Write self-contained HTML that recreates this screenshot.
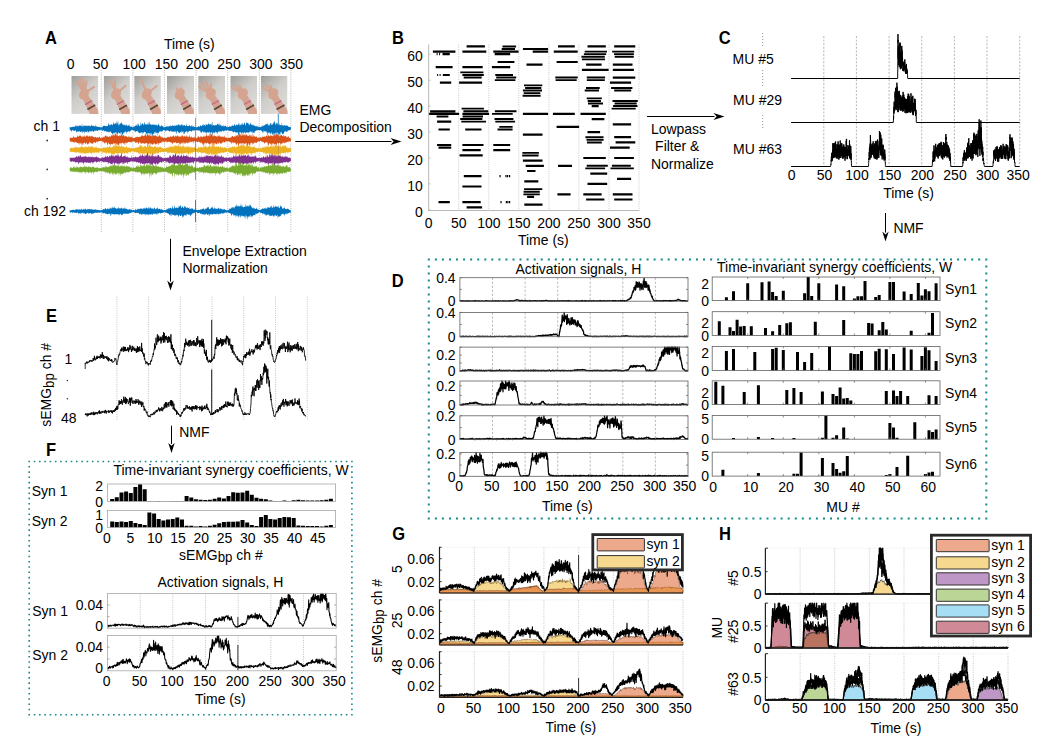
<!DOCTYPE html>
<html><head><meta charset="utf-8"><style>
html,body{margin:0;padding:0;background:#fff;overflow:hidden}
svg{display:block;font-family:"Liberation Sans", sans-serif}
</style></head><body>
<svg width="1050" height="747" viewBox="0 0 1050 747" font-family="Liberation Sans, sans-serif">
<rect width="1050" height="747" fill="#fff"/>
<text transform="translate(45 43.6) scale(0.9174 1)" font-size="17.99" font-weight="bold">A</text>
<text transform="translate(164 48.5) scale(0.9495 1)" font-size="14.72">Time (s)</text>
<text transform="translate(70.6 68.5) scale(0.9495 1)" font-size="14.72" text-anchor="middle">0</text>
<text transform="translate(100.4 68.5) scale(0.9495 1)" font-size="14.72" text-anchor="middle">50</text>
<text transform="translate(134.2 68.5) scale(0.9495 1)" font-size="14.72" text-anchor="middle">100</text>
<text transform="translate(166.3 68.5) scale(0.9495 1)" font-size="14.72" text-anchor="middle">150</text>
<text transform="translate(197.3 68.5) scale(0.9495 1)" font-size="14.72" text-anchor="middle">200</text>
<text transform="translate(229 68.5) scale(0.9495 1)" font-size="14.72" text-anchor="middle">250</text>
<text transform="translate(260.8 68.5) scale(0.9495 1)" font-size="14.72" text-anchor="middle">300</text>
<text transform="translate(291.4 68.5) scale(0.9495 1)" font-size="14.72" text-anchor="middle">350</text>
<defs><linearGradient id="pg" x1="0" y1="0" x2="0.7" y2="1"><stop offset="0" stop-color="#9f9d9a"/><stop offset="0.5" stop-color="#cfcdca"/><stop offset="1" stop-color="#dedcd9"/></linearGradient></defs>
<clipPath id="pc0"><rect x="71.3" y="76" width="27" height="37.9"/></clipPath><g clip-path="url(#pc0)">
<rect x="71.3" y="76" width="27" height="37.9" fill="url(#pg)"/>
<path d="M82.6 98.4l9.2 20 8.7-5-12.4-18.1z" fill="#d4a491"/>
<ellipse cx="84" cy="93.8" rx="6" ry="4.6" fill="#d4a491" transform="rotate(-55 84 93.8)"/>
<path d="M82.6 91.2L77.3 81.2M83.2 90.9L80 78.9M83.9 90.8L83.5 79.5M84.6 90.9L86.6 81.4M86.4 92.1L94 86.8" stroke="#d4a491" stroke-width="2.1" stroke-linecap="round" fill="none"/>
<line x1="85.1" y1="104.6" x2="92.1" y2="100.6" stroke="#c5688c" stroke-width="1.3"/>
<line x1="87.4" y1="109.5" x2="95.2" y2="105.1" stroke="#5a463e" stroke-width="1.7"/>
</g>
<clipPath id="pc1"><rect x="103.7" y="76" width="26.2" height="37.9"/></clipPath><g clip-path="url(#pc1)">
<rect x="103.7" y="76" width="26.2" height="37.9" fill="url(#pg)"/>
<path d="M114.5 98.4l8.9 19.9 8.8-4.8-12.1-18.2z" fill="#d4a491"/>
<ellipse cx="116" cy="93.8" rx="6" ry="4.6" fill="#d4a491" transform="rotate(-55 116 93.8)"/>
<path d="M114.9 91L110.8 80.8M115.7 90.8L114.5 79.4M118.3 91.9L125.5 85.8" stroke="#d4a491" stroke-width="2.1" stroke-linecap="round" fill="none"/>
<line x1="116.9" y1="104.5" x2="124" y2="100.6" stroke="#c5688c" stroke-width="1.3"/>
<line x1="119.2" y1="109.5" x2="127" y2="105.2" stroke="#5a463e" stroke-width="1.7"/>
</g>
<clipPath id="pc2"><rect x="134.2" y="76" width="26.7" height="37.9"/></clipPath><g clip-path="url(#pc2)">
<rect x="134.2" y="76" width="26.7" height="37.9" fill="url(#pg)"/>
<path d="M145.3 98.4l9.1 19.9 8.7-4.8-12.2-18.2z" fill="#d4a491"/>
<ellipse cx="146.7" cy="93.8" rx="6" ry="4.6" fill="#d4a491" transform="rotate(-55 146.7 93.8)"/>
<path d="M145.7 91L141.5 79.5M149.1 92L156.7 86" stroke="#d4a491" stroke-width="2.1" stroke-linecap="round" fill="none"/>
<line x1="147.8" y1="104.5" x2="154.8" y2="100.6" stroke="#c5688c" stroke-width="1.3"/>
<line x1="150" y1="109.5" x2="157.9" y2="105.1" stroke="#5a463e" stroke-width="1.7"/>
</g>
<clipPath id="pc3"><rect x="167" y="76" width="27" height="37.9"/></clipPath><g clip-path="url(#pc3)">
<rect x="167" y="76" width="27" height="37.9" fill="url(#pg)"/>
<path d="M178.3 98.4l9.2 20 8.7-5-12.4-18.1z" fill="#d4a491"/>
<ellipse cx="179.7" cy="93.8" rx="6" ry="4.6" fill="#d4a491" transform="rotate(-55 179.7 93.8)"/>
<path d="M178.2 91.2L176.6 88.4M180.2 90.9L180.7 88.2" stroke="#d4a491" stroke-width="2.1" stroke-linecap="round" fill="none"/>
<line x1="180.8" y1="104.6" x2="187.8" y2="100.6" stroke="#c5688c" stroke-width="1.3"/>
<line x1="183.1" y1="109.5" x2="190.9" y2="105.1" stroke="#5a463e" stroke-width="1.7"/>
</g>
<clipPath id="pc4"><rect x="198.2" y="76" width="26.8" height="37.9"/></clipPath><g clip-path="url(#pc4)">
<rect x="198.2" y="76" width="26.8" height="37.9" fill="url(#pg)"/>
<path d="M209.3 98.4l9.2 20 8.7-5-12.3-18.1z" fill="#d4a491"/>
<ellipse cx="210.8" cy="93.8" rx="6" ry="4.6" fill="#d4a491" transform="rotate(-55 210.8 93.8)"/>
<path d="M208.2 92.3L198.4 86.7M208.8 91.6L200.9 82.8M209.7 91L206.1 82.1M210.8 90.8L210.8 84.1" stroke="#d4a491" stroke-width="2.1" stroke-linecap="round" fill="none"/>
<line x1="211.8" y1="104.5" x2="218.9" y2="100.6" stroke="#c5688c" stroke-width="1.3"/>
<line x1="214.1" y1="109.5" x2="221.9" y2="105.1" stroke="#5a463e" stroke-width="1.7"/>
</g>
<clipPath id="pc5"><rect x="230.3" y="76" width="26.7" height="37.9"/></clipPath><g clip-path="url(#pc5)">
<rect x="230.3" y="76" width="26.7" height="37.9" fill="url(#pg)"/>
<path d="M241.4 98.4l9.1 19.9 8.7-4.8-12.2-18.2z" fill="#d4a491"/>
<ellipse cx="242.8" cy="93.8" rx="6" ry="4.6" fill="#d4a491" transform="rotate(-55 242.8 93.8)"/>
<path d="M240.3 92.3L231.9 87.5M240.9 91.5L235.4 85M241.8 91L239.8 85.5" stroke="#d4a491" stroke-width="2.1" stroke-linecap="round" fill="none"/>
<line x1="243.9" y1="104.5" x2="250.9" y2="100.6" stroke="#c5688c" stroke-width="1.3"/>
<line x1="246.1" y1="109.5" x2="254" y2="105.1" stroke="#5a463e" stroke-width="1.7"/>
</g>
<clipPath id="pc6"><rect x="260.8" y="76" width="26.7" height="37.9"/></clipPath><g clip-path="url(#pc6)">
<rect x="260.8" y="76" width="26.7" height="37.9" fill="url(#pg)"/>
<path d="M271.9 98.4l9.1 19.9 8.7-4.8-12.2-18.2z" fill="#d4a491"/>
<ellipse cx="273.3" cy="93.8" rx="6" ry="4.6" fill="#d4a491" transform="rotate(-55 273.3 93.8)"/>
<path d="M270.8 92.3L262.9 87.8M271.5 91.4L266.6 85.1M272.4 91L270.8 85.9" stroke="#d4a491" stroke-width="2.1" stroke-linecap="round" fill="none"/>
<line x1="274.4" y1="104.5" x2="281.4" y2="100.6" stroke="#c5688c" stroke-width="1.3"/>
<line x1="276.6" y1="109.5" x2="284.5" y2="105.1" stroke="#5a463e" stroke-width="1.7"/>
</g>
<line x1="101.3" y1="70" x2="101.3" y2="232" stroke="#9a9a9a" stroke-width="0.7" stroke-dasharray="1,1.3"/>
<line x1="132.9" y1="70" x2="132.9" y2="232" stroke="#9a9a9a" stroke-width="0.7" stroke-dasharray="1,1.3"/>
<line x1="164.5" y1="70" x2="164.5" y2="232" stroke="#9a9a9a" stroke-width="0.7" stroke-dasharray="1,1.3"/>
<line x1="196.1" y1="70" x2="196.1" y2="232" stroke="#9a9a9a" stroke-width="0.7" stroke-dasharray="1,1.3"/>
<line x1="227.7" y1="70" x2="227.7" y2="232" stroke="#9a9a9a" stroke-width="0.7" stroke-dasharray="1,1.3"/>
<line x1="259.3" y1="70" x2="259.3" y2="232" stroke="#9a9a9a" stroke-width="0.7" stroke-dasharray="1,1.3"/>
<line x1="290.9" y1="70" x2="290.9" y2="232" stroke="#9a9a9a" stroke-width="0.7" stroke-dasharray="1,1.3"/>
<path d="M69.7 127.1l.4.1.4-.1.4.2.8 0 .4-.6.4 0 .4.2.4 0 .4-.3.4-.2.3.4.4.2.4-.9.4-1.1.4 1.7.4-1.6.4 1.6.4-.3.4-.6.4-.2.4.4.4 0 .4.6.4-2 .4 1.6.4-.7.4 0 .4.4.4.4.4-3.4.4 3.5.4 0 .4.1.3-1.8.4 1.6.4-.1.4-1.4.4 1.4.4-.5.4-.1.4 0 .4.3.4.1.4-.8.4 1.2.4-1.4.4.9.4.5.4-1.4.4 1 .4.3.4-.1.4-.2.4-1.8.4 1.1.4 1 .4-.5.3.3.4-.3.4 0 .4 1 .4-.5.4-.7.4-.6.4 1.8.4-.1.4-.4.4.3.4-.1.4.3.4.2.4-.1.4.2.4-.7.4 1 .4-.5.4.5.4-.1.4.3.4-.4.3.1.4-.5.4-.4.4-.8.4.4.4-.5.4.3.4.3.4-.1.4.6.4-1.1.4.8.4-.1.4-.5.4.4.4-.5.4-2 .4-.6.4 2.7.4-1.2.4 1.2.4-2.3.4 2.2.3-1.5.4.6.4-.6.4 1 .4.5.4-2.1.4-1.7.4 1.6.4.3.4 1 .4-1.9.4.4.4.9.4-3.9.4 4.9.4-2.7.4 1.7.4-4.2.4 4.3.4 1.2.4.1.4-1.9.4.3.4-.7.3.3.4-.9.4-.2.4 1 .4.6.4 1 .4-1.2.4 1.8.4-.9.4-.2.4.9.4-.8.4 1.2.4-.2.4-.4.4-1.1.4 1.9.4.3.4-1.4.4 1 .4-1 .4-1 .4 2.4.3-.1.4.2.4 0 .4.6.4-.9.4 1 .4-.3.4.6.4.2.4-1.8.4 1.5.4-.3.4-1 .4.3.4-.3.4-1.1.4.6.4.2.4-2.2.4.8.4 2.1.4-2 .4-1.7.3 2.8.4.5.4 0 .4-.2.4-1.1.4-3 .4 2.9.4.8.4-2.2.4 1 .4-1.6.4 3 .4-1.2.4-1.1.4-1.9.4 3.4.4-.5.4-.1.4.6.4-.4.4-.4.4.7.4-1.8.3 1.7.4.7.4-3.3.4-.4.4 1.9.4 1.5.4-.6.4-.9.4 1.5.4-.6.4.5.4-.3.4 0 .4-.7.4 1.1.4.2.4-.2.4-1 .4 1.6.4-.9.4-.1.4.9.4-1 .4.4.3.5.4.3.4-1.6.4-.7.4 2.7.4.2.4-1.8.4 1.9.4-.1.4.2.4-1.9.4 1.2.4.7.4-.4.4 0 .4 1.1.4.2.4-.8.4.8.4-.3.4.1.4-1 .4.4.3.1.4-.8.4 1.2.4-1 .4.9.4-.5.4-.9.4.1.4.7.4-1.7.4 1.8.4-.2.4-.2.4-.2.4.2.4-1.5.4 1.7.4-.3.4-.5.4.8.4-1 .4.1.4.3.3-.2.4.5.4-1.1.4-.1.4 0 .4 1.4.4-1.7.4-.4.4 1.2.4-1.3.4 2.1.4-1.1.4.3.4.4.4-1.6.4 1.2.4-2 .4 2.3.4.5.4-1.3.4 1.3.4-1.1.4.2.4-.2.3 1 .4.1.4-.1.4-2.8.4 2.4.4.3.4.4.4-.5.4.4.4-.1.4-.4.4-1.1.4 1.2.4.6.4.1.4-1.5.4.8.4 1.1.4.1.4-2.1.4 1.3.4.4.4-.4.3.7.4.1.4 0 .4.5.4-1 .4.9.4-.3.4.3.4-.7.4.2.4-.4.4-.5.4.2.4.5.4.1.4-1.4.4-.1.4.6.4.4.4-.5.4-.2.4-1 .4.2.3 1.1.4-2.4.4 1.8.4-.6.4 1.2.4.1.4-2 .4.3.4.8.4-1.7.4 1.8.4-.1.4-.7.4-1.8.4 1.5.4.4.4.1.4-.7.4.1.4 1.6.4-.3.4-2.4.4-1.5.4 4 .3.2.4-.4.4-.5.4.7.4.2.4.1.4-.7.4-.1.4.4.4 0 .4-.5.4-1.1.4.4.4-.8.4 2.2.4-1.2.4 1.8.4-2.5.4.5.4 1.6.4-1.3.4 1 .4 1 .3-.5.4-.2.4.4.4.6.4-2.5.4 2.5.4-1.2.4 1 .4-.4.4-.7.4.5.4 1.4.4-.5.4-.9.4 1.7.4-.6.8 0 .4-.5.4-.8.4 1.3.4-.1.4-.9.3.6.4 0 .4-1.7.4 1.3.4-1.7.4 1.8.4-.6.4-.2.4-1.7.4.8.4 1 .4.5.4-1.8.4 1 .4-.6.4-.5.4 1.4.4-.8.4-.1.4-1.4.4-.6.4 2.8.4-.2.3-1.5.4 1.8.4-.6.4.2.4-2.1.4-.7.4 2.8.4-1.6.4 1.1.4.4.4-3 .4 1.5.4-.7.4 2.7.4-.4.4-2.5.4-.8.4 1.7.4-.5.4-.3.4.6.4 1.5.4-2.7.4 3.2.3-.3.4-.5.4-1.8.4.7.4.9.4.9.4-1.6.4 2.1.4-.7.4.6.4-1.4.4 1.9.4-.6.4-.4.4 1 .4.2.4-1 .4.6.4.9.4-.3.4.2.4-1.3.4 1.8.3-.3.4.5.4-1.1.4.8.4.1.4-.8.4.6.4-1.1.4.8.4 0 .4-2 .4 1.5.4-1.2.4 1.2.4-1.3.4-.1.4.3.4-1.2.4-.1.4.9.4-1.3.4.7.4-.9.3 1.2.4.3.4.9.4-.2.4.1.4-1.7.4-.9.4.9.4-1.1.4 2.3.4.1.4-1 .4.2.4-.7.4-1.1.4.2.4-1.4.4-1 .4 4.4.4.3.4-3 .4 1.1.4-.1.4 2.3.3-2.4.4-.1.4 2.6.4-1.2.4 1 .4-2.4.4 2.6.4-.6.4 0 .4.5.4.2.4-3.2.4 2.4.4.9.4-.2.4.2.4-.4.4-.2.4.3.4.2.4.4.4-.7.4-.1.3.4.4.2.4-.1.4.1.4.3.4.8.4-.2.4.4.4.2.4-.7.4.6.4.1 0 2.3-.4.2-.4 0-.4.3-.4.3-.4-.1-.4.5-.4-.5-.4.5-.4 1.1-.4-.3-.4.1-.3.4-.4-.9-.4-.4-.4 2-.4-1.2-.4-.3-.4 3.4-.4-1.8-.4 1.2-.4-.4-.4 1-.4-2.2-.4-.1-.4-.8-.4.9-.4 2.4-.4-.7-.4-1-.4 5.6-.4-4.1-.4-1.2-.4-1.5-.4.7-.3 3.9-.4-.3-.4-4.4-.4.9-.4 0-.4 3-.4-1.4-.4-1.4-.4 1.3-.4-2-.4 2.8-.4-1.8-.4 2.2-.4-1.6-.4-1.9-.4 1-.4 1.9-.4-1.3-.4-1.6-.4 2-.4-2.3-.4 1.7-.4-1.6-.4 4-.3-1.4-.4-2.4-.4 1-.4-1.7-.4-.1-.4.6-.4-.9-.4-.1-.4 1.2-.4-1-.4-.4-.4 2.9-.4-1.7-.4 1.1-.4-2.3-.4.7-.4-.9-.4-.3-.4.6-.4-.9-.4.9-.4-.7-.4.2-.3-.3-.4 0-.4.4-.4.2-.4-.1-.4.2-.4-.3-.4 1-.4-.5-.4 1-.4 1.9-.4-2.4-.4 1.1-.4 1-.4-.7-.4-1.6-.4 3.2-.4-2.4-.4-.3-.4.7-.4-1-.4 0-.4 1.1-.3-.8-.4 1.4-.4-1.3-.4 2-.4-1.7-.4.6-.4.1-.4-.1-.4-.3-.4 1-.4.2-.4-1.7-.4.2-.4 1-.4.1-.4-.6-.4 3.8-.4-4.6-.4.6-.4 1.8-.4-.7-.4-1.5-.4 1-.4-1.1-.3.4-.4-.2-.4 3.8-.4-1.3-.4.4-.4-2.7-.4.3-.4-.5-.4.6-.4 0-.4.4-.4-.6-.4-.8-.4-.1-.4.6-.4-.1-.4.4-.4-.4-.4-.4-.4-.3-.4.3-.4-1-.4.3-.3-.2-.4.6-.4-.9-.4.7-.4.1-.4-.6-.4.2-.4-.8-.4-.2-.4.5-.4.7-.4-.4-.4 0-.4-.1-.4-.2-.4.3-.4.8-.4-1-.4 1.8-.4-1.4-.4-.3-.4.4-.4.1-.3.1-.4.8-.4.8-.4-1.6-.4.1-.4 1.4-.4-1.6-.4.2-.4.7-.4-.3-.4 2.9-.4-1.9-.4-.4-.4-.5-.4 1.9-.4-2.3-.4.6-.4.9-.4-.6-.4 1.9-.4-1.3-.4-.4-.4-.7-.3 4.2-.4-2.8-.4.1-.4-1.6-.4 1.2-.4-.9-.4 4.1-.4-3.9-.4-.1-.4.8-.4-.4-.4.1-.4-.6-.4.7-.4 0-.4-.1-.4 1.5-.4-2.6-.4 2-.4-2.1-.4 1-.4.4-.4-1.3-.4 1.7-.3-1.4-.4-.6-.4.3-.4.7-.4.4-.4.7-.4-.7-.4-1.7-.4.2-.4-.4-.4-.1-.4.5-.4-.9-.4 0-.4.7-.4-.6-.4-.2-.4.1-.4.3-.4-.1-.4.1-.4.2-.4-.3-.3.8-.4-.9-.4.3-.4 0-.4-.1-.4.4-.4.6-.4.5-.4-.8-.4-.4-.4.4-.4-.1-.4-.1-.4 1.4-.4-1-.4 1-.4-1.4-.4 3.1-.4-2.7-.4-.1-.4.3-.4.2-.4.5-.3-.2-.4 2-.4-.2-.4.2-.4-2.4-.4-.4-.4 1.4-.4-1.3-.4-.3-.4 2-.4-1.3-.4.2-.4.8-.4.8-.4-1.1-.4-.7-.4 1.6-.4-1.1-.4-1.1-.4.1-.4-.1-.4 2.6-.4-.2-.4-2.1-.3.1-.4-.4-.4.3-.4.7-.4-.2-.4-1-.4 1.4-.4-1.4-.4 1.3-.4-1.3-.4.7-.4-.1-.4-.6-.4-.3-.4 1.6-.4-1.2-.4.4-.4-.9-.4.2-.4-.2-.4-.5-.4 1.2-.4-1-.3.3-.4-.1-.4 1.6-.4-1.4-.4-.1-.4-.7-.4.5-.4-.3-.4 0-.4 2.2-.4-2-.4 1.4-.4.3-.4-1.2-.4 0-.4 1.4-.4-.7-.4.4-.4-.4-.4 1.5-.4-.1-.4 2.1-.4-2.6-.3.4-.4-.2-.4.8-.4.2-.4-.7-.4-1.2-.4.7-.4-.4-.4 3.2-.4-1.7-.4.4-.4.1-.4 2.8-.4-.5-.4-2.4-.4-.9-.4-.5-.4 2.7-.4-.2-.4-1.8-.4.1-.4.5-.4-.5-.4-.1-.3-.1-.4.4-.4.8-.4-1.1-.4 2-.4-3.2-.4.2-.4-.1-.4-.2-.4.2-.4.6-.4.6-.4-1.5-.4 3.3-.4-3.1-.4.1-.4.8-.4 1.2-.4-1.9-.4.5-.4.6-.4-.1-.4-.2-.3-.4-.4-.8-.4.1-.4-1.1-.4.4-.4-.1-.4.6-.4 1-.4-1.5-.4 1.1-.4-1.3-.4-.9-.4.9-.4-.7-.4 0-.4-.6-.4.7-.4-.3-.4 0-.4.7-.4.1-.4.2-.4 2-.3-1.2-.4-1-.4.2-.4.5-.4.9-.4-.6-.4-.2-.4 2.9-.4-2.8-.4-.3-.4.2-.4.4-.4 1.6-.4-2.3-.4.9-.4 2.1-.4-1.9-.4 3.5-.4-1.4-.4-.8-.4-1.2-.4.1-.4-.9-.3 3-.4-1.5-.4.2-.4-.2-.4-1.4-.4 1.5-.4-.5-.4 1.5-.4 1.1-.4-3.3-.4.4-.4 2.8-.4-3.3-.4.1-.4 1.6-.4-.6-.4-.9-.4 1.4-.4-.5-.4.9-.4.3-.4-.8-.4-.6-.4-.4-.3-.5-.4-.4-.4-.3-.4.6-.4.3-.4.5-.4-1.4-.4.9-.4-.2-.4-.6-.4 0-.4.7-.4-.6-.4-.4-.4.2-.4-.7-.4 1-.4-.4-.4-.6-.4-.5-.4.6-.4.3-.4-.4-.3-.9-.4-.1-.4.8-.4-.6-.4 0-.4.5-.4-.1-.4.1-.4-.2-.4.4-.4.4-.4.2-.4-.6-.4.2-.4-.1-.4-.1-.4.3-.4.7-.4-1.1-.4.1-.4 1.7-.4-.8-.4.1-.3-.9-.4.7-.4-.5-.4 1.4-.4-1.6-.4 1-.4-.1-.4 0-.4-.8-.4 1-.4.2-.4 1.1-.4-2.2-.4.1-.4 1.8-.4-1-.4.6-.4-.8-.4.5-.4-.6-.4-.1-.4 2.5-.4-2-.4.4-.3-1.2-.4 2.8-.4-2.6-.4.6-.4-.8-.4 1.3-.4-.5-.4.3-.4-.6-.4-.6-.4.8-.4-.5-.4.8-.4-.8-.4.7-.4-.8-.4.6-.4 1.2-.4-2-.4-.6-.4 0-.4.7-.4-.4-.3.2-.4-.1-.4 0-.4-.5-.4-.3-.4.4-.4 1.9-.4-1.7-.4-.1-.4-.2-.4-.5-.4.2z" fill="#0072bd"/>
<path d="M69.7 138.6l.4-1 .4 0 .4.4.4.1.4-.3.4-.1.4.4.4-.7.4-1.1.4.1.4 1.4.3-.6.4.5.4-.3.4-.2.4-.4.4.6.4 0 .4-.6.4-1.4.4.2.4 1.4.4-.4.4-1.7.4 1.4.4-.5.4-.1.4-.4.4 2 .4-1.2.4.9.4-.8.4.5.4-.5.3.6.4-.4.4-2 .4 2.5.4-.9.4.7.4.2.4-1.3.4-.2.4.9.4-.3.4-1.2.4 2.3.4-.6.4-.2.4-.9.4.8.4.3.4.3.4-.7.4-.4.4.9.4.1.4-1.4.3 1.8.4.2.4-.6.4.4.4.5.4-.3.4-.5.4.3.4.6.4-.3.4 0 .4-.5.4.6.4.4.4-.3.4-.5.4-.3.4.3.4.6.4.4.4.3.4-.5.4-.3.3-.2.4.4.4-.8.4-.4.4 1.1.4-1.1.4 1 .4-1.5.4-.7.4.1.4 1.3.4-.2.4-1.3.4 1.5.4-.5.4.5.4.4.4-.4.4-.8.4.4.4.1.4.3.4-.3.3-1.7.4 1.2.4-1.2.4 1.6.4-2.1.4.1.4 1.4.4-2.9.4 2.6.4.3.4-1.8.4.2.4-2.3.4 3.2.4.3.4.1.4-.4.4 1 .4-.1.4.3.4-1.6.4 1.9.4-1.6.4.9.3.2.4-3.1.4 1.3.4 1.1.4.4.4.1.4-1.2.4.1.4.9.4-.3.4 1.5.4-.8.4 0 .4.4.4-.8.4.9.4.7.4-.2.4 0 .4-1.9.4 2.4.4-.1.4-.9.3-.2.4.9.4 0 .4-1 .4 1.3.4-.8.4 0 .4 1.1.4.4.4-.2.4-.2.4-.1.4.2.4-.1.4-1.4.4 1.2.4-.7.4.6.4-1.3.4.6.4-.4.4.6.4-.1.3.2.4-.5.4.3.4-.5.4 0 .4.6.4-1 .4-1.2.4.6.4.2.4-.1.4.9.4-.7.4.5.4-.6.4-.9.4.4.4-2.7.4 4.1.4-2.1.4 2.1.4-2.8.4-.4.3.4.4 1.9.4-.1.4-1.6.4 2 .4-1.2.4 1 .4.3.4-1.2.4 1.5.4-.3.4.4.4-.9.4-.5.4.3.4.6.4-1 .4 1.3.4-2.1.4 1.2.4.8.4-.2.4.4.4.6.3.1.4-3.1.4 3.1.4-1.1.4.6.4-2.3.4 1.5.4.8.4.2.4-.8.4 1.8.4-.9.4.9.4-1.4.4 1.7.4-.2.4.2.4.2.4-.6.4.2.4-.6.4.9.4-.1.3-.2.4-.6.4-.8.4 1.1.4-.3.4-.3.4.1.4-.4.4.7.4-.5.4-1.5.4 1.3.4.2.4-.1.4-.8.4 1 .4-1.3.4-.3.4.4.4.9.4.6.4-1.6.4-.1.3 1.2.4-1.2.4.8.4.2.4-2.1.4 1.7.4-.4.4.4.4.7.4.2.4-.6.4.3.4-1.4.4 1.5.4-.2.4-1.5.4.4.4.5.4-1.1.4 1.7.4.1.4-1 .4-.3.4 1.4.3-.5.4.5.4-1.7.4.4.4 1.1.4-1.3.4 1.8.4-.2.4.3.4-1.1.4.9.4-2.5.4 1.6.4 1.2.4 0 .4.2.4-1.6.4.8.4.7.4.5.4-1.4.4.9.4.6.3-1.9.4 1.5.4 0 .4.7.4.1.4-.5.4.3.4-.6.4.4.4-2.2.4 1 .4-1.4.4 2.3.4-.8.4.1.4.4.4-2.1.4 1.1.4 0 .4-.1.4 1 .4-.5.4-1.3.3.9.4.2.4-1.4.4 1.6.4.1.4-1.1.4.3.4-.2.4-3.2.4 2.5.4.7.4.5.4-1.4.4 1 .4.1.4-3.6.4 3.8.4-.5.4-1.9.4-.4.4.7.4.5.4-1.8.4 2.8.3.9.4-1.6.4 1.5.4-.2.4-2.1.4 1.8.4 0 .4.2.4-.2.4.6.4-.3.4.5.4-1.1.4-.7.4 1.1.4 0 .4-1.6.4 2.5.4-1.3.4 1 .4-.2.4-.2.4.9.3-.1.4-.4.4-.7.4.9.4.6.4-1.5.4-.6.4 2 .4 0 .4.2.4-.6.4.9.4-.8.4 1 .4.1.4-.1.4-.4.4 0 .4.2.4-.7.4.7.4-.3.4-.7.3.7.4-.6.4-1.3.4.5.4-.5.4.8.4.6.4-.5.4.1.4-1.1.4 1.2.4-2.2.4 2.2.4-2.3.4 2 .4-1.8.4-.2.4 1.9.4.1.4-2.9.4 1.6.4-2.6.4 1.2.3-.7.4 2.1.4.3.4.6.4-2.4.4.2.4 1.5.4-.4.4.8.4-2.3.4 2.2.4-1.1.4-1.4.4 2.4.4-.6.4-.5.4-.5.4 1.6.4-.4.4.5.4.2.4.1.4-1.2.4-1 .3 1.3.4 1.3.4-.5.4-2.1.4 3.1.4-1.6.4-1.9.4 2.6.4.9.4 0 .4-3 .4 2.5.4-1.1.4 1.3.4.1.4.1.4-.8.4.8.4-.3.4 1.2.4.3.4-.5.4-.5.3 1.3.4-.5.4-.3.4 0 .4.3.4-1.5.4 1.6.4-1 .4.6.4-1 .4 0 .4.2.4.3.4-.3.4.2.4-1.2.4 1.2.4-.3.4-1.3.4 0 .4.5.4.6.4.1.3-2.9.4 1.5.4.2.4.8.4 0 .4-.8.4 0 .4-.2.4 1.1.4-1.6.4 1.3.4.3.4-.7.4.8.4-1.4.4-.9.4-.3.4 1.2.4 1.2.4-2.3.4 1.4.4-1.2.4.4.4.4.3-1.3.4 1.5.4.6.4-.8.4-.3.4 1.7.4.3.4-.8.4-.7.4.1.4.1.4-.5.4 1.5.4-.3.4-.7.4-.3.4 1.3.4.7.4-1.7.4 1.3.4-.6.4 0 .4.1.3 1.4.4-.1.4-.9.4.9.4-.6.4-1.2.4 2.1.4-.1.4.6.4-.3.4.2.4.4 0 3-.4.2-.4-.7-.4.6-.4-.1-.4-.2-.4.5-.4.5-.4-.9-.4.9-.4-.5-.4 1.3-.3-1.2-.4.7-.4-.2-.4.9-.4-.9-.4 1-.4-1-.4.3-.4-.1-.4.1-.4 1.3-.4-.7-.4.7-.4-.4-.4 1.8-.4-2.1-.4-.4-.4 0-.4-.3-.4 2.5-.4-2.1-.4.1-.4.2-.3-.2-.4 1.5-.4 1.8-.4-2.6-.4.3-.8 0-.4 1.4-.4-2.2-.4.4-.4-.3-.4-.3-.4 1.4-.4 2.9-.4-4.2-.4 1.7-.4-1-.4-.4-.4-.3-.4.4-.4-.6-.4 2-.4.4-.4-.2-.3-2.3-.4-.7-.4.3-.4-.3-.4.1-.4 1-.4-1-.4.2-.4 2-.4-1.9-.4-.5-.4.3-.4-.7-.4-.2-.4.4-.4-.5-.4-.2-.4-.1-.4-.1-.4 0-.4.7-.4-.3-.4-.2-.3-.1-.4.8-.4.2-.4-.5-.4 1.2-.4.2-.4-.1-.4-.1-.4-.6-.4.7-.4-1.1-.4 1.9-.4-.6-.4.7-.4-.4-.4 2.1-.4-3.2-.4 1-.4-.9-.4 1.2-.4-.8-.4 3.8-.4-1.9-.3-.1-.4.9-.4-2.9-.4 1.4-.4 2.7-.4.6-.4-1.3-.4-3.2-.4.6-.4-.4-.4.8-.4-.1-.4-.3-.4 1.2-.4-1.6-.4.2-.4 3.8-.4-4.1-.4 0-.4.1-.4 1.3-.4.6-.4-1.9-.4.3-.3.4-.4-.5-.4.5-.4 3.4-.4-1.1-.4-2.8-.4 0-.4.4-.4.4-.4 1.3-.4-.9-.4-1.9-.4.4-.4-.2-.4-.4-.4 1.6-.4-1.3-.4-.6-.4 1.2-.4-1.2-.4-.2-.4 2.2-.4-.4-.3-1.2-.4-.2-.4-1-.4 1.3-.4-.9-.4-.5-.4.7-.4-.6-.4-.2-.4.7-.4-.7-.4.4-.4.4-.4-.5-.4.7-.4.5-.4.3-.4-1-.4-.3-.4.9-.4.4-.4-.7-.4 1.2-.3-.6-.4.7-.4.8-.4-1.2-.4 1-.4-1.3-.4-.5-.4 1.2-.4.9-.4-1.9-.4-.1-.4 1.4-.4 1.1-.4-.9-.4-.2-.4-.1-.4-.2-.4-.7-.4 1.1-.4 2.2-.4-1.1-.4-1.4-.4-.9-.3 1.7-.4 1.9-.4-2.7-.4-1-.4 1.3-.4-.7-.4 2-.4-1.2-.4.2-.4.5-.4-.5-.4-1.1-.4-.1-.4-.4-.4.5-.4 1.4-.4-2-.4.5-.4-.6-.4 3.4-.4-3.1-.4.6-.4 1-.4 3.2-.3-3.7-.4 1-.4-1.3-.4-1.4-.4.2-.4 1.9-.4-1.5-.4.5-.4-1.4-.4.2-.4.8-.4-1.5-.4.8-.4.1-.4-.4-.4.9-.4-1.8-.4.9-.4.2-.4-.4-.4-.3-.4.2-.4-.2-.3 0-.4.4-.4 2.7-.4-2.9-.4.1-.4-.1-.4.5-.4.2-.4.6-.4-1.2-.4.1-.4.2-.4.9-.4.7-.4-1-.4-.4-.4 1.6-.4-.4-.4-.2-.4-1.1-.4 1.3-.4 1-.4-2.1-.3 2.2-.4-2-.4 1.3-.4.1-.4-1.6-.4.4-.4 0-.4 2-.4-.9-.4-1.2-.4.6-.4 1.9-.4-1.3-.4-1.2-.4 3.4-.4-3-.4 0-.4.2-.4.4-.4-1.2-.4 1.4-.4-.7-.4.3-.4-1.2-.3.6-.4-.1-.4 0-.4.5-.4-.9-.4.3-.4 2.1-.4-2.2-.4 2.6-.4-2.2-.4.3-.4-1.3-.4.6-.4.2-.4-.8-.4.4-.4-.2-.4-.3-.4.3-.4.5-.4-.1-.4-1-.4 1.5-.3-1.3-.4-.5-.4.5-.4.5-.4.9-.4-1.3-.4-.5-.4.9-.4 0-.4-.9-.4 1.6-.4-1.1-.4.9-.4 0-.4.6-.4-.2-.4.1-.4.2-.4.2-.4-.5-.4 2.4-.4-.6-.4-1.8-.3-.4-.4 1.7-.4-.4-.4.3-.4 1.1-.4-1.3-.4-.4-.4 0-.4-1.1-.4 2.2-.4-.9-.4.7-.4.5-.4-.8-.4.6-.4-1.8-.4 2.5-.4-1.8-.4-.9-.4.3-.4 2-.4-1.3-.4.3-.4 1.5-.3 2.7-.4-5.2-.4.1-.4.1-.4-.2-.4-.2-.4 1.4-.4-.9-.4.8-.4-.5-.4-.5-.4.5-.4-.1-.4-.2-.4-.4-.4.8-.4-.2-.4.8-.4-1.5-.4-.5-.4-.1-.4-.2-.4 2.3-.3-1.2-.4 1-.4-2-.4.2-.4-.6-.4 1.3-.4-.5-.4.2-.4.7-.4-2.2-.4.7-.4-.4-.4-.3-.4.6-.4-1-.4.8-.4.3-.4-.5-.4 1.3-.4-.4-.4-.4-.4.5-.4-.4-.3 0-.4.3-.4-.6-.4.3-.4.3-.4.6-.4-.2-.4.7-.4-1.5-.4 3-.4-2.6-.4.4-.4 3.1-.4-3.4-.4.4-.4.9-.4 0-.4-1.2-.4.5-.4-.3-.4.4-.4 2.1-.4-2.1-.3.6-.4-1.1-.4 1.6-.4-1.3-.4 2.7-.4-.5-.4-.4-.4-1.5-.4 2.5-.4-.8-.4-1.1-.4-.5-.4-.2-.4 2.9-.4-3-.4 1.2-.4-.9-.4-.6-.4 1.2-.4.6-.4-.6-.4.4-.4-.5-.4.4-.3-.7-.4 2.8-.4-2.3-.4.5-.4-.7-.4.2-.4-1.7-.4 1.1-.4 1.7-.4.1-.4-3.1-.4 1.2-.4-1.2-.4 2.4-.4-2.9-.4 1.2-.4.4-.4.2-.4-.8-.4-1.2-.4.1-.4 1.3-.4-1.7-.3-.3-.4.3-.4-.3-.4.3-.8 0-.4.2-.4.1-.4.1-.4-.2-.4-.1-.4 1.4-.4-.1-.4-1-.4 0-.4 1-.4.8-.4-.4-.4-1.2-.4 1.1-.4-1-.4 1-.4 1.5-.3-.6-.4-.2-.4-.6-.4.6-.4.3-.4-1.5-.4.8-.4.8-.4-1.8-.4-.1-.4 2.4-.4-1.1-.4 1.4-.4-.4-.4-.3-.4-1.5-.4.3-.4 1-.4.6-.4-1.5-.4.6-.4-1.4-.4 1.1-.4-.4-.3 2.4-.4-2.7-.4 3.1-.4-1.2-.4-1.8-.4 3.2-.4-3.6-.4 2.1-.4-1.2-.4-.3-.4 2.5-.4-2.6-.4 1.6-.4-1.9-.4.9-.4-.3-.4-.5-.4.2-.4-.9-.4.9-.4-1-.4 1-.4-1.2-.3 1.5-.4-1.5-.4 1.5-.4-1.7-.4.6-.4.1-.4.1-.4-.5-.4-.6-.4.4-.4.4-.4-.8z" fill="#d95319"/>
<path d="M69.7 149l.4-.8.4.1.4 0 .4-.8.4.2.4.4.4-.6.4.9.4-.8.4.8.4-.5.3-1.4.4 1.7.4-1.8.4 0 .4.9.4-.2.4 1 .4-.7.4-.1.4.4.4-.3.4.5.4-.7.4 0 .4.4.4-.6.4-.1.4-1.1.4 1 .4.2.4.1.4-1.1.4 1.6.3-.1.4 0 .4-.4.4.6.4-2.3.4 1.8.4-.2.4-.5.4 1.1.4-.6.4 0 .4.3.4-2 .4 2.1.4-1.3.4 1.3.4-1 .4.3.4.5.4-.8.4-.4.4.7.4-.1.4.1.3-1.3.4 2.5.4.2.4-.6.4-.3.4-.6.4.7.4.6.4 0 .4-1 .4-.3.4.9.4.8.4.2.4-.5.4-.4.4.9.4-.2.4-.3.4 0 .4.8.4-.3.4-.1.3 0 .4-.3.4-.1.4-.9.4.7.4.2.4-.2.4-1 .4.2.4.7.4.2.4-.1.4-.6.4-.9.4.4.4 1.1.4-.9.4.6.4-2.6.4 2 .4.6.4-.8.4.5.3.2.4.1.4-1.5.4 1.5.4-.4.4-.4.4-2.4.4 2.6.4-.3.4-3.4.4 2.1.4 1.1.4-1.1.4 1 .4-2.1.4 1.8.4.2.4-.2.4-.9.4 1.6.4.4.4-3.7.4 3.1.4.1.3.7.4-2.3.4 1.2.4-1.1.4 2.3.4-.7.4-.9.4 1 .4 0 .4.6.4-.2.4.2.4-.1.4-.3.4.2.4-1.8.4 1.1.4 1.2.4.3.4-1.1.4 1 .4-.7.4.7.3.3.4-.5.4.5.4-.6.4.9.4-.7.4.2.4.9.4-.2.4-.5.4-.9.4 1.3.4-.3.4 0 .4-1.2.4 1 .4-.1.4-.7.4.2.4-.3.4-.4.4.3.4-.1.3.9.4-.9.4-2.3.4.8.4-.6.4 1.2.4-1.6.4 2.3.4-1.4.4 2.1.4-.6.4.2.4.2.4-1.8.4.6.4 1.1.4-1.3.4-.3.4 1.4.4-.1.4 0 .4-.7.4-2.4.3 3.2.4-.8.4-1.7.4.7.4-.4.4.6.4 1.2.4.1.4-.2.4-.1.4-.3.4.8.4.3.4 0 .4.2.4-.4.4-.5.4-.9.4 1.2.4-.3.4.6.4.5.4-.5.4-1.8.3 2.2.4.3.4-1 .4.8.4-.3.4-1.1.4 1.6.4-.2.4-1.4.4.8.4.5.4 0 .4.5.4.4.4.2.4-.1.4-.2.4-.9.4 1.2.4.1.4-.4.4-1 .4 1.1.3-.5.4-.1.4-.7.4 1.2.4-2 .4 1.7.4-.8.4.2.4-1.3.4 1.6.4-2.2.4.6.4.9.4-.3.4.8.4-1.5.4.2.4 1.2.4-1.8.4 1.4.4-2 .4 1.4.4-.4.3-1.2.4 1.5.4 0 .4-.2.4-.1.4-.5.4.4.4-2.6.4 3.3.4-.6.4.9.4.3.4-2 .4.5.4.3.4 1.2.4-.2.4-.4.4-1.3.4-1.2.4 2.8.4-1.1.4 1.4.4.3.3 0 .4-1.8.4 1.9.4-.6.4-.6.4.5.4-.7.4.1.4 1.4.4-2.3.4 1.9.4-1.4.4 1.8.4-.7.4.9.4-.4.4-1.6.4 1.9.4-1.1.4 1.1.4.4.4-1.7.4 1.9.3-1.9.4.5.4.8.4.5.4.2.4.3.4 0 .4-.4.4.1.4-.5.4-.2.4-1.5.4 1.2.4.3.4-.5.4-.4.4.4.4-.1.4-.1.4.2.4.1.4.4.4-2.7.3 2.2.4.2.4-.3.4-1.6.4 1.6.4-1.7.4.2.4 1.7.4-1 .4 1.1.4 0 .4-1 .4.5.4-.5.4-.5.4-2.4.4 2.3.4 1.3.4-1.6.4 1.8.4-.7.4-1.9.4-1.5.4 1.6.3 2.2.4-2.6.4-3.5.4 5.9.4-1.1.4.1.4 1.2.4.2.4-1.3.4 1.2.4-.8.4 0 .4.7.4-.6.4.1.4-.8.4 1.6.4.2.4-.3.4-1.5.4 1.4.4.3.4.3.3-1.6.4 1.2.4.3.4-.1.4.3.4-.2.4-1.2.4 1.6.4-.5.4 0 .4.1.4.8.4-1.1.4 1.4.4-.1.4.1.4-.7.4-.1.4-1.3.4 1.4.4 0 .4-1.8.4 1.6.3-.4.4.3.4-1.2.4 0 .4.1.4.9.4-1.3.4 1.1.4-1.8.4 1 .4.6.4.3.4-.3.4-.3.4-.4.4.7.4-.7.4-.4.4-.7.4.4.4.3.4.1.4.1.3-.7.4-.1.4.2.4-.9.4-.1.4 1.2.4-.3.4-.1.4-2.3.4 3.3.4-1.5.4.8.4 1.1.4.2.4-1.6.4-2 .4 2.5.4-.5.4-.9.4.9.4.3.4.3.4.2.4.3.3 0 .4-1 .4 1.5.4-.2.4-.7.4 1.4.4-.1.4-.1.4-.8.4.2.4.3.4-1.9.4 2 .4 0 .4.7.4-.1.4-.6.4 1 .4 0 .4-.2.4.2.4.4.4-1.3.3 1.2.4.3.4-.3.4.3.4-.5.4-1.1.4.8.4.2.4-.4.4-.6.4.8.4-1.3.4.4.4.9.4-.2.4-2.1.4 1.2.4.7.4-1.7.4.7.4.4.4.3.4-1.8.3 0 .4 1.5.4-.2.4 0 .4.1.4-.4.4.5.4-2.6.4 2.7.4-.6.4.1.4.1.4.1.4-1.9.4 2 .4-1.5.4 1.4.4-.1.4-2.7.4 1.6.4-2.1.4 3.4.4-2.3.4 1 .3.6.4-.4.4.1.4 1 .4-1.8.4 1.8.4-1.3.4-.7.4.9.4 1.5.4-.2.4-.6.4-.1.4-1.1.4-.5.4 1.7.4.1.4-2 .4 2.1.4-.6.4 0 .4-1.3.4 1.4.3 1.3.4.5.4-1.4.4 1.6.4-.1.4-.4.4.6.4-1.4.4 1.8.4-.3.4-1.1.4.8 0 3.7-.4-.1-.4.4-.4.2-.4 0-.4.1-.4.3-.4-.8-.4 2.1-.4-1.8-.4-.3-.4.3-.3.2-.4 0-.4 1.4-.4.7-.4-2.2-.4.2-.4 1.1-.4-.9-.4.7-.4-.6-.4.3-.4-.3-.4.2-.4.1-.4 3.6-.4-3.2-.4 0-.4 1.1-.4-1.7-.4 3.2-.4-.5-.4-2.2-.4 1.8-.3-.3-.4.9-.4-1.5-.4-1.4-.4 4.6-.4-2.2-.4 3.3-.4-4.8-.4 2.5-.4-3.2-.4 1.4-.4-1.2-.4 3-.4-1.5-.4-1.4-.4.4-.4-1-.4 1.4-.4-1.3-.4.8-.4.4-.4-1.1-.4.8-.4-.9-.3.3-.4.6-.4 4.3-.4-5.1-.4-.3-.4 1.4-.4.3-.4-.4-.4-1.7-.4-.1-.4.8-.4 1-.4-1.8-.4-.1-.4-.2-.4.6-.4-.4-.4.3-.4-.8-.4.4-.4 0-.4-.3-.4-.4-.3.2-.4.4-.4.3-.4.5-.4-.4-.4-.6-.4.6-.4 0-.4 1.4-.4.6-.4-2.2-.4 1.1-.4-.1-.4-.3-.4.5-.4.4-.4-.7-.4.2-.4 2.9-.4-.7-.4-2.9-.4 1.8-.4-1.5-.3.4-.4-.5-.4.2-.4 1.7-.4-.4-.4-.6-.4.6-.4.2-.4-.2-.4-1.4-.4.8-.4-.3-.4.3-.4 1.7-.4-2.3-.4 1.4-.4 1.3-.4-2.3-.4.5-.4 3.3-.4-3.1-.4 0-.4 1.6-.4-2.9-.3.2-.4 2.4-.4-1.8-.4 2.1-.4-2.7-.8 0-.4 1.5-.4 1.1-.4-1.3-.4.3-.4-.3-.4-1.5-.4.3-.4-.8-.4 3.6-.4-2.8-.4 0-.4-.9-.4 2.1-.4-.8-.4-1-.4 1.1-.3-.5-.4-.1-.4-.7-.4.1-.4.5-.4-.9-.4 0-.4-.7-.4-.2-.4.1-.4.8-.4-.2-.4.2-.4.5-.4-.7-.4 1.1-.4-.9-.4.5-.4.3-.4.3-.4-.7-.4.5-.4-.4-.3.2-.4-.5-.4 1.3-.4-1.3-.4 1.2-.4-.4-.4.9-.4-.4-.4-.8-.4 1.3-.4-1.5-.4 2.3-.4.5-.4-.2-.4-1.5-.4.9-.4-1.7-.4 3.1-.4-2.5-.4 1.1-.4 0-.4.3-.4-.2-.3-1.3-.4 1.1-.4 1.5-.4-2.5-.4 2-.4-2.7-.4.3-.4 1.8-.4-.4-.4-.3-.4 2.6-.4-4.1-.4 2.4-.4-1.5-.4.9-.4-1-.4 0-.4-.8-.4 1.7-.4-1.2-.4-.5-.4 0-.4.8-.4-1.1-.3 1.5-.4.1-.4-1.7-.4.3-.4 1.1-.4-.4-.4-1.1-.4.4-.4-.2-.4-.4-.4 0-.4.6-.4 1.1-.4-1.7-.4.9-.4-1.3-.4.7-.4-.9-.4.1-.4.3-.4-.4-.4.1-.4.9-.3-.3-.4.3-.4-.3-.4.1-.4 2-.4-.7-.4-1.3-.4.6-.4-.2-.4 2.5-.4-2.5-.4 1.2-.4-1.5-.4 2.2-.4.1-.4.7-.4-2.7-.4-.1-.4 2.2-.4-2.1-.4-.1-.4.6-.4.1-.3.9-.4-1-.4-.2-.4.7-.4 0-.4-.2-.4.1-.4.5-.4-1-.4 5.5-.4-5.3-.4.5-.4-.8-.4.6-.4 2.2-.4-1.9-.4-.1-.4.2-.4.3-.4-1.5-.4 2.3-.4-1.8-.4 1.1-.4-1.3-.3 2.6-.4-2.9-.4 1.2-.4-.8-.4 0-.4-.6-.4.7-.4-.2-.4 0-.4.5-.4-.6-.4 0-.4-.5-.4.1-.4-.4-.4 2.1-.4-1.8-.4.5-.4.6-.4-.9-.4 1-.4-1-.4-1-.3.1-.4.4-.4-.1-.4-.1-.4-.4-.4.3-.4.1-.4.2-.4-.1-.4.2-.4-.1-.4.3-.4-.5-.4-.1-.4.8-.8 0-.4-.4-.4.1-.4 1.8-.4-1-.4.2-.4 1.1-.3-2.1-.4.2-.4.8-.4.4-.4.7-.4-.7-.4.2-.4-.9-.4 2-.4-1.6-.4 2.2-.4-1.6-.4.6-.4-.5-.4-.2-.4-.9-.4 4.2-.4-2.5-.4-1.6-.4-.1-.4 2.4-.4-2.5-.4 2.2-.4.4-.3-1.5-.4.7-.4-1-.4-.9-.4 3.8-.4-3.7-.4.4-.4.2-.4.2-.4 1.5-.4-1.2-.4-.4-.4-.7-.4 2-.4-1.2-.4.1-.4-.8-.4 2.2-.4-2.7-.4 1.1-.4.8-.4-1.4-.4 2.3-.3-2.9-.4.9-.4-.9-.4.3-.4-.1-.4-.4-.4.3-.4-.8-.4.3-.4-.2-.4.5-.4.9-.4-1.8-.4 0-.4.3-.4-.5-.4.5-.4-.3-.4 0-.4 2.1-.4-.8-.4-.6-.4.5-.3-.5-.4 0-.4.1-.4.5-.4 1.6-.4-1-.4.1-.4-.7-.4 1.2-.4-1.3-.4.4-.4 1.1-.4.4-.4-1.4-.4-.5-.4.3-.4 1.3-.4-.8-.4-.4-.4 1.4-.4 0-.4.5-.4-2-.3-.1-.4.9-.4-.8-.4.8-.4-.5-.4.6-.4-.7-.4.5-.4 2.2-.4-2.3-.4-.2-.4-.2-.4-.2-.4.7-.4 1.6-.4-2-.4 2.2-.4-1.2-.4 0-.4.4-.4.3-.4-1.5-.4.4-.4.8-.3-.2-.4-1.2-.4-.7-.4 0-.4 1-.4-.2-.4.2-.4-.1-.4-.5-.4-.6-.4.6-.4 1-.4.3-.4-2-.4 1-.4-.2-.4-.2-.4-.9-.4.5-.4.6-.4-1.3-.4 1.7-.4.7-.3-2.2-.4-.3-.4-.4-.4.1-.4.3-.4.1-.4.1-.4 2.2-.4-2.2-.4 2-.4-1.1-.4-.6-.4 0-.4.5-.4.9-.4-1.3-.4 0-.4 1.8-.4-1.3-.4.3-.4.5-.4-1.2-.4.1-.3-.2-.4 1-.4-.2-.4 1-.4.7-.4-2-.4.7-.4-.7-.4-.1-.4.9-.4-1.1-.4 1.7-.4-1.2-.4.6-.4-.1-.4-.6-.4.5-.4.6-.4-1-.4 1.6-.4-.9-.4-.6-.4 1.3-.4-1.3-.3-.4-.4 1.6-.4-1.3-.4-.4-.4.4-.4.8-.4.6-.4-1.9-.4.5-.4.8-.4-1.4-.4-.1-.4 1.1-.4-1-.8 0-.4-.3-.4 1.3-.4-.9-.4 1-.4-1-.4-.6-.4 1.1-.3-.9-.4.4-.4-.3-.4-.5-.4.7-.4-.3-.4-.1-.4.4-.4-.4-.4-.4-.4.7-.4-.8z" fill="#edb120"/>
<path d="M69.7 157.6l.4-.7.4 1 .4.5.4-1 .4.7.4-1.2.4 1.4.4-.5.4-.1.4.1.4 0 .3.1.4-.6.4 0 .4.2.4.1.4-1.6.4.1.4 1.5.4-1.3.4 1 .4-1.8.4.4.4 1.4.4-1.4.4-.5.4-.5.4.9.4 1.4.4-.9.4 1 .4-.2.4-.6.4.6.3-.9.4.2.4.8.4-1.3.4.8.4-1.1.4 1.2.4-.2.4 0 .4.6.4-.2.4.2.4-.5.4.2.4-1.1.4 1.8.4-.8.4.7.4-1.1.4.5.4-.2.4.6.4-1.5.4 1.6.3 0 .4-.2 1.6 0 .4-.4.4.6.4-1.9.4 1.7.4-.1.4 0 .4.8.4-1.2.4 1.4.4-.3.4.1.4.5.4 0 .4-.3.4.5.4-.2.4-1.2.3.1.4.2.4.1.4.2.4-.6.4.7.4-1.1.4.8.4-2.7.4 2.1.4-.5.4 1 .4-1.1.4-.5.4 0 .4 1.2.4.2.4-.2.4-1.9.4 1.2.4-1.2.4 1.7.4-1 .3-.1.4-1.7.4 1.4.4 1.3.4-2.1.4 1 .4-.3.4 1.4.4.1.4-1.7.4.3.4.3.4-.7.4-.3.4 1.7.4-1.2.4 1 .4-3.4.4 3.9.4-2.6.4 2 .4.8.4-1.1.4-.5.3 1.1.4-2.9.4-.5.4 2.6.4 1.3.4-.1.4-.9.4-.1.4 1.1.4-1.4.4-.2.4 1.5.4-2.1.4 2.3.4-.6.4 1.1.4-1.3.4.1.4 1.3.4-.5.4.4.4.3.4-.5.3.2.4.1.4-.3.4.8.4-3.2.4 2.8.4.6.4-1.5.4 1.4.4-1.5.4.2.4.1.4 1 .4-.8.4-1.2.4.9.4-.3.4.9.4-.3.4-.9.4 1.3.4-.2.4-1.3.3 1 .4-1 .4 0 .4-2.4.4 2 .4.5.4-1.5.4 2.1.4-1.7.4-1.5.4 1.4.4 1.1.4-.5.4.8.4-.1.4-2.5.4 2.5.4-1.3.4 1.1.4-1.6.4.4.4-2.5.4.4.3 1.7.4.9.4 1.2.4-1.1.4-.9.4 2 .4-.1.4-.7.4.6.4-.9.4-1.7.4-.8.4 3.7.4-1.4.4.5.4.8.4-.2.4-.2.4.6.4-1.2.4-.5.4.7.4 1.1.4-.1.3-1.6.4-.6.4.3.4-.3.4 1.8.4.1.4-.1.4 1.1.4-1.5.4 1 .4 0 .4.6.4-.1.4.6.4.1.4 0 .4-.9.4 1.1.4-.5.4.2.4-.1.4-1.2.4.8.3.2.4.2.4-.8.4.4.4-.1.4.2.4-.1.4-1.3.4-1.7.4 1.6.4-1.4.4 1.9.4.3.4.3.4-1.4.4.9.4-3.5.4 2.1.4-.6.4-.1.4 2.2.4-2.5.4-.9.3-.1.4 2 .4 1.3.4-.2.4-1.8.4 1.3.4-.9.4.7.4-1.5.4 2.3.4.1.4-.3.4-1.1.4.7.4-.7.4-.7.4 1.9.4.1.4.1.4-2.9.4 1.6.4.8.4-.7.4 1 .3-.7.4.1.4-.3.4-1.2.4 2 .4-.2.4.3.4-2.2.4 2.9.4-.6.4.7.4-.5.4.6.4-1.8.4 1.5.4-.5.4 1 .4-.2.4-1.6.4 1.3.4-.4.4 1.1.4-.4.3-.5.4.9.4-.2.4-.4.4 1 .4-.9.4.3.4-.1.4.3.4.3.4-2.2.4 1.4.4.4.4-1.1.4-1.2.4 2.1.4-.1.4-2.6.4 2.1.4.6.4-.9.4.7.4-1.4.3 1 .4.4.4-.8.4-.6.4 1.2.4-.1.4-2.4.4 1.9.4-1.7.4.8.4-.2.4.3.4 0 .4.9.4-.9.4.1.4 0 .4.7.4-1.1.4.3.4.5.4 0 .4.6.4-2.6.3 2.5.4.1.4-.3.4-1.3.4.5.4.3.4-.8.4-2.1.4 3.6.4-.7.4-1 .4-.4.4 2.4.4-2.2.4 1.1.4 1.1.4-1 .4.7.4-.2.4.5.4-1.1.4-1.3.4 1.1.3 1.6.4-.1.4-.8.4.9.4-1.1.4.7.4 1.1.4-.4.4-.5.4.9.4-.7.4-.7.4 1.5.4-.3.4.4.4-.9.4.2.4.3.4-.7.4.1.4.3.4.3.4-.5.3-1.3.4 1.7.4-.1.4-.4.4.2.4-1.4.4-1.3.4 2.1.4-.8.4.5.4.5.4-.8.4-2.5.4 2.7.4-.2.4.6.4-1.3.4.3.4.1.4.9.4-2.9.4.7.4.8.3 1.4.4-1.6.4.9.4-.2.4-2.4.4 2.4.4.2.4-1.4.4 1.2.4-1.6.4 1.8.4-1.5.4 1.2.4-1.3.4.7.4 1.4.4-.2.4-1.1.4.4.4-1.2.4 2.4.4-3 .4.5.4 1.6.3.6.4 0 .4-.5.4.7.4 0 .4-1 .4.7.4.2.4-.5.4-.3.4 1.5.4-1 .4.3.4-1.4.4-.4.4 1.6.4 0 .4.7.4.6.4.2.4-.1.8 0 .3-.5.4-.5.4 1.2.4-.2.4.1.4-.4.4-.7.4 1 .4-1.6.4 1.6.4-.3.4-.9.4-1.1.4 1.6.4.4.4-.4.4-1.3.4.8.4.6.4.1.4-1.1.4-1.3.4.2.3 1.6.4.2.4-.2.4-2.2.4-1.4.4 3.8.4-.6.4-2.2.4-1.3.4 2.3.4.3.4.6.4-3.1.4 2.5.4-1.3.4 2.4.4-.4.4-1.2.4-.9.4 2 .4.3.4-1.7.4 1.9.4-1 .3 1.3.4-2.3.4.6.4.4.4.5.4-.3.4-1.3.4 1.8.4-1.3.4 1.6.4.5.4-1 .4-.7.4 1.4.4-.8.4 1.1.4.1.4-.6.4-.2.4.3.4.4.4-2.1.4 2.2.3-2.1.4 2.5.4-.5.4-1 .4 1.3.4.2.4.2.4-.7.4.3.4.4.4.4.4.3 0 2.2-.4.2-.4.7-.4.3-.4-.6-.4.7-.4 1.1-.4-1.7-.4 1.7-.4-1.3-.4-.2-.4.1-.3.1-.4 1.1-.4-.9-.4-.3-.4.1-.4 1.2-.4-.6-.4-.4-.4.2-.4 1.8-.4-1.7-.4.7-.4-.8-.4.9-.4-.1-.4-.1-.4.3-.4.1-.4-.5-.4 1-.4-.9-.4 1.1-.4-.9-.3-.6-.4 1-.4-.3-.4.6-.4-.8-.4.7-.4 2-.4-.1-.4-.8-.4-1.7-.4-.6-.4.1-.4 2-.4-1.8-.4.4-.4.3-.4-.2-.4-.2-.4-.5-.4.9-.4-.4-.4 1.6-.4-.1-.4-1.9-.3-.6-.4 2.4-.4-1.5-.4 0-.4.3-.4-1-.4 1.5-.4-.7-.4-1.3-.4.4-.4-.3-.4.3-.4.6-.4-1.5-.4.8-.4-.8-.4 1-.4.5-.4-1-.4-.5-.4-.2-.4.2-.4-.4-.3 0-.4.9-.4-.1-.4-.5-.4.3-.4 0-.4 1-.4-.6-.4 2-.4-2.1-.4-.2-.4.6-.4.4-.4 1.5-.4-1.3-.4-.9-.4.4-.4.9-.4.5-.4-1.3-.4 1.5-.4-1.4-.4.9-.3-.7-.4-.5-.4 2.2-.4-1.7-.4.4-.4 1.3-.4-.5-.4.8-.4-1.4-.4-.9-.4 1.2-.4.4-.4-.4-.4-1-.4 1.4-.4.5-.4-.5-.4-.1-.4-1.2-.4 1.5-.4-1.6-.4.9-.4 1.6-.4-1.1-.3.4-.4-1.3-.4.5-.4-.7-.4 1.1-.4-1.7-.4.4-.4-.2-.4 1.2-.4-1.4-.4 1.7-.4-.5-.4-1.5-.4.4-.4-.2-.4.5-.4.1-.4-1.1-.4.9-.4.5-.4-.9-.4 1.1-.4-1.5-.3 1.2-.4.3-.4-1.9-.4.4-.4.4-.4-1-.4-.1-.4-.3-.4.4-.4-.4-.4.5-.4.9-.4-.9-.4-.1-.4 0-.4 1.5-.4-1.5-.4.3-.4.7-.4.8-.4 1.2-.4-1.4-.4.9-.3.3-.4-2-.4 1.1-.4.3-.4-.3-.4-.4-.4 0-.4 2.1-.4-1.4-.4 2.3-.4-2.1-.4-.3-.4 1.1-.4-1.4-.4 1.1-.4 1.4-.4-2.4-.4 2.3-.4-1.7-.4 0-.4.2-.4 0-.4-.7-.3-.8-.4.2-.4 1.6-.4-1.1-.4-.7-.4 0-.4.2-.4 1.5-.4-.3-.4-1.1-.4.2-.4-.6-.4.1-.4 1.3-.4-1.2-.4-.3-.4.6-.4-.5-.4.1-.4-.4-.4.5-.4-.3-.4.4-.4.5-.3.1-.4-1.3-.4 1.5-.4-1.4-.4.8-.4-.4-.4.9-.4-1.8-.4 1.8-.4-2-.4 1.9-.4-1.6-.4-.3-.4-.2-.4 1-.4-1.1-.4.7-.4.7-.4-1.7-.4.2-.4.7-.4-.4-.4.2-.3.3-.4 1.9-.4-.3-.4-.7-.4-1-.4.2-.4.5-.4 0-.4-.2-.4 1.4-.4-1.7-.4 1-.4.5-.4-.3-.4-.5-.4-.1-.4.7-.4.1-.4-.2-.4-.7-.4.4-.4.9-.4.2-.3 0-.4-.6-.4-.5-.4 1.6-.4-1.4-.4-.3-.4 1.8-.4-1.1-.4-.1-.4-.7-.4.9-.4 1.1-.4 1.9-.4-3.8-.4.5-.4 1.1-.4-1.3-.4 2.2-.4-1.8-.4.8-.4-1.4-.4.9-.4-.4-.4.1-.3.2-.4-.3-.4 2.5-.4-1.8-.4.8-.4-1.6-.4-.9-.4.6-.4.4-.4-.1-.4-1-.4 1.4-.4-.8-.4-.8-.4 2.6-.4-1.5-.4-.2-.4-.6-.4.6-.4-.2-.4-1.1-.4-.3-.4.4-.3.7-.4 1.2-.4-2.6-.4 0-.4-.2-.4.5-.4-.1-.4 1.1-.4-.8-.4-.3-.4.6-.4 1.5-.4-1.5-.4 1.2-.4-1.5-.4 1-.4-.8-.4 1.4-.4-.6-.4.4-.4 1.1-.4-.2-.4.6-.3.4-.4-2.2-.4.5-.4 2.3-.4-1.6-.4.3-.4-.1-.4-.8-.4.4-.4-1-.4.7-.4 1.4-.4 1.6-.4-3.1-.4 2.3-.4-1.1-.4-.7-.4 2-.4-3.1-.4 1.8-.4-1.5-.4.4-.4-.3-.4.5-.3-.6-.4 1.4-.4-1-.4-.2-.4.8-.4-.4-.4.1-.4.9-.4 1.5-.4-3.6-.4 2.1-.4-1-.4.4-.4.1-.4-.2-.4-.4-.4-.9-.4 1.9-.4-.6-.4-.8-.4-.3-.4-.7-.4 1.5-.3-.7-.4-.4-.4-.3-.4-.3-.4 1.5-.4-1.5-.4.8-.4-.6-.4-.7-.4.4-.4.1-.4-.3-.4.8-.4-1-.4-.4-.4.8-.4-.2-.4-.3-.4 0-.4.4-.4-.4-.4.5-.4.2-.3.7-.4-.7-.4.2-.4-.3-.4 2.5-.4-.8-.4-1.5-.4.4-.4-.5-.4 1.7-.4-.8-.4-.6-.4.3-.4 1.3-.4-1.6-.4 2.2-.4-.4-.4.3-.4-2-.4 0-.4.2-.4.9-.4-.5-.3 0-.4.6-.4 1.7-.4-2.7-.4 2.3-.4-1.4-.4-.5-.4.9-.4 1-.4-1.6-.4.4-.4-1.1-.4 1.3-.4-1.3-.4 2.1-.4 1.3-.4-3.3-.4-.2-.4.7-.4 2.4-.4-3-.4 2-.4-.6-.4-.2-.3.9-.4-1.5-.4.6-.4-.9-.4.2-.4-1-.4 1.3-.4 1.1-.4-2.1-.4 0-.4-.5-.4.4-.4.1-.4-.7-.4.3-.4.7-.4-.5-.4-.7-.4.9-.4.1-.4-1.3-.4.8-.4-.2-.3-.7-.4.9-.4-1-.4.3-.4-.1-.4.3-.4 1.1-.4-.9-.4.1-.4-.5-.4.9-.4-.5-.4.6-.4.7-.4-.8-.4-.6-.4-.1-.4.3-.4-.1-.4.5-.4.1-.4.4-.4.6-.3.9-.4-2.2-.4.3-.4 0-.4-.4-.4 2.3-.4-2.2-.4 1.3-.4-.6-.4.4-.4.1-.4-.7-.4-.2-.4.5-.4-.4-.4.5-.4.1-.4-.7-.4-.3-.4.9-.4-.8-.4.6-.4.7-.4-.3-.3 2.2-.4-2.8-.4.1-.4-.5-.4.8-.4-.5-.4-.5-.4 1.5-.4-1.3-.4.6-.4.5-.4.7-.4.2-.4-2.1-.4.6-.4-.7-.4.4-.4-.5-.4 1-.4-.8-.4 1.2-.4-1.3-.4-.3-.3.1-.4.4-.4-.6-.4-.1-.4-.1-.4.2-.4.1-.4.6-.4-.8-.4 0-.4.4-.4-1z" fill="#7e2f8e"/>
<path d="M69.7 168.2l.4-.2.4-.5.4-.7.4 1.4.4-1.4.4 1.5.4-.4.4-.4.4.1.4-1.5.4 1.4.3.3.4-1.9.4 2.1.4-.6.4.2.4.1.4-1.7.4 1.3.4-1 .4 1.4.4 0 .4-.2.4-.1.4-.4.4.2.4-1.2.4 1.2.4-.1.4-.2.4.2.4-.4.4 1 .4-1.1.3 0 .4 1.1.4-.9.4-1.4.4.5.4 1.5.4-1.2.4.6.4-.3.4.9.4-.3.4.2.4-1.1.4.8.4-.4.4-.1.4 1.1.4-.2.4-.7.4.5.4.1.4.1.4-1.1.4.6.3.6.4-.7.4 0 .4.3.4.7.4 0 .4.2.4-.2.4-.8.4.8.4.1.4-1.6.4 1.6.4.4.4-.1.4-.7.4.7.4-.3.4 0 .4.1.4.2.4-.3.4-.2.3.4.4-1.3.4 1.2.4-1 .4-.1.4.9.4-1.2.4 1.2.4-.2.4-2 .4 1.4.4-1.1.4 1 .4-.1.4.6.4 0 .4-.3.4-1.2.4.6.4.2.4-.7.4.3.4-1.3.3 1.8.4-2.1.4 1.3.4.5.4-2 .4 1 .4-.4.4 0 .4.3.4-.8.4.9.4-.4.4 1.3.4-1.2.4.9.4-.6.4-.6.4 1.7.4-2.9.4 2.4.4.3.4.3.4-1.6.4 1.3.3-.3.4.4.4-1.6.4 1.4.4-1.4.4 1.9.4-.7.4.1.4-.2.4-1.6.4 2.8.4-1 .4.2.4.5.4-1.7.4 1 .4.5.4-1.1.4 1.3.4-.5.4.4.4-1 .4 1.5.3-.5.4-.3.4 1.4.4.2.4-.9.4.1.4.9.4.3.4-1 .4.2.4-.6.4.7.4.1.4 0 .4-.1.4-.5.4-1.2.4.4.4-.3.4 1 .4-2.5.4.8.4 1.8.3-1.6.4 1.5.4-.5.4-.8.4-.8.4-.5.4 2.1.4-1.6.4.1.4 1.7.4-1.5.4.9.4-1.9.4-.2.4.8.4 1.3.4-.1.4 0 .4-1.8.4-.2.4 1.1.4.7.4-2 .3.3.4.1.4 1.7.4-3.5.4 4 .4-2.1.4-1.4.4 3.3.4-.3.4-.4.4.4.4-1.4.4 2 .4-1.3.4-1.3.4 2 .4-.1.4.3.4-.2.4-2.4.4 2.7.4-1.6.4 1.9.4.1.3-1.1.4.9.4.4.4-1.1.4.6.4.2.4.9.4-.5.4-.7.4.9.4.6.4-1.3.4 1 .4-.3.4.3.4.6.4.2.4.2.4-1.3.4.9.4-.6.4.3.4-.8.3-1.6.4 1.2.4.3.4-.3.4-.8.4.3.4 1.1.4-1.3.4-.6.4 1 .4-1.3.4.8.4-2.5.4 2.1.4-.5.4-1.7.4 1.9.4-1.1.4.4.4.2.4-.1.4-.6.4 2.1.3-.3.4-.8.4.5.4 0 .4-.5.4.7.4-.5.4-2.3.4 1.4.4.5.4-2.7.4 1 .4 2.4.4-2.1.4 1.5.4-.4.4.1.4-2.4.4 3.2.4-.3.4.5.4-.2.4-.6.4-.3.3-2.6.4 2.9.4-1.8.4 1.8.4-1.5.4 1 .4-1.1.4 1.1.4 1.6.4.3.4-2.5.4 2.4.4.3.4-.6.4.8.4-.2.4-2.4.4 1.9.4.6.4-1.4.4 2.3.4.2.4.2.3-.3.4-1 .4 1.5.4-.5.4 1 .4-1 .4.9.4-.7.4-.1.4.2.4.2.4.1.4-1.4.4 1 .4-.7.4.3.4.4.4-.2.4-.5.4.3.4-.3.4.1.4.3.3-.1.4-2.5.4.9.4-1.1.4.8.4 1.7.4-1.2.4-.3.4.1.4.9.4-1.6.4.2.4 1.5.4-1.7.4-.4.4 2.1.4-.2.4-1.4.4-1.4.4 1.9.4.6.4.5.4-.2.7 0 .4.5.4-2.4.4 2.4.4-1.2.8 0 .4.7.4.3.4-2.6.4 2.7.4 0 .4-1.5.4 1.7.4-1.6.4 1.1.4.2.4.4.4-.3.4-.7.4.4.4.3.4.3.3-.8.4.2.4-1.3.4 1.9.4.6.4-1.3.4.5.4.8.4.1.4.2.4-.5.4.7.4-1.7.4 1.1.4.6.4.1.4 0 .4-.3.4-.7.4.2.4 0 .4.1.4-1.2.3-.1.4.1.4-.3.4-.7.4-.2.4.9.4-.9.4 1.1.4 0 .4-.2.4-3.8.4 1.7.4 2.1.4-1.9.4-2 .4 3.9.4-.6.4.4.4-1.1.4-3.7.4.9.4 3.9.4-2.4.3 1.4.4-3.6.4 2.1.4 1.8.4-.6.4-2.5.4 1.7.4.6.4-.2.4 1.6.4-.2.4-.8.4.2.4.4.4-.2.4-3.6.4 4.2.4-3.6.4 3.2.4.7.4-2.3.4 1.4.4-2 .4 3 .3-3.5.4 1.1.4 1.1.4.9.4.8.4-3.1.4.7.4.5.4 1.7.4 0 .4.2.4-.3.4.6.4-1.5.4 1.5.4-1 .4-.5.4.7.4.4.4.7.4.7.4-1 .4 0 .3.5.4 1.1.4-.2.4-.1.4-1.4.4.5.4.6.4-1.1.4-.3.4 1.2.4-1.3.4.7.4.3.4-1.9.4 1.4.4-1.2.4 1 .4 0 .4-.4.4-.5.4.1.4.3.4-.9.3 1.3.4-3.3.4 2 .4.1.4.4.4-.6.4-.6.4 1.1.4.1.4-.1.4-3.5.4 2.9.4-3.5.4 4.5.4-1.7.4-3.7.4 5.6.4-1.1.4-.3.4.7.4-1.2.4.3.4 1.5.4-1 .3-1.9.4 2.1.4-1.8.4 2.8.4-.1.4-1.8.4 1.6.4-1.2.4 1.3.4.3.4-.4.4.5.4-.2.4.1.4-.9.4-.4.4 1.5.4.4.4-.7.4.5.4.1.4-1.6.4.1.3-.2.4-.6.4.8.4 2.1.4-.9.4.7.4 0 .4-.6.4.2.4.9.4.4.4 0 0 2.9-.4-.3-.4.4-.4.2-.4.4-.4.3-.4-.9-.4.6-.4-.4-.4.3-.4-.1-.4.7-.3 1.1-.4-1.3-.4.8-.4.4-.4-1-.4 1.6-.4-2-.4.7-.4 1-.4.4-.4-1.4-.4.9-.4-.5-.4-.2-.4 1.1-.4-1.3-.4.6-.4.8-.4-.4-.4-.8-.4 1.3-.4-.9-.4-.1-.3 2.1-.4-.5-.4-1.6-.4-.5-.4.2-.4-.2-.4 1.6-.4-1.7-.4 1.1-.4-.3-.4 3-.4-3.1-.4-.3-.4-.1-.4 1.1-.4-1-.4 1.2-.4-1.1-.4-.1-.4 2.3-.4-.7-.4-2.2-.4.3-.4-.3-.3 1.2-.4 0-.4-1.3-.4.4-.4.4-.4 0-.4-.4-.4-.5-.4 0-.4-.2-.4-.5-.4 2-.4-1.6-.4-.2-.4-.1-.4 1-.4-1.4-.4-.3-.4.7-.4-.8-.4 1-.4-1.1-.4.2-.3.4-.4.9-.4-1.1-.4.5-.4-.1-.4 0-.4.5-.4 1.1-.4-.3-.4 1-.4-1.1-.4 1-.4-.6-.4-.2-.4 1.8-.4 1.2-.4-3.1-.4-.3-.4.7-.4.2-.4.6-.4-.4-.4-.3-.3 2.3-.4-1.1-.4 2.1-.4-3.1-.4 1.4-.4 1.1-.4-.7-.4-.5-.4-1.5-.4 1-.4 1.8-.4-.3-.4-1.2-.4 2.2-.4-1.2-.4.1-.4-1.6-.4 2.4-.4-.1-.4-3-.4-.1-.4-.1-.4 0-.4 2.4-.3-.9-.4-.6-.4-.9-.4.2-.4 1.3-.4.5-.4-1.4-.4 2.1-.4-3-.4-.3-.4.1-.4 1.8-.4.3-.4-1.3-.4-.6-.4-.4-.4.7-.4-.3-.4-.7-.4-.4-.4.6-.4-.6-.4.3-.3.8-.4-1.2-.4.6-.4-.6-.4.4-.4-.6-.4-.3-.4-.6-.4 0-.4 1.6-.4-.9-.4.1-.4.3-.4-.2-.4.5-.4-.4-.4-.4-.4 2.1-.4-1.7-.4 1.1-.4-.6-.4-.7-.4.9-.3 1.2-.4-1.1-.4 1.4-.4.2-.4-2.3-.4 2.6-.4.7-.4-1.7-.4-.7-.4 1.5-.4-.9-.4-1.2-.4 1-.4.5-.4-.2-.4-.8-.4 4.4-.4-4.7-.4 1.9-.4-1.7-.4 1.5-.4-1.5-.4.4-.3-.1-.4 1.3-.4-.8-.4.2-.4-.8-.4 2.1-.4-2.6-.4 2-.4-1.5-.4.2-.4 0-.4.1-.4.1-.4-.6-.4.6-.4-.7-.4-.2-.4 1.4-.4-1.5-.4.3-.4.5-.4-.5-.4-.6-.4 3.3-.3-2.6-.4-.4-.4-.1-.4 1-.4-.6-.4-.3-.4.2-.4-.8-.4 2.7-.4-2.6-.4-.2-.4.5-.4 0-.4-.7-.4-.1-.4.1-.4.1-.4.1-.4-.1-.4.1-.4-.2-.4 1.3-.4.7-.3-.5-.4-1-.4.3-.4.7-.4-.9-.4 1.6-.4-1.2-.4 1-.4.6-.4-.9-.4.6-.4 0-.4-.7-.4 3.4-.4-1.8-.4.2-.4.2-.4-.6-.4 1.9-.4-.1-.4-2.8-.4-.1-.4 2.8-.3-.1-.4-2-.4.7-.4.7-.4 4-.4-5.8-.4.4-.4 2.3-.4-.1-.4-1.7-.4-.4-.4 1.2-.4-.2-.4-.8-.4-.1-.4.5-.4 1.6-.4-.7-.4-1-.4 0-.4-.5-.4 2.3-.4-3-.4 1.1-.3 0-.4-.8-.4 5.2-.4-5.2-.4-.5-.4 0-.4-.3-.4 4.4-.4-1-.4-1.9-.4-.8-.4-.1-.4.5-.4.7-.4-1.3-.4-.7-.4 1.7-.4-.8-.4-1.1-.4 1.1-.4-1.4-.4-.1-.4.3-.3-.4-.4-.6-.4.7-.4.8-.4-2-.4 1.2-.4-.2-.4 0-.4.7-.4-1.1-.4 1.2-.4-.8-.4-.2-.4 1.3-.4.1-.4-1.3-.4 0-.4.8-.4.1-.4-.2-.4.2-.4-.1-.4.5-.3-.5-.4.8-.4 1.4-.4.2-.4-.5-.4-1.3-.4 0-.4-.2-.4-.1-.4 1.8-.4-1.8-.4 1.7-.4 1-.4-1.8-.4-1-.4 4.4-.4-1.8-.4-1.6-.4-.2-.4 5.6-.4-6-.4-.4-.4 1.2-.4-1.2-.3 1.5-.4.2-.4-.8-.4.7-.4-1.4-.4 1.7-.4-1.7-.4 2.9-.4-1.7-.4-1.3-.4 2.7-.4-2.9-.4 2.1-.4-.7-.4-1.3-.4 3.1-.4-1.5-.4-1.8-.4 1.3-.4-1.4-.4-.2-.4.4-.4-.4-.3-.1-.4.2-.4.5-.4 0-.4-1.2-.4.2-.4.7-.4-.4-.4.2-.4-.1-.4-.9-.4.2-.4.5-.4-.9-.4.5-.4-.7-.4.8-.4 0-.4-.6-.4.1-.4.3-.4 0-.4 1.1-.3-1.1-.4 0-.4 1.3-.4-.5-.4.6-.4-.6-.4-.5-.4.1-.4.6-.4-.4-.4 2-.4-1.3-.4.3-.4-.7-.4.2-.4 1.6-.4-1.4-.4 1.4-.4.2-.4-.1-.4 0-.4-.7-.4 0-.3 2.5-.4-1-.4-1.5-.4-.9-.4 3.5-.4-3.1-.4-.2-.4 1.3-.4-1.6-.4 1.1-.4 1.1-.4-.6-.4-.6-.4 1.7-.4-1.5-.4-.2-.4-1-.4.2-.4 3.9-.4-3.8-.4 1.7-.4.5-.4-2.3-.4-.5-.3.4-.4 1.6-.4-1.2-.4.1-.4 2-.4-2.7-.4-.4-.4 2.3-.4-1.3-.4-.4-.4-.7-.4.7-.4.2-.4 1-.4-2.3-.4.5-.4-.7-.4.9-.4-.6-.4-.4-.4.3-.4-.3-.4-.3-.3.9-.4-.9-.4.1-.4-.3-.4.5-.4-.2-.4.8-.4-.8-.4.3-.4-.2-.4 1.3-.4-1.1-.4 1-.4-.7-.4.9-.4-1.2-.4.7-.4.2-.4.2-.4-.5-.4.5-.4 2.9-.4-4-.3.7-.4 0-.4 1.2-.4.6-.4-1.5-.4-.2-.4.6-.4-.2-.4-.4-.4.2-.4 1.1-.4-.3-.4-.7-.4.1-.4-1-.4.2-.4.7-.4-.6-.4 2.6-.4-2.2-.4-.2-.4.8-.4-1.2-.4.9-.3-.9-.4.5-.4-.6-.4 3-.4-2.6-.4.6-.4.1-.4-.4-.4.2-.4-.6-.4 1-.4.5-.4-1.8-.4.3-.4.5-.4-.9-.4.9-.4-.7-.4 0-.4.1-.4.6-.4-.8-.4.1-.3 1.4-.4-2-.4.6-.4.2-.4-.2-.4.2-.4-.3-.4-.6-.4 1.4-.4-1-.4-.4-.4-.3z" fill="#77ac30"/>
<path d="M69.7 210.1l.4.1.4.2.4-.1.4-.1.4-.1.4-.4.4.2.4.1.4-.8.4.7.4.1.3.2.4-.1.4-.1.4-.7.4.5.4-.8.4.2.4.8.4-1 .4 0 .4.9.4-.4.4-.5.4.6.4.4.4-.6.4.3.4-1.5.4 1.2.4 0 .4.5.4-.3.4.1.3-.8.4-.2.4.6.4.2.4-.1.4-.8.4 0 .4 1.2.4 0 .4-.4.4-.9.4 1.2.4-.6.4.1.4-.1.4-.6.4 1.1.4-.6.4.5.4-.3.4.1.4 0 .4-.3.4.9.3-.2.4-.1.4.5.4-.7.4.3.4-.1.4 0 .4-.4.4.9.4-.7.4.5.4.3.4-.8.4.9.4-.6.4.3.4.1.4.4.4-.6.4.5.4-.1.4 0 .4-.3.3.1.4-.5.4.2.4-.7.4 0 .4.4.4-1.1.4 1.3.4-1.6.4-.1.4 1.5.4-.1.4-.9.4.1.4.4.4-.7.4 1 .4-.3.4.3.4-1 .4-1.2.4 2 .4-1.1.3-.6.4 1.3.4-.3.4-2.3.4 2.5.4-.9.4.8.4-2.2.4.7.4.9.4.3.4-.3.4.9.4-.5.4.7.4-.4.4-.1.4-.5.4-1.3.4 1.9.4.3.4-.8.4 0 .4.7.3-.4.4-.8.4 0 .4.8.4.5.4-.5.4-.5.4 0 .4 1.4.4-.5.4-1.5.4.5.4.9.4.4.4-.2.4-.3.4 1 .4-.4.4.1.4.2.4.2.4-.7.4.5.3-.6.4.7.4.3.4-.5.4 0 .4.3.4.4.4.4.4-.6.4 0 .4.1.4.3.4-.1.4.1.4-.9.4-.9.4 1.2.4.2.4-.2.4-.3.4-1.1.4 1.2.4-.8.3.1.4.1.4 0 .4-.3.4 0 .4-.1.4-.2.4.8.4-.6.4.5.4.4.4-1.8.4 1.2.4-.2.4-1.4.4 2.1.4-.8.4-.1.4-1.5.4 1.1.4.1.4-.4.4 1.1.3-.1.4-2.1.4 2.5.4-.2.4-1.9.4 1.6.4-2 .4 1.7.4-.1.4.7.4-1 .4.3.4.7.4.4.4-.2.4-1.7.4.2.4.5.4 1.1.4.2.4-1.7.4 1.5.4-.8.4-1.4.3 1.3.4.2.4.3.4.4.4-.1.4-.6.4.5.4.9.4-.9.4-.5.4 1.3.4-.5.4.7.4-.6.4.4.4.6.4-.3.4 0 .4.1.8 0 .4-.4.4-.4.3-.1.4.2.4-.3.4-.7.4.1.4.2.4-1.1.4.9.4-.2.4-.3.4 0 .4-1 .4 1.9.4-.6.4-.6.4-2.8.4 3.8.4-.4.4-.2.4-.6.4-2.5.4 3 .4.4.3-.8.4-1 .4 1.4.4-.3.4.5.4-.4.4-2.9.4 2.7.4.3.4-2.5.4 1.6.4-1.4.4-1 .4 2.4.4 1 .4-.2.4-2.5.4 1.9.4-.7.4 1.7.4-.6.4 0 .4-2 .4.4.3 1.5.4-1 .4.2.4 1.6.4-.6.4.3.4-1 .4.7.4.8.4-.9.4-.4.4 1.7.4-.1.4-.1.4-.1.4 0 .4-.3.4-.3.4 1.2.4-1.6.4 1.7.4.3.4.1.3-.3.4-.3.4.3.4.3.4.5.4-.3.4-.4.4.6.4.1.4-.6.4.4.4-.3.4.2.4 0 .4-.2.4 0 .4-.6.4.3.4-.4.4.3.4-.3.4-.2.4-1.2.3.2.4 1.4.4.1.8 0 .4-1.3.4 1.2.4-.2.4-.8.4-.5.4-.8.4.8.4-.9.4 0 .4 2 .4.2.4.1.4-.4.4 0 .4-1.1.4-.7.4 1.2.4-2.3.4 1.9.3.4.4.8.4-.3.4-1.6.4 2.1.4-1.9.4 1.9.4-1.2.4.9.4-.6.4.9.4-.7.4.6.4-.5.4-1.3.4 1.3.4-.3.4 1.1.4-.4.4-.6.4-.2.4.8.4.6.3-1.4.4 1.2.4 0 .4.5.4-1.3.4 1.3.4-1.1.4.5.4.5.4 0 .4.4.4.2.4-.3.4.2.4-.1.4-.8.4.9.4-.4.4-1.3.4 1.1.4-2.1.4 1.5.4-.2.3-.8.4-1 .4 1.7.4-1 .4-1 .4.5.4-.1.4 1.3.4-.1.4-1.6.4-.3.4-1.2.4 1.6.4-.3.4-3.2.4 3.7.4-2.5.4 2.7.4-1.4.4-.2.4.1.4.6.4.3.3-.2.4-.8.4-2.8.4 2.9.4.9.4-2.1.4 2.8.4-.7.4.5.4.1.4-.2.4-.5.4.1.4.3.4-3.7.4 3.5.4-1.2.4 1.7.4-1.6.4-.4.4 1.6.4-1.7.4 1.5.4-.7.3-1.6.4-.1.4 1.5.4-.4.4 1.2.4.9.4.1.4.5.4.4.4-1.4.4 1.7.4-.4.4-1 .4 1.7.4-.2.4.1.4 0 .4-1.7.4 1.3.4 1.1.4-.6.4-.3.4 1.1.3.2.4.2.4 0 .4-.8.4.4.4-.4.4-.5.4.8.4-.9.4-.2.4-.6.4.6.4.6.4-1.8.4 1.6.4-1.2.4-.5.4 1.3.4 0 .4-.4.4.2.4 0 .4-1.4.3-.3.4 1.3.4-1.2.4.9.4-.5.4.9.4-2.7.4 2.5.4-2 .4-.5.4 2.7.4-1.1.4.8.4-.4.4-3 .4 2.9.4-.4.4.4.4-2 .4.5.4 1.4.4-.7.4-.1.4 0 .3 1.3.4-1.3.4-1 .4 1.3.4 1.4.4-.8.4 1.1.4-3.4.4 1 .4.9.4-1.2.4 1.4.4 1.3.4.4.4-.9.4 0 .4 1 .4-1.2.4-.9.4 1.8.4.1.4.2.4.3.3-.3.4 0 .4-.9.4 1.2.4-.3.4-.2.4.9.4.1.4.1.4.4.4.2.4 0 0 1.8-.4 0-.4 1-.4-.8-.4 0-.4.5-.4.1-.4.3-.4-.4-.4.9-.4 1.2-.4-1.3-.3-.5-.4.4-.4.1-.4.5-.4 2.4-.4-3-.4 1.4-.4-1.4-.4.1-.4.3-.4 0-.4.1-.4 0-.4 2.5-.4-1.2-.4.2-.4 1.6-.4-1.3-.4.6-.4.5-.4-1.7-.4 3.3-.4-3.7-.3.1-.4.8-.4.4-.4-1.1-.4-.7-.4 1.7-.4-1.4-.4 1.8-.4.7-.4-1.6-.4.5-.4-1.1-.4.5-.4-.1-.4.2-.4.2-.4-.4-.4.4-.4.5-.4-1.9-.4 2-.4-1.5-.4-.9-.4.8-.3 0-.4-.6-.4.9-.4.8-.4-2.1-.4 2-.4-1.7-.4.6-.4-.9-.4-.4-.4.5-.4-.9-.4 1.9-.4-1.8-.4-.4-.4.2-.4 0-.4.5-.4-.9-.4 0-.4-.5-.4 0-.4.3-.3.6-.4 0-.4.9-.4-1-.4 1-.4 0-.4-.6-.4 0-.4 2.2-.4-.5-.4.2-.4-.2-.4.1-.4.3-.4.2-.4 1.3-.4-1.2-.4 2-.4-1.8-.4-.7-.4-.2-.4 2.2-.4-.2-.3-1.5-.4 1.1-.4-.3-.4.6-.4 3.3-.4-4.2-.4 1.8-.4-2.2-.4.6-.4 3.2-.4-4-.4-.2-.4 3.6-.4-3.3-.4 1.1-.4-.3-.4-.1-.4.3-.4-1-.4 0-.4.1-.4 1.3-.4.8-.4-2.4-.3 1.6-.4-1.4-.4-.5-.4 1.2-.4 1.9-.4-2.5-.4 1.3-.4-2.3-.4 1.2-.4-.4-.4 2.1-.4-1.4-.4-1.5-.4.4-.4 1-.4-1.7-.4 1.8-.4-1.4-.4-.7-.4-.4-.4 2-.4.1-.4-1.4-.3-.5-.4-.8-.4.5-.4-.5-.4.1-.4-.4-.4.3-.4-.7-.4-.1-.4 0-.4.5-.4.4-.4-.5-.4-.1-.4.2-.4-.1-.4.7-.4-.2-.4-.2-.4 1-.4-.5-.4 0-.4.1-.3-.5-.4.2-.4.4-.4.1-.4.6-.4-.9-.4.4-.4 1.2-.4-1.6-.4 1-.4-1.2-.4 1.3-.4-1.2-.4.9-.4.4-.4-.5-.4.1-.4-.3-.4.7-.4-1.1-.4-.1-.4 1-.4.2-.3.5-.4-1.4-.4.9-.4-.6-.4.6-.4-.3-.4.2-.4-.9-.4 2.7-.4-.5-.4-1.4-.4-.8-.4 1.4-.4-.4-.4.4-.4-1.4-.4.1-.4.3-.4.3-.4.9-.4-.1-.4-1.6-.4.8-.4.6-.3-1.2-.4.5-.4.2-.4.1-.4-1.2-.4.1-.4.2-.4.6-.4-1.4-.4-.1-.4.4-.4-.4-.4.8-.4-.6-.4.7-.4-1.3-.4-.2-.4-.1-.4.4-.4 0-.4.2-.4 0-.4.4-.3.4-.4-.3-.4 0-.4.4-.4-.5-.4 2.2-.4-.4-.4-.7-.4 2.7-.4-.7-.4-2.2-.4 1.8-.4-1.6-.4 1.1-.4-.8-.4.1-.4-.4-.4.1-.4 2-.4-2.2-.4.6-.4.8-.4.3-.3-.7-.4-.3-.4 1.4-.4 1.4-.4-2-.4 1.1-.4 1.7-.4-3.5-.4-.2-.4 1.3-.4.1-.4.1-.4-.1-.4-1.5-.4.5-.4 1.7-.4 0-.4-1-.4-1.3-.4 1.2-.4-1.1-.4 1.2-.4-.9-.4 1.8-.3-1.4-.4-.6-.4 1.5-.4-.9-.4-.7-.4 1.1-.4-1-.4.1-.4.1-.4 1.8-.4-2.6-.4-.5-.4.7-.4 2.2-.4-1.4-.4-.1-.4-.9-.4-.2-.4-.4-.4-.3-.4.4-.4-.4-.4-.4-.3.3-.4-.4-.4-.1-.4-.1-.4-.3-.4 0-.4.7-.4-.4-.4-.1-.4.2-.4 1-.4-.8-.4.4-.4-.2-.4.5-.4.1-.4-.6-.4.2-.4-.3-.4 1.4-.4-1.2-.4.2-.4 1.6-.3-1.8-.4.5-.4 1.3-.4-.4-.4-.8-.4-.2-.4 1.2-.4-1.1-.4-.1-.4-.1-.4.9-.4-.5-.4 1.5-.4-.6-.4-.3-.4-.2-.4.1-.4.3-.4.2-.4-.1-.4-.8-.4 1.9-.4-1.6-.4.8-.3-.5-.4-.4-.4 1-.4-.6-.4-.8-.4.3-.4 1.5-.4-.4-.4-1.2-.4.1-.4-.3-.4.8-.4.1-.4-.3-.4-.8-.4 1.8-.4-1-.4.6-.4-1.2-.4-.1-.4.4-.4.8-.4-1.8-.3-.1-.4.1-.4.6-.4-.8-.4.1-.4.3-.4-.5-.4.9-.4-.4-.4-.2-.4-.6-.4.3-.4-.3-.4-.1-.4-.1-.4 0-.4.3-.4-.1-.4.1-.4.7-.4.2-.4-.6-.4.2-.3 1.2-.4-1.2-.4.8-.4 0-.4.2-.4-.1-.4-.4-.4.7-.4-.4-.4-.5-.4.6-.4.2-.4 0-.4-.7-.4.3-.4.2-.4.2-.4 1.6-.4-1.7-.4 1.4-.4-.2-.4-.3-.4-1.1-.3.6-.4-.7-.4 2.2-.4-1.8-.4-.2-.4 1.8-.4-1.3-.4.2-.4-.8-.4.9-.4-.6-.4.5-.4-.2-.4-.4-.4.5-.4.1-.4-.2-.4-.3-.4.2-.4-.2-.4.4-.4-.9-.4-.1-.4 1.7-.3 1.4-.4-.9-.4-2.2-.4.2-.4.5-.4-.3-.4.2-.4-.3-.4 1-.4-.8-.4-.2-.4.2-.4-.3-.4.3-.4-.3-.4-.9-.4.4-.4.5-.4-.3-.4.2-.4-.7-.4.7-.4-1.1-.3-.2-.4.2-.4-.4-.4.8-.4-.4-.4-.2-.4.8-.4 0-.4-.8-.4.6-.4.1-.4-.2-.4-.1-.4-.1-.4.6-.4-.6-.4.3-.4 0-.4.1-.4-.1-.4.1-.4.5-.4.4-.3-.4-.4 0-.4.4-.4.2-.4-.5-.4-.8-.4.6-.4-.2-.4.5-.4-.2-.4-.2-.4.6-.4-1.1-.4 0-.4.3-.4.9-.4-.9-.4 1-.4.2-.4-.6-.4-.2-.4-.1-.4.2-.4-.3-.3-.5-.4-.1-.4.2-.4-.1-.4.3-.4.5-.4.5-.4-.7-.4-.7-.4 1.4-.4-1.3-.4 1.1-.4 0-.4-1.2-.4 0-.4-.1-.4.3-.4.7-.4-.8-.4 0-.4.4-.4-.7-.4.4-.3-.3-.4-.2-.4.3-.4 0-.4.1-.4.4-.4-.8-.4-.2-.4.2-.4.2-.4.4-.4-.4z" fill="#0072bd"/>
<line x1="195.5" y1="118" x2="195.5" y2="180" stroke="#5a6f8a" stroke-width="0.8" opacity="0.8"/>
<line x1="195.5" y1="200" x2="195.5" y2="222" stroke="#1f5f9a" stroke-width="0.8"/>
<line x1="278.3" y1="114" x2="278.3" y2="128" stroke="#0072bd" stroke-width="0.8"/>
<line x1="278.3" y1="138" x2="278.3" y2="168" stroke="#8a6a5a" stroke-width="0.6" opacity="0.6"/>
<text transform="translate(33.5 131) scale(0.9495 1)" font-size="14.72">ch 1</text>
<text transform="translate(66 216.3) scale(0.9495 1)" font-size="14.72" text-anchor="end">ch 192</text>
<circle cx="47.2" cy="140.5" r="0.9" fill="#333"/>
<circle cx="47.2" cy="169.4" r="0.9" fill="#333"/>
<circle cx="47.2" cy="198.7" r="0.9" fill="#333"/>
<text transform="translate(299.5 114.7) scale(0.9495 1)" font-size="14.72">EMG</text>
<text transform="translate(299.5 131.9) scale(0.9495 1)" font-size="14.72">Decomposition</text>
<line x1="295.3" y1="141.5" x2="391.5" y2="141.5" stroke="#000" stroke-width="1"/>
<path d="M401.5 141.5l-11 3.6 3.1-3.6-3.1-3.6z" fill="#000"/>
<text transform="translate(392 43.6) scale(0.9174 1)" font-size="17.99" font-weight="bold">B</text>
<line x1="458.7" y1="44.5" x2="458.7" y2="210" stroke="#b0b0b0" stroke-width="0.7" stroke-dasharray="1,1.3"/>
<line x1="488.8" y1="44.5" x2="488.8" y2="210" stroke="#b0b0b0" stroke-width="0.7" stroke-dasharray="1,1.3"/>
<line x1="518.8" y1="44.5" x2="518.8" y2="210" stroke="#b0b0b0" stroke-width="0.7" stroke-dasharray="1,1.3"/>
<line x1="548.9" y1="44.5" x2="548.9" y2="210" stroke="#b0b0b0" stroke-width="0.7" stroke-dasharray="1,1.3"/>
<line x1="578.9" y1="44.5" x2="578.9" y2="210" stroke="#b0b0b0" stroke-width="0.7" stroke-dasharray="1,1.3"/>
<line x1="609" y1="44.5" x2="609" y2="210" stroke="#b0b0b0" stroke-width="0.7" stroke-dasharray="1,1.3"/>
<line x1="639" y1="44.5" x2="639" y2="210" stroke="#b0b0b0" stroke-width="0.7" stroke-dasharray="1,1.3"/>
<path d="M432.9 50.5H455.4v2.2H432.9zM436.6 53.1h1v2.2h-1zM439.1 53.1h1v2.2h-1zM442.5 53.1H449.8v2.2H442.5zM435.7 66.1H452.6v2.2H435.7zM437.1 73.9h1v2.2h-1zM439.6 73.9h1v2.2h-1zM442.8 73.9H449.8v2.2H442.8zM439.9 81.6H451.2v2.2H439.9zM430.1 110.2H455.4v2.2H430.1zM428.7 112.8H459.1v2.2H428.7zM436.6 115.4H448.4v2.2H436.6zM437.1 120.6H451.2v2.2H437.1zM438.5 128.4H449.8v2.2H438.5zM437.1 143.9H451.2v2.2H437.1zM438.5 146.5H451.2v2.2H438.5zM438.5 201H449.8v2.2H438.5zM466.6 45.3H484.9v2.2H466.6zM462.4 50.5H486.3v2.2H462.4zM462.4 66.1H482.7v2.2H462.4zM463.7 76.6H481.7v1.9H463.7zM462.4 74H483.8v1.9H462.4zM460.3 71.4H483.4v1.9H460.3zM459.1 81.6H482.1v2.2H459.1zM463.4 110.3H488.3v1.9H463.4zM461.6 107.7H483.9v1.9H461.6zM462.4 112.8H489.1v2.2H462.4zM461.3 120.7H486v1.9H461.3zM460.2 118.1H482.4v1.9H460.2zM462.6 115.5H483v1.9H462.6zM465.2 128.4H481.5v2.2H465.2zM462.4 143.9H483.5v2.2H462.4zM462.4 149.1H480.7v2.2H462.4zM459.6 154.3H482.7v2.2H459.6zM463.8 175.1H481.5v2.2H463.8zM462.4 185.4H481.5v2.2H462.4zM462.4 201H480.7v2.2H462.4zM466.6 206.2H482.1v2.2H466.6zM501.7 48.1H515v1.9H501.7zM502.5 45.5H516.1v1.9H502.5zM493.3 50.5H518.6v2.2H493.3zM494.7 53.1H510.2v2.2H494.7zM497.6 60.9H514.4v2.2H497.6zM491.9 66.1H510.2v2.2H491.9zM494.8 79.2H515.4v1.9H494.8zM496.2 76.6H516.2v1.9H496.2zM495.3 74H513v1.9H495.3zM492 112.9H512.7v1.9H492zM494.9 110.3H516.5v1.9H494.9zM495.3 120.7H515.1v1.9H495.3zM494.5 118.1H513.4v1.9H494.5zM497.5 128.5H512.6v1.9H497.5zM499.3 125.9H512.6v1.9H499.3zM493.3 143.9H510.2v2.2H493.3zM493.3 149.1H510.2v2.2H493.3zM499.5 175.1h1.2v2.2h-1.2zM505.4 175.1h1.2v2.2h-1.2zM507 175.1h1.2v2.2h-1.2zM509 175.1h1.2v2.2h-1.2zM500.4 201h1.2v2.2h-1.2zM505.8 201h1.2v2.2h-1.2zM507.3 201h1.2v2.2h-1.2zM509 201h1.2v2.2h-1.2zM522.9 47.9H548.1v2.2H522.9zM532.7 50.5H548.1v2.2H532.7zM526.5 63.5H542.5v2.2H526.5zM522.6 94.8H540.6v1.9H522.6zM523.7 92.2H540.3v1.9H523.7zM522.9 89.6H542v1.9H522.9zM525.1 87H541.3v1.9H525.1zM524 84.4H542.3v1.9H524zM522.9 112.8H548.1v2.2H522.9zM522.9 133.5H542.5v2.2H522.9zM522.2 154.5H538.6v1.9H522.2zM522.4 151.9H538.9v1.9H522.4zM522.9 159.5H542.5v2.2H522.9zM525.7 164.7H543.9v2.2H525.7zM527.1 169.9H535.5v2.2H527.1zM524.3 180.3H538.3v2.2H524.3zM523.4 193.4H539.8v1.9H523.4zM523.6 190.8H539.8v1.9H523.6zM524.1 188.2H542.3v1.9H524.1zM527.1 195.8H534.1v2.2H527.1zM524.3 203.6H542.5v2.2H524.3zM558 45.3H574.8v2.2H558zM553.8 50.5H577.7v2.2H553.8zM556.6 60.9H577.7v2.2H556.6zM555.6 79.2H576.7v1.9H555.6zM555.3 76.6H577.7v1.9H555.3zM552.9 112.8H574.8v2.2H552.9zM556.6 125.8H579.1v2.2H556.6zM558 164.7H572v2.2H558zM557.4 193.2H570.6v2.2H557.4zM587.5 45.3H605.8v2.2H587.5zM581.9 58.4H605v1.9H581.9zM581.4 55.8H604.8v1.9H581.4zM583.9 53.2H606.2v1.9H583.9zM584.7 50.7H607v1.9H584.7zM586.1 63.5H601.6v2.2H586.1zM581.9 68.7H608.6v2.2H581.9zM586.8 79.2H604.8v1.9H586.8zM586.8 76.6H605.1v1.9H586.8zM584.7 89.6H599v1.9H584.7zM586 87H599.7v1.9H586zM588 102.6H603v1.9H588zM587.7 100H600.9v1.9H587.7zM586.7 97.4H601.8v1.9H586.7zM591.7 105H598.7v2.2H591.7zM580.5 112.8H605.8v2.2H580.5zM591.7 118H604.4v2.2H591.7zM587.5 131H600.1v2.2H587.5zM587 141.5H601.8v1.9H587zM586.5 138.9H603.6v1.9H586.5zM585.4 136.3H603.5v1.9H585.4zM583.3 156.9H605.8v2.2H583.3zM585.3 167.4H605.1v1.9H585.3zM586.7 164.8H607.8v1.9H586.7zM590.3 172.5H607.2v2.2H590.3zM587.5 182.8H607.2v2.2H587.5zM583.3 193.2H601.6v2.2H583.3zM586.1 198.4H604.4v2.2H586.1zM614.2 45.3H635.3v2.2H614.2zM614.7 55.8H633.8v1.9H614.7zM614 53.2H633.9v1.9H614zM612.2 50.7H634.2v1.9H612.2zM612.8 63.5H632.5v2.2H612.8zM612.8 68.7H633.9v2.2H612.8zM612.8 76.5H635.3v2.2H612.8zM610 81.6H631.1v2.2H610zM614.2 89.6H631.2v1.9H614.2zM611.1 87H632.4v1.9H611.1zM611.6 107.7H635.7v1.9H611.6zM613.1 105.1H637.5v1.9H613.1zM614.6 102.6H636.7v1.9H614.6zM612.5 100H637.8v1.9H612.5zM612.8 123.2H631.1v2.2H612.8zM614.2 136.1H631.1v2.2H614.2zM615.6 141.3H635.3v2.2H615.6zM610 146.5H629.7v2.2H610zM614.2 156.9H633.9v2.2H614.2zM610.5 167.4H633.8v1.9H610.5zM611.9 164.8H630.8v1.9H611.9zM617 177.7H631.1v2.2H617zM612.8 193.2H632.5v2.2H612.8zM614.2 198.4H632.5v2.2H614.2z" fill="#000"/>
<line x1="428.7" y1="44.5" x2="428.7" y2="210.5" stroke="#b8b8b8" stroke-width="1"/>
<line x1="428.2" y1="210.5" x2="639.5" y2="210.5" stroke="#b8b8b8" stroke-width="1"/>
<line x1="428.7" y1="209.9" x2="430.7" y2="209.9" stroke="#b8b8b8" stroke-width="0.8"/>
<text transform="translate(422.8 216.6) scale(0.9495 1)" font-size="14.72" text-anchor="end">0</text>
<line x1="428.7" y1="183.9" x2="430.7" y2="183.9" stroke="#b8b8b8" stroke-width="0.8"/>
<text transform="translate(422.8 190.6) scale(0.9495 1)" font-size="14.72" text-anchor="end">10</text>
<line x1="428.7" y1="158" x2="430.7" y2="158" stroke="#b8b8b8" stroke-width="0.8"/>
<text transform="translate(422.8 164.7) scale(0.9495 1)" font-size="14.72" text-anchor="end">20</text>
<line x1="428.7" y1="132.1" x2="430.7" y2="132.1" stroke="#b8b8b8" stroke-width="0.8"/>
<text transform="translate(422.8 138.8) scale(0.9495 1)" font-size="14.72" text-anchor="end">30</text>
<line x1="428.7" y1="106.1" x2="430.7" y2="106.1" stroke="#b8b8b8" stroke-width="0.8"/>
<text transform="translate(422.8 112.8) scale(0.9495 1)" font-size="14.72" text-anchor="end">40</text>
<line x1="428.7" y1="80.2" x2="430.7" y2="80.2" stroke="#b8b8b8" stroke-width="0.8"/>
<text transform="translate(422.8 86.9) scale(0.9495 1)" font-size="14.72" text-anchor="end">50</text>
<line x1="428.7" y1="54.2" x2="430.7" y2="54.2" stroke="#b8b8b8" stroke-width="0.8"/>
<text transform="translate(422.8 60.9) scale(0.9495 1)" font-size="14.72" text-anchor="end">60</text>
<text transform="translate(428.7 228) scale(0.9495 1)" font-size="14.72" text-anchor="middle">0</text>
<text transform="translate(458.7 228) scale(0.9495 1)" font-size="14.72" text-anchor="middle">50</text>
<text transform="translate(488.8 228) scale(0.9495 1)" font-size="14.72" text-anchor="middle">100</text>
<text transform="translate(518.8 228) scale(0.9495 1)" font-size="14.72" text-anchor="middle">150</text>
<text transform="translate(548.9 228) scale(0.9495 1)" font-size="14.72" text-anchor="middle">200</text>
<text transform="translate(578.9 228) scale(0.9495 1)" font-size="14.72" text-anchor="middle">250</text>
<text transform="translate(609 228) scale(0.9495 1)" font-size="14.72" text-anchor="middle">300</text>
<text transform="translate(639 228) scale(0.9495 1)" font-size="14.72" text-anchor="middle">350</text>
<text transform="translate(518 244.7) scale(0.9495 1)" font-size="14.72">Time (s)</text>
<line x1="647" y1="116.5" x2="714.5" y2="116.5" stroke="#000" stroke-width="1"/>
<path d="M724.5 116.5l-11 3.6 3.1-3.6-3.1-3.6z" fill="#000"/>
<text transform="translate(650.9 133.7) scale(0.9495 1)" font-size="14.72">Lowpass</text>
<text transform="translate(655.1 151.2) scale(0.9495 1)" font-size="14.72">Filter &amp;</text>
<text transform="translate(650.9 168.5) scale(0.9495 1)" font-size="14.72">Normalize</text>
<text transform="translate(718.8 43.6) scale(0.9174 1)" font-size="17.99" font-weight="bold">C</text>
<line x1="823.8" y1="36" x2="823.8" y2="166" stroke="#a3a3a3" stroke-width="0.8" stroke-dasharray="2,1.6"/>
<line x1="856.4" y1="36" x2="856.4" y2="166" stroke="#a3a3a3" stroke-width="0.8" stroke-dasharray="2,1.6"/>
<line x1="889.1" y1="36" x2="889.1" y2="166" stroke="#a3a3a3" stroke-width="0.8" stroke-dasharray="2,1.6"/>
<line x1="921.7" y1="36" x2="921.7" y2="166" stroke="#a3a3a3" stroke-width="0.8" stroke-dasharray="2,1.6"/>
<line x1="954.4" y1="36" x2="954.4" y2="166" stroke="#a3a3a3" stroke-width="0.8" stroke-dasharray="2,1.6"/>
<line x1="987" y1="36" x2="987" y2="166" stroke="#a3a3a3" stroke-width="0.8" stroke-dasharray="2,1.6"/>
<line x1="1019.7" y1="36" x2="1019.7" y2="166" stroke="#a3a3a3" stroke-width="0.8" stroke-dasharray="2,1.6"/>
<line x1="762.7" y1="33" x2="762.7" y2="47" stroke="#888" stroke-width="0.9" stroke-dasharray="1,2"/>
<line x1="762.7" y1="70" x2="762.7" y2="86" stroke="#888" stroke-width="0.9" stroke-dasharray="1,2"/>
<line x1="762.7" y1="115" x2="762.7" y2="129" stroke="#888" stroke-width="0.9" stroke-dasharray="1,2"/>
<text transform="translate(732.6 64) scale(0.9495 1)" font-size="14.72">MU #5</text>
<text transform="translate(733.1 104.6) scale(0.9495 1)" font-size="14.72">MU #29</text>
<text transform="translate(733.1 153.8) scale(0.9495 1)" font-size="14.72">MU #63</text>
<path d="M791.1 78.5l106.6 0 0-5.6.1-3.7 0-8.3.1-23.4.1-3.4 0 .3.1 8 .1-2.4 0 18.7.1-10.4.1 10 0-12.4.1 19.2.1-14.1 0 .7.1 4 .1 5.4 0 1.4.1-3.2.1 2.9 0-7.6.1-7.1.1 5.4 0-1.8.1-.7 0 16.8.1-7.6.1-.9 0-6.1.1.8.1-2.4 0-6.5.1 9 .1-7.2 0-3.8.1 4.4.1.7 0-4.3.1 3.2.1 12 0 10.5.1.2.1-4.2 0-9.4.1 9.4.1-8.7 0 1.2.1-5.3.1 7.7 0 6.7.1-10.4 0 .4.1 11.1.1-4.4 0 5.3.1-2.2.1-12.1 0 3 .1-9 .1 18 0-17.2.1 6.1.1-9.3 0 5.7.1 6.5.1.1 0 7.3.1-14.1.1-.8 0 1.5.1 8.6.1 2.5 0-1.6.1-5.1.1 3.1 0 .5.1 5.2 0-2.5.1 5.4.1 0 0 2.8.1-2.8.1 2.1 0-2.3.1-6.2.1 2.3.1 1.1.1 1 0 3.2.1-.3.1-5.6 0-.4.1.4.1 4.5 0-.6.1 4 .1-2.9 0-5.6.1 4.2 0 .8.1-5.4.1-1.3 0 3.1.1-1.9.1.2 0-.3.1 3 .1 3.2 0-9.1.1 5.1.1 2.7 0-2.3.1 5.3.1-1.1 0-2.6.1 2.8.1-4.2 0 7.4.1-1.8.1-4.1 0 3 .1.1.1.7 0 2.9.1-.8 0 .8.1.7.1-4 0-.1.1-4.1.1 4.9 0 .7.1-7.5.1 7 0-6 .1 5.5.1 3.6 0-3.2.1-.4.1-1.7 0 3.4.1.8.1-.2 0-.6.1-1.8.1 1 0-.1.1 2.3.1 0 0 1.3.1.9 0 1.3.1.8.1.7 111.9 0" fill="none" stroke="#000" stroke-width="1.0" stroke-linejoin="round"/>
<path d="M791.1 122.5l102.2 0 0-.5.1-1.2.1-1.9 0-2.6.1 2.3.1-4.1 0-3.5.1-.8.1-1.5 0-1.8.1 6.6.1-3 0-8 .1-.9.1 1.9 0 2 .1 5.2 0-7.5.1 7 .1-5.9 0 6.9.1-4.2.1-5 0 2.6.1-.1.1 1.4 0 .2.1-14.3.1 5.9 0-3.7.1 15.3.1-18.3 0 2.7.1-4 .1 1.2 0-3.1.1 2.9.1-1 0 4.4.1 13.5.1-7.7 0-6.2.1-4.5 0 14 .1 6.9.1-18.4 0 10.4.1 5.5.1-16.8 0 7.9.1-9.7.1 11 0-.4.1 2.1.1-.7 0-18.3.1 21.7.1-11.5 0 13.3.1-19.1.1 11.6 0-5.6.1 12.1.1-18.4 0 10.3.1-1 .1-4.6 0 17.8.1-10.4 0-.5.1 3.4.1 10.4 0-6.7.1 6.4.1-7 0-7.9.1-4.5.1 1.7 0 15.4.1-16.7.1 0 0-1.8.1 19.5.1-9.2 0-7 .1 15.6.1-.7 0-10.9.1-4 .1-3.6 0 11.3.1-9.4 0 10.7.1-2.4.1-.6 0 1.7.1-8.1.1 11.2 0-7.2.1.7.1 4.7 0-3.4.1 8.6.1-9 0-4.6.1 6.1.1 1.7 0-2.2.1 4 .1 4 0 2 .1-8.6.1 1.1 0-4.3.1.1.1-1.4 0-1.9.1 3.5 0 3.9.1-3.5.1-.2 0 10.5.1-8.7.1 6 0-10.1.1 8.6.1-5.8 0 9.9.1-3.5.1 2.3 0-8.3.1 2.5.1-3.1 0 11.4.1.1.1-9.1 0-2.1.1-2.5.1 9.6 0-.5.1-1.5.1 1.5 0-2.1.1 4.2 0-5.9.1 6.9.1 2.1 0-16.3.1 13.4.1-16.9 0 10.6.1 3.8.1 4.6 0-7.4.1-3.1.1 1 0-3.9.1 9.5.1-8.6 0-2.4.1-1.5.1.4 0 9.2.1 3.6.1-10.5 0 10.7.1-10.3 0 4 .1-.3.1 3.5 0 1.5.1-3.2.1.2 0 2.6.1 3.3.1-1.8 0 .8.1-1.4.1 6 0-7 .1 3.7.1-4.9 0-.9.1 5.6.1-.9 0-4 .1 4 .1-7.9 0-1.9.1 12.7.1-8.4 0 1 .1-.4 0 4.9.1-2.7.1 7.6 0-6.4.1-.1.1-5.2 0-1.3.1 6.6.1 3.3 0-11 .1 2.6.1-.5 0 10.9.1.2.1-10.2 0 1.4.1-2.3.1 2.4 0 1.2.1 1.6.1 6.2 0-6.4.1-7.1.1 9.1 0-7.1.1-1.5 0 13.1.1-6.3.1-4.4 0-6 .1 15.9.1-11.4 0 2 .1-.8.1 8.7 0-16.9.1 6.6.1.3 0-5.2.1-.6.1 4.1 0 12.5.1-17.2.1.9 0 6.7.1-1 .1 11.9 0-.4.1-5 0-.9.1 5.3.1-2.2 0-3.8.1-9.4.1 10.6 0 1.2.1-3.3.1 1.7 0-5.8.1 11.3.1-5 0 .2.1-2 .1 3.7 0-.1.1 1.2.1-5.2 0-.5.1-2.9.1 6.3 0 .8.1.6.1-2.8 0 6.7.1-3.2 0-4 .1-.4.1-.5 0-11.5.1 16.1.1-7.8 0-3.5.1-.7.1 7.6 0 .7.1 0 .1-.3 0 1.3.1 1.3.1 3.6 0-4.7.1 2.5.1.3 0-4.8.1.5.1-.4 0-1.3.1 3 .1-2 0 5.9.1-11 0-2.3.1-.5.1 6.2 0-3.5.1-3.7.1 8.2 0 9.8.1-9.7.1 11.1 0-6.5.1 5.8.1-6.1 0 4.8.1-7.4.1 8.5 0-10.8.1 1.6.1 7.5 0-9.7.1 3.7.1-1.2 0 1.9.1-1.2 0-2.8.1-.1.1 6 0-.4.1 2 .1-6.2 0-5.9.1.2.1 1.8 0 3.9.1-3.4.1 8.6 0-6.1.1 7.5.1-.7 0-9.5.1-1.7.1.3 0-.4.1 9 .1-1.1 0-4 .1 1.6.1 7 0 4.3.1-.8 0-4.8.1 3.3.1-3.9 0 .4.1 1.2.1 2.1 0-.5.1 2.9.1 3.9 0 2 .1.7 103.3 0" fill="none" stroke="#000" stroke-width="1.0" stroke-linejoin="round"/>
<path d="M791.1 166.5l39.5 0 0-.1.1-.5.1-.6 0-.8.1.4.1-1.7 0 .1.1-.6 0-2.9.1.2.1.7 0-3.1.1-1.2.1 2.9 0-2 .1 4.2.1-4.4 0 2 .1-6.2.1 1 0 6.1.1-3.3.1.9 0 3.5.1-8.4.1 6 0-3.5.1 2.2.1-4.7 0 .7.1-2.6 0-1.5.1 8.6.1-5.3 0 .6.1.1.1-9.9 0 5 .1-5.3.1 8.7 0-1.3.1 1.5.1 3.6 0-3.7.1 6.2.1-3 0-3.1.1 2.6.1-4.8 0 .4.1-.5.1-1 0 8.8.1-2.4.1-8.4 0 1.6.1 9.2 0-13 .1 7.8.1-7.9 0 9.4.1 1.8.1-8.9 0-3.9.1 3.2.1 10.8 0-7.4.1 6 .1-1 0-5.7.1-1.2.1-2.1 0-.1.1 3.4.1-.7 0-.7.1-5.8.1 9.4 0-6.7.1.3.1 12.4 0-6.6.1-.5 0 .1.1 3.1.1 5 0 .3.1-3.8.1-.5 0-3.6.1 6.9.1-8.1 0 8 .1-1.3.1-3.9 0-.3.1-7 .1 2.7 0 9.9.1-1.5.1 2.9 0-.7.1-8.9.1-5.1 0 9 .1 4.1 0-5 .1-6 .1 9.5 0-.5.1-3.8.1 5.4 0-8.9.1 1.7.1-4.6 0-3.6.1 12.7.1-3.3 0 6 .1-7.7.1 1.9 0-5.7.1 5.6.1 3.8 0-3.4.1 8.5.1-10 0 7.2.1-9.6.1 9.6 0-10.3.1 6.4 0-6.4.1 9.4.1-3.2 0-1.4.1 5.6.1 1.3 0-6.1.1-1.4.1-3.4 0-3 .1 6.1.1 1.8 0-2.4.1.4.1-6.9 0-2.9.1.7.1 5 0 9.2.1-8.1.1 10.6 0-3.5.1-4 0-.9.1 1.2.1 7.1 0-6.9.1-2.6.1 2.9 0 2.1.1-4.9.1 7.5 0-8.3.1-.4.1 7.3 0-5.1.1-6 .1 4.5 0 3.2.1-5.3.1-2.3 0 2.3.1 7.4.1-6.4 0 5.8.1 1.1.1-6.2 0 4.3.1-1.2 0 1.6.1-4.3.1.8 0 1.5.1 7.1.1-7.9 0 9.1.1-6.1.1 6.2 0-8 .1-1.7.1-1.8 0-.6.1-.2.1 10.9 0-.2.1-2.9.1-5.6 0-1.8.1 5.8.1 2.5 0-10.6.1 3.1.1 3.1 0 .5.1.1 0-4.6.1 9.9.1-4.7 0 1.5.1-5.7.1 5.9 0-.7.1 3.4.1-3 0-2.5.1 2.7.1 3.4 0 1.4.1 2.5.1-10 0 5.1.1-1.2.1-5.8 0 1.3.1-2.8.1 11 0-8.3.1 1 0-2.2.1 1.8.1 1 0 3.2.1-2.7.1 3.8 0-5.6.1-.5.1-5.8 0-3.1.1 10.9.1-11.2 0-1.5.1 3.2.1-3.4 0 16.7.1-10.6.1 10.2 0-4.2.1 1.4.1 1.2 0-3.8.1 9.4.1-7.9 0-.6.1 4.9 0 1.1.1 2 .1-5.3 0-2.1.1-.5.1-1.4 0 3.5.1.2.1 2.4 0-9.3.1-1.1.1 4.2 0 1.7.1.7.1 1.2 0-.4.1-2.5.1 0 0-.2.1 2.5.1-5.9 0 .5.1 9.2.1-5.3 0 1.5.1-1.3 0-1.1.1-.5.1 5.8 0-2.7.1-1.3.1-2.3 0-8 .1-.6.1 16.5 0-2.5.1-7.9.1 10 0-11.9.1 1.4.1 12.3 0-10.3.1 10.8.1-12.5 0 4.5.1-1.7.1 2.4 0 5.8.1-6.3 0-2.5.1 6.2.1-.4 0 .2.1-8.3.1 4.5 0 5.1.1 4.1.1-.7 0-5.8.1 6.1.1-.1 0 1.1.1 2.9.1 2.5 0 .7 16.9 0 .1-.2.1-1.5 0-1.2.1-1 .1-2 0-1.3.1-1.4.1 2.1 0-.4.1-2.7.1-1.4 0-3.4.1 4.8.1-7.6 0 .7.1-3.2.1 8 0 2 .1-3.2.1 4.5 0-7.6.1-3.1.1 12.1 0-4.5.1-8.2 0-3.3.1 4.8.1 3.8 0-5.6.1-11.4.1 7.1 0 3.5.1-5.7.1 12.6 0 2.8.1-7.7.1 6.9 0 .1.1.4.1-4.4 0 .4.1 6.3.1.3 0-11.8.1 8.6.1-7.2 0 6.1.1-3.9.1-5 0 7.6.1-1.6 0-1.3.1 4.9.1-3.9 0-2.7.1-.1.1-4 0 6.3.1-4.5.1 5.2 0 1 .1-1.9.1-2.3 0 4.3.1-2.7.1.3 0 5.8.1-4.8.1.4 0 .4.1-4.6.1-5 0 1 .1 4.6 0 7.1.1-6.6.1-.8 0 3.9.1-2.2.1 4.8 0-7.2.1 10.3.1-8.8 0 6.4.1-1 .1.6 0 .4.1 4.6.1-6.7 0-3.9.1 9 .1-12.6 0 10.9.1-11.6.1 3.3 0 8.9.1 1.5.1-6.5 0-1.7.1 3.8 0-3.8.1 3.6.1-4.9 0 .6.1 10.8.1-4 0-13.9.1.7.1 13.9 0-8.4.1 10.7.1-2.9 0-.5.1-6.4.1 7.9 0-7.6.1-4.1.1 9.1 0-12.8.1 6.2.1 1.2 0 4.5.1-6.2 0 11.3.1-14.9.1 15.5 0-2.9.1 3.7.1.5 0-.3.1-3.4.1 1.3 0-.5.1-5.5.1-6 0-.7.1 13.8.1-15.2 0-3.5.1-.2.1 16.4 0-11.1.1 3.8.1-1.2 0 5.3.1 4.8.1-6.5 0-.2.1 6.5 0-11.1.1 4.9.1-1.9 0 7.6.1-10 .1 5.9 0 3.2.1-6.8.1-.1 0 8.8.1-5.3.1-4.5 0 2.3.1-6.8.1-2.7 0 6.2.1-4.9.1-1.3 0-9.7.1.4.1 18.5 0-11.2.1 3 .1 1 0-.9.1-5.5 0 2 .1-1.4.1 11.7 0-5.5.1-10.8.1 20.9 0-14.2.1-4.2.1 2.9 0 6.7.1-2.4.1-3.4 0 16.5.1-20.5.1 4.1 0 2.3.1 13.3.1-8.9 0 9.8.1-14.8.1 10.4 0-9.1.1 2.4 0-3.3.1 12.1.1-13.8 0 6.9.1-7.7.1 6.1.1 11.3.1.1 0-5.9.1 8.2.1 1 0 .3.1-7.7.1 4.7 0-10.9.1 1 .1-1.8 0 .2.1 2 .1-.7 0 .9.1 6.2.1-2 0-5.5.1 2.4 0-3.6.1 5.3.1 3.5 0-.8.1-.6.1 6.1 0-2.8.1 2.8.1-.1 0 .6.1-3.6.1-1.6 0 2.2.1.5.1-1.6 0 5.9.1-6.3.1.3 0-1.2.1.2.1 2.4 0-6.1.1 3.3.1 1 0-4.5.1 1.6 0 8.9.1-5.6.1-.3 0 4.2.1-1.4.1 3.2 0 1.4.1.3.1 2.7 0 .8.1 1.1 46.6 0 .1-.5.1-.6 0-.5.1-1.8.1-1.8 0 .4.1-.9.1-.6 0 .3.1-.3.1 1.4 0-2.7.1-.1.1-6.7 0-.6.1 4 .1 1.5 0-1.1.1 6 .1-9.8 0 7.3.1-3.5 0-3.5.1 6 .1-3.7 0-1.6.1-3.2.1-4.5 0 2 .1 9.7.1-5.7 0 .4.1-1.6.1 9.4 0-2.2.1.8.1.9 0 1.9.1.3.1-6.9 0-3 .1 1.6.1 2.3 0-2.1.1 5.2 0-4.1.1-5.6.1-2 .1 4.5.1-.4 0 1.1.1 1 .1-9.1 0 7.2.1-1.2.1-3.1 0 3 .1.2.1 3.9 0-5.8.1 2.3.1 4.8 0-4.1.1.7.1-2.4 0 4.8.1.1.1-4.1 0 3.2.1 3.3 0-8.4.1 3.6.1-.4 0 .5.1-2.5.1 2.7 0-5.2.1 2.2.1-1 0 .6.1-3.7.1.4 0 11.8.1-7.8.1-2.5 0 5 .1 1.3.1 2.2 0-9.1.1-.9.1-1 0 14.1.1-13.6.1 9.1 0-3.6.1.3 0 .8.1-3.2.1-1.9 0 8.9.1-4.2.1-1 0-.6.1 5.5.1-3.9 0-7.7.1 2.8.1.4 0 3.8.1-1.6.1 6.8 0-1.3.1 1.8.1-4.7 0-4.8.1-2 .1 4.6 0-6 .1 10.4 0-5.9.1 3.1.1-1.4 0 2.4.1 1.7.1-6.9 0-3.6.1 4 .1-3.6 0-.7.1 0 .1 9.7 0-9.3.1 6.8.1 2.4 0 3.2.1-13.7.1 2.2.1 13.4.1-7.1 0 2.4.1-6.9.1 12 0-1.6.1-3.9 0-6.6.1.4.1 2.1 0 6.4.1-3.7.1 3.1 0-.6.1-4.9.1 2.8 0 7.4.1-13.4.1 4.6 0 3.4.1 2.8.1 1.4 0-.4.1 2.4.1-6.9 0-4.6.1 5.4.1 2.6 0-10.6.1 4.8.1-4.2 0 3.7.1-7.5 0 10.3.1-10.2.1 3 0 11.1.1-11.1.1-1.2 0 2.8.1-3.2.1 1.9 0 6 .1-2.6.1 8.3 0-4.5.1-9.2.1 5 0-4.5.1 13.3.1-8.7 0-3.5.1 10.5.1.6 0-4.4.1-1.8 0-3.2.1 8.3.1-11.4 0-.1.1-1 .1 9.5 0 3.9.1-9 .1 6.4 0 1.8.1-2.4.1-9.8 0-5.2.1.3.1 1.8 0-6 .1 5.8.1-2.7 0 14.5.1-.1.1 2.9 0-1.5.1-1.4.1.6 0 1.7.1-8 0 10.1.1-5.8.1-4.3 0-4 .1 5.1.1 1.3 0 9.4.1-9.7.1 5.2 0-3.6.1 3.8.1-8.7 0 5.6.1 6.1.1-2.5 0-3.7.1 1.2.1-1.6 0 3.1.1-.3.1 3.4 0-6.8.1-3.4.1 6.4 0-.5.1-2.8 0-.1.1.3.1 8 0-11.3.1 2.2.1 7.4 0-.4.1-3.3.1 2 0-3 .1-3 .1 11.1 0-.4.1-3.7.1-2.6 0 .7.1-.2.1 2.1 0-2.8.1-2.3.1 2.9 0 2.1.1-1.7 0 5.2.1.3.1-4.7 0 7.1.1-3.9.1 3.9 0-3.3.1.1.1 1.8 0-1.1.1 2.4.1.4 0 2.1.1 1.5.1 1.5 0 .4 11.7 0 .1-.5.1-.5 0 .2.1-1.4 0-.1.1-1.6.1-.5 0 1.1.1-3.8.1-1.7 0 3.4.1-4.3.1.7 0 1.6.1-2.2.1.5 0-1 .1 2.1.1.6 0-4 .1-1.9.1 1.2 0 2.2.1-3.9.1.7 0 1.7.1 3.3.1-8.2 0 1.3.1 4.7 0-2.4.1-2.4.1 9.3 0-4.3.1 3.4.1-7.1 0 1.6.1 3.8.1.1 0 .7.1-1.7.1-.6 0 2.5.1-.7.1-5.1 0 5.1.1.2.1-5.5 0 3.8.1-4.4.1 2.6 0 2.6.1-1.2.1.4 0-1.5.1.4 0 5.2.1-6.6.1 5 0-4.1.1-1.4.1-3.6 0 6.1.1-7.8.1 3.2 0-4.3.1 2.6.1 5.2 0-4.7.1 2 .1 3.9 0 1.8.1-7.1.1 2.4 0-6.4.1 3.9.1-3.1 0-3.4.1 11.2 0-12.5.1 15 .1-8.9 0 3.7.1-.4.1.7 0 4.7.1-9.8.1-6.1 0 10.6.1-2 .1.1 0-.2.1-.1.1 2.4 0-7.8.1-7 .1 18.2 0-9.3.1 1.8.1.5 0-.4.1 6.1.1 1.3 0-3.5.1-2.1 0 5.8.1-10.7.1-.9 0 11.9.1-10.5.1 7.3 0-4.6.1 1.6.1 4 0-2.3.1-5.6.1-.8 0 7.8.1.8.1-6.7 0 .8.1 4.8.1-3.1 0 8.3.1-.4.1.2 0-7.9.1.8 0-7.4.1-.8.1.3 0 1.8.1-1.9.1 7.3 0 2.4.1-9.5.1 1.7 0 7.8.1 4.4.1-3.9 0-2.5.1 6.7.1-10.3 0 1.8.1 8.6.1 2.7 0-8.4.1-1.3.1-4.3 0 7.4.1 2.2.1-3.5 0-12 .1 9.3 0-9.4.1 3.1.1 6.5 0-2.7.1-5.3.1 14.4 0-.3.1 2.3.1-3.7 0-6.8.1-1.6.1 5.2 0-7.5.1 7.6.1-.8 0 3.2.1-16.7.1-3 0 13.6.1 3.2.1-10.4 0-8.2.1 7.1.1 4.5 0-.4.1-9 0 2.4.1 16.5.1-14.5 0 6.7.1-3.6.1-8.6 0 10.8.1-7.2.1 10.2 0 2.3.1 2.3.1-8.3 0 5.7.1-3.7.1 1.1 0 6.4.1.4.1-10.6 0 1.9.1-9.5.1 3.2 0-.6.1-1 0 5.5.1 12.5.1-16.2 0 8 .1-4.1.1-6.6 0 3.9.1.4.1 8 0-5.8.1 2.8.1 8.7 0-12.9.1 1.3.1-8.8 0 13.2.1-7 .1-4.2 0 10.3.1 4.3.1-7 0 .1.1-.7.1.3 0 2.3.1-2.2 0 3.7.1-1 .1-4.4 0-1.3.1 16.6.1-15 0 4.7.1 1.7.1-4.3 0 3.6.1-14.9.1-2.4 0 11.2.1-10 .1 11.5 0-7.1.1-2.7.1.9 0 10.7.1-3.6.1-9.8 0 9.1.1-10.9.1 19.7 0-1.7.1-28.3 0 18.6.1-15.4.1 4.3 0 16.4.1-16 .1 10.4 0-.4.1-2.2.1 2.4 0 3.5.1 14.9.1-7.6 0-1.7.1-19 .1 10.6 0-7.3.1 4 .1 14.2 0-20.6.1 4.8.1-3.6 0 2 .1 2.3 0-.9.1-6 .1 7.2 0-13.7.1 13.9.1-.4 0 3.7.1-9.9.1 24.3 0-10.8.1 4.7.1-8.8 0 9.4.1-7.7.1 11.2 0-7 .1-2.1.1 12.9 0-7.8.1-2.3.1 1 0 1.7.1 4.5.1 4.3 0-2.3.1 2 0-4.1.1 3.5.1 2.7 0-6.5.1-3.8.1.3 0 4.9.1 3.4.1-1.7 0-2 .1 9.4.1-2.2 0 1.4.1-2.3.1.9 0 2 .1-2.8.1 1.7 0 1.4.1.2.1 2.2 0 .3.1 0 .1-.9 0 .8.1.5 0 .6.1.1.1.8 0 .4.1.2.1.1 8.4 0 .1-.8 0-1.1.1-1 .1-.3 0-.3.1-1.3.1-.3 0 1.9.1-3.2.1 2.3 0-1.5.1-2.1 0-4.9.1.9.1-3.9 0 5.1.1-4.7.1 3.3 0-4.3.1-.3.1 4.7 0-4 .1 2.3.1 6.2 0-1.8.1.7.1-5.9 0-.6.1 5.7.1-1.3 0-2.1.1 2.5.1-4.9 0-2.7.1 1.3.1 2.6 0 2.3.1 2.8 0-3.9.1 2.9.1 4.1 0-5 .1 1.8.1 1.1 0-4.2.1 4.1.1-3.4 0-1.7.1-6.7.1 4.9 0 5.6.1-9.2.1.2 0 9.4.1-1.8.1-8.2 0-.9.1 4.6.1 1.1 0-1.8.1 1.4.1 3.1 0-.8.1-6.4 0-1.8.1-.1.1 2.4 0 5.5.1-6.5.1 11.4 0 1.4.1-8.5.1.4 0 4 .1 5.5.1-5.8 0-3.5.1 2.4.1-3.4 0 6.1.1-6 .1-2.6 0 8.4.1-4.1.1 3.9 0-2.6.1 3.6 0-2.6.1 6 .1-9.6 0 3.2.1-2.3.1-2.6 0 7.6.1-7.9.1 3.6 0 1.4.1 3.3.1-1.7 0-8.8.1.2.1-.8 0 2.8.1 6.9.1-3.5 0-1.2.1-4.6.1 7.6 0-1.9.1-2.1.1 3.4 0 2.1.1-1.5 0-8.4.1 8.4.1 1.3 0-1.6.1-6.2.1 5.4 0-4.1.1-1.3.1.8 0-4.4.1 5.3.1-4 0 12.3.1-7.8.1 4.1 0-6.1.1 1.5.1 6.5 0-9.4.1 11.3.1-9.1 0-3.6.1 2.7.1 9.5 0-3.2.1-2.7 0-1.3.1-2 .1 4.1 0 5.5.1-2 .1-5.1 0 1.8.1 3.3.1-5.4 0-.5.1 4.1.1 3.7 0-3.2.1-1.9.1-2.1 0-4.3.1-3.3.1 1.5 0 3.5.1-.8.1 1.3 0 1 .1.6 0 2.3.1 1.8.1-2.4 0 1.8.1-7.1.1 1.5 0-.8.1 5.1.1-2.3 0-5 .1 7.2.1-.2 0-3.7.1 7.8.1-6.8 0 3.6.1.6.1-3.2 0-.3.1 7.9.1-8.9 0-1.5.1 1.1.1.4 0-2.7.1 3.2 0-3.1.1 3.8.1.3 0 2.6.1 3 .1-2.8 0 3.9.1 1.2.1-2.1 0 1.8.1-4.2.1-7.4 0-.7.1 7.6.1-4.1 0-5.9.1 9.5.1-4.4 0-2.7.1-.4.1-.5 0 5.8.1-6.8 0 5.6.1-1.2.1 1.8 0 .6.1.2.1 1.2 0 3.5.1-3.9.1 2.1 0-3.4.1.6.1-.9 0-2.1.1 5.1.1-1.4 0-7.3.1 5.8.1 4.5 0-8.6.1 7.4.1 5.1 0-5.2.1 1.8.1-.7 0 5.4.1-9.1 0 5.8.1-3.8.1 3.3 0-1.5.1 1 .1 1.7 0-5 .1 4.7.1-1 0 1.7.1.1.1-3 0 1 .1-3.5.1 2.1 0-6.7.1 7 .1-2.8 0 4.8.1-12 .1-5.8 0-2.5.1 1.9.1-1 0-3.8.1 5.3 0 4 .1 2.6.1-5 0 2.7.1 1 .1.8 0-.4.1 2.7.1-.9 0-8.4.1.4.1 12 0-5.8.1 1.2.1-.6 0 5.6.1 6.7.1-3.5 0-6 .1-3.2.1 1.5 0 7.6.1-13.7 0 9.4.1 5.8.1-7.4 0-10.9.1 8.8.1 1.1 0 4.9.1-15.1.1 2.5 0 9.6.1 1.1.1-3.5 0-5.4.1 13.1.1-6.1 0-7.5.1 8.9.1 5.3 0-.8.1-13.3.1 6 0-.7.1-2.9.1 8.1 0-3.5.1 2.9 0 3.4.1 2.3.1-5 0-8 .1 1.8.1 6.5 0 1.5.1.4.1-.3 0-2.3.1 8.2.1-8.7 0 .1.1-2.4.1 9.4 0-1.8.1 2.9.1-7.1 0 5.3.1 5 .1-.2 0 .6.1.2.1-.6 0 .1.1 1.2 0 .7.1 2 4.6 0" fill="none" stroke="#000" stroke-width="1.0" stroke-linejoin="round"/>
<text transform="translate(791.7 180.2) scale(0.9495 1)" font-size="14.72" text-anchor="middle">0</text>
<text transform="translate(824.4 180.2) scale(0.9495 1)" font-size="14.72" text-anchor="middle">50</text>
<text transform="translate(857 180.2) scale(0.9495 1)" font-size="14.72" text-anchor="middle">100</text>
<text transform="translate(889.7 180.2) scale(0.9495 1)" font-size="14.72" text-anchor="middle">150</text>
<text transform="translate(922.3 180.2) scale(0.9495 1)" font-size="14.72" text-anchor="middle">200</text>
<text transform="translate(955 180.2) scale(0.9495 1)" font-size="14.72" text-anchor="middle">250</text>
<text transform="translate(987.6 180.2) scale(0.9495 1)" font-size="14.72" text-anchor="middle">300</text>
<text transform="translate(1018.2 180.2) scale(0.9495 1)" font-size="14.72" text-anchor="middle">350</text>
<text transform="translate(883.2 197.5) scale(0.9495 1)" font-size="14.72">Time (s)</text>
<line x1="885.5" y1="213" x2="885.5" y2="232.6" stroke="#000" stroke-width="1"/>
<path d="M885.5 241.6l-3.2-10 3.2 2.8 3.2-2.8z" fill="#000"/>
<text transform="translate(893.4 232.5) scale(0.9495 1)" font-size="14.72">NMF</text>
<text transform="translate(391.7 287) scale(0.9174 1)" font-size="17.99" font-weight="bold">D</text>
<path d="M427.8 258.6h2v2h-2zM427.8 517.6h2v2h-2zM434.9 258.6h2v2h-2zM434.9 517.6h2v2h-2zM441.9 258.6h2v2h-2zM441.9 517.6h2v2h-2zM449 258.6h2v2h-2zM449 517.6h2v2h-2zM456 258.6h2v2h-2zM456 517.6h2v2h-2zM463.1 258.6h2v2h-2zM463.1 517.6h2v2h-2zM470.1 258.6h2v2h-2zM470.1 517.6h2v2h-2zM477.2 258.6h2v2h-2zM477.2 517.6h2v2h-2zM484.3 258.6h2v2h-2zM484.3 517.6h2v2h-2zM491.3 258.6h2v2h-2zM491.3 517.6h2v2h-2zM498.4 258.6h2v2h-2zM498.4 517.6h2v2h-2zM505.4 258.6h2v2h-2zM505.4 517.6h2v2h-2zM512.5 258.6h2v2h-2zM512.5 517.6h2v2h-2zM519.5 258.6h2v2h-2zM519.5 517.6h2v2h-2zM526.6 258.6h2v2h-2zM526.6 517.6h2v2h-2zM533.7 258.6h2v2h-2zM533.7 517.6h2v2h-2zM540.7 258.6h2v2h-2zM540.7 517.6h2v2h-2zM547.8 258.6h2v2h-2zM547.8 517.6h2v2h-2zM554.8 258.6h2v2h-2zM554.8 517.6h2v2h-2zM561.9 258.6h2v2h-2zM561.9 517.6h2v2h-2zM568.9 258.6h2v2h-2zM568.9 517.6h2v2h-2zM576 258.6h2v2h-2zM576 517.6h2v2h-2zM583.1 258.6h2v2h-2zM583.1 517.6h2v2h-2zM590.1 258.6h2v2h-2zM590.1 517.6h2v2h-2zM597.2 258.6h2v2h-2zM597.2 517.6h2v2h-2zM604.2 258.6h2v2h-2zM604.2 517.6h2v2h-2zM611.3 258.6h2v2h-2zM611.3 517.6h2v2h-2zM618.3 258.6h2v2h-2zM618.3 517.6h2v2h-2zM625.4 258.6h2v2h-2zM625.4 517.6h2v2h-2zM632.5 258.6h2v2h-2zM632.5 517.6h2v2h-2zM639.5 258.6h2v2h-2zM639.5 517.6h2v2h-2zM646.6 258.6h2v2h-2zM646.6 517.6h2v2h-2zM653.6 258.6h2v2h-2zM653.6 517.6h2v2h-2zM660.7 258.6h2v2h-2zM660.7 517.6h2v2h-2zM667.7 258.6h2v2h-2zM667.7 517.6h2v2h-2zM674.8 258.6h2v2h-2zM674.8 517.6h2v2h-2zM681.9 258.6h2v2h-2zM681.9 517.6h2v2h-2zM688.9 258.6h2v2h-2zM688.9 517.6h2v2h-2zM696 258.6h2v2h-2zM696 517.6h2v2h-2zM703 258.6h2v2h-2zM703 517.6h2v2h-2zM710.1 258.6h2v2h-2zM710.1 517.6h2v2h-2zM717.1 258.6h2v2h-2zM717.1 517.6h2v2h-2zM724.2 258.6h2v2h-2zM724.2 517.6h2v2h-2zM731.2 258.6h2v2h-2zM731.2 517.6h2v2h-2zM738.3 258.6h2v2h-2zM738.3 517.6h2v2h-2zM745.4 258.6h2v2h-2zM745.4 517.6h2v2h-2zM752.4 258.6h2v2h-2zM752.4 517.6h2v2h-2zM759.5 258.6h2v2h-2zM759.5 517.6h2v2h-2zM766.5 258.6h2v2h-2zM766.5 517.6h2v2h-2zM773.6 258.6h2v2h-2zM773.6 517.6h2v2h-2zM780.6 258.6h2v2h-2zM780.6 517.6h2v2h-2zM787.7 258.6h2v2h-2zM787.7 517.6h2v2h-2zM794.8 258.6h2v2h-2zM794.8 517.6h2v2h-2zM801.8 258.6h2v2h-2zM801.8 517.6h2v2h-2zM808.9 258.6h2v2h-2zM808.9 517.6h2v2h-2zM815.9 258.6h2v2h-2zM815.9 517.6h2v2h-2zM823 258.6h2v2h-2zM823 517.6h2v2h-2zM830 258.6h2v2h-2zM830 517.6h2v2h-2zM837.1 258.6h2v2h-2zM837.1 517.6h2v2h-2zM844.2 258.6h2v2h-2zM844.2 517.6h2v2h-2zM851.2 258.6h2v2h-2zM851.2 517.6h2v2h-2zM858.3 258.6h2v2h-2zM858.3 517.6h2v2h-2zM865.3 258.6h2v2h-2zM865.3 517.6h2v2h-2zM872.4 258.6h2v2h-2zM872.4 517.6h2v2h-2zM879.4 258.6h2v2h-2zM879.4 517.6h2v2h-2zM886.5 258.6h2v2h-2zM886.5 517.6h2v2h-2zM893.6 258.6h2v2h-2zM893.6 517.6h2v2h-2zM900.6 258.6h2v2h-2zM900.6 517.6h2v2h-2zM907.7 258.6h2v2h-2zM907.7 517.6h2v2h-2zM914.7 258.6h2v2h-2zM914.7 517.6h2v2h-2zM921.8 258.6h2v2h-2zM921.8 517.6h2v2h-2zM928.8 258.6h2v2h-2zM928.8 517.6h2v2h-2zM935.9 258.6h2v2h-2zM935.9 517.6h2v2h-2zM943 258.6h2v2h-2zM943 517.6h2v2h-2zM950 258.6h2v2h-2zM950 517.6h2v2h-2zM957.1 258.6h2v2h-2zM957.1 517.6h2v2h-2zM964.1 258.6h2v2h-2zM964.1 517.6h2v2h-2zM971.2 258.6h2v2h-2zM971.2 517.6h2v2h-2zM978.2 258.6h2v2h-2zM978.2 517.6h2v2h-2zM985.3 258.6h2v2h-2zM985.3 517.6h2v2h-2zM427.8 265.6h2v2h-2zM985.3 265.6h2v2h-2zM427.8 272.6h2v2h-2zM985.3 272.6h2v2h-2zM427.8 279.6h2v2h-2zM985.3 279.6h2v2h-2zM427.8 286.6h2v2h-2zM985.3 286.6h2v2h-2zM427.8 293.6h2v2h-2zM985.3 293.6h2v2h-2zM427.8 300.6h2v2h-2zM985.3 300.6h2v2h-2zM427.8 307.6h2v2h-2zM985.3 307.6h2v2h-2zM427.8 314.6h2v2h-2zM985.3 314.6h2v2h-2zM427.8 321.6h2v2h-2zM985.3 321.6h2v2h-2zM427.8 328.6h2v2h-2zM985.3 328.6h2v2h-2zM427.8 335.6h2v2h-2zM985.3 335.6h2v2h-2zM427.8 342.6h2v2h-2zM985.3 342.6h2v2h-2zM427.8 349.6h2v2h-2zM985.3 349.6h2v2h-2zM427.8 356.6h2v2h-2zM985.3 356.6h2v2h-2zM427.8 363.6h2v2h-2zM985.3 363.6h2v2h-2zM427.8 370.6h2v2h-2zM985.3 370.6h2v2h-2zM427.8 377.6h2v2h-2zM985.3 377.6h2v2h-2zM427.8 384.6h2v2h-2zM985.3 384.6h2v2h-2zM427.8 391.6h2v2h-2zM985.3 391.6h2v2h-2zM427.8 398.6h2v2h-2zM985.3 398.6h2v2h-2zM427.8 405.6h2v2h-2zM985.3 405.6h2v2h-2zM427.8 412.6h2v2h-2zM985.3 412.6h2v2h-2zM427.8 419.6h2v2h-2zM985.3 419.6h2v2h-2zM427.8 426.6h2v2h-2zM985.3 426.6h2v2h-2zM427.8 433.6h2v2h-2zM985.3 433.6h2v2h-2zM427.8 440.6h2v2h-2zM985.3 440.6h2v2h-2zM427.8 447.6h2v2h-2zM985.3 447.6h2v2h-2zM427.8 454.6h2v2h-2zM985.3 454.6h2v2h-2zM427.8 461.6h2v2h-2zM985.3 461.6h2v2h-2zM427.8 468.6h2v2h-2zM985.3 468.6h2v2h-2zM427.8 475.6h2v2h-2zM985.3 475.6h2v2h-2zM427.8 482.6h2v2h-2zM985.3 482.6h2v2h-2zM427.8 489.6h2v2h-2zM985.3 489.6h2v2h-2zM427.8 496.6h2v2h-2zM985.3 496.6h2v2h-2zM427.8 503.6h2v2h-2zM985.3 503.6h2v2h-2zM427.8 510.6h2v2h-2zM985.3 510.6h2v2h-2z" fill="#148a8a"/>
<text transform="translate(515.5 273.7) scale(0.9495 1)" font-size="14.72">Activation signals, H</text>
<line x1="492.5" y1="277.7" x2="492.5" y2="301.2" stroke="#8a8a8a" stroke-width="0.6" stroke-dasharray="2.2,1.8"/>
<line x1="525.1" y1="277.7" x2="525.1" y2="301.2" stroke="#8a8a8a" stroke-width="0.6" stroke-dasharray="2.2,1.8"/>
<line x1="557.7" y1="277.7" x2="557.7" y2="301.2" stroke="#8a8a8a" stroke-width="0.6" stroke-dasharray="2.2,1.8"/>
<line x1="590.2" y1="277.7" x2="590.2" y2="301.2" stroke="#8a8a8a" stroke-width="0.6" stroke-dasharray="2.2,1.8"/>
<line x1="622.8" y1="277.7" x2="622.8" y2="301.2" stroke="#8a8a8a" stroke-width="0.6" stroke-dasharray="2.2,1.8"/>
<line x1="655.4" y1="277.7" x2="655.4" y2="301.2" stroke="#8a8a8a" stroke-width="0.6" stroke-dasharray="2.2,1.8"/>
<path d="M459.9 300.8l.3-.2.2.1.3.3.2-.1.3.1.2-.1.3-.2.2.5.3-.4.2.2.3-.3.2.2.3.2.3-.2.2-.1.3.2.2-.1.3.2.2.1.3-.3.2 0 .3.1.2-.1.3-.1.2.2.3.2.3-.2.2-.2.3.4.2-.4.3.3.2.1.3-.4.2.1.3.3.2-.2.3-.2.2 0 .3.2.2-.1.3 0 .3.2.2-.2.3 0 .2.2.3-.1 1 0 .2-.2.3.1.2-.1.3 0 .3.1.2-.3.3.5.2-.3.3.2.2-.3.3 0 .2.5.3-.1.2-.2.3 0 .2-.1.3.1.5 0 .3.1.2-.1.3.3.2-.3.3.2.2-.3.3.2.2.1.3-.2.2.1.3.1.3.1.2-.2.3-.1.2-.1.3.2.2-.2.3.2.2-.1.3 0 .2-.1.3.2.8 0 .2.1.3-.2.2.1.3 0 .2.2.3-.3.2 0 .3.1.2-.4.3.3.2-.2.3.1.2.2.3 0 .3-.1.5 0 .2.1.3.2.2-.2.3.2.2-.3.3.2.2-.1.3 0 .2-.1.3.3.8 0 .2-.1.3-.3.2.3.3-.2.2.2.3-.2.2.1.3 0 .2-.1.3-.2.3.2.2 0 .3.2.2-.2.3.1.2-.2.3.2.2-.3.3.5.2-.2.3-.1.2.1.3.1.3-.1.2.2.3-.2.2-.4.3.2.2.3.3 0 .2-.1.3-.1.2.2.3-.1.2-.1.3 0 .2.1.3.1.3.1.2-.1.3.1.2-.3.3.1.2-.1.3-.2.2.1.3.3.2-.2.3-.1.2.3.3 0 .3-.2.2.3.3-.5.2.5.3-.1.2-.1.5 0 .3-.1.2.1.3-.2.2.4.3-.2.3.1.2-.1.3-.1.2.2.3 0 .2-.3.3.1.2.1.3-.4.2 0 .3.5.2-.1.3-.4.3.2.2.1.3 0 .2.1.5 0 .3-.3.2.2.3-.1.5 0 .2.1.3-.4.3-.2.2.1.3-.1.2.1.3 0 .2-.2.3 0 .2-.1.3-.3.2-.3.3 0 .2.3.3 0 .2.2.8 0 .3.3.2.3.3-.3.2.7.3-.4.5 0 .2.4.3-.1.2-.5.3.3.3 0 .2-.1.3-.3.2.3.3.3.2-.2.3.1.2.2.3-.1.2-.2.3.2.2-.1.3 0 .3-.5.2.6.3-.1.2 0 .3-.1.2-.1.3.2.2.1.3.2.2-.2.3-.2.2 0 .3.3.3-.2.7 0 .3-.1.2.4.3-.2.2-.4.3.7.2-.4.5 0 .3.2.3-.2.2 0 .3-.1.2.3.3-.2.2 0 .3.1.2-.1.3 0 .2-.2.3.2.2-.2.8 0 .3.2.2 0 .3-.1.2.2.3-.2.2.2.3 0 .2.2.3-.2.2-.1.3-.1.2 0 .3.2.5 0 .3-.1.2.1.3-.2.2-.1.3.3.2.2.3-.1.5 0 .2-.4.3.1.3.4.2-.3.3-.2.2.3.3.1.2-.1.3-.2.2.1.3-.1.7 0 .3.1.3.1.2-.1.3-.3.2 0 .3-.1.2.1.3 0 .2-.1.3.2.2.2.3-.2.2 0 .3.2.3.4.2-.1.3-.1.2.1.3-.2.2-.1.3.2.2.1.3-.4.2.3.3.1.2-.2.3-.1.2.2.3-.2.3.3.2 0 .3-.1.2-.1.3.1.2-.1.3.1.2-.4.3.5.2-.3.3.1.2 0 .3-.1.5 0 .3.1.2.1.3.1.2-.2.3 0 .2-.2.3.2.2-.1.3-.1.2.2.3.3.3-.1.2.1.3-.4.2.3.3-.4.2.2.3-.2.2.1.3.2.2 0 .3-.1.2 0 .3.1.3-.1.2-.2.3.5.2-.3.3.1.2-.1.5 0 .3-.1.2.3.3-.3.2.2.3-.1.3-.1.2.4.3-.2.2-.1.3-.2.2.3.3-.1.2.2.3-.3.2-.2.3.3.2.1.3.2.2-.4.3-.3.3.3.2 0 .3.1.2.2.3-.3.2.3.3-.2.2 0 .3-.1.2.1.3 0 .2.1.3.1.3-.2.2.2.5 0 .3-.1.2.2.3-.1.2 0 .3-.2.2 0 .3-.3.2.5.3-.1.3-.2.2.2.3 0 .2-.4.3.4.2.2.3-.1.2-.3.3.1.2.3.3-.1.2-.2.3-.1.3.2.2-.1.3-.1.2.4.3-.3.2 0 .3.1.2.2.3-.3.2-.1.3-.1.2.5.3-.7.2.6.3-.4.3.1.2 0 .3.1.2.2.3-.3.2.2.3.2.2-.6.3.2.2-.2.3.6.2-.5.3 0 .3-.1.2.4.3.1.2-.1.3.2.2-.1.3-.2.2.2.3-.1.2 0 .3-.4.2.1.3.2.3-.2.2.4.3-.1.2-.2.3.2.2-.1.3.2.2-.2.3-.2.2.3.3-.1.2.1.3.1.3 0 .2-.4.3-.2.2.3.3.2.2-.2.3.2.2-.2.3 0 .2.1.3 0 .2.1.3 0 .3.2.2-.2.3.2.2-.3.3.1.2-.1.3-.1.2.3.3 0 .2-.1.3-.2.2-.2.3.2.2.1.3-.2.3.4.2-.4.3.3.2.2.3-.7.2.1.3.4.2-.2.3.1.2 0 .3.2.2-.1.3-.2.3.1.2-.2.3.1.2-.3.3.5.2-.1.3.2.2 0 .3-.3.2.2.3-.1.2 0 .3.2.3-.2.2.1.3-.1.2-.2.3 0 .2.3.3 0 .2-.1.3 0 .2-.2.3-.2.2.2.3.1.3.1.2.1.5 0 .3-.1.2 0 .3-.1.2.1.3 0 .2.2.3-.5.2.2.3-.2.3.2.2-.1.3.2.2-.1.3-.2.2.5.3-.5.2 0 .3.2.2 0 .3-.2.2.5.3-.3.2.2.3-.1.3 0 .2-.1.5 0 .3.2.2-.4.3.1.2 0 .3.1.2.1.3-.1.2 0 .3.2.3-.3.2-.4.3.9.2-.5.3.1.2 0 .3-.2.2.5.3-.2.2-.3.3.3.2.1.3-.2.3.1.2-.3.3.4.2-.3.3.4.2-.4.3.2.2.3.3-.4.2.2.3-.1.2-.4.3.4.3-.2.2-.5.3 0 .2-.2.3.1.2-.2.3-.5.2-.2.3.3.2 0 .3-.5.2 0 .3.1.3-1.2.2-.3.3.5.2 0 .3-.6.2-1.9.3.4.2-1.1.3-1.3.2-1 .3.3.2-2.1.3 1.4.2-1.4.3.5.3-3.9.2 1.5.3.5.2-.9.3-.5.2-2.4.3 4.5.2-1 .3-1.5.2-5.9.3 3.4.2 1.8.3-1.8.3-2.8.2 4.8.3 0 .2-3.4.3 1.4.2-.2.3 2.1.2-5 .3.2.2 2.2.3-.1.2 5.8.3-6.2.3 2 .2-1.5.3-.7.2 2 .3 3.5.2-5 .3 2.5.2-1 .3.4.2-.8.3 4.3.2-8.5.3 1.9.3-2.4.2-2.3.3 4.6.2 4.2.3-2.3.2.8.3-2.2.2-1.7.3 5.8.2-5.8.3 5.4.2-4.2.3 1.3.3 1.1.2-.2.3 1.7.2.8.3 2.7.2-3 .3-2.3.2.6.3 2 .2 1.7.3 2.6.2-2.2.3 2.4.2.9.3.7.3.4.2 1.1.3.6.2 1.1.3.1.2-.8.3 2.2.2.2.3.4.2.4.3.7.2.2.3.1.3.5.2 0 .3-.3.2.2.8 0 .2.1.3-.3.2.3.3-.4.2.1.3.1.3 0 .2.2.3.1.2 0 .3-.2.2 0 .3.1.2-.2.3.4.2-.4.3.2.2-.1.3-.1.3.2.2.1.3-.1.2-.1.3-.1.2-.1.3.3.2.1.3-.2.2-.1.3.3.2-.5.3.3.2 0 .3-.2.3 0 .2.1.3-.2.2.3.3-.2.2 0 .3.1.2-.1.3 0 .2.1.3.2.2 0 .3-.3.3.3.2-.2.5 0 .3.3.2-.2.3-.2.2.2.3-.3.2.6.3-.4.2.2.3-.3.3.5.2-.4.3.1.2-.1.3.2.2 0 .3-.4.2.4.3 0 .2-.1.3.1.2-.2.3-.2.3.3.2.1.3-.4.2 0 .3-.1.2 0 .3.3.2-.3.3-.2.2.1.3-.5.2.4.3-.8.3.5.2 0 .3-.7.2.2.3.5.2.3.3-.2.2-.2.3.6.2.2.3-.3.2.2.3.2.2-.1.3.2.3-.2.2.2.3-.3.2 0 .3.5.2-.3.3 0 .2-.1.3.1.2.2.3 0 .2-.2.3.3.3.2.2-.5.3.3.2-.1.3.2.2 0 .3-.1.2 0 .3-.1.2.3.3-.3.2.2.3.1" fill="none" stroke="#000" stroke-width="1.25" stroke-linejoin="round"/>
<rect x="459.9" y="277.7" width="228.1" height="23.5" fill="none" stroke="#606060" stroke-width="0.8"/>
<line x1="459.9" y1="301.2" x2="461.9" y2="301.2" stroke="#606060" stroke-width="0.7"/>
<line x1="686" y1="301.2" x2="688" y2="301.2" stroke="#606060" stroke-width="0.7"/>
<line x1="459.9" y1="289.4" x2="461.9" y2="289.4" stroke="#606060" stroke-width="0.7"/>
<line x1="686" y1="289.4" x2="688" y2="289.4" stroke="#606060" stroke-width="0.7"/>
<line x1="459.9" y1="277.7" x2="461.9" y2="277.7" stroke="#606060" stroke-width="0.7"/>
<line x1="686" y1="277.7" x2="688" y2="277.7" stroke="#606060" stroke-width="0.7"/>
<text transform="translate(455.6 306.4) scale(0.9495 1)" font-size="14.72" text-anchor="end">0</text>
<text transform="translate(455.6 282.9) scale(0.9495 1)" font-size="14.72" text-anchor="end">0.4</text>
<line x1="492.5" y1="312.4" x2="492.5" y2="336.7" stroke="#8a8a8a" stroke-width="0.6" stroke-dasharray="2.2,1.8"/>
<line x1="525.1" y1="312.4" x2="525.1" y2="336.7" stroke="#8a8a8a" stroke-width="0.6" stroke-dasharray="2.2,1.8"/>
<line x1="557.7" y1="312.4" x2="557.7" y2="336.7" stroke="#8a8a8a" stroke-width="0.6" stroke-dasharray="2.2,1.8"/>
<line x1="590.2" y1="312.4" x2="590.2" y2="336.7" stroke="#8a8a8a" stroke-width="0.6" stroke-dasharray="2.2,1.8"/>
<line x1="622.8" y1="312.4" x2="622.8" y2="336.7" stroke="#8a8a8a" stroke-width="0.6" stroke-dasharray="2.2,1.8"/>
<line x1="655.4" y1="312.4" x2="655.4" y2="336.7" stroke="#8a8a8a" stroke-width="0.6" stroke-dasharray="2.2,1.8"/>
<path d="M459.9 336.7l.3-.1.2-.2.3 0 .2.2.3-.3.2.3.3-.2.2.1.3.1.2-.2.3.2.2-.4.3.4.3-.5.2.5.3-.2.2.2.3 0 .2-.1.3-.2.2.4.3-.5.2.3.3 0 .2-.1.3 0 .3.3.2-.5.3.2.2.2.3 0 .2.1.3 0 .2-.3.3.2.2 0 .3-.1.2-.3.3.4.2 0 .3-.4.3.2.2 0 .3.1.2.2.3-.1.2-.1.3 0 .2-.1.8 0 .2.2.3.1.3-.2.2.1.3-.1.2 0 .3.1.2 0 .3-.1.2-.1.3.2.2-.3.3.2.2.1.3-.2.3-.2.2.4.3-.3.2 0 .3-.1.2.4.3-.5.2.4.5 0 .3-.2.2.2.3 0 .3-.2.2.3.3 0 .2-.3.3.1.2-.1.3.3.2-.3.3.1.2-.3.3.5.2-.2.3.1.3.2.2-.2.3-.2.2.2.3.1.2-.3.5 0 .3.3.2-.1.3-.2.2.3.3 0 .2-.3.3-.1.3.4.2.1.3-.1.2 0 .3-.1.2-.1.3 0 .2.2.3-.2.2.2.3-.1.2 0 .3-.4.3.2.2.3 1.3 0 .2-.3.3.2.2.1.3.1.2 0 .3-.2.3 0 .2-.2.3.3.2-.3.3.1.2 0 .3.3.2 0 .3-.4.2 0 .3.1.2 0 .3.1.5 0 .3-.2.2.1.3.1.2 0 .3-.1.2 0 .3.2.2-.4.3.2.2 0 .3-.1.2 0 .3.1.3-.1.2.3.3 0 .2.1.3-.4.2.4.3-.3.2.2.3 0 .2-.1.3-.1.2 0 .3-.2.3.2.2-.1.3.2.2-.1.3 0 .2.1.5 0 .3-.1.2 0 .3.1.2 0 .3-.1.3.3.2-.1.3-.4.2.5.3-.2.2-.2.3.4.2-.6.3.6.2-.4.3-.1.2.1.3.2.3-.1.2.2.3-.3.2.3.3-.1.2-.1.3.3.2-.2.3 0 .2.2.3-.4.2.1.3.3.3-.2.5 0 .2-.1.3.2.2-.3.3.2.2-.3.3.3.2-.2.3.3.2-.1.3.1.2-.2.3 0 .3-.3.2.1.3.3.2 0 .3-.1.2.1.3-.2.2 0 .3.3.2 0 .3-.4.2.2.3.1.3-.2.2.3.3-.1.2 0 .3.2.2-.4.3.3.2-.1.3 0 .2-.2.3.2.2-.1.3.3.3-.3.2.3.3-.3.2 0 .3.1.2-.4.3.2.2.1.3 0 .2.1.3-.2.2 0 .3.4.3-.3.2 0 .3-.1.2.1.3.3.2 0 .3-.6.2.4.3.1.2-.2.3.1.2.2.3 0 .3-.1.2-.2.3.1.2 0 .3-.1.2-.1.3.4.2-.2.3.1.7 0 .3-.1.2.2.3-.3.3-.3.2.4.3 0 .2-.4.3 0 .2-.1.3.2.2-.3.3.2.5 0 .2-.4.3.1.3-.3.2.1.3 0 .2.2.3-.2.2.3.3-.1.2-.3.3.2.2.1.3-.2.2.3.3-.3.3-.2.2.7.3-.8.2-.2.3.9.2-.4.3.1.2-.6.3.2.2.3.3-.1.2-.1.3 0 .3-.2.2 0 .3.4.2-.4.3.4.2-.3.3-.2.2.2.3-.1.2.2.3.1.2-.5.3 0 .3.3.2-.3.3-.1.2 0 .3.1.2-.4.3 0 .2.5.3-.3.2-.4.3 1.1.2-.8.3-.1.2.3.3-.2.3.4.2-.4.3 0 .2-.4.3.5.2-.9.3.4.2.1.5 0 .3.4.2-.3.3-.4.3.2.2.3.3-.3.2.1.3-.2.2-.1.3.9.2.3.3.9.2-.4.3.4.2-.1.3.3.3.3.2-1.1.3-1.7.2-2.6.3.4.2-2.3.3-.5.2-4 .3 1.9.2-.9.3-.1.2-.8.3-4.5.3-5.4.2 7 .3-5.4.2 1 .3 3 .2-2.7.3-.4.2 1.1.3-6.3.2 9.2.3-6 .2.6.3 2.9.3-1.7.2-1.5.3 2.3.2-.2.3-.8.2 7.2.3-8 .2-1.7.3 3.1.2-.1.3 5.7.2-2.7.3 1.6.2-.3.3-3.3.3 3.7.2-1.2.3 3.7.2-3.2.3-.6.2 1.7.3.3.2-5.2.3 6.5.2-.4.3-.5.2-4 .3-1.9.3 3.7.2 2.4.3-.5.2-2.9.3 3.9.2-4.6.3.3.2 2.7.3-.9.2 0 .3-1.5.2 4.8.3-4.1.3 2.9.2 1 .3-1.6.2.5.3 1.6.2 1.4.3-1.2.2-4.3.3-.6.2 2.2.3-.9.2 3.3.3-1.1.3-.2.2 2.4.3-.1.2-1.5.3 1 .2 1.6.3-2 .2 1.6.3-1.3.2 2 .3 1 .2-.2.3.9.2.7.3.6.3-.6.2 1 .3.4.2 2.5.3 0 .2.6.3.2.2.5.3-.1.2-.5.3.6.2.4.3-.3.3.3.2-.1.3.1.2.2.3-.4.2.1.3.7.2-.3.3.1.5 0 .2.2.3-.2.3.4.2-.1.3 0 .2-.1.3.1.2 0 .3-.2.2.2.3.1.2.1.3 0 .2.1.3-.3.3.1.2.3.3-.3.2-.1.3.1.2.1.3-.3.2.3.3.1.2 0 .3-.3.2-.1.3 0 .3.1.2.2.5 0 .3-.2.2.3.3-.3.2 0 .3.2.2-.1.3.1.2.1.3-.1.2-.2.3 0 .3.2.2-.2.3.1.2-.3.3.1.2.2.3-.1.2.2.3.2.2-.1.3-.3.2 0 .3.1.3 0 .2-.3.3.3.2 0 .3-.2.2 0 .3.2.2.2.3-.2.2-.2.3.2.2-.3.3.5.3-.3.2.2.3-.4.2.3.3-.2.2.3.3.1.2-.1.5 0 .3-.3.2-.1.3.2.3.3.2-.3.3.2.2-.4.3.2.2.1.3.1.2.2.3-.2.2.1.3-.3.2.1.3.1.3-.1.2-.3.3.4.2 0 .3-.1.2.1.3-.1.2-.1.3-.2.2.5.3-.2.2 0 .3-.1.2 0 .3.1.3-.2.2.2.3.1.2-.2.3.1.2-.1.3-.1.2.2.3-.1.2 0 .3.2.2 0 .3.1.3-.3.2.1.3 0 .2-.1.3-.1.2.3.3-.5.2.2.3.1.2-.1.3.1.2.1.3-.5.3.5.2-.1.3-.1.2.2.3-.1.2-.3.3-.3.2.6.3-.3.2-.2.3.1.2.1.3-.2.3.3.2-.2.5 0 .3.1.2.2.3.2.2-.1.3-.1.2.1.3 0 .2.2.3-.4.3-.1.2.4.3 0 .2.1.3-.3.2.1.3.1.5 0 .2.1.3-.2.2.2.3-.2.2 0 .3-.1.3.2.2-.2.3.3.2-.2.3.1.5 0 .2-.1.3.4.2-.3.3.3.2-.5.3.5.3-.1.2.1.3-.5.2.3.3-.1.2.2.3.1.2-.2.3-.3.2.3.3-.1.2.1.3-.1.3.1.2-.1.3-.3.2.2.3.2.5 0 .2-.4.3.5.2 0 .3-.2.2.1.3-.4.3.6.2-.3.3 0 .2.1.3 0 .2-.1.3-.2.2.4.3.1.2-.4.3-.1.2.3.3.2.3-.5.2.2.3-.2.2.3.5 0 .3-.4.2.1.3.5.2-.1.3-.5.2.4.3.1.2-.2.3.1.3-.1.2.1.3 0 .2-.1.3 0 .2.2.3-.1.2 0 .3-.3.2.2.3 0 .2-.1.3.1.3-.2.2.1.3-.2.2.1.3.2.2 0 .3-.1.2.1.3 0 .2.3.3 0 .2-.2.3-.2.3 0 .2.3.3-.4.2.2.3 0 .2-.1.3.3.2-.1.3.2.2-.1.3.1.2-.4.3.1.3-.1.2.1.3.1.2-.1.3.1.2-.2.3.1.2.2.3-.2.2 0 .3.1.2-.2.3-.1.2.3.3 0 .3.2.2-.3.3.1.2.2.3-.3.2-.1.3.2.2 0 .3.1.2-.3.3.4.2-.2.3-.4.3.3.5 0 .2.3.3-.3.2 0 .3.2.2-.3.5 0 .3.4.2-.1.3 0 .3-.3.2.1.3-.1.2.3.3.1.2-.4.3.1.2.1.3-.1.2-.1.3.1.2.2.3.1.3-.2.2-.1.3 0 .2.1.3 0 .2-.2.3.2.2-.1.3.2.2-.1.3-.1.2.2.3 0 .3-.1.2-.2.3.1.2-.3.3.4.2 0 .3.1.2-.1.3-.3.2.3.3-.2.2.1.3.1.2 0 .3-.1.3-.1.5 0 .2.1.3.2.2-.1.3.1.2-.3.3.4.2-.2.3-.4.2.4.3.2.3-.2.2-.3.3.3.2-.2.3.1.2.1.3-.5.2.5.5 0 .3-.1.2 0 .3-.1" fill="none" stroke="#000" stroke-width="1.25" stroke-linejoin="round"/>
<rect x="459.9" y="312.4" width="228.1" height="24.3" fill="none" stroke="#606060" stroke-width="0.8"/>
<line x1="459.9" y1="336.7" x2="461.9" y2="336.7" stroke="#606060" stroke-width="0.7"/>
<line x1="686" y1="336.7" x2="688" y2="336.7" stroke="#606060" stroke-width="0.7"/>
<line x1="459.9" y1="324.5" x2="461.9" y2="324.5" stroke="#606060" stroke-width="0.7"/>
<line x1="686" y1="324.5" x2="688" y2="324.5" stroke="#606060" stroke-width="0.7"/>
<line x1="459.9" y1="312.4" x2="461.9" y2="312.4" stroke="#606060" stroke-width="0.7"/>
<line x1="686" y1="312.4" x2="688" y2="312.4" stroke="#606060" stroke-width="0.7"/>
<text transform="translate(455.6 341.9) scale(0.9495 1)" font-size="14.72" text-anchor="end">0</text>
<text transform="translate(455.6 317.6) scale(0.9495 1)" font-size="14.72" text-anchor="end">0.4</text>
<line x1="492.5" y1="347.1" x2="492.5" y2="371" stroke="#8a8a8a" stroke-width="0.6" stroke-dasharray="2.2,1.8"/>
<line x1="525.1" y1="347.1" x2="525.1" y2="371" stroke="#8a8a8a" stroke-width="0.6" stroke-dasharray="2.2,1.8"/>
<line x1="557.7" y1="347.1" x2="557.7" y2="371" stroke="#8a8a8a" stroke-width="0.6" stroke-dasharray="2.2,1.8"/>
<line x1="590.2" y1="347.1" x2="590.2" y2="371" stroke="#8a8a8a" stroke-width="0.6" stroke-dasharray="2.2,1.8"/>
<line x1="622.8" y1="347.1" x2="622.8" y2="371" stroke="#8a8a8a" stroke-width="0.6" stroke-dasharray="2.2,1.8"/>
<line x1="655.4" y1="347.1" x2="655.4" y2="371" stroke="#8a8a8a" stroke-width="0.6" stroke-dasharray="2.2,1.8"/>
<path d="M459.9 370.7l.3.3.2-.1.3-.4.2 0 .3.4.2-.2.3-.1.2.3.3-.2.2-.5.3-.1.2.5.3-.4.3.5.2-.1.3.4.2-.7.3.4.2-.7.3.3.2.1.3.4.2-.6.3.1.2 0 .3.4.3-.4.2-.1.3.1.2-.1.3-.1.2-.2.3.3.2-.6.3.5.2-.1.3.1.2.2.3-.1.2-.6.3.2.3.3.2-.2.3.5.2.1.3-.5.2.1.3.3.2-.3.3 0 .2.4.3-.3.2.4.3.3.3-.5.2 0 .3.2.2-.1.3.1.2-.2.3-.3.2.4.3.5.2-.8.3.2.2-.1.3.2.3-.3.2.3.3-.1.2.4.3-.3.2.1.3 0 .2-.1.3.2.2-.5.3.6.2 0 .3-.3.3.3.2-.5.3.1.2.2.3-.5.2.5.3-.1.2.4.3-.1.2-.2.3.1.2-.1.3-.3.3.7.2-.3.3.3.2-.7.3.3.2 0 .3.2.2-.4.3.1.2.1.3.3.2-.6.3.1.2-.1.3 0 .3.2.2.1.3-.2.2 0 .3.1.2-.1.3.1.2-.1.3-.1.2.2.3-.3.2.7.3-.2.3-.6.2.6.3.1.2-.4.3 0 .2.5.3-.6.2.6.3-.1.2-.3.3.2.2.1.3-.1.3.2.2-.4.5 0 .3.1.2.3.3 0 .2-.3.3-.3.2-.1.3.6.2-.5.3.4.3-.2.2.2.3-.3.2.1.3.1.2-.2.3.4.2-.2.3-.1.2-.8.3.8.2 0 .3.2.2-.3.3.4.3-.2.2-.2.3.5.2-.6.3.1.2.3.3 0 .2.1.3 0 .2-.4.3.1.2-.1.3.1.3.3.2-.3.3.4.2-.4.3-.2.2 0 .3.4.2-.1.3-.3.2-.1.3.7.2-.3.3-.1.3-.1.2.3.3-.2.2.1.3-.5.2.3.3.1.2.2.3-.3.2.1.3.2.2-.2.3.2.3 0 .2.2.3-.2.5 0 .2-.2.3-.1.2.2.3.3.2-.6.3.7.2 0 .3-.7.3.1.2 0 .3.3.2.1.3-.2.2-.1.3.3.2 0 .3.1.2-.1.3-.5.2.1.3.4.2 0 .3-.2.3-.1.2.3.3-.3.2.5.3-.2.2-.3.3-.1.2.5.3-.2.2-.4.3.2.2.1.3-.2.3.1.2-.1.3 0 .2.2.3 0 .2-.1.3.4.2 0 .3-.5.2.6.3-.5.2-.1.3.2.3-.1.2-.1.3-.1.2.4.3-.2.2.1.3-.4.2.2.3.4.2-.1.3 0 .2-.2.3.1.3-.5.2.8.3-.6.2.1.3.2.2 0 .3.1.2-.2.3-.1.2.5.3-.7.2.5.3-.4.3.2.2-.3.3.3.2-.2.3.3.2.2.3-.3.2-.1.3-.4.2 1 .3-.5.2-.1.3.4.2-.2.3-.5.3.2.2.6.3-.6.2.1.3-.1.2.2.3 0 .2.3.3-.1.2-.2.3 0 .2-.3.3.4.3.4.2-.3.3-.3.2.2.3.1.2 0 .3-.3.2.3.3-.3.2.3.3.1.2-.5.3.7.3-.3.2-.2.3.2.2-.2.3.1.2 0 .3-.4.2.4.3.1.2.2.3-.1.2-.5.3.2.3.1.2.2.3-.4.2.6.3-.3.2-.2.3.3.2-.2.3.1.2.1.3-.6.2.2.3-.1.3.3.2-.2.3 0 .2-.1.3-.3.2.6.3-.1.2.2.3.3.2-.2.3-.2.2 0 .3.2.2-.5.3.1.3.3.2-.4.3-.1.2.3.3.3.2-.5.3.2.2.1.3 0 .2.2.3-.4.8 0 .2.3.3-.1.2-.2.3.2.2-.5.3.6.2-.1.3-.2.2.1.3 0 .2.1.3 0 .3-.1.2-.1.3.2.2-.2.5 0 .3.6.2-.2.3 0 .2-.2.3-.1.2-.2.3.2.3 0 .2.1.3-.3.2.4.3-.1.2-.3.3.2.2.5.3-.5.2.2.3-.1.2-.1.3 0 .3.2.2-.3.3.1.2.1.5 0 .3.1.2 0 .3-.1.2.1.3.1.2-.5.3.3.2.1.3 0 .3-.1.5 0 .2.2.3-.4.2.3.3-.3.2.5.3-.2.2-.3.3.2.2 0 .3-.2.3.3.2-.3.3.2.2-.1.3 0 .2-.3.3 0 .2.2.3-.6.2.5.3.3.2 0 .3-.7.3.2.2.2.5 0 .3-.6.2.3.3-.4.2.7.3 0 .2-.8.3.4.2.2.3-.3.3.2.2-.1.3-.1.2.4.3-.5.2.1.3.2.2-.3.3.3.2 0 .3-.1.2.1.3-.5.2.6.3-.6.3.2.2 0 .3-.1.2.4.3.1.2-.1.3-.2.2.3.3-.4.2.1.3.3.2.4.3 0 .3-.2.2.3.3-.2.2 0 .3.1.2.1.8 0 .2-.1.3 0 .2.2.3-.1.3-.1.2.4.3-.2.5 0 .2-.1.3.1.2 0 .3-.2.2 0 .3.4.2-.4.3.3.3-.5.2.3.3.1.2-.2.3.1.2 0 .3-.4.2.3.3-.1.2.1.3.2.2-.4.3.2.3-.1.2.4.3-.5.2.3.3.1.2-.5.3.2.2.3.3-.2.2-.1.3-.1.2.1.3 0 .2-.1.3.6.3-.2.2 0 .3-.1.2-.4.3.4.2.3.3-.2.2-.3.3.3.2-.1.3-.1.2.4.3-.4.3.1.2 0 .3.1.2.2.3-.2.2-.2.3.1.2 0 .3-.4.2.1.3.4.2.1.3-.6.3.4.2-.3.3-.1.2.5.3 0 .2-.1.3.1.2.1.3-.1.2-.4.3.4.2-.1.3.1.3.2.2-.6.3.6.2-.2.3-.2.2.4.3-.6.2 0 .3.3.2-.1.3.2.2-.5.3.2.3-.1.2-.2.3.2.2-.1.3-.1.2.4.3-.3.2.2.3.3.2-.5.3.1.2-.3.3.3.2-.1.6 0 .2.1.3.4.2-.7.3.8.2 0 .3-.3.2.1.3-.3.2.4.3-.2.2.1.3-.5.3.4.2-.1.3.4.2-.2.3.3.2-.4.3 0 .2.5.3-.2.2 0 .3.1.2-.2.3.1.3.1.2-.3.3-.1.2.2.3 0 .2-.2.5 0 .3-.3.2-.1.3.2.2.2.3-.5.3-.1.2.5.3-.2.2-.4.3.6.2-.4.3-.6.2.1.3-.4.2 0 .3-1.1.2-.2.3-1 .3-.2.2-.8.3.3.2 1.2.3-1.1.2-.1.3-.5.2.9.3-.1.2-.1.3 1.1.2-1.3.3.1.2-.9.3 1.6.3-1 .2.4.3.5.2-1.2.3.7.2-.8.3 1.4.2-.7.3 1 .2-.4.3-.4.2-.9.3.4.3.2.2-.6.3.4.2-.1.3 0 .2.5.3.1.2-.6.3.4.2-.3.3-.2.2.1.3.7.3.3.2-.6.3.1.2-.6.3.6.2 0 .3-.5.2.7.3-.5.2-.9.3-.2.2.7.3.5.3.6.2-.8.3.5.2-.2.3.6.2-.1.3 1.2.2.7.3.9.2 1.3.3-.4.2.3.3-.3.3.1.2-.3.3-.2.2.7.3-.4.2.1.3.5.2-.5.3.1.2-.1.3.3.2-1 .3.7.2.4.3-.1.3-.1.2 0 .3-.1.2.3.3-.4.2.2.3.2.2-.1.3 0 .2-.3.3.2.2.1.3 0 .3-.1.2-.8.3.6.2-.4.3-.4.2.5.3-.6.2 0 .3-.2.2-.6.3-.6.2-1.2.3-.4.3-1.1.2-.9.3.9.2-2.6.3.8.2-.4.3-3.6.2.3.3-.1.2-1.7.3-.7.2 3.3.3-2.9.3 1.6.2-3.2.3 1.3.2-5.5.3 1 .2 2.6.3-2.5.2 2.9.3-4.3.2-1.6.3.3.2 5.7.3-4.1.2-2.9.3.5.3-2.5.2 7.1.3-5.8.2 3.5.3-2.9.2-.9.3-.5.2 3.6.3-2.6.2 4.3.3.6.2-6.4.3 2 .3 5.2.2-2.6.3-2.9.2-1.7.5 0 .3 7.2.2-4.7.3-1.8.2-.1.3.3.2 1.8.3-2.7.3 0 .2 2.8.3 2.7.2-5.5.3 3.5.2-3.5.3 0 .2 4.9.3-3.8.2 2.1.3-2.6.2.5.3-1.1.3.3.2 1.8.3-2.1.2 3.2.3.4.2-3.6.3 5 .2-.9.3-1.8.2 3.5.3 3.1.2-8.8.3 5.1.3-.4.2-.4.3 1.8.2 0 .3-3.5.2-2.7.3 3.9.2 1 .3 6.4.2-2.6.3 4 .2-2.5.3 2.6.2.7.3 1.4.3 1.6.2 1.8.3-.2.2 2.6.3 1.1.2-.1.3.2.2.1.3-.2.2.6.3-.1.2.5.3.3.3.4.2.2.3.2.2-.3.3-.2.2-.2.3.4.2 0 .3.3.2-.5.3 0 .2.3.3-.3" fill="none" stroke="#000" stroke-width="1.25" stroke-linejoin="round"/>
<rect x="459.9" y="347.1" width="228.1" height="23.9" fill="none" stroke="#606060" stroke-width="0.8"/>
<line x1="459.9" y1="371" x2="461.9" y2="371" stroke="#606060" stroke-width="0.7"/>
<line x1="686" y1="371" x2="688" y2="371" stroke="#606060" stroke-width="0.7"/>
<line x1="459.9" y1="363" x2="461.9" y2="363" stroke="#606060" stroke-width="0.7"/>
<line x1="686" y1="363" x2="688" y2="363" stroke="#606060" stroke-width="0.7"/>
<line x1="459.9" y1="355.1" x2="461.9" y2="355.1" stroke="#606060" stroke-width="0.7"/>
<line x1="686" y1="355.1" x2="688" y2="355.1" stroke="#606060" stroke-width="0.7"/>
<line x1="459.9" y1="347.1" x2="461.9" y2="347.1" stroke="#606060" stroke-width="0.7"/>
<line x1="686" y1="347.1" x2="688" y2="347.1" stroke="#606060" stroke-width="0.7"/>
<text transform="translate(455.6 376.2) scale(0.9495 1)" font-size="14.72" text-anchor="end">0</text>
<text transform="translate(455.6 360.3) scale(0.9495 1)" font-size="14.72" text-anchor="end">0.2</text>
<line x1="492.5" y1="381" x2="492.5" y2="405" stroke="#8a8a8a" stroke-width="0.6" stroke-dasharray="2.2,1.8"/>
<line x1="525.1" y1="381" x2="525.1" y2="405" stroke="#8a8a8a" stroke-width="0.6" stroke-dasharray="2.2,1.8"/>
<line x1="557.7" y1="381" x2="557.7" y2="405" stroke="#8a8a8a" stroke-width="0.6" stroke-dasharray="2.2,1.8"/>
<line x1="590.2" y1="381" x2="590.2" y2="405" stroke="#8a8a8a" stroke-width="0.6" stroke-dasharray="2.2,1.8"/>
<line x1="622.8" y1="381" x2="622.8" y2="405" stroke="#8a8a8a" stroke-width="0.6" stroke-dasharray="2.2,1.8"/>
<line x1="655.4" y1="381" x2="655.4" y2="405" stroke="#8a8a8a" stroke-width="0.6" stroke-dasharray="2.2,1.8"/>
<path d="M459.9 404.6l.3.3.2-.4.3.4.2-.3.3-.2.2 0 .3.6.2-.7.3.3.2.2.3-.7.2.9.3-.9.3.7.2-.9.3.4.2.3.3-.3.2-.1.3-.1.2-.3.3.6.2-.6.3.1.2.3.3-.3.3.2.2-.6.3.1.2.7.3-.4.2-.3.3.1.2.1.3.3.2-.3.3-.6.2.1.3-.1.2-.7.3 1.1.3-.5.2 0 .3.2.2-.2.3-.2.2.1.3-.2.2.7.3-.2.2-.1.3-.3.2-.4.3 1 .3-.6.2-.4.3.6.2.2.3-.9.2-.1.3 0 .2.6.3-.8.2 1.1.3-.9.2.8.3-.2.3.2.2.7.3-1.1.2.8.5 0 .3.3.2.3.3-.5.2.5.3-.3.2.5.3-.2.3.1.2-.2.3.2.2-.2.3.6.2 0 .3.4.2-.1.3-.5.2-.3.3.9.2-.2.3-.2.3-.1.2.3.3-.2.2.3.3-.1.2-.4.3-.2.2.5.3 0 .2-.3.3-.1.2.1.3.5.2-.4.3-.2.3.5.2.1.3-.6.2.2.3-.1.2.1.3.3.2-.1.3.1.2-.1.3 0 .2.1.3-.5.3.5.2-.2.3 0 .2-.4.3.4.2 0 .3-.4.2.2.3.3.2-.6.3.3.2-.2.3 0 .3.1.2.2.3.3.2-.5.3-.1.2-1.8.3-1.5.2-.8.3-2.1.2 1 .3-1.9.2-3.2.3-1.5.3 1.1.2.3.3 1.3.2-3.3.3-1.9.2 3.9.3-4.5.2-.2.3-.9.2 2.8.3-3.9.2 4.6.3-7.7.2 3.4.3 2.7.3-6.7.2.5.3 4.4.2-7.3.3 7.5.2-3.5.3-2.5.2 9.3.3-8.6.2 2.8.3-.5.2 2.7.3-3.9.3 4.4.2-.9.3-1.4.2 2.3.3-7.7.2 7.8.3-1.9.2-.6.3-1.3.2-2 .3-.1.2 2.7.3.3.3-.8.2-2.4.3.2.2 3.8.3 3.7.2-9.4.3 1.1.2 1.8.3-.5.2 2.8.3 1.4.2-2.4.3.2.3 1.1.2 2.6.3-3.9.2-2.4.3 3 .2-1.4.3 6.1.2-5.3.3-.2.2 2.8.3 1.6.2-6.6.3 4.3.3-3.4.2 2.9.3-3.1.2 3.6.3 2.9.2-3.6.3 1.4.2-1.2.3 4.5.2.8.3-.6.2.6.3 2.2.2 1.3.3 1.8.3 1.2.2 1.6.3 1.7.2 1.7.3.7.2-.9.3 1 .2-.2.3.3.2-.4.3.1.2.3.3.5.3-.5.2-.2.3.1.2-.2.3.2.2.3.3-.4.2.1.3.3.2 0 .3-.3.2.5.3-.5.3.2.2.5.3-.5.2.1.3.2.2-.4.3.4.2-.4.3-.2.2.3.3.4.2-.1.3-.5.3.4.2.1.3-.1.2-.1.3-.1.2 0 .3.4.2-.2.3.1.2-.3.3-.1.2-.8.3-.3.3-.9.2.2.3.1.2.6.3.7.2 0 .3.9.2-.4.3.5.2-.1.3-.3.2-.3.3.4.2-.7.3-.1.3.9.2-.2.3-.1.2 0 .3.2.2-.4.3-.2.2.1.3 0 .2.1.3-.1.2 0 .3.1.3-.2.2 0 .3.6.2-.6.3-.5.2.6.3.3.2-1 .3.2.2.8.3-1.4.2-.6.3-.2.3-.7.2.4.3-.3.2-.2.3.8.2-.9.3.2.2 1.1.3-.2.2.3.3 1.3.2-.2.3-.1.3 0 .2.4.3.4.2-.3.3.6.2-.5.3.3.2 0 .3-.1.2.3.3-.4.2-.1.3.2.3-.3.2.5.3-.4.2.2.3.3.2-.2.3.1.2 0 .3-.1.2-.2.3.3.2-.1.3.4.2-.5.3-.2.3.1.2.1.3.2.2.1.3-.2.2.4.3 0 .2-.5.3.2.2-.4.3.6.2-.5.3.5.3-.5.2.3.3-.2.2 0 .3.1.2-.1.3-.3.2.5.3-.3.2.2.3-.2.2-.3.3.9.3-.2.2.2.3-.4.2 0 .3-.9.2.9.3-.4.2 0 .3.3.2-.1.3-.4.2.5.6 0 .2.4.3 0 .2-.4.3-.2.2.4.3-.2.2.1.3 0 .2-.2.3.1.2-.1.3.3.3.1.2-.3.3.4.2-.4.3.2.2 0 .3-.4.2.3.3.2.2-.1.3-.1.2-.8.3 1.2.2-.5.3.1.3-.3.2.4.3.3.2-1 .3.7.2-.2.3.2.2 0 .3-.1.2-.3.3-.1.2.4.3-.3.3.3.2-.2.3-.1.2.2.3.1.2-.1.3-.1.2.2.3 0 .2-.5.3.5.2-.3.3.2.3-.3.2.8.3-1 .2.5.3.2.2-.3.3-.5.2.3.3.5.2-.1.3-.4.2.6.3-.3.3.1.2-.6.3.4.2-.3.3.5.2 0 .3-.4.2-.1.3.6.2-.7.3.4.2-.1.3-.4.2-.1.3.3.3.3.2-.4.3.1.2.4.3-.5.2.2.3-.4.2.2.3.5.2-.8.3.2.2.1.3.8.3-.8.2.4.3.1.2.3.3-.2.2-.3.3.3.2.1.5 0 .3-.2.2-.3.3.6.3-.2.2.1.3.1.2-.2.3-.1.2.5.3-.1.2-.6.3.2.2 0 .3.2.2 0 .3-.2.3.2.2.2.3-.2.2-.4.3.6.2-.6.3.2.2.3.3-.2.2.1.3-.3.2.1.3.4.3 0 .2-.6.3.3.2-.1.3.1.2-.3.3.6.2-.6.3.5.2-.3.3-.3.2.8.3-.5.2.2.3.1.3-.2.2.2.3.1.2-.4.3-.1.2.3.3.3.2-.9.3.2.2.3.3.4.2-.2.3-.2.3.3.2-.6.3.3.2-.1.3.4.2 0 .3-.1.2-.3.3.1.2.1.3 0 .2-.1.3-.3.3.4.2.2.3-.4.2-.2.3.5.2-.2.3.1.2-.1.3-.1.2.3.3 0 .2-.4.3 0 .3.1.2-.2.3.5.2-.2.3-.2.2.5.3-.3.2.4.3-.3.2.2.3 0 .2-.5.3.5.3-.2.2 0 .3.1.2-.5.3.5.2-.3.3.4.2-.1.3-.2.2.2.3-.1.2-.1.3-.4.2.4.3 0 .3.1.2-.7.3.2.2.2.3.1.2.2.3-.1.5 0 .2.2.3.1.2-.3.3-.1.3.5.2-.5.3-.2.2.5.3-.2.2.3.3-.5.2.5.3 0 .2-.3.3-.6.2.7.3.2.3-.4.2.2.3-.5.2.7.3.1.2-.3.3-.2.2 0 .3-.2.2.7.3-.1.2-.2.3-.3.3.1.2.3.3.1.2-.4.3-.1.2-.4.3.6.2-.4.3.7.2-.2.3.1.2-.1.3 0 .3.2.2-.3.3.1.2-.3.3.3.2-.1.3-.4.2.4.3.1.2-.1.3.1.2-.3.3.5.2-.6.3-.1.3.2.2.4.3.2.2-.3.3-.2.2-.1.3.2.2.1.3-.5.2.5.3-.3.2-.1.3.6.3-.2.2.1.3.1.2.1.3 0 .2-.5.3.2.2-.2.3.4.2-.2.3-.1.2.4.3-.1.3-.4.2.1.3.2.2-.2.3 0 .2-.4.3.7.2-.4.3-.4.2.5.3-.3.2.7.3-.8.3.4.2.4.3-.5.2-.1.3-.1.2 0 .3.3.2.2.3-.1.2-.2.3-.1.2.2.3-.2.3-.2.2.2.3-.4.2-.1.3.7.2.1.3-.1.2-.1.3-.3.2.4.3-.2.2-.1.3-.1.2.2.3 0 .3-.1.2-.1.3.3.2-.1.3.5.2-.3.3.2.2-.4.3 0 .2.5.3-.6.2.5.3-.4.3.1.2.3.3.1.2-.2.3-.1.2.2.3-.3.2.5.3-.4.2 0 .3.4.2-.4.3.4.3 0 .2-.2.3-.1.2-.3.3.3.2-.4.3.1.5 0 .2.2.3.2.2-.4.3.1.3.1.2.1.3.3.2-.5.3 0 .2.4.3-.3.2-.2.3.2.2-.2.3.1.2.5.3-.3.2-.1.3-.3.3.1.2.6.3-.4.2-.2.3 0 .2-.2.3.7.2-.1.3.1.2-.4.3.5.2-.7.3.2.3 0 .2.5.3-.2.2-.4.3.5.2-.2.3 0 .2-.2.5 0 .3.2.2-.1.3.1.3-.2.2.3.3-.4.2.6.3-.6.2.4.3-.5.2.3.3-.1.2-.4.3.6.2-.1.6 0 .2.3.3-.2.2.1.3 0 .2-.1.3.2.2-.5.3.2.2-.4.3.6.2 0 .3-.3.3.4.2-.3.3.2.2-.1.3-.1.2 0 .3-.4.2.3.3.5.2-.6.3.6.2-.5.3.4.2-.5.3-.5.3.4.2.1.3 0 .2-.3.3-.4.2.6.3.2.2-.6.3.7.2-.3.3-.2.2.2.3 0 .3.2.2.1.3-.2.2 0 .3-.4.2.4.3.2.2 0 .3-.1.2.5.3-.4.2.1.3.2" fill="none" stroke="#000" stroke-width="1.25" stroke-linejoin="round"/>
<rect x="459.9" y="381" width="228.1" height="24" fill="none" stroke="#606060" stroke-width="0.8"/>
<line x1="459.9" y1="405" x2="461.9" y2="405" stroke="#606060" stroke-width="0.7"/>
<line x1="686" y1="405" x2="688" y2="405" stroke="#606060" stroke-width="0.7"/>
<line x1="459.9" y1="395.4" x2="461.9" y2="395.4" stroke="#606060" stroke-width="0.7"/>
<line x1="686" y1="395.4" x2="688" y2="395.4" stroke="#606060" stroke-width="0.7"/>
<line x1="459.9" y1="385.8" x2="461.9" y2="385.8" stroke="#606060" stroke-width="0.7"/>
<line x1="686" y1="385.8" x2="688" y2="385.8" stroke="#606060" stroke-width="0.7"/>
<text transform="translate(455.6 410.2) scale(0.9495 1)" font-size="14.72" text-anchor="end">0</text>
<text transform="translate(455.6 391) scale(0.9495 1)" font-size="14.72" text-anchor="end">0.2</text>
<line x1="492.5" y1="415.8" x2="492.5" y2="439.5" stroke="#8a8a8a" stroke-width="0.6" stroke-dasharray="2.2,1.8"/>
<line x1="525.1" y1="415.8" x2="525.1" y2="439.5" stroke="#8a8a8a" stroke-width="0.6" stroke-dasharray="2.2,1.8"/>
<line x1="557.7" y1="415.8" x2="557.7" y2="439.5" stroke="#8a8a8a" stroke-width="0.6" stroke-dasharray="2.2,1.8"/>
<line x1="590.2" y1="415.8" x2="590.2" y2="439.5" stroke="#8a8a8a" stroke-width="0.6" stroke-dasharray="2.2,1.8"/>
<line x1="622.8" y1="415.8" x2="622.8" y2="439.5" stroke="#8a8a8a" stroke-width="0.6" stroke-dasharray="2.2,1.8"/>
<line x1="655.4" y1="415.8" x2="655.4" y2="439.5" stroke="#8a8a8a" stroke-width="0.6" stroke-dasharray="2.2,1.8"/>
<path d="M459.9 438.4l.3.4.2.1.3.4.2-.3.3-.5.2.6.3-.3.2 0 .3.2.2-.3.3.4.2-.1.3.2.3-.8.2.6.3 0 .2-.2.3.4.2-.1.3.3.2-.3.3.2.2-.4.3.3.2.1.3-.2.3 0 .2.2.3-.5.2.1.3.2.2.4.3-.5.2.4.3-.3.2 0 .3.1.2.1.3.1.2-1 .3.8.3-.1.2-.4.3.4.2-.3.3.6.2 0 .3-1.2.2.9.3.1.2-.2.3-.2.2.7.3-.4.3 0 .2-.2.3.1.2.2.3.1.2.2.3-.5.2.5.3-.4.2-.4.3.5.2-.3.3.2.3-.3.2.2.3.2.2-.5.3.4.2.4.3-.4.2-.2.3.4.2-.4.3-.1.2-.3.3.7.3-.2.2.5.3-.4.2-.1.3-.1.2.3.3-.2.2.2.3 0 .2-.3.3 0 .2-.1.3-.1.3.1.2.7.3-.4.2-.1.3.2.2-.5.3.1.2.2.3.1.2-.4.3.3.2 0 .3-.5.2-.1.3-.1.3.2.2-.1.3.3.2 0 .3-.1.2.9.3-1.3.2.1.3.2.2.3.3-.3.2.3.3-.2.3-.1.2.4.3 0 .2.1.3-.1.2.1.3 0 .2-.2.3.7.2-.3.3-.3.2.5.3-.2.3.1.2-.2.3-.2.2-.2.3.3.2.3.3-.2.2-.2.3-.2.2.8.3-.5.2.5.3-.6.3.2.2-.2.3-.1.2.1.3.4.2-.4.3-.2.2.4.3 0 .2.3.3-.7.2.4.3.2.2-.1.3.1.3-.1.2-.6.3.3.2-.3.3 0 .2.7.3-.4.2-.3.3-.2.2 1 .3 0 .2-.5.3.3.3.1.2-.5.3.4.2.3.3-.5.2 0 .3-.1.2-.3.3.2.2.2.3.1.2.3.3-.3.3-.5.2.2.3-.5.2.8.3.4.2-.8.3 0 .2.7.3 0 .2-.3.3-.5.2.6.3-.2.3.2.2.1.3 0 .2-.4.3.2.2 0 .3.4.2-1.1.3.8.2-.1.3.1.2-.4.3.5.3-.6.2.1.3-.2.2.5.3-.2.2 0 .3-.7.2 1 .3-.4.2.3.3-.3.2-.1.3.2.2-.2.3.1.3.1.2-.1.3.6.2-.6.3.3.2-.3.3-.2.2.1.3-.1.2-.1.3.9.2-.8.3.2.3 0 .2.5.3-.8.2-.1.3-.3.2.3.3-.4.2.1.3-1 .2.7.3.1.2.1.3-.6.3.3.2-.2.3.3.2.2.3.3.2-.5.3.6.2.1.3.5.2-.5.3.3.2-.1.3.1.3-.1.2.3.3-.7.2.6.3-.4.2-.2.3.7.2-.3.3.3.2-.5.3.5.2.2.3-.7.3 0 .2.5.3-.6.2.2.3-.5.2.2.3.4.2-1.4.3.5.2-1.9.3-.9.2-.9.3-2.4.2.4.3-1 .3 0 .2-2.9.3.4.2-1.9.3-1.5.2.1.3-3.1.2-3.5.3 1.3.2 1.2.3 5.5.2-8.4.3-.8.3 3.8.2-.7.3-3.1.2 3.9.3-4.2.2 4.4.3-.1.2-2.5.3 4.3.2-3.6.3-1.8.2 5.5.3-6.3.3 4.7.2-2.9.3 1.1.2 1 .3 1.2.2 2.9.3-3 .2.4.3-6.6.2 1.7.3 6.3.2-5.3.3 2.1.3 1.3.2-2.2.3-.8.2 3.7.3-.8.2-1.1.3 2.3.2-2.6.3.8.2 1.5.3.3.2-2.5.3-1.3.3 1.9.2 2.2.3-3.7.2 1.7.3-.9.2-1.1.3 4.3.2-1 .3 1.6.2.6.3-6.6.2 2.6.3 6.4.2-3.8.3 2.8.3-2 .2 2.4.3 1.4.2-.2.3.7.2.8.3 1.1.2 1.4.3-.3.2 2.5.3.8.2.7.3 1 .3 1 .2.7.3 0 .2-.1.3 0 .2.3.3-.3.2-.1.3.4.2-.1.3.3.2-.2.3.1.3-.4.2.1.3-.1.2.2.3.1.2-.4.3-.1.2.4.3-.1.2.3.3-.1.2 0 .3.2.3.3.2.5.3-1 .2-.4.3.7.2-.1.5 0 .3-.2.2.1.3.2.2.4.3-.6.3 0 .2.7.3-.7.2 0 .3.1.2-.3.3.4.2.3.3-.1.2-.4.3-.7.2.4.3.4.2.1.3-.2.3 0 .2.3.3 0 .2-.7.3.4.2.4.3.2.2-.1.3-.4.2 0 .3.2.2.3.3-.5.3 0 .2.2.3 0 .2-.2.3 0 .2.5.3-.4.2.4.3-.5.2-.1.3.6.2-.3.3-.3.3.8.2-.4.3-.7.2 1 .3-.3.2.2.3-.4.2.7.3-.1.2-.4.3-.2.2.1.3 0 .3-.2.2.1.3.1.2.3.3-.1.2-1 .3.1.2.5.3-.1.2-.2.3.4.2-.8.3.5.2-.1.3-.9.3 1.5.2-1 .3.9.2-.7.3-.1.2-.4.3-.1.2.2.3-.6.2.4.3 0 .2.7.3-.4.3.2.2-.4.3.4.2-.1.3-.1.2-.3.3 1.1.2-.7.3.7.2-.4.3-.3.2.3.3-.1.3.3.2-.8.3 1 .2-1.1.3.4.2.7.3.1.2-.7.3.3.2.3.3.1.2.4.3-.4.3.3.2 0 .3-.1.2-.6.3-.1.2.1.3.1.2-.6.3-.4.2.3.3.2.2-.7.3-.9.3-.2.2-1.2.3-2.3.2-.5.3-1.8.2-.2.3-3.6.2-1.5.3.1.2.6.3 1 .2-.4.3-1.5.2-3.4.3 2 .3.9.2-4.2.3-.1.2 2.7.3-.5.2-2.8.3.9.2 2.1.3-2.2.2.6.3-2.8.2 4.6.3-4.2.3 1.2.2 3.5.3-4.7.2.3.3 5.4.2-8.3.3 7.8.2-.7.3-1.4.2-2.6.3.8.2.9.3-3.6.3 2.8.2-2.9.3-1.2.2 4.3.3 7.6.2-5.6.3 1.4.2-3.7.3.8.2 3.2.3.1.2-2.4.3-.4.3 6.9.2-8.8.3 1.4.2.3.3-.5.2 2.9.3-2.4.2-1.7.3-.7.2 1.2.3 2.4.2 1.3.3-5.6.3 2.4.2 2.6.3 4.2.2-3 .3 2.1.2-7 .3 1.8.2 3.1.3-1.4.2-6.1.3 3.2.2 5.8.3-2.5.2 2.6.3 1.8.3-3.9.2-4.5.3 2 .2 3.7.3.7.2-.6.3-1.4.2 5.3.3 1 .2-5.6.3 3.1.2-1.4.3 2.4.3-1.7.2 1.7.3-2.5.2-4.8.3 2.1.2 5.8.3 1.8.2 5.7.3 1.5.2-.9.3 1.1.2-.5.3 1.1.3-.3.2.1.3.9.2-.4.3-.2.2-.1.3-.4.2-.6.3.8.2-.6.3.1.2.2.3-.2.3-.6.2.5.3-.4.2.4.3-1.2.2 1.4.3-1.1.2.1.3.6.2-.4.3.9.2-.7.3-.3.3.4.2.9.3-1.4.2-.1.3.4.2 1.1.3-.5.2-1.1.3.7.2-.3.3.3.2-.9.3.5.2 1.4.3-.5.3.1.2-.1.3.2.2.1.3 0 .2.1.3.4.2.1.3.1.2-.2.3-.2.2 0 .3.1.3.8.2-.4.3.1.2-.4.3.4.2-.3.3-.1.2-1 .3.8.2.1.3-.1.2 0 .3-.1.3.3.2-.2.3-.3.2-.1.3.3.2-.5.3.6.2.2.3.2.2-.4.3-.2.2-.1.3-.2.3.7.2-.5.3-.2.2-.2.3.5.2-.6.5 0 .3-.1.2.4.3-.9.2.2.3.6.3-.5.2.2.3-.2.2.1.3-.1.2.9.3-1 .2.5.3.2.2.4.3-.2.2-.2.3.5.2.5.3-.2.3-.2.2.7.3-.1.2-.5.3.5.2-.7.3.8.2 0 .3-.4.2-.5.3.6.2-.3.3-.1.3.6.2-.8.3.3.2-.1.3.7.2-.1.3.2.2-.7.3 0 .2-.2.3-.3.2.6.3 0 .3-.2.2-.4.3.7.2-.4.3.2.2.1.3-.2.2.3.3 0 .2-.4.3.4.2-.2.3.1.3-.5.2.5.3-.3.2.1.3-.4.2.2.3.1.2.2.5 0 .3-.8.2.8.3-.1.2-.2.3.5.3.2.2-.5.3.5.2-.1.3-.5.7 0 .3.1.2.6.3-.8.2.2.3.3.3-.5.2.3.5 0 .3-.1.2.3.3-.5.2.1.3 0 .2.2.3.1.2-.6.3 1.1.3-1 .2.1.3 0 .2.4.3-.2.2.2.3 0 .2-.2.3.4.2-1 .3.2.2 1.2.3-.2.3-.8.2.1.3-.3.2.2.3-.2.2-.1.3-.4.2.9.3-.6.2 1 .3-.5.2.4.3-.8.3-.3.2.8.3.1.2-.4.3 0 .2-.4.3-.9.2.4.3 1.1.2-1.9.3 1.1.2-.3.3-.6.2.3.3-.2.3-.1.2 0 .3-.6.2-.4.3.6.2-.1.3-.1.2.8.3-.6.2.9.3-.2.2.5.3.2.3.4.2.2.3 0 .2.3.3 0 .2.2.3-.1.2 0 .3.1.2-.6.3.6.2.2.3-.1" fill="none" stroke="#000" stroke-width="1.25" stroke-linejoin="round"/>
<rect x="459.9" y="415.8" width="228.1" height="23.7" fill="none" stroke="#606060" stroke-width="0.8"/>
<line x1="459.9" y1="439.5" x2="461.9" y2="439.5" stroke="#606060" stroke-width="0.7"/>
<line x1="686" y1="439.5" x2="688" y2="439.5" stroke="#606060" stroke-width="0.7"/>
<line x1="459.9" y1="427.6" x2="461.9" y2="427.6" stroke="#606060" stroke-width="0.7"/>
<line x1="686" y1="427.6" x2="688" y2="427.6" stroke="#606060" stroke-width="0.7"/>
<line x1="459.9" y1="415.8" x2="461.9" y2="415.8" stroke="#606060" stroke-width="0.7"/>
<line x1="686" y1="415.8" x2="688" y2="415.8" stroke="#606060" stroke-width="0.7"/>
<text transform="translate(455.6 444.7) scale(0.9495 1)" font-size="14.72" text-anchor="end">0</text>
<text transform="translate(455.6 421) scale(0.9495 1)" font-size="14.72" text-anchor="end">0.2</text>
<line x1="492.5" y1="452.4" x2="492.5" y2="476.3" stroke="#8a8a8a" stroke-width="0.6" stroke-dasharray="2.2,1.8"/>
<line x1="525.1" y1="452.4" x2="525.1" y2="476.3" stroke="#8a8a8a" stroke-width="0.6" stroke-dasharray="2.2,1.8"/>
<line x1="557.7" y1="452.4" x2="557.7" y2="476.3" stroke="#8a8a8a" stroke-width="0.6" stroke-dasharray="2.2,1.8"/>
<line x1="590.2" y1="452.4" x2="590.2" y2="476.3" stroke="#8a8a8a" stroke-width="0.6" stroke-dasharray="2.2,1.8"/>
<line x1="622.8" y1="452.4" x2="622.8" y2="476.3" stroke="#8a8a8a" stroke-width="0.6" stroke-dasharray="2.2,1.8"/>
<line x1="655.4" y1="452.4" x2="655.4" y2="476.3" stroke="#8a8a8a" stroke-width="0.6" stroke-dasharray="2.2,1.8"/>
<path d="M459.9 476.3l.3-.7.2.7.3-.5.2 0 .3.3.2-.2.3.1.2.1.3-.1.2-.2.3.3.2.1.3-.1.3-.3.2-.3.3-.1.2.5.3-.3.2.2.3-.3.2-.2.3-.6.2-.8.3-.9.2-.8.3.7.3-2.2.2-.2.3-2.9.2-1.7.3-.6.2-.6.3-3.6.2 2.2.3-3.5.2 4.7.3-4.2.2-.4.3 1.5.2 1.6.3-5.6.3 3.5.2-3.7.3 0 .2 1.5.3.4.2-3.1.3 1.8.2 3.9.3-3.9.2-.5.3 1.1.2-.2.3 1.3.3-.6.2 2.7.3.8.2-7 .3 4.3.2-1.7.3 4.5.2-4.7.3 2.7.2-8.1.3 8.4.2.3.3-5.3.3.4.2 7 .3-5 .2-1.8.3 5.3.2-5.2.3 3 .2 1.3.3-1.7.2.3.3 2.5.2-8.5.3 6.8.3.7.2-4.6.3 2.4.2-3.6.3 4.1.2-.7.3 1.5.2.7.3 1.6.2-.4.3-2.6.2 6.9.3 1.6.3 1.7.2 1.3.3 3.1.2.5.3.3.2.5.3-.2.2-.1.3.2.2-.4.3 0 .2.3.3.6.2-.7.3-.2.3.7.2-.2.3.5.2-.3.3-.3.2-.1.3-.1.2 0 .3.6.2-.2.3-.3.2.3.3.2.3-.2.2 0 .3-.3.2.6.3-.1.2 0 .3-.6.2.5.3.3.2-.1.3.3.2-.4.3.3.3-.4.2.2.3-.1.2-.4.3.7.2-.8.3-1.3.2-1.5.3-.2.2-.4.3-1.9.2 1.2.3-2 .3.3.2-.9.3-3.2.2.8.3-2 .2 3.5.3-2 .2.9.3-.5.2 2.3.3-4.1.2 1.4.3 1.2.2.9.3-.7.3-4.3.2 2.6.3.9.2-1.5.3.7.2-.2.3-.5.2-.1.3-.9.2 3.4.3-1.8.2.5.3-.9.3.8.2.7.3-.4.2-2.4.3 2.5.2 1.5.3-3 .2-1.3.3 2.7.2-1 .3 1.8.2-1.6.3-1.6.3.6.2 1.2.3.4.2 1.8.3-3 .2.3.3-1.8.2-.9.3 2.7.2-1.3.3 3.5.2-3.7.3.5.3-.9.2 1.1.3.7.2-2.3.3 3.7.2-2.6.3-.5.2 2.9.3.7.2-2.9.3.9.2-.6.3-.4.3 3.1.2-2.5.3-1.4.2 2.5.3-.5.2 1.6.3-2.8.2-1.5.3 4.8.2-2.6.3-.2.2 2 .3-.2.2.7.3.8.3.7.2.2.3 1.8.2 1.4.3 1.1.2 1 .3.5.2.7.3 1.1.2-.2.3 0 .2.1.3.4.3.1.2.1.8 0 .2-.5.3-.1.2 0 .3.2.2.1.3-.3.2.1.3.1.3 0 .2.1.3 0 .2-.1.3.3.2-.8.3.9.2-.6.3.5.2-.8.3.1.2.7.3-.2.3.1.2-.2.3-.1.2-.8.3.1.2-1.5.3-.5.2-2.3.3-1.3.2-.2.3-2.7.2-1.2.3-.7.3-6.4.2.9.3.4.2-2.3.3-4.5.2 4.1.3 4 .2-3.1.3.2.2 1.6.3-1.4.2-.5.3 1 .2.5.3-3.6.3 6.1.2-6.3.3 2.2.2-.2.3 6.7.2-11.2.3 8.6.2-2.6.3-3.6.2 3 .3-.7.2 4.6.3-4.6.3-1.6.2-2.1.3 2.8.2-1.6.3-.2.2 2.6.3.6.2-5.7.3 5.3.2-5.3.3 2.2.2-2.2.3 4.2.3-4 .2 1.2.3 1.1.2-1.1.3 2.8.2-2.1.3.9.2-3 .3 2.3.2 3.4.3-3 .2-1.2.3 2.3.3-3.8.5 0 .2 3 .3-.4.2-2.6.3 6.7.2-5.7.3 2 .2 1.4.3 1.6.2 6.5.3 2.7.3 5.3.2 1.6.3-.9.2.9.3.5.2-.8.3 1.2.5 0 .2.3.3-.4.2.1.3-.3.2.6.3 0 .3-.1.2.5.3-.6.2.5.3-.5.2-.1.3.5.2.4.3-.4.2 0 .3-.1.2.2.3.3.3-.3.2.1.3-.7.2.8.3-.1.2-.2.3.4.2-.1.3-.2.2.2.3-.3.2-.3.3.2.3.5.2-.3.3-.2.2.3.3-.2.2.1.3-.3.2.2.3 0 .2.3.3-.3.2.3.3-.9.3.6.2 0 .3-.2.2.2.3 0 .2.1.3.2.2 0 .3-.1.2-.5.3.5.2-.1.3.1.3-.4.2-.4.3.9.2-.4.3.1.2.1.3-.3.2.6.3-.7.2.3.3.3.2-.7.3.2.2-.1.3.7.3-.3.2.1.3-.4.2-.2.3.8.2-.5.3.2.2-.3.3.2.2.4.3-.3.2.1.3 0 .3-.2.2.2.3-.3.2.5.3-1.1.2.4.3 0 .2.7.3 0 .2-.1.3-.3.2-.6.3.2.3.6.2-.5.3-.1.2.4.3-.4.2.2.3.3.2.3.3-.4.2-.2.3.6.2 0 .3-.5.3.5.2-.9.3.6.2-.4.3-.3.2 1 .3-.2.2-.8.3.7.2 0 .3-.2.2-.3.3-.1.2.4.3.2.3-.1.2 0 .3-.4.2.2.3-.2.2.7.3-.6.2-.1.3 0 .2.3.3.3.2-.1.3-.1.3-.2.2.2.3.3.2-.2.3-.4.2.1.3.6.2-.3.3.3.2-.3.3-1.1.2.9.3.1.3.1.2.2.3.1.2-.4.3-.1.2-.4.3.9.2-.6.3-.3.2.9.3-.7.2.7.3-.5.3-.4.2.5.3-.1.2.1.3 0 .2-.4.3.3.2 0 .3-.1.2 0 .3.6.2-.5.3.3.3-.5.2-.1.3.3.2-.3.3.7.2-.2.3.2.2-.4.3.1.2 0 .3.4.2-.3.3 0 .2-.3.3.3.3-.5.2.4.3.4.2-.3.3.2.2-.6.3-.2.2.5.3-.1.2.4.3.1.2-.3.3 0 .3.2.2-.5.3.1.2-.1.3-.3.2.2.3.3.2 0 .3-.2.2.5.3-.8.2.1.3.4.3.1.2-1.3.3.9.2.1.3-.4.2.3.3.2.2-.2.3.5.2-.3.3.5.2-.6.3-.1.3.7.2-1 .3.9.2-.6.3.5.2-.3.3.3.2-1 .3.3.2 0 .3.3.2 0 .3.2.3.1.2-.3.3.1.2.2.3.3.2-.2.3-.5.2.3.3 0 .2.1.3.2.2-.1.3-.1.2-.1.3 0 .3-.4.2.7.3.1.2-.6.3.4.2-.2.3-.7.2.2.3.2.2.1.3.1.2-.3.3.5.3.1.2 0 .3-.7.2.1.3.6.2-.5.3.3.2-.4.3.5.2-.5.3.3.2.1.3 0 .3-.2.2.4.3.1.2-.9.3.7.2.3.5 0 .3-.2.2-.6.3.8.2-.3.3.3.3-.7.2.2.3 0 .2-.3.3-.1.2.2.3.4.2.2.3-.1.2.2.3-1 .2.6.3-.1.3.1.2-.6.3.7.2-.5.3.3.2.2.3.3.2-.7.3.5.2-.1.3-.2.2.1.3-.3.2.6.3-.3.3 0 .2-.1.3-.2.2.5.3-.5.2.5.3.1.2-.3.3-.4.2.5.3 0 .2-.1.3-.1.3.2.2-.2.3.5.2-.8.3.2.2.5.3-.7.2.2.3-.2.2.8.3-.8.2.4.3.4.3-.6.2.2.3.3.2-.1.3.2.2-.5.3.2.2 0 .3-.6.2.6.3.1.2 0 .3-.2.3-.2.2.4.3.1.2-.6.3.2.2.1.3-.6.2.9.3-.3.2.4.3-.3.2-.2.3-.2.3.7.2-.6.3 0 .2.2.3-.8.2.8.3.3.2-.4.3.5.2-.8.3.1.2.4.3-.3.2.1.3-.5.3.7.2.2.3.1.2-.3.3.3.2-.4.3-.1.2.2.3.2.2-.6.3.4.2-.2.3-.2.3.7.2-.2.3-.9.2.8.3.2.2-.3.3.2.2.1.3-.1.2-.2.3 0 .2-.2.3.6.3 0 .2-.7.3.5.2-.6.3.4.2.4.3-.7.2.5.3-.3.2-.2.3-.3.2.6.3-.2.3.1.2 0 .3.5.2-.3.3-.1.2-.2.3.5.2-.5.3-.1.2.4.3.1.2 0 .3-.3.2-.3.3 0 .3.5.2.3.3-.2.2-.4.3.1.2 0 .3-.1.2.1.3.1.2.4.3-.2.2-.1.3-.2.3.3.2 0 .3-.5.2.5.3-.3.2.2.3.2.2.1.3-.3.2.2.3-.6.2.6.3 0 .3-.4.2.2.3-.3.2 0 .3.6.2-.2.3.1.2-.6.3.3.2 0 .3-.4.2.4.8 0 .3-.4.2.1.3.1.2.2.3.1.2.1.3-.1.2.3.3-.5.2-.2.3.4.3.1.2-.2.3-.1.2.1.3-.5.2.8.3-.4.2-.1.3.2.2.2.3.2.2-.2.3-.3.2-.3.3.6.3-.2.2-.1.3 0 .2.1.3 0 .2-.3.3.7.2-.4.3.4.2 0 .3-.1.2.1.3-.5.3-.3.2.5.3.1.2-.1.3-.1.2.1.3-.3.2.4.5 0 .3-.4.2.4.3-.5" fill="none" stroke="#000" stroke-width="1.25" stroke-linejoin="round"/>
<rect x="459.9" y="452.4" width="228.1" height="23.9" fill="none" stroke="#606060" stroke-width="0.8"/>
<line x1="459.9" y1="476.3" x2="461.9" y2="476.3" stroke="#606060" stroke-width="0.7"/>
<line x1="686" y1="476.3" x2="688" y2="476.3" stroke="#606060" stroke-width="0.7"/>
<line x1="459.9" y1="465.1" x2="461.9" y2="465.1" stroke="#606060" stroke-width="0.7"/>
<line x1="686" y1="465.1" x2="688" y2="465.1" stroke="#606060" stroke-width="0.7"/>
<line x1="459.9" y1="453.9" x2="461.9" y2="453.9" stroke="#606060" stroke-width="0.7"/>
<line x1="686" y1="453.9" x2="688" y2="453.9" stroke="#606060" stroke-width="0.7"/>
<text transform="translate(455.6 481.5) scale(0.9495 1)" font-size="14.72" text-anchor="end">0</text>
<text transform="translate(455.6 459.1) scale(0.9495 1)" font-size="14.72" text-anchor="end">0.2</text>
<text transform="translate(459.1 491) scale(0.9495 1)" font-size="14.72" text-anchor="middle">0</text>
<text transform="translate(491.7 491) scale(0.9495 1)" font-size="14.72" text-anchor="middle">50</text>
<text transform="translate(524.3 491) scale(0.9495 1)" font-size="14.72" text-anchor="middle">100</text>
<text transform="translate(556.9 491) scale(0.9495 1)" font-size="14.72" text-anchor="middle">150</text>
<text transform="translate(589.4 491) scale(0.9495 1)" font-size="14.72" text-anchor="middle">200</text>
<text transform="translate(622 491) scale(0.9495 1)" font-size="14.72" text-anchor="middle">250</text>
<text transform="translate(654.6 491) scale(0.9495 1)" font-size="14.72" text-anchor="middle">300</text>
<text transform="translate(684.7 491) scale(0.9495 1)" font-size="14.72" text-anchor="middle">350</text>
<text transform="translate(541.9 510.9) scale(0.9495 1)" font-size="14.72">Time (s)</text>
<text transform="translate(717.1 272.2) scale(0.9495 1)" font-size="14.72">Time-invariant synergy coefficients, W</text>
<path d="M724.9 297.2h3v3.4h-3zM732 291.3h3v9.3h-3zM746.2 283.2h3v17.4h-3zM760.5 282.2h3v18.4h-3zM767.6 281.4h3v19.2h-3zM771.1 292.1h3v8.5h-3zM774.7 295.9h3v4.7h-3zM781.8 290.7h3v9.9h-3zM803.1 293.2h3v7.4h-3zM806.7 277h3v23.6h-3zM810.2 296h3v4.6h-3zM817.3 283.2h3v17.4h-3zM835.1 284.5h3v16.1h-3zM842.2 286.3h3v14.3h-3zM852.9 298.4h3v2.2h-3zM856.4 296.2h3v4.4h-3zM860 296.2h3v4.4h-3zM863.5 280.9h3v19.7h-3zM874.2 296.9h3v3.7h-3zM877.7 295h3v5.6h-3zM888.4 281.9h3v18.7h-3zM892 281.9h3v18.7h-3zM902.6 291.6h3v9h-3zM909.7 294.1h3v6.5h-3zM916.8 282.9h3v17.7h-3zM920.4 295.4h3v5.2h-3zM923.9 289.2h3v11.4h-3zM927.5 291.3h3v9.3h-3zM934.6 283.2h3v17.4h-3z" fill="#000"/>
<rect x="712.2" y="277" width="227.8" height="23.6" fill="none" stroke="#606060" stroke-width="0.8"/>
<line x1="747.7" y1="277" x2="747.7" y2="279" stroke="#606060" stroke-width="0.7"/>
<line x1="747.7" y1="298.6" x2="747.7" y2="300.6" stroke="#606060" stroke-width="0.7"/>
<line x1="783.3" y1="277" x2="783.3" y2="279" stroke="#606060" stroke-width="0.7"/>
<line x1="783.3" y1="298.6" x2="783.3" y2="300.6" stroke="#606060" stroke-width="0.7"/>
<line x1="818.8" y1="277" x2="818.8" y2="279" stroke="#606060" stroke-width="0.7"/>
<line x1="818.8" y1="298.6" x2="818.8" y2="300.6" stroke="#606060" stroke-width="0.7"/>
<line x1="854.4" y1="277" x2="854.4" y2="279" stroke="#606060" stroke-width="0.7"/>
<line x1="854.4" y1="298.6" x2="854.4" y2="300.6" stroke="#606060" stroke-width="0.7"/>
<line x1="889.9" y1="277" x2="889.9" y2="279" stroke="#606060" stroke-width="0.7"/>
<line x1="889.9" y1="298.6" x2="889.9" y2="300.6" stroke="#606060" stroke-width="0.7"/>
<line x1="925.4" y1="277" x2="925.4" y2="279" stroke="#606060" stroke-width="0.7"/>
<line x1="925.4" y1="298.6" x2="925.4" y2="300.6" stroke="#606060" stroke-width="0.7"/>
<text transform="translate(709 305.8) scale(0.9495 1)" font-size="14.72" text-anchor="end">0</text>
<text transform="translate(709 289.4) scale(0.9495 1)" font-size="14.72" text-anchor="end">2</text>
<text transform="translate(945.1 293.6) scale(0.9495 1)" font-size="14.72">Syn1</text>
<path d="M717.8 321.3h3v14.2h-3zM728.5 327.2h3v8.3h-3zM732 330.9h3v4.6h-3zM735.6 319.8h3v15.7h-3zM739.1 326.6h3v8.9h-3zM742.7 326h3v9.5h-3zM749.8 326.3h3v9.2h-3zM764 328.1h3v7.4h-3zM771.1 331.2h3v4.3h-3zM778.2 325.1h3v10.4h-3zM785.3 323.2h3v12.3h-3zM788.9 322.3h3v13.2h-3zM813.8 321.7h3v13.8h-3zM842.2 320.1h3v15.4h-3zM867.1 322.9h3v12.6h-3zM870.6 323.5h3v12h-3zM877.7 330.3h3v5.2h-3zM881.3 322h3v13.5h-3zM884.8 329.4h3v6.1h-3zM909.7 330.7h3v4.8h-3zM927.5 332.8h3v2.7h-3zM931 313h3v22.5h-3z" fill="#000"/>
<rect x="712.2" y="311.7" width="227.8" height="23.8" fill="none" stroke="#606060" stroke-width="0.8"/>
<line x1="747.7" y1="311.7" x2="747.7" y2="313.7" stroke="#606060" stroke-width="0.7"/>
<line x1="747.7" y1="333.5" x2="747.7" y2="335.5" stroke="#606060" stroke-width="0.7"/>
<line x1="783.3" y1="311.7" x2="783.3" y2="313.7" stroke="#606060" stroke-width="0.7"/>
<line x1="783.3" y1="333.5" x2="783.3" y2="335.5" stroke="#606060" stroke-width="0.7"/>
<line x1="818.8" y1="311.7" x2="818.8" y2="313.7" stroke="#606060" stroke-width="0.7"/>
<line x1="818.8" y1="333.5" x2="818.8" y2="335.5" stroke="#606060" stroke-width="0.7"/>
<line x1="854.4" y1="311.7" x2="854.4" y2="313.7" stroke="#606060" stroke-width="0.7"/>
<line x1="854.4" y1="333.5" x2="854.4" y2="335.5" stroke="#606060" stroke-width="0.7"/>
<line x1="889.9" y1="311.7" x2="889.9" y2="313.7" stroke="#606060" stroke-width="0.7"/>
<line x1="889.9" y1="333.5" x2="889.9" y2="335.5" stroke="#606060" stroke-width="0.7"/>
<line x1="925.4" y1="311.7" x2="925.4" y2="313.7" stroke="#606060" stroke-width="0.7"/>
<line x1="925.4" y1="333.5" x2="925.4" y2="335.5" stroke="#606060" stroke-width="0.7"/>
<text transform="translate(709 340.7) scale(0.9495 1)" font-size="14.72" text-anchor="end">0</text>
<text transform="translate(709 328.4) scale(0.9495 1)" font-size="14.72" text-anchor="end">2</text>
<text transform="translate(945.1 328.4) scale(0.9495 1)" font-size="14.72">Syn2</text>
<path d="M724.9 350.9h3v19.5h-3zM732 349h3v21.4h-3zM753.3 352h3v18.4h-3zM771.1 349h3v21.4h-3zM774.7 347.7h3v22.7h-3zM781.8 350h3v20.4h-3zM796 352h3v18.4h-3zM803.1 362h3v8.4h-3zM810.2 353.1h3v17.3h-3zM828 346.5h3v23.9h-3zM849.3 353.3h3v17.1h-3zM852.9 354.1h3v16.3h-3zM856.4 354.1h3v16.3h-3zM860 350.9h3v19.5h-3zM874.2 351.2h3v19.2h-3zM877.7 348.7h3v21.7h-3zM884.8 349.2h3v21.2h-3zM892 353.9h3v16.5h-3zM902.6 347.5h3v22.9h-3zM909.7 349.4h3v21h-3zM920.4 356.1h3v14.3h-3zM923.9 347.2h3v23.2h-3zM927.5 350.2h3v20.2h-3zM934.6 361.1h3v9.3h-3z" fill="#000"/>
<rect x="712.2" y="346.5" width="227.8" height="23.9" fill="none" stroke="#606060" stroke-width="0.8"/>
<line x1="747.7" y1="346.5" x2="747.7" y2="348.5" stroke="#606060" stroke-width="0.7"/>
<line x1="747.7" y1="368.4" x2="747.7" y2="370.4" stroke="#606060" stroke-width="0.7"/>
<line x1="783.3" y1="346.5" x2="783.3" y2="348.5" stroke="#606060" stroke-width="0.7"/>
<line x1="783.3" y1="368.4" x2="783.3" y2="370.4" stroke="#606060" stroke-width="0.7"/>
<line x1="818.8" y1="346.5" x2="818.8" y2="348.5" stroke="#606060" stroke-width="0.7"/>
<line x1="818.8" y1="368.4" x2="818.8" y2="370.4" stroke="#606060" stroke-width="0.7"/>
<line x1="854.4" y1="346.5" x2="854.4" y2="348.5" stroke="#606060" stroke-width="0.7"/>
<line x1="854.4" y1="368.4" x2="854.4" y2="370.4" stroke="#606060" stroke-width="0.7"/>
<line x1="889.9" y1="346.5" x2="889.9" y2="348.5" stroke="#606060" stroke-width="0.7"/>
<line x1="889.9" y1="368.4" x2="889.9" y2="370.4" stroke="#606060" stroke-width="0.7"/>
<line x1="925.4" y1="346.5" x2="925.4" y2="348.5" stroke="#606060" stroke-width="0.7"/>
<line x1="925.4" y1="368.4" x2="925.4" y2="370.4" stroke="#606060" stroke-width="0.7"/>
<text transform="translate(709 375.6) scale(0.9495 1)" font-size="14.72" text-anchor="end">0</text>
<text transform="translate(709 357.8) scale(0.9495 1)" font-size="14.72" text-anchor="end">2</text>
<text transform="translate(945.1 363.2) scale(0.9495 1)" font-size="14.72">Syn3</text>
<path d="M714.3 381.7h3v22.9h-3zM721.4 385.8h3v18.8h-3zM742.7 392.1h3v12.5h-3zM756.9 385.2h3v19.4h-3zM785.3 390h3v14.6h-3zM792.4 387.9h3v16.7h-3zM799.6 392.1h3v12.5h-3zM820.9 391.5h3v13.1h-3zM831.5 393.9h3v10.7h-3zM835.1 396.1h3v8.5h-3zM838.6 387.5h3v17.1h-3zM842.2 398.4h3v6.2h-3zM845.8 398.1h3v6.5h-3zM849.3 400.5h3v4.1h-3zM884.8 391.1h3v13.5h-3zM892 390.4h3v14.2h-3zM895.5 396.1h3v8.5h-3zM899.1 391.1h3v13.5h-3zM906.2 396.1h3v8.5h-3zM927.5 395.2h3v9.4h-3zM934.6 395.9h3v8.7h-3z" fill="#000"/>
<rect x="712.2" y="380.8" width="227.8" height="23.8" fill="none" stroke="#606060" stroke-width="0.8"/>
<line x1="747.7" y1="380.8" x2="747.7" y2="382.8" stroke="#606060" stroke-width="0.7"/>
<line x1="747.7" y1="402.6" x2="747.7" y2="404.6" stroke="#606060" stroke-width="0.7"/>
<line x1="783.3" y1="380.8" x2="783.3" y2="382.8" stroke="#606060" stroke-width="0.7"/>
<line x1="783.3" y1="402.6" x2="783.3" y2="404.6" stroke="#606060" stroke-width="0.7"/>
<line x1="818.8" y1="380.8" x2="818.8" y2="382.8" stroke="#606060" stroke-width="0.7"/>
<line x1="818.8" y1="402.6" x2="818.8" y2="404.6" stroke="#606060" stroke-width="0.7"/>
<line x1="854.4" y1="380.8" x2="854.4" y2="382.8" stroke="#606060" stroke-width="0.7"/>
<line x1="854.4" y1="402.6" x2="854.4" y2="404.6" stroke="#606060" stroke-width="0.7"/>
<line x1="889.9" y1="380.8" x2="889.9" y2="382.8" stroke="#606060" stroke-width="0.7"/>
<line x1="889.9" y1="402.6" x2="889.9" y2="404.6" stroke="#606060" stroke-width="0.7"/>
<line x1="925.4" y1="380.8" x2="925.4" y2="382.8" stroke="#606060" stroke-width="0.7"/>
<line x1="925.4" y1="402.6" x2="925.4" y2="404.6" stroke="#606060" stroke-width="0.7"/>
<text transform="translate(709 409.8) scale(0.9495 1)" font-size="14.72" text-anchor="end">0</text>
<text transform="translate(709 397.9) scale(0.9495 1)" font-size="14.72" text-anchor="end">2</text>
<text transform="translate(945.1 397.5) scale(0.9495 1)" font-size="14.72">Syn4</text>
<path d="M732 438.1h3v1.1h-3zM756.9 437.1h3v2.1h-3zM771.1 438.1h3v1.1h-3zM792.4 438.1h3v1.1h-3zM820.9 437.8h3v1.4h-3zM824.4 415.5h3v23.7h-3zM831.5 437.8h3v1.4h-3zM835.1 435.2h3v4h-3zM842.2 427.6h3v11.6h-3zM845.8 438.4h3v0.8h-3zM888.4 423h3v16.2h-3zM892 427.6h3v11.6h-3zM895.5 437.8h3v1.4h-3zM913.3 422.3h3v16.9h-3zM927.5 430.3h3v8.9h-3zM931 431.9h3v7.3h-3zM934.6 429.6h3v9.6h-3z" fill="#000"/>
<rect x="712.2" y="415.5" width="227.8" height="23.7" fill="none" stroke="#606060" stroke-width="0.8"/>
<line x1="747.7" y1="415.5" x2="747.7" y2="417.5" stroke="#606060" stroke-width="0.7"/>
<line x1="747.7" y1="437.2" x2="747.7" y2="439.2" stroke="#606060" stroke-width="0.7"/>
<line x1="783.3" y1="415.5" x2="783.3" y2="417.5" stroke="#606060" stroke-width="0.7"/>
<line x1="783.3" y1="437.2" x2="783.3" y2="439.2" stroke="#606060" stroke-width="0.7"/>
<line x1="818.8" y1="415.5" x2="818.8" y2="417.5" stroke="#606060" stroke-width="0.7"/>
<line x1="818.8" y1="437.2" x2="818.8" y2="439.2" stroke="#606060" stroke-width="0.7"/>
<line x1="854.4" y1="415.5" x2="854.4" y2="417.5" stroke="#606060" stroke-width="0.7"/>
<line x1="854.4" y1="437.2" x2="854.4" y2="439.2" stroke="#606060" stroke-width="0.7"/>
<line x1="889.9" y1="415.5" x2="889.9" y2="417.5" stroke="#606060" stroke-width="0.7"/>
<line x1="889.9" y1="437.2" x2="889.9" y2="439.2" stroke="#606060" stroke-width="0.7"/>
<line x1="925.4" y1="415.5" x2="925.4" y2="417.5" stroke="#606060" stroke-width="0.7"/>
<line x1="925.4" y1="437.2" x2="925.4" y2="439.2" stroke="#606060" stroke-width="0.7"/>
<text transform="translate(709 444.4) scale(0.9495 1)" font-size="14.72" text-anchor="end">0</text>
<text transform="translate(709 424.3) scale(0.9495 1)" font-size="14.72" text-anchor="end">5</text>
<text transform="translate(945.1 432.2) scale(0.9495 1)" font-size="14.72">Syn5</text>
<path d="M721.4 469.8h3v6.3h-3zM756.9 473h3v3.1h-3zM792.4 473.8h3v2.3h-3zM796 473.8h3v2.3h-3zM799.6 452.4h3v23.7h-3zM820.9 458.1h3v18h-3zM831.5 463h3v13.1h-3zM835.1 469.1h3v7h-3zM838.6 472.8h3v3.3h-3zM842.2 471.2h3v4.9h-3zM845.8 456h3v20.1h-3zM884.8 474.9h3v1.2h-3zM888.4 474.1h3v2h-3zM895.5 467.1h3v9h-3zM906.2 455.7h3v20.4h-3zM923.9 474.1h3v2h-3zM927.5 472.5h3v3.6h-3zM931 471.7h3v4.4h-3z" fill="#000"/>
<rect x="712.2" y="452.2" width="227.8" height="23.9" fill="none" stroke="#606060" stroke-width="0.8"/>
<line x1="747.7" y1="452.2" x2="747.7" y2="454.2" stroke="#606060" stroke-width="0.7"/>
<line x1="747.7" y1="474.1" x2="747.7" y2="476.1" stroke="#606060" stroke-width="0.7"/>
<line x1="783.3" y1="452.2" x2="783.3" y2="454.2" stroke="#606060" stroke-width="0.7"/>
<line x1="783.3" y1="474.1" x2="783.3" y2="476.1" stroke="#606060" stroke-width="0.7"/>
<line x1="818.8" y1="452.2" x2="818.8" y2="454.2" stroke="#606060" stroke-width="0.7"/>
<line x1="818.8" y1="474.1" x2="818.8" y2="476.1" stroke="#606060" stroke-width="0.7"/>
<line x1="854.4" y1="452.2" x2="854.4" y2="454.2" stroke="#606060" stroke-width="0.7"/>
<line x1="854.4" y1="474.1" x2="854.4" y2="476.1" stroke="#606060" stroke-width="0.7"/>
<line x1="889.9" y1="452.2" x2="889.9" y2="454.2" stroke="#606060" stroke-width="0.7"/>
<line x1="889.9" y1="474.1" x2="889.9" y2="476.1" stroke="#606060" stroke-width="0.7"/>
<line x1="925.4" y1="452.2" x2="925.4" y2="454.2" stroke="#606060" stroke-width="0.7"/>
<line x1="925.4" y1="474.1" x2="925.4" y2="476.1" stroke="#606060" stroke-width="0.7"/>
<text transform="translate(709 481.3) scale(0.9495 1)" font-size="14.72" text-anchor="end">0</text>
<text transform="translate(709 460.7) scale(0.9495 1)" font-size="14.72" text-anchor="end">5</text>
<text transform="translate(945.1 468.9) scale(0.9495 1)" font-size="14.72">Syn6</text>
<text transform="translate(713.2 492.3) scale(0.9495 1)" font-size="14.72" text-anchor="middle">0</text>
<text transform="translate(750.5 492.3) scale(0.9495 1)" font-size="14.72" text-anchor="middle">10</text>
<text transform="translate(786.1 492.3) scale(0.9495 1)" font-size="14.72" text-anchor="middle">20</text>
<text transform="translate(821.6 492.3) scale(0.9495 1)" font-size="14.72" text-anchor="middle">30</text>
<text transform="translate(857.2 492.3) scale(0.9495 1)" font-size="14.72" text-anchor="middle">40</text>
<text transform="translate(892.7 492.3) scale(0.9495 1)" font-size="14.72" text-anchor="middle">50</text>
<text transform="translate(928.2 492.3) scale(0.9495 1)" font-size="14.72" text-anchor="middle">60</text>
<text transform="translate(826.3 511.6) scale(0.9495 1)" font-size="14.72">MU #</text>
<line x1="170.5" y1="238.8" x2="170.5" y2="281.6" stroke="#000" stroke-width="1"/>
<path d="M170.5 290.6l-3.3-10 3.3 2.8 3.3-2.8z" fill="#000"/>
<text transform="translate(182.5 256.1) scale(0.9495 1)" font-size="14.72">Envelope Extraction</text>
<text transform="translate(182.5 273.2) scale(0.9495 1)" font-size="14.72">Normalization</text>
<text transform="translate(46 321.7) scale(0.9174 1)" font-size="17.99" font-weight="bold">E</text>
<line x1="116.9" y1="296.5" x2="116.9" y2="420" stroke="#a8a8a8" stroke-width="0.7" stroke-dasharray="1,1.3"/>
<line x1="148.6" y1="296.5" x2="148.6" y2="420" stroke="#a8a8a8" stroke-width="0.7" stroke-dasharray="1,1.3"/>
<line x1="180.3" y1="296.5" x2="180.3" y2="420" stroke="#a8a8a8" stroke-width="0.7" stroke-dasharray="1,1.3"/>
<line x1="212.1" y1="296.5" x2="212.1" y2="420" stroke="#a8a8a8" stroke-width="0.7" stroke-dasharray="1,1.3"/>
<line x1="243.8" y1="296.5" x2="243.8" y2="420" stroke="#a8a8a8" stroke-width="0.7" stroke-dasharray="1,1.3"/>
<line x1="275.5" y1="296.5" x2="275.5" y2="420" stroke="#a8a8a8" stroke-width="0.7" stroke-dasharray="1,1.3"/>
<line x1="307.2" y1="296.5" x2="307.2" y2="420" stroke="#a8a8a8" stroke-width="0.7" stroke-dasharray="1,1.3"/>
<path d="M85.2 363.2l.2.7.2-.1.2-1.1.2 0 .2-.2.2.6.2-.4.2.4.2-1.7.2 2.1.2-1.1.2.4.2-.6.2-.2.2.5.2.1.2-.7.2-.1.2.5.2-1.1.2-.5.2 1.2.2-.8.2-.9.2.7.2-.4.2 0 .2-.3.2 1 .2.6.2-.9.2-.5.2.7.2.2.2-.9.2.6.2.3.2-1.1.2-.6.2-1.5.2 2.1.2.6.2-2.1.2.4.2-.2.2-3.1.2 3.7.2.2.2-1.2.2 1.8.2-.6.2-.3.2-.3.2.4.2-2.2.2 1.7.2-1.4.2-1.1.2 2 .2-2.7.2 2.9.2-1.4.2.4.2.2.2-1.3.2 1.4.2-.8.2.5.2-1.2.2 1.6.2-.6.2-1 .2.8.2.7.2.5.2-4 .2 2.7.2-.5.2-.8.2-1 .3 2.7.2-2.9.2 2.2.2.9.2-5.7.2 4 .2-1.1.2 1.8.2 1.5.2.6.2-4.1.2 1.4.2 1.5.2 1 .2-1.2.2-1.2.2 1.2.2-.3.2-.2.2-.5.2 1.3.2 0 .2-.4.2-.1.2-1 .2.9.2 1.8.2-1.4.2-1.2.2 2.9.2-.7.2 1.7.2-1.9.2-.4.2-.8.2 2.8.2 1.3.2-3.1.2.3.2 1.3.2-1.1.2.6.2.1.2.6.2.9.2-.8.2.9.2-1 .2.8.2-1.8.2.7.2 1.8.2-1.8.2 1.9.2.1.2.7.2-.3.2.3.2-.6.2-.3.2.1.2.4.2-.8.2-.1.2-.1.2-.2.2-.9.2-1.8.2 1.1.2-.2.2.4.2-.6.2-.2.2.9.2 2.7.2.3.2 1.5.2 1 .2-2.2.2-.2.2-.7.2-.8.2-.8.2-1.1.2-.9.2-2.6.2.6.2-1.5.2.5.2-1.4.2.8.2-.5.2-1.2.2-1.4.2-.2.2-1.5.2-.1.2-.7.2 1.5.2-.6.2.9.2-3.3.2 3.8.2-2.9.2.1.2.9.2-.7.2 1.4.2-1.4.2-2.2.2 1.6.2 3.7.2-2.2.2-2.1.2 2 .2-2.7.2 4.1.2-4.1.2 3.4.2.1.2-3.4.2 3 .2 1.1.2-.9.2-.4.2 1.2.2-1.4.2.3.2-.8.2 1.3.2-2.8.2 2.5.2-1.8.2-1 .2 2.5.2 2.3.2-1.3.2-2.6.2 2.1.2-2.1.2.6.2.4.2-4.3.2 4.5.2-2.2.2.6.2-1.3.2-.1.2 1 .2 3.2.2 1.4.2-2.9.2 2 .2-2.4.2-2.9.2 3.6.2.6.2-1.5.2 1.3.2.4.2-2.5.3-1 .2 2.2.2 0 .2-.2.2 2.3.2-3 .2.6.2 2 .2.4.2-.4.2.6.2-2.5.2 2 .2 2.2.2-2.1.2-2.4.2 2.1.2 1.2.2-5.7.2 2.5.2 3.7.2-4.8.2 3 .2-.9.2-2 .2 4.2.2-1.5.2-2.6.2 3.1.2-1.8.2-2.5.2 2.1.2 1.7.2.6.2-.7.2-.2.2.7.2-1.1.2 2.4.2-9 .2 7.5.2.5.2-2.7.2 1 .2 4.4.2-1.2.2-.1.2 1.7.2-.3.2 1.7.2-.4.2 1.9.2-3.4.2 5.9.2-1.1.2-.2.2 2 .2.6.2 1.1.2-.5.2 1.2.2 1.6.2-2.4.2 1.1.2-.2.2.4.2-1.2.2.3.2 1.1.2.2.2 1 .2-1.1.2.6.2 1.5.2-1.7.2-.1.2.3.2-.2.2.4.2-.5.2-.6.2.4.2 1.3.2-.9.2-2.7.2.9.2-1.3.2.5.2-1.4.2 1.2.2-1.5.2-.7.2-1.4.2-.9.2-.3.2.5.2-1.6.2-1.9.2 1.6.2-2.2.2-1.2.2-1.8.2-.5.2-.9.2-4.7.2 6.2.2-1.6.2-2.3.2 1.9.2-2 .2-.9.2-7.1.2 3.4.2 1.9.2 1.9.2-.1.2-1.2.2-6.6.2-2.7.2 7 .2-1.5.2 2.4.2-2.9.2.8.2-4.4.2 4.9.2-2.3.2 2 .2.2.2-1.5.2 1 .2-.9.2-2.4.2 3.7.2-2.8.2-.2.2 6.1.2-4.9.2 2.8.2-1.6.2-2.6.2-.5.2 2.3.2.3.2.9.2-5 .2 1.7.2 1.3.2 4.5.2-10.6.2 7.5.2-2.7.2 2.6.2-6.3.2 6.1.2 3.1.2-3.2.2.1.2-.1.2-3.1.2 3.4.3-2 .2-1.7.2 2.1.2-.3.2 2.8.2-2 .2-1.1.2 5.4.2-1.1.2.9.2-1.6.2-1.7.2-2.9.2 2.8.2 3.3.2-1.9.2-3.7.2 3.9.2-3 .2 4.2.2-3 .2.2.2 3.6.2-.1.2-8.3.2 11 .2 3.6.2-7.2.2 7.5.2-4.6.2.9.2 1.2.2-1.8.2 5.7.2-.9.2-1.6.2 1.4.2-1.5.2 2.5.2 2.6.2-3.5.2 2.4.2 1.3.2 1.7.2.8.2-2 .2.1.2 2 .2-.6.2.6.2 2 .2 1.1.2-1.1.2-.1.2 1.2.2-1.8.2 2.2.2-.5.2 3.3.2-.9.2 0 .2.2.2-1.2.2 2.5.2.9.2-1.1.2 1.1.2.3.2-.8.2 1.5.2.5.2-.2.2-.9.2.4.2-1.8.2.4.2.1.2-2.1.2 1 .2-1.5.2-1.9.2.2.2-1.3.2.1.2-2.9.2 1.5.2-3.5.2.3.2-2.6.2-.8.2 1.4.2-2.9.2-2.3.2-3 .2 4.4.2-1 .2-2.5.2 1.1.2-6.2.2 3.1.2.2.2 2.4.2-.3.2-2.5.2 3.4.2.1.2-1.4.2 1.9.2-2.9.2.3.2 1.4.2-1.2.2 1.9.2-4.6.2 6 .2-5 .2 1.4.2-2.7.2 1.3.2 4.7.2-.5.2-.5.2-5.4.2 1.7.2.8.2-1.1.2 4.6.2-2.1.2-.5.2 1.2.2-3.2.2.1.2 0 .2 3.1.2-.3.2.5.2 1.1.2-5.5.2 1.8.2 1.6.2-3.3.2 1.8.2 3.5.2.2.2-1 .2-1.4.2-.6.2 2.9.2-3.2.2 1.6.2 2.2.2-3.8.2-.6.2-3.9.2 6.6.2-.2.2-.7.2.9.2-8.4.2 5.2.2 2.3.3-2.5.2-.9.2.3.2.6.2 1.7.2-1.9.2 2.8.2 3.3.2-7.1.2 5.4.2-1.5.2-3.1.2 1.9.2-1.6.2 3.9.2-4.3.2 5.6.2-1.7.2-5.9.2 6.4.2 1.7.2-5.2.2 4.6.2-5.2.2 5 .2-6.9.2 8.7.2-3.6.2-.7.2 6.2.2 3.9.2-4.2.2 2.9.2-.5.2 0 .2 2 .2 2 .2-3.3.2 3 .2.4.2-6 .2 8.6.2.9.2-2.4.2 3.2.2-3.5.2 2.7.2 2 .2-.6.2.6.2 1.1.2-.2.2-.3.2-1.6.2-.6.2 2.4.2-1.5.2.8.2-.9.2.7.2-.8.2 2.1.2-1.9.2.4.2-.2.2.9.2-2.3.2.9.2-1.2.2 1.3.2-.2.2-1 .2.3.2-1.1.2.3.2-2 .2-.1.2.2.2 0 .2 1.7.2-4.6.2 1.4.2-.3.2-7.2.2-1.7.2-1.1.2.1.2 3.8.2-5.1.2 1.8.2-3.3.2-5.1.2.3.2 7.6.2-1.9.2-3.4.2 5.5.2-6.1.2 6.1.2.7.2-5.1.2-.8.2 4.4.2-4.5.2 4.5.2-4.7.2 4.6.2-1.7.2-1.2.2-1.1.2 2.6.2-5 .2 3.7.2-.3.2 2.5.2-4.5.2 6.9.2-4.9.2-2.1.2 1.2.2 5.1.2-4.6.2-1.8.2 2 .2-1.9.2.8.2 4.5.2-3.1.2-.7.2.3.2-1.1.2 2.1.2-.1.2-3.3.2 1 .2 2.9.2-2.3.2-1.8.2 5.7.2-5.5.2-3.1.2 4.6.2-4.4.2 1 .2 2 .2-1 .2-1.4.2.9.2.3.2 4.8.2-4.5.2.7.2 6.8.2-6.1.2 5.3.2-.1.2-3.2.2-2.7.2 5.1.2 1.1.2 1.2.3-1.3.2 3 .2.9.2-4.3.2 5.5.2-1.8.2-.7.2 1.1.2 4.4.2-1 .2-6.9.2 6.7.2.2.2.2.2-.1.2-1.1.2 3.6.2-2.2.2 1.1.2 0 .2.2.2.8.2 1.2.2-1 .2 0 .2.9.2 1.9.2-.6.2.4.2-.3.2.4.2.8.2-1.8.2 3.7.2-2 .2.4.2 2 .2-.8.2 0 .2-.3.2-.6.2 1.7.2 1 .2-1.5.2 2 .2-1.7.2.5.2 1.1.2-.1.2.6.2-.7.2 0 .2-1.2.2 1.6.2.3.2 0 .2 1.2.2-.3.2-.4.2 2.4.2-2.7.2-1.5.2.7.2-1 .2-3.2.2-1.6.2-.1.2 1.6.2-1.1.2-.7.2.7.2 1.3.2-3.2.2 1 .2-1.3.2 4.1.2-.5.2-1.2.2-1.5.2.8.2-3.6.2 2.9.2-2.3.2-.1.2.6.2.3.2 1.1.2.1.2-.8.2-2.3.2 2.6.2-1.2.2 1.7.2-3.2.2-2.8.2 2.2.2 4.7.2-2.7.2-1.1.2 1.5.2-.7.2-.2.2-1.7.2.8.2 0 .2-1.5.2-.9.2 1.9.2 1.2.2-.7.2-.4.2-.1.2 3.3.2-4 .2 1.2.2 1.5.2-3.4.2.2.2 1.3.2 1 .2-2.6.2 0 .2-.6.2-2.4.2-.2.2 1.6.2-2.8.2 2.7.2-3 .2 1.2.2 1.8.2-1.9.2 3.6.2-4.9.2-1.5.2 5.1.2-.9.2 1.4.2-1.5.2-.4.2-.4.2 2.2.2-3.7.2 2.2.2-1.3.2.5.2-1.1.2 4.8.2-5.9.2 1.8.2-.1.2.6.2-.5.2-.2.2 1.1.2-5.6.2 3.3.2-2.8.2 3 .2-3.2.2.4.3 1.2.2 2.5.2-2.7.2-1.5.2 1.9.2-6.9.2-6 .2 5.5.2-2.8.2 5.8.2 2 .2-11.4.2 8.6.2-1.6.2-2.8.2-2.4.2-.1.2-.6.2.9.2 3 .2-3.4.2 6.4.2-.6.2 2.3.2 1.1.2-2.7.2 6.5.2-5.1.2 5.2.2-5.1.2 5.1.2-2 .2 1.3.2.4.2-11.6.2 12 .2 3 .2 1.7.2-3.2.2-.5.2 2.9.2 1.9.2.2.2.6.2 3.2.2 1 .2.4.2-1.2.2 2 .2.6.2-.4.2 3.1.2 0 .2.4.2 1.8.2-.3.2.4.2.5.2-.1.2-1 .2.1.2.2.2-2.2.2-.1.2-.5.2.3.2-1.3.2-.8.2-2.1.2.6.2-1.2.2-1.8.2 1.5.2-1.6.2-2.2.2 2.9.2-3.3.2 1.8.2-3.8.2 2.2.2-1.8.2-.3.2-2 .2 6.9.2-6.7.2 2.8.2 1.3.2-2.5.2 1 .2-3.5.2 2.9.2-1.2.2 1.8.2-.6.2-3 .2-.8.2 1.5.2 3.3.2-.6.2 0 .2-4.6.2-1.2.2 3.8.2.6.2-.5.2 1.8.2-1 .2-4.4.2 3.1.2 1.9.2-.2.2-.2.2 4.3.2-4.7.2.7.2-2.1.2 1.2.2 1.7.2.1.2-1.4.2 1 .2-.6.2-3.6.2-2.6.2 10.4.2-2.7.2-1.7.2-3.1.2.8.2 4.9.2-7.7.2 4.6.2 2.2.2-1.3.2 1.1.2-1.6.2 4.7.2-6.4.2-.6.2 3 .2 2.2.2-2.8.2 2.1.2-3 .2-1.2.2 4.8.2.3.2 0 .2-3.7.2-1.4.2 0 .2-.1.2 3.4.2-.1.2-3.7.2 3.1.2-.4.2.2.2-.2.2-3.6.2 4.7.3-.9.2.2.2-1.7.2 2 .2-.9.2-3.8.2 4.9.2-1.4.2 2.2.2-2 .2.1.2.6.2-6.2.2 5 .2-2.6.2 6.8.2-6.4.2 2.4.2 1.8.2-.5.2.4.2.3.2 1 .2-1.8.2 1.3.2-3.8.2 2.3.2-1.1.2-.3.2 1.7.2 2.3.2-3.9.2.2.2 2.7.2-.2.2 2.7.2-1.6.2-1.2.2-.9.2 1.1.2-.5.2-1.9.2 2.5.2-.2.2.3.2 1 .2 4.4.2-.3.2 1.5.2-.5.2.9.2 2.1.2 1.7" fill="none" stroke="#000" stroke-width="0.85" stroke-linejoin="round"/>
<path d="M85.2 414.3l.2.6.2-1.1.2 1.3.2-1.8.2.9.2.3.2-.1.2-.3.2 1.2.2 1.1.2-1.9.2.6.2-.6.2-1.5.2 2.7.2-1.7.2.5.2-.4.2.5.2-.5.2.4.2-1.2.2.7.2 1 .2-1.7.2.2.2 1.4.2-.7.2.4.2-2.2.2 1.5.2-1 .2-.1.2 1.2.2.5.2-1.8.2.2.2.3.2.3.2-.8.2 2.4.2-1.2.2-2.2.2 1.4.2 2 .2-.1.2-2 .2.6.2.6.2-1.8.2.4.2 1.4.2-1.5.2.2.2-.7.2.4.2 1 .2-1.1.2-.4.2.4.2 1.8.2-1.2.2-.6.2.5.2.2.2-.3.2-1.5.2 1.6.2-.4.2.8.2-3.1.2 3.2.2-1.3.2-.9.2 2.3.2-1.5.2.7.2-.4.2.9.5 0 .2-.4.2-1.9.2-.1.2 1.5.2-.9.2 1.1.2-.3.2-1.3.2.3.2-.1.2.1.2.6.2.7.2.5.2-1.9.2.3.2 1.7.2-2.9.2 1.8.2-2.2.2 1.1.2 1 .2-.7.2 2.2.2-1.7.2.2.2-1.2.2 0 .2.3.2 0 .2.3.2.5.2-.1.2.7.2-2.1.2 1.3.2 0 .2 1.2.2-1.6.2.4.2-1 .2 1.1.2-.1.2-.9.2.1.2.4.2.5.2-1.6.2 1.9.2-1.2.2 2 .2-.4.2-1.7.2-.2.2 2.8.2-1.7.2-.1.2-.9.2.2.2.9.2-.2.2-1.5.2 1.9.2-1.1.2-1.3.2 1.8.2-1.3.2.8.2-1.4.2.8.2-2.2.2 1.9.2-2.1.2 1.7.2-3.1.2-.3.2 3.6.2-.7.2.4.2-3.2.2 2.8.2-.4.2-4.1.2.1.2-.2.2.4.2-.1.2-4.5.2 4.3.2-1.8.2-1.7.2 2.9.2-2.6.2 2.5.2-1 .2-1.5.2 2.5.2-.6.2-2.3.2-1.9.2 1.8.2 2 .2-1.5.2 3.4.2-2.6.2-.1.2.3.2-2.2.2 1.2.2-.9.2-3.8.2 1.8.2 4.3.2-2 .2.5.2-2.4.2 1.6.2 2.3.2-5.9.2 3.6.2 3.6.2-2.8.2-.6.2 2.6.2-5 .2 4 .2-3 .2.6.2-.6.2 2.1.2 0 .2.3.2-.2.2 2.1.2.5.2-1.8.2.1.2-2 .2-1.3.2 3 .2-4.3.2 4.7.2-4.7.2 8 .2-7 .2 2.4.2 1.7.2-4.2.2 1.5.2-2.6.2 1.1.2-.9.2 3.6.2.4.2-1.1.2 2.8.2.2.2-2.4.2-.4.2 0 .3-.3.2 3.1.2-1.9.2-1 .2.2.2 1.4.2-1.6.2 1.2.2-.6.2 2.5.2-.3.2-4.5.2 2.2.2 1.5.2-2 .2 2.2.2-.8.2.5.2-1.1.2.6.2.4.2-3.4.2 1 .2-.2.2 4.7.2-2.4.2.2.2-.4.2-1.1.2-.4.2 2.7.2-2 .2 3.3.2-2.3.2-.2.2-.5.2.3.2.5.2 2.8.2 1.6.2-5.2.2 2.6.2 1.1.2-2.1.2.8.2-.8.2-.8.2 4.6.2-.6.2.3.2.6.2-1 .2 4.4.2-2.1.2 1.1.2-1.1.2 1.3.2-.3.2.6.2-.4.2.5.2 1.6.2.6.2.1.2-.5.2 1.1.2-1.7.2 2.9.2-.3.2.6.2.9.2-.5.2 1.1.2-.4.2.9.2-.5.2.3.2.4.2-1.1.4 0 .2.2.2 1.2.2-1.8.2-.9.2.6.2-.6.2.5.2.2.2-.6.2 0 .2-.9.2 1.1.2-.7.2 1 .2-.2.2-1.4.2.2.2.1.2.3.2-1.9.2 1 .2 1.3.2-1.6.2.1.2-.3.2-1.2.2 1.6.2-.7.2-.2.2.3.2-.1.2-2.5.2 1.9.2-1.1.2.5.2-.9.2-.3.2 1.5.2-1.1.2-.8.2.3.2.2.2-.2.2-2.5.2 1.5.2.6.2.9.2.6.2-2.5.2 3 .2-2.1.2.4.2-1.2.2-.2.2 1.9.2-1.6.2 0 .2 1.4.2.5.2-3.7.2 1.4.2.2.2 2 .2.7.2-3 .2.4.2.5.2.3.2-1.8.2 1.3.2-2 .2-2.4.2 1.5.2 1.7.2.6.2-5 .2 1.4.2 2 .2-4.5.2 5 .3.4.2-5.5.2 4.9.2-1.5.2 2 .2-1.7.2-.9.2.3.2-1.6.2 1.4.2-.4.2-2.4.2 2.7.2-.8.2 2.6.2-3.1.2-.3.2-1 .2 0 .2.3.2-1.1.2.4.2 3.4.2-4 .2-1.2.2 3.5.2-3.6.2 6.3.2-4.7.2 2.4.2-3.2.2 2.6.2 2.3.2-.5.2-3.5.2 7.4.2-1.9.2-.8.2.1.2-2.8.2 6.2.2-2.2.2 1.1.2-.6.2 2.5.2-1.3.2 1.4.2-.1.2-.9.2 1.5.2.5.2-1.7.2 2 .2 2.7.2-3.1.2 1.1.2-1.3.2 1.6.2-.5.2 1.3.2-.4.2-.5.2 1.8.2-.6.2-.2.2 1 .2-.4.2 1.1.2 0 .2.1.2.8.2-.7.2.8.2-1.9.2 1.5.2-1.7.2-.1.2-.7.2-1 .2.5.2-1.3.2 1.4.2-1.6.2-.2.2.2.2.2.2-1.6.2-.1.2-1.7.2-.2.2 2.6.2-2.9.2.6.2-.2.2.5.2.8.2-2.1.2.1.2.9.2-3.4.2.4.2.1.2.3.2.2.2-.9.2 3.2.2-3.1.2.8.2 1.9.2-.3.2-.8.2.7.2.7.2-.9.2 1 .2-1.8.2 1.4.2-1.8.2 1 .2-.2.2 2.8.2-2 .2.9.2-1.5.2.9.2-.1.2-.7.2 2 .2-3 .2 2.7.2 2.3.2-4 .2.9.2-2.1.2 2.1.2-2.1.2 2.8.2-1.3.2-1.6.2.6.2-.4.2 1.6.2 1.3.2-1.5.2-.9.2.3.2 1.2.2-3.1.2 3.6.2-.2.2-3.4.2 4.3.2-3.4.2 1.7.2 1.6.2-3.4.2-.2.2.8.2.1.2 1.1.2-.5.5 0 .2.4.2-.8.2 1.4.2-.4.2-1.3.2 3.4.2-3.7.2 1.8.2-1.2.2 1.1.2.4.2.4.2.7.2-2.7.2 4.4.2-2.9.2-2.8.2.6.2 4.5.2-2.7.2-.2.2.9.2.7.2-1.5.2-.6.2.4.2 1.1.2-1 .2-1.6.2 2.5.2-3.1.2 1.2.2 2.4.2-1.2.2 0 .2-.2.2.3.2-.5.2-2.4.2 2.7.2-4.1.2 1.3.2 4.5.2-.7.2-1.9.2.9.2.6.2 1.5.2-1.5.2.3.2.8.2 1.2.2.6.2-.2.2 1.5.2-1.1.2 1.3.2 0 .2.2.2 2 .2-.6.2-.5.2.5.2-.8.2.9.2.1.2-.1.2-1.5.2.5.2 1.3.2-1.6.2.9.2.1.2-2.3.2 1.8.2-.4.2-.1.2.6.2-1.1.2-.5.2.4.2-1 .2.6.2-2.3.2 3.2.2-2.1.2.8.2-.3.2-.3.2-.2.2-.1.2-1.8.2.9.2 1.6.2-2.3.2-.2.2 3.1.2-1 .2.2.2-1.7.2.2.2.4.2-.4.2-.8.2-1.6.2.6.2-1 .2 3.4.2-2.4.2.1.2.5.2-.5.2.5.2-1.5.2-1.2.2 3.8.2-3.1.2.2.2-.6.2.2.2.6.2.8.2-2.5.2 1.6.2-1.4.2 2.4.2-3.4.2 1.7.2.7.2-3 .2 1.9.2-.1.2-1.5.2.7.2 1.6.2-5.2.2 2.9.2.3.2 1 .2 1.2.2-.7.2-.1.2 1.2.2-4.5.2.1.2-1.2.2 3.2.2-3.2.2 3.2.2 1.1.2-3.1.2 1.1.2.6.2 1.4.2-3.3.2 2.7.2.5.2-.8.2 0 .3-2.6.2 2.7.2-.4.2-.4.2.5.2-.5.2 1.4.2-.8.2 1.5.2-2.8.2 1.2.2.4.2-1.2.2 2.4.2-1.1.2.4.2-.1.2-3.7.2-5.6.2-3 .2 2.6.2-4.5.2-.2.2-2.6.2 4.6.2.2.2-5.7.2 4.2.2-.9.2-2 .2 5.4.2-1.4.2 2 .2 5.2.2-2.1.2.2.2-2.5.2-.7.2 5.7.2-2.2.2 1.5.2.1.2 1.6.2 4.6.2-3.6.2.9.2 1.5.2.9.2-1.1.2.2.2 2.2.2 1 .2-.1.2.4.2.6.2 1.1.2.8.2-.8.2 1.5.2 1.2.2.2.2-.3.2 1.2.2.4.2.4.2-1.5.2 1.4.2-.7.2.4.2.2.2-1 .2-1.6.2 2.1.2.5.2-.9.2-.5.2.4.2.6.2.5.2-1.1.2.1.2.1.2 0 .2-.6.2.3.2.4.2-.1.2-.1.2-.7.2.3.2-.1.2 1.1.2.3.2-.8.2.8.2-1.3.2 0 .2-.7.2-1.2.2-3.1.2-1.8.2-1.8.2-3.5.2-6.6.2 2.1.2-2.4.2-2.2.2.4.2-2.3.2-.2.2 5.2.2-9 .2 4.2.2-2.3.2 1 .2 1.9.2 1 .2 3.9.2-7.4.2.8.2-1.7.2 1 .2-1.6.2-2.3.2 5.7.2-2.8.2 3.1.2-5.5.2 1.9.2-1.8.2-5.1.2 1.3.2 6 .2-2.2.2-6.3.2 3.1.2-1.3.2 1.5.2 2.6.2-3.5.2 8.2.2-7.7.2-1.9.2 7 .2-2 .2 1.2.2 1.5.2-3.4.2.2.2-10.7.2 2.7.2 4.1.2-1.2.2 1.4.2-4.8.2 5.5.2 3 .2-5.7.2.5.2-1.6.2 1.2.3-3.2.2-3.2.2 2.4.2-1 .2-7.4.2 6.5.2-1.6.2 0 .2-8.2.2 8 .2-.1.2-6.7.2 4.1.2 2.9.2.6.2-6.5.2.5.2 5.4.2-3.6.2 15.4.2-12.6.2 1 .2 6.5.2-3.5.2-6.1.2 9.3.2-1.5.2 3 .2-2.1.2 3.8.2 3.7.2 1.7.2-6.2.2 7.2.2 1.2.2 3.9.2.7.2-1.1.2 5.6.2-3.6.2 5.7.2-1.1.2 3.3.2.5.2 1.4.2 1.8.2 1 .2.8.2 1.2.2-.3.2 2.4.2-.5.2 1.3.2 2.6.2.3.2 1.3.2-.2.2.5.2-.5.2.7.2.1.2-.7.2-.5.2-.6.2-1.1.2-.5.2-.8.2-.9.2.8.2-.8.2.4.2-1.3.2 1.1.2.4.2-1.8.2-1.7.2-1.3.2 3.4.2-2.2.2-2.1.2 2.4.2-3.5.2 1.3.2.1.2-.4.2-1.2.2 4.3.2-3.8.2.9.2-.7.2-2.4.2 1.2.2.9.2.8.2-2 .2-2.2.2 1.8.2 1.1.2-4.7.2 4.4.2-2.1.2-.1.2-3.7.2 2.5.2 2.5.2 2.7.2-4.7.2 0 .2 1.9.2-.4.2-1.4.2.7.2-.3.2-3.4.2 5.2.2 1 .2-.8.2-.4.2-3.1.2 3.6.2-3.1.2 5 .2-3 .2 1.8.2-3.5.2 2.9.2-1 .2-.9.2-.8.2-.3.2 4.3.2-1 .2-1.7.2.1.2-1.5.2-1.7.2.1.2.1.2 2.5.2-1.7.2 3.2.2-.5.2-.5.2-3.1.2 2.5.2.3.2-2 .2-1.5.2 6.6.2-2.1.2-1.6.2 3.1.2-.7.2-1.1.2-.3.2.8.2 1.1.2-2.2.2-.5.2 1.3.2-5.4.3 4.6.2-.8.2.7.2-.3.2.8.2-.3.2-.1.2-.3.2.9.2-1.5.2 2.4.2-4.3.2 3 .2.4.2-2.7.2 1.3.2 2.8.2-2.3.2-1.2.2-3 .2 5.7.2-3.4.2 4.8.2 2.5.2-2.3.2.7.2-.5.2 1.3.2.6.2 1.3.2.2.2-1 .2.7.2 2.3.2-2.8.2 3 .2 1.1.2-.6.2.3.2 1.2.2-.3.2-1.3.2 1.7.2 1.3.2.1.2-.9.2.6.2.1.2.1.2.6.2-.4.2 1 .2-.1" fill="none" stroke="#000" stroke-width="0.85" stroke-linejoin="round"/>
<line x1="211.7" y1="361" x2="211.7" y2="319.8" stroke="#000" stroke-width="0.9"/>
<line x1="211.7" y1="414" x2="211.7" y2="369.5" stroke="#000" stroke-width="0.9"/>
<line x1="85.2" y1="363" x2="85.2" y2="369" stroke="#000" stroke-width="0.8"/>
<text transform="translate(64.6 363.6) scale(0.9495 1)" font-size="14.72">1</text>
<text transform="translate(60.9 422.6) scale(0.9495 1)" font-size="14.72">48</text>
<circle cx="67.4" cy="380.5" r="0.8" fill="#333"/>
<circle cx="67.4" cy="398.8" r="0.8" fill="#333"/>
<text transform="translate(51.3 426.7) rotate(-90) scale(0.95 1)" font-size="14.7">sEMG<tspan font-size="14" dy="2.4">bp</tspan><tspan dy="-2.4"> ch #</tspan></text>
<line x1="171.5" y1="425.7" x2="171.5" y2="443.9" stroke="#000" stroke-width="1"/>
<path d="M171.5 452.9l-3.2-10 3.2 2.8 3.2-2.8z" fill="#000"/>
<text transform="translate(179.2 436.5) scale(0.9495 1)" font-size="14.72">NMF</text>
<text transform="translate(46 455.8) scale(0.9174 1)" font-size="17.99" font-weight="bold">F</text>
<path d="M28.4 460.7h1.6v1.6h-1.6zM28.4 714h1.6v1.6h-1.6zM33.7 460.7h1.6v1.6h-1.6zM33.7 714h1.6v1.6h-1.6zM39 460.7h1.6v1.6h-1.6zM39 714h1.6v1.6h-1.6zM44.3 460.7h1.6v1.6h-1.6zM44.3 714h1.6v1.6h-1.6zM49.6 460.7h1.6v1.6h-1.6zM49.6 714h1.6v1.6h-1.6zM54.9 460.7h1.6v1.6h-1.6zM54.9 714h1.6v1.6h-1.6zM60.1 460.7h1.6v1.6h-1.6zM60.1 714h1.6v1.6h-1.6zM65.4 460.7h1.6v1.6h-1.6zM65.4 714h1.6v1.6h-1.6zM70.7 460.7h1.6v1.6h-1.6zM70.7 714h1.6v1.6h-1.6zM76 460.7h1.6v1.6h-1.6zM76 714h1.6v1.6h-1.6zM81.3 460.7h1.6v1.6h-1.6zM81.3 714h1.6v1.6h-1.6zM86.6 460.7h1.6v1.6h-1.6zM86.6 714h1.6v1.6h-1.6zM91.9 460.7h1.6v1.6h-1.6zM91.9 714h1.6v1.6h-1.6zM97.2 460.7h1.6v1.6h-1.6zM97.2 714h1.6v1.6h-1.6zM102.5 460.7h1.6v1.6h-1.6zM102.5 714h1.6v1.6h-1.6zM107.8 460.7h1.6v1.6h-1.6zM107.8 714h1.6v1.6h-1.6zM113 460.7h1.6v1.6h-1.6zM113 714h1.6v1.6h-1.6zM118.3 460.7h1.6v1.6h-1.6zM118.3 714h1.6v1.6h-1.6zM123.6 460.7h1.6v1.6h-1.6zM123.6 714h1.6v1.6h-1.6zM128.9 460.7h1.6v1.6h-1.6zM128.9 714h1.6v1.6h-1.6zM134.2 460.7h1.6v1.6h-1.6zM134.2 714h1.6v1.6h-1.6zM139.5 460.7h1.6v1.6h-1.6zM139.5 714h1.6v1.6h-1.6zM144.8 460.7h1.6v1.6h-1.6zM144.8 714h1.6v1.6h-1.6zM150.1 460.7h1.6v1.6h-1.6zM150.1 714h1.6v1.6h-1.6zM155.4 460.7h1.6v1.6h-1.6zM155.4 714h1.6v1.6h-1.6zM160.7 460.7h1.6v1.6h-1.6zM160.7 714h1.6v1.6h-1.6zM165.9 460.7h1.6v1.6h-1.6zM165.9 714h1.6v1.6h-1.6zM171.2 460.7h1.6v1.6h-1.6zM171.2 714h1.6v1.6h-1.6zM176.5 460.7h1.6v1.6h-1.6zM176.5 714h1.6v1.6h-1.6zM181.8 460.7h1.6v1.6h-1.6zM181.8 714h1.6v1.6h-1.6zM187.1 460.7h1.6v1.6h-1.6zM187.1 714h1.6v1.6h-1.6zM192.4 460.7h1.6v1.6h-1.6zM192.4 714h1.6v1.6h-1.6zM197.7 460.7h1.6v1.6h-1.6zM197.7 714h1.6v1.6h-1.6zM203 460.7h1.6v1.6h-1.6zM203 714h1.6v1.6h-1.6zM208.3 460.7h1.6v1.6h-1.6zM208.3 714h1.6v1.6h-1.6zM213.6 460.7h1.6v1.6h-1.6zM213.6 714h1.6v1.6h-1.6zM218.8 460.7h1.6v1.6h-1.6zM218.8 714h1.6v1.6h-1.6zM224.1 460.7h1.6v1.6h-1.6zM224.1 714h1.6v1.6h-1.6zM229.4 460.7h1.6v1.6h-1.6zM229.4 714h1.6v1.6h-1.6zM234.7 460.7h1.6v1.6h-1.6zM234.7 714h1.6v1.6h-1.6zM240 460.7h1.6v1.6h-1.6zM240 714h1.6v1.6h-1.6zM245.3 460.7h1.6v1.6h-1.6zM245.3 714h1.6v1.6h-1.6zM250.6 460.7h1.6v1.6h-1.6zM250.6 714h1.6v1.6h-1.6zM255.9 460.7h1.6v1.6h-1.6zM255.9 714h1.6v1.6h-1.6zM261.2 460.7h1.6v1.6h-1.6zM261.2 714h1.6v1.6h-1.6zM266.5 460.7h1.6v1.6h-1.6zM266.5 714h1.6v1.6h-1.6zM271.7 460.7h1.6v1.6h-1.6zM271.7 714h1.6v1.6h-1.6zM277 460.7h1.6v1.6h-1.6zM277 714h1.6v1.6h-1.6zM282.3 460.7h1.6v1.6h-1.6zM282.3 714h1.6v1.6h-1.6zM287.6 460.7h1.6v1.6h-1.6zM287.6 714h1.6v1.6h-1.6zM292.9 460.7h1.6v1.6h-1.6zM292.9 714h1.6v1.6h-1.6zM298.2 460.7h1.6v1.6h-1.6zM298.2 714h1.6v1.6h-1.6zM303.5 460.7h1.6v1.6h-1.6zM303.5 714h1.6v1.6h-1.6zM308.8 460.7h1.6v1.6h-1.6zM308.8 714h1.6v1.6h-1.6zM314.1 460.7h1.6v1.6h-1.6zM314.1 714h1.6v1.6h-1.6zM319.4 460.7h1.6v1.6h-1.6zM319.4 714h1.6v1.6h-1.6zM324.6 460.7h1.6v1.6h-1.6zM324.6 714h1.6v1.6h-1.6zM329.9 460.7h1.6v1.6h-1.6zM329.9 714h1.6v1.6h-1.6zM335.2 460.7h1.6v1.6h-1.6zM335.2 714h1.6v1.6h-1.6zM340.5 460.7h1.6v1.6h-1.6zM340.5 714h1.6v1.6h-1.6zM345.8 460.7h1.6v1.6h-1.6zM345.8 714h1.6v1.6h-1.6zM351.1 460.7h1.6v1.6h-1.6zM351.1 714h1.6v1.6h-1.6zM28.4 466h1.6v1.6h-1.6zM351.1 466h1.6v1.6h-1.6zM28.4 471.3h1.6v1.6h-1.6zM351.1 471.3h1.6v1.6h-1.6zM28.4 476.5h1.6v1.6h-1.6zM351.1 476.5h1.6v1.6h-1.6zM28.4 481.8h1.6v1.6h-1.6zM351.1 481.8h1.6v1.6h-1.6zM28.4 487.1h1.6v1.6h-1.6zM351.1 487.1h1.6v1.6h-1.6zM28.4 492.4h1.6v1.6h-1.6zM351.1 492.4h1.6v1.6h-1.6zM28.4 497.6h1.6v1.6h-1.6zM351.1 497.6h1.6v1.6h-1.6zM28.4 502.9h1.6v1.6h-1.6zM351.1 502.9h1.6v1.6h-1.6zM28.4 508.2h1.6v1.6h-1.6zM351.1 508.2h1.6v1.6h-1.6zM28.4 513.5h1.6v1.6h-1.6zM351.1 513.5h1.6v1.6h-1.6zM28.4 518.7h1.6v1.6h-1.6zM351.1 518.7h1.6v1.6h-1.6zM28.4 524h1.6v1.6h-1.6zM351.1 524h1.6v1.6h-1.6zM28.4 529.3h1.6v1.6h-1.6zM351.1 529.3h1.6v1.6h-1.6zM28.4 534.6h1.6v1.6h-1.6zM351.1 534.6h1.6v1.6h-1.6zM28.4 539.9h1.6v1.6h-1.6zM351.1 539.9h1.6v1.6h-1.6zM28.4 545.1h1.6v1.6h-1.6zM351.1 545.1h1.6v1.6h-1.6zM28.4 550.4h1.6v1.6h-1.6zM351.1 550.4h1.6v1.6h-1.6zM28.4 555.7h1.6v1.6h-1.6zM351.1 555.7h1.6v1.6h-1.6zM28.4 561h1.6v1.6h-1.6zM351.1 561h1.6v1.6h-1.6zM28.4 566.2h1.6v1.6h-1.6zM351.1 566.2h1.6v1.6h-1.6zM28.4 571.5h1.6v1.6h-1.6zM351.1 571.5h1.6v1.6h-1.6zM28.4 576.8h1.6v1.6h-1.6zM351.1 576.8h1.6v1.6h-1.6zM28.4 582.1h1.6v1.6h-1.6zM351.1 582.1h1.6v1.6h-1.6zM28.4 587.4h1.6v1.6h-1.6zM351.1 587.4h1.6v1.6h-1.6zM28.4 592.6h1.6v1.6h-1.6zM351.1 592.6h1.6v1.6h-1.6zM28.4 597.9h1.6v1.6h-1.6zM351.1 597.9h1.6v1.6h-1.6zM28.4 603.2h1.6v1.6h-1.6zM351.1 603.2h1.6v1.6h-1.6zM28.4 608.5h1.6v1.6h-1.6zM351.1 608.5h1.6v1.6h-1.6zM28.4 613.7h1.6v1.6h-1.6zM351.1 613.7h1.6v1.6h-1.6zM28.4 619h1.6v1.6h-1.6zM351.1 619h1.6v1.6h-1.6zM28.4 624.3h1.6v1.6h-1.6zM351.1 624.3h1.6v1.6h-1.6zM28.4 629.6h1.6v1.6h-1.6zM351.1 629.6h1.6v1.6h-1.6zM28.4 634.8h1.6v1.6h-1.6zM351.1 634.8h1.6v1.6h-1.6zM28.4 640.1h1.6v1.6h-1.6zM351.1 640.1h1.6v1.6h-1.6zM28.4 645.4h1.6v1.6h-1.6zM351.1 645.4h1.6v1.6h-1.6zM28.4 650.7h1.6v1.6h-1.6zM351.1 650.7h1.6v1.6h-1.6zM28.4 656h1.6v1.6h-1.6zM351.1 656h1.6v1.6h-1.6zM28.4 661.2h1.6v1.6h-1.6zM351.1 661.2h1.6v1.6h-1.6zM28.4 666.5h1.6v1.6h-1.6zM351.1 666.5h1.6v1.6h-1.6zM28.4 671.8h1.6v1.6h-1.6zM351.1 671.8h1.6v1.6h-1.6zM28.4 677.1h1.6v1.6h-1.6zM351.1 677.1h1.6v1.6h-1.6zM28.4 682.3h1.6v1.6h-1.6zM351.1 682.3h1.6v1.6h-1.6zM28.4 687.6h1.6v1.6h-1.6zM351.1 687.6h1.6v1.6h-1.6zM28.4 692.9h1.6v1.6h-1.6zM351.1 692.9h1.6v1.6h-1.6zM28.4 698.2h1.6v1.6h-1.6zM351.1 698.2h1.6v1.6h-1.6zM28.4 703.4h1.6v1.6h-1.6zM351.1 703.4h1.6v1.6h-1.6zM28.4 708.7h1.6v1.6h-1.6zM351.1 708.7h1.6v1.6h-1.6z" fill="#148a8a"/>
<text transform="translate(113.4 474.5) scale(0.9495 1)" font-size="14.72">Time-invariant synergy coefficients, W</text>
<path d="M110.2 499.1h4v2.4h-4zM114.8 497.2h4v4.3h-4zM119.5 492.5h4v9h-4zM124.1 491.6h4v9.9h-4zM128.8 492.9h4v8.6h-4zM133.4 487h4v14.5h-4zM138.1 484.2h4v17.3h-4zM142.7 489.2h4v12.3h-4zM147.4 501h4v0.5h-4zM152.1 501.2h4v0.3h-4zM156.7 500.9h4v0.6h-4zM161.4 501.2h4v0.3h-4zM166 501.2h4v0.3h-4zM170.7 501.1h4v0.4h-4zM175.3 501.1h4v0.4h-4zM180 501h4v0.5h-4zM184.6 496h4v5.5h-4zM189.3 497.4h4v4.1h-4zM193.9 499.3h4v2.2h-4zM198.6 499.8h4v1.7h-4zM203.3 500h4v1.5h-4zM207.9 499.8h4v1.7h-4zM212.6 498.7h4v2.8h-4zM217.2 497.4h4v4.1h-4zM221.9 498.6h4v2.9h-4zM226.5 496h4v5.5h-4zM231.2 492.3h4v9.2h-4zM235.8 492.7h4v8.8h-4zM240.5 492.5h4v9h-4zM245.2 490.8h4v10.7h-4zM249.8 494.7h4v6.8h-4zM254.5 497.8h4v3.7h-4zM259.1 498.7h4v2.8h-4zM263.8 499.3h4v2.2h-4zM268.4 500.6h4v0.9h-4zM273.1 500.9h4v0.6h-4zM277.7 501.1h4v0.4h-4zM282.4 500.6h4v0.9h-4zM287 500.9h4v0.6h-4zM291.7 500.2h4v1.3h-4zM296.4 499.8h4v1.7h-4zM301 500.2h4v1.3h-4zM305.7 500.6h4v0.9h-4zM310.3 500.6h4v0.9h-4zM315 500.6h4v0.9h-4zM319.6 500.2h4v1.3h-4zM324.3 499.7h4v1.8h-4zM328.9 498.8h4v2.7h-4z" fill="#000"/>
<rect x="107.5" y="484" width="228.1" height="17.5" fill="none" stroke="#a8a8a8" stroke-width="0.8"/>
<text transform="translate(103 506.7) scale(0.9495 1)" font-size="14.72" text-anchor="end">0</text>
<text transform="translate(103 490.9) scale(0.9495 1)" font-size="14.72" text-anchor="end">2</text>
<text transform="translate(31.8 496) scale(0.9495 1)" font-size="14.72">Syn 1</text>
<path d="M110.2 521.4h4v6.2h-4zM114.8 522h4v5.6h-4zM119.5 521.4h4v6.2h-4zM124.1 522h4v5.6h-4zM128.8 521.1h4v6.5h-4zM133.4 522.9h4v4.7h-4zM138.1 524.1h4v3.5h-4zM142.7 525.1h4v2.5h-4zM147.4 512.6h4v15h-4zM152.1 513.6h4v14h-4zM156.7 519.1h4v8.5h-4zM161.4 520.5h4v7.1h-4zM166 519.5h4v8.1h-4zM170.7 518.9h4v8.7h-4zM175.3 517.4h4v10.2h-4zM180 519.5h4v8.1h-4zM184.6 525.7h4v1.9h-4zM189.3 525.7h4v1.9h-4zM193.9 526.4h4v1.2h-4zM198.6 526.1h4v1.5h-4zM203.3 526.4h4v1.2h-4zM207.9 525.7h4v1.9h-4zM212.6 524.7h4v2.9h-4zM217.2 523.2h4v4.4h-4zM221.9 522h4v5.6h-4zM226.5 521.7h4v5.9h-4zM231.2 521.7h4v5.9h-4zM235.8 521.4h4v6.2h-4zM240.5 520.1h4v7.5h-4zM245.2 522.4h4v5.2h-4zM249.8 525.1h4v2.5h-4zM254.5 526.1h4v1.5h-4zM259.1 517h4v10.6h-4zM263.8 515.1h4v12.5h-4zM268.4 518.9h4v8.7h-4zM273.1 519.5h4v8.1h-4zM277.7 518h4v9.6h-4zM282.4 517h4v10.6h-4zM287 517.3h4v10.3h-4zM291.7 518h4v9.6h-4zM296.4 525.4h4v2.2h-4zM301 525.7h4v1.9h-4zM305.7 526.1h4v1.5h-4zM310.3 526.1h4v1.5h-4zM315 526.1h4v1.5h-4zM319.6 526.4h4v1.2h-4zM324.3 525.7h4v1.9h-4zM328.9 524.9h4v2.7h-4z" fill="#000"/>
<rect x="107.5" y="510.4" width="228.1" height="17.2" fill="none" stroke="#a8a8a8" stroke-width="0.8"/>
<text transform="translate(103 532.8) scale(0.9495 1)" font-size="14.72" text-anchor="end">0</text>
<text transform="translate(103 520.3) scale(0.9495 1)" font-size="14.72" text-anchor="end">1</text>
<text transform="translate(31.8 525.5) scale(0.9495 1)" font-size="14.72">Syn 2</text>
<text transform="translate(107 543.2) scale(0.9495 1)" font-size="14.72" text-anchor="middle">0</text>
<text transform="translate(130.3 543.2) scale(0.9495 1)" font-size="14.72" text-anchor="middle">5</text>
<text transform="translate(154.8 543.2) scale(0.9495 1)" font-size="14.72" text-anchor="middle">10</text>
<text transform="translate(178 543.2) scale(0.9495 1)" font-size="14.72" text-anchor="middle">15</text>
<text transform="translate(201.3 543.2) scale(0.9495 1)" font-size="14.72" text-anchor="middle">20</text>
<text transform="translate(224.6 543.2) scale(0.9495 1)" font-size="14.72" text-anchor="middle">25</text>
<text transform="translate(247.8 543.2) scale(0.9495 1)" font-size="14.72" text-anchor="middle">30</text>
<text transform="translate(271.1 543.2) scale(0.9495 1)" font-size="14.72" text-anchor="middle">35</text>
<text transform="translate(294.4 543.2) scale(0.9495 1)" font-size="14.72" text-anchor="middle">40</text>
<text transform="translate(317.7 543.2) scale(0.9495 1)" font-size="14.72" text-anchor="middle">45</text>
<text transform="translate(178.9 559.9) scale(0.95 1)" font-size="14.7">sEMG<tspan font-size="14" dy="2.4">bp</tspan><tspan dy="-2.4"> ch #</tspan></text>
<text transform="translate(157.5 586.5) scale(0.9495 1)" font-size="14.72">Activation signals, H</text>
<line x1="140.2" y1="593.4" x2="140.2" y2="628.2" stroke="#a8a8a8" stroke-width="0.7" stroke-dasharray="1,1.3"/>
<line x1="172.8" y1="593.4" x2="172.8" y2="628.2" stroke="#a8a8a8" stroke-width="0.7" stroke-dasharray="1,1.3"/>
<line x1="205.5" y1="593.4" x2="205.5" y2="628.2" stroke="#a8a8a8" stroke-width="0.7" stroke-dasharray="1,1.3"/>
<line x1="238.2" y1="593.4" x2="238.2" y2="628.2" stroke="#a8a8a8" stroke-width="0.7" stroke-dasharray="1,1.3"/>
<line x1="270.9" y1="593.4" x2="270.9" y2="628.2" stroke="#a8a8a8" stroke-width="0.7" stroke-dasharray="1,1.3"/>
<line x1="303.5" y1="593.4" x2="303.5" y2="628.2" stroke="#a8a8a8" stroke-width="0.7" stroke-dasharray="1,1.3"/>
<path d="M107.5 625.1l.3.7.3 1.1.3-1.7.2.4.3.1.3.5.3-.5.3-.4.3.7.3-.5.2-.4.3.7.3.4.3-.4.3-.3.3-.2.3-.1.3.1.2-.1.3-.1.3.6.3-.5.3.3.3.2.3-1.6.2.9.3-.7.3 1.9.3-1.8.3-.2.3 1.2.3.2.2-.7.3-.5.3 1.3.3-1 .3-.3.3.3.3-.4.2.5.3-.3.3.1.3-.2.3.7.3-.1.3.8.3-.9.2-.5.3-.1.3.5.3-.8.3.5.3.8.3-1 .2 1.2.3-.5.3-.4.3-.4.3.6.3 0 .3.4.2.1.3-.4.3-.5.3-.4.3 1.4.3-.8.3 0 .3.4.2.3.3-.2.3-.4.3.1.3 1 .3-.5.3-1 .2.2.3 1.1.3-.1.3.2.3-.7.3-.6.3.4.2 0 .3.6.3-.6.3.2.3 0 .3.8.3.5.2-.5.3.3.3.6.3-1.6.3.2.3.7.3-.4.3.4.2-.4.3 1.5.3-.9.3.7.3-.8.3.4.3.5.2 0 .3-1.3.3 0 .3.4.3.6.3 0 .3-.9.2 1.4.3-1.1.3.4.3-.2.3-.1.3.5.3-.1.2-.6.3 1.3.3-1.3.3.8.3-.2.3-.8.3-.7.3.8.2 1.4.3.5.3-1.1.3.2.3.2.3-.4.3.5.2-.8.3.7.3-.1.3.4.3-.7.3.6.3-1 .2.6.3.6.3-.6.3.3.3-.5.3.2.3-.3.2.7.3-.7.3.9.3-.7.3.2.3-.3.3.3.3-.7.2 1 .3-.2.3-.8.3.7.3.3.3.1.3-.3.2-.3.3-.2.3.5.3-.5.3.5.3-.8.3.6.2-.2.3-.1.3.7.3-1 .3.5.3-.3.3 1.3.2-.2.3-.1.3 0 .3-.7.3-.2.3.5.3-.2.3.2.2-.9.3.2.3.3.3-.1.3-.6.3.1.3 1 .2-.1.3-.3.3-.5.3 0 .3-.1.3 1.2.3-1.4.2.8.3-.1.3-.2.3.6.3-.4.3-.6.3.2.3.5.2.1.3.7.3-.3.3-.6.3-.2.3-.2.3.9.2-.4.3-.2.3-.1.3-.2.3.1.3-.3.3-.2.2.5.3.1.3-.3.3-.5.3.7.3-1.2.3 1.5.2-.9.3.6.3-.3.3-1.3.3.9.3.3.3-.7.3-.6.2 1.5.3 0 .3-.8.3.3.3-.2.3-.3.3-.1.2-.6.3.8.3-.4.3-.2.3-.2.3.7.3-.1.2-.6.3.4.3-.9.3 0 .3.4.3.4.3.4.2-.2.3-.4.3-.9.3.9.3-.3.3-.6.3-1.1.3 1 .2.6.3-.4.3.9.3-1.3.3-.1.3.5.3.5.2-1.2.3-.2.3.8.3-.6.3.8.3-.8.3 0 .2 1.3.3-.6.3 1 .3-1 .3-1.4.3 2.5.3-.4.2-2.1.3 1.1.3.7.3-1.8.3 1.8.3-1.7.3 2 .3-.8.2-.1.3-.7.3.1.3.1.3.2.3-.3.3.3.2.2.3-.2.3 1 .3-.9.3.1.3.3.3 0 .2-.7.3.7.3.6.3-1.1.3 1.5.3-.8.3.1.2.9.3-.8.3 1.5.3-.9.3.1.3-.1.3.1.3.3.2-.2.3-.8.3 1.5.3.2.3-.5.3-.1.3.6.2 0 .3.5.3-.8.3-.1.3.3.3.5.3.5.2-.8.3 1.2.3-.4.3.5.3-.6.3-.9.3.6.3-.7.2 1.4.3-.1.3-.1.3-.6.3.7.3-.3.3.1.2-1 .3.6.3-.9.3.5.3.5.3-.9.3 1.3.2 0 .3-.4.3.6.3-.3.3.2.3-.8.3-1.1.2-.8.3-.5.3-.2.3.5.3-2.3.3-2 .3.4.3.7.2-.2.3-2 .3.4.3.5.3 1.2.3-2.1.3-.3.2.5.3 1.3.3-.5.3 2 .3-1.5.3-1 .3.8.2.3.3-2.5.3 1.8.3-1.6.3 1.9.3.6.3-1.4.2.2.3 1.5.3-.6.3-.1.3-3.4.3 3.7.3-1.7.3-1.1.2 1.1.3.4.3-2.3.3.7.3 3.7.3-3.4.3-.1.2-.7.3.9.3-1 .3-1 .3.2.3.2.3.7.2-.2.3 0 .3 2.5.3-3.9.3 2 .3.8.3 0 .2-.8.3 2.8.3-2 .3 1.8.3-.4.3.3.3-.2.3-3.1.2 1 .3 1.1.3.4.3 2 .3.5.3.8.3.2.2 1.8.3-.2.3.7.3-.1.3.2.3.8.3 1.3.2-.2.3-.1.3-.4.3.3.3.2.3 0 .3 1 .2-1.2.3.2.3-.2.3.1.3.1.3-1.2.3.1.3.3.2.5.3-.5.3-1.2.3.4.3-.4.3.4.3-1.1.2 1 .3-1.5.3 2 .3-.1.3-2.2.3.7.3.6.2-.8.3.1.3 0 .3.7.3-.3.3-.6.3-.2.3.3.2-.2.3-1.8.3.2.3-1 .3-1.9.3-1.4.3-2.1.2 1.9.3-1 .3-.8.3 3.8.3-3.2.3-.2.3 1.2.2.8.3-1.9.3-1.1.3 1.9.3.5.3-.6.3-2.7.2.8.3 1.3.3 1.6.3-.1.3-1.2.3-.2.3-.8.3 1.7.2-1 .3-.5.3 2.5.3-5.2.3 3 .3-.9.3 2.8.2-.4.3-3.1.3.5.3 4.3.3-4.7.3.8.3 0 .2 3.3.3-2.9.3 2 .3-2.3.3-1.6.3 1.6.3-.1.2.9.3 2.4.3-2.1.3-.9.3.2.3 1.2.3.5.3.3.2 2.5.3-1.5.3.2.3 1.8.3.2.3.8.3-1 .2-.2.3 1.1.3-.2.3 0 .3 1.4.3.1.3.3.2-1.3.3 1.4.3 1.4.3 1.4.3-2.9.3 1.7.3-.4.2 1 .3.5.3.7.3-1.5.3 1 .3-1.1.3.5.3-.1.2-.3.3 1.4.3-.7.3-.7.3 0 .3-.9.3-.5.2.1.3-1.5.3 1.2.3-3.3.3.2.3-.4.3-2.1.2.5.3-1.1.3.9.3-1.5.3-.8.3-.6.3-1 .2.1.3-4.9.3 3.8.3-2.6.3.6.3 2.9.3-7.3.3.9.2 3.5.3-2.6.3 1.3.3-5.7.3-4.8.3.8.3 6.9.2 1.6.3-7.7.3-4.2.3 4.9.3-3 .3 7 .3-4.2.2-1.5.3 2.5.3-.9.3-3.6.3 4.2.3 1.3.3-5.5.3.8.2 4.9.3-5 .3 3.4.3-4.3.3 3.1.3.1.3 1.8.2-3.2.3 1.1.3-6.5.3 5.6.3 4.4.3-10.4.3 12.9.2-11.9.3 7.7.3-7.3.3 5.1.3-2.1.3 1.7.3.7.2-1.8.3 3.5.3-4.5.3 5.2.3.2.3-.1.3-.7.3-3.3.2 7 .3.5.3.8.3-1.4.3-2.3.3 4.8.3.2.2 1 .3-.2.3 5.3.3-4.1.3.1.3 4.9.3-.5.2 1.7.3-.7.3 2.4.3-1.9.3 4.2.3.8.3-.1.2 1.5.3-.6.3-.2.3.7.3.3.3.1.3.4.3.1.2 0 .3 1.5.3.3.3-.7.3.4.3-.9.3-1 .2-.2.3-.7.3-.5.3-2.3.3 0 .3-1.1.3.8.2-2.4.3-3 .3 3.6.3-2.8.3-2.7.3-3.7.3 4.7.2-2.8.3-2 .3-9 .3 9.6.3-2.9.3-2.4.3 2.8.3-3.5.2-.1.3.8.3-2.2.3-4.6.3 3.6.3.8.3.6.2-3.3.3-3.1.3 3.5.3-1.4.3-4.6.3 8 .3.6.2-4.3.3 2 .3-2.8.3-2.5.3 3 .3 1.5.3-2.3.2 0 .3 1.9.3 1.6.3-4.6.3 2.8.3 4.2.3-6.8.3 4.2.2 0 .3-4.7.3 5.2.3-1.7.3 1.9.3 2.5.3-6.7.2-3 .3 7.2.3-6.9.3.6.3-.9.3 8.6.3-1.5.2-7.1.3 4.2.3.4.3-3.2.3.3.3 4.2.3-.9.3-2.9.2.6.3 4.4.3-7.1.3 1.4.3 5 .3 2.3.3-3.6.2 11.2.3-6.4.3 2.7.3 1.3.3-3.2.3 3.4.3-5 .2 9.2.3.1.3 3.8.3-2 .3 4.4.3-.2.3.3.2 2.2.3 1.3.3.8.3 1.7.3-.2.3 1.6.3-2 .3-.2.2.3.3.9.3.3.3-.2.3 1.2.3-.9.3-.3.2.9.3.2.3.1.3.1" fill="none" stroke="#000" stroke-width="1.05" stroke-linejoin="round"/>
<rect x="107.5" y="593.4" width="228.7" height="34.8" fill="none" stroke="#a8a8a8" stroke-width="0.8"/>
<line x1="107.5" y1="616.6" x2="109.5" y2="616.6" stroke="#888" stroke-width="0.7"/>
<line x1="334.2" y1="616.6" x2="336.2" y2="616.6" stroke="#888" stroke-width="0.7"/>
<line x1="107.5" y1="605" x2="109.5" y2="605" stroke="#888" stroke-width="0.7"/>
<line x1="334.2" y1="605" x2="336.2" y2="605" stroke="#888" stroke-width="0.7"/>
<text transform="translate(103 630.5) scale(0.9495 1)" font-size="14.72" text-anchor="end">0</text>
<text transform="translate(103 610.2) scale(0.9495 1)" font-size="14.72" text-anchor="end">0.04</text>
<text transform="translate(32.3 616.2) scale(0.9495 1)" font-size="14.72">Syn 1</text>
<line x1="140.2" y1="635.4" x2="140.2" y2="670.8" stroke="#a8a8a8" stroke-width="0.7" stroke-dasharray="1,1.3"/>
<line x1="172.8" y1="635.4" x2="172.8" y2="670.8" stroke="#a8a8a8" stroke-width="0.7" stroke-dasharray="1,1.3"/>
<line x1="205.5" y1="635.4" x2="205.5" y2="670.8" stroke="#a8a8a8" stroke-width="0.7" stroke-dasharray="1,1.3"/>
<line x1="238.2" y1="635.4" x2="238.2" y2="670.8" stroke="#a8a8a8" stroke-width="0.7" stroke-dasharray="1,1.3"/>
<line x1="270.9" y1="635.4" x2="270.9" y2="670.8" stroke="#a8a8a8" stroke-width="0.7" stroke-dasharray="1,1.3"/>
<line x1="303.5" y1="635.4" x2="303.5" y2="670.8" stroke="#a8a8a8" stroke-width="0.7" stroke-dasharray="1,1.3"/>
<path d="M107.5 668.1l.3 1.1.3-1.5.3-.2.2 0 .3.8.3-.3.3-1.7.3.8.3.4.3.6.2-1.4.3.9.3-.5.3-.3.3-.2.3-.2.3.2.3 1.4.2-2.1.3-.3.3 1.8.3-1.5.3.2.3-.2.3-.9.2.6.3-.3.3 1 .3-1.3.3.9.3-.5.3-1.4.2 1.7.3-3.3.3 3.1.3-2.9.3 1.4.3-.8.3.7.2 1.3.3-2.9.3.7.3 1.2.3-1.2.3-.8.3.5.3-1.6.2.6.3-.3.3 1.5.3-2.6.3 2.2.3 1.1.3-4.2.2 0 .3 3.7.3-1.7.3 1.4.3-1.5.3.5.3 1.2.2-1.3.3 1.2.3-1.8.3-.1.3-2.2.3 1.5.3.8.3 2.7.2-3.6.3 2 .3-2.1.3-.2.3 1.1.3-1.6.3 2.9.2-3.6.3.5.3 2.5.3-2.2.3 1.5.3.2.3 1.6.2.1.3-.4.3 2 .3.4.3 1.7.3-1.3.3.8.2.3.3-1 .3 2.5.3-.5.3-.6.3.4.3-.7.3.3.2 1 .3-1.5.3 1.9.3-.7.3 0 .3-.3.3-1.1.2 1.2.3-.1.3.6.3-.1.3-.5.3-.1.3-.2.2-1.7.3-.7.3-1.5.3 0 .3-.7.3-1.5.3-1.4.2 3.4.3-.5.3-4.4.3 1 .3.6.3-2.3.3-4.4.3 2.5.2 1.9.3-1.8.3-3.3.3.2.3-2.1.3 1.4.3 4.4.2-4.1.3 1 .3-.1.3.2.3-2.5.3-2.1.3 1.8.2.6.3.4.3-3.2.3-1.8.3-2.4.3 5 .3-1.7.2-1.2.3 5.6.3-4.3.3 3.1.3-1.3.3-2 .3 2.5.3-1.9.2 2.9.3-2.1.3 1.9.3-1.3.3-8.8.3 7.8.3 1.5.2.4.3.4.3-6.7.3 6.8.3-8.3.3 6.4.3-3 .2 2.1.3 2 .3.7.3-4.9.3 3.3.3 4.9.3-9.8.2 6.3.3-.9.3-4 .3 8.9.3-4.3.3-3.1.3.3.3.2.2 3.8.3-4.8.3 4.4.3-1.5.3 3 .3-5.4.3 5.1.2-.6.3 1.1.3-1.1.3 3.6.3-.8.3 1.4.3-2.7.2 5.2.3 1 .3 1 .3-.3.3.4.3 3.3.3.7.3-1.2.2 1.4.3.7.3 1.1.3-.1.3 2.3.3-2.7.3.4.2.5.3 1.7.3-.2.3 1 .3-.1.3-.2.3.3.2-2 .3 1.3.3 0 .3.1.3.6.3-.2.3 1.3.2-1.7.3-.4.3.3.3.5.3-.9.3.7.3-.9.3.1.2-.6.3 1.5.3-1.5.3-.2.3.2.3.5.3-.5.2-1.4.3 1.4.3-1.1.3.7.3-1 .3-.6.3.8.2 1.3.3-2.1.3.6.3-1.1.3-.4.3 1.5.3-1.7.2 1.5.3-1 .3-1.8.3 1.6.3-1 .3-1 .3.8.3.2.2.7.3-1.8.3 2 .3-1.4.3-1.5.3.5.3 1.2.2-2 .3.5.3.6.3 1.7.3-2.4.3-1.7.3 1.8.2-.6.3.2.3-1.1.3 1.3.3-1.8.3-2.1.3 1.5.2.9.3-.8.3-.2.3 2 .3-1.7.3.8.3-1.3.3-2.6.2 3 .3-2.8.3 3.8.3-1.8.3 1.5.3-.9.3.4.2 2.8.3-2.9.3.2.3-.5.3 2.6.3-.6.3-3.7.2 3.1.3-4.6.3 3.4.3-1 .3 1.7.3 1 .3-1.2.2 1.4.3-2.6.3 1.9.3.3.3.4.3.6.3 2.9.3-4.6.2 5.3.3-.5.3-1.4.3 1 .3-1.9.3 2.1.3 1 .2-.2.3.8.3 1 .3-1.2.3-.3.3 1.5.3.1.2.4.3-.2.3-.2.3 1.1.3.5.3.6.3-1.9.3-.5.2-.1.3-1.6.3.4.3-1.4.3.5.3.7.3-1.6.2-3.4.3-1 .3-.1.3-2 .3-4.4.3-2.3.3-2.6.2.5.3 1.1.3-.4.3 3 .3-7.7.3-.4.3-4.7.2 9.6.3-9.1.3 2.9.3.7.3-1.1.3 3.9.3-4 .3 2.7.2-1.5.3-3 .3 1.9.3-4.3.3 5.2.3-.9.3-.7.2-2.8.3-.4.3-2.8.3 4.7.3 1.7.3-4.4.3-2.3.2 1.9.3 10 .3-6.1.3 1.8.3-.7.3-3.5.3 3.6.2.9.3 4.9.3-4.3.3 2.3.3-3.3.3-2.9.3 7 .3-2.9.2-1.8.3 7.7.3-3.7.3 2.5.3-2.6.3-.7.3 0 .2-5.5.3 2.9.3 1.8.3-3.5.3-2.9.3 7.5.3 1.1.2-2.2.3-.3.3 8.6.3-4.8.3-7.4.3 7.6.3-3.7.2-.3.3 6.5.3-1.6.3 5.7.3 5.1.3 0 .3-1.4.3.6.2 2.3.3 2.4.3-1.3.3 2.5.3-1.8.3-.8.3 2.3.2 1.1.3-.8.3.2.3-1 .3.5.3 1.3.3.9.2-1.9.3.6.3 1.2.3 0 .3-.1.3.6.3-1.5.2.1.3-.1.3.2.3.5.3 1 .3-1.1.3 1.4.3-1 .2.3.3.4.3-.9.3.9.3-1.1.3 1.4.3-1.2.2 1.2.3-.7.3-.6.3.7.3-.1.3-.3.3-.3.2 1 .3-1.2.3 1 .3-1.1.3-.6.3 1 .3 0 .3.1.2.2.3-.2.3-1 .3 1.3.3-.8.3.5.3-.4.2-.3.3.4.3 1 .3-1.3.3-1 .3 1.3.3-.4.2 1.7.3-1.6.3-.2.3-.8.3.4.3 1 .3-.7.2.8.3-.3.3-.2.3-.2.3 0 .3 1.5.3-.6.3-1.3.2.4.3.5.3 0 .3-.1.3-1 .3 0 .3.8.2-.3.3.3.3 0 .3.6.3-1.4.3 1.2.3-1.6.2.9.3-1.2.3.6.3.5.3-1.9.3.4.3-.8.2.9.3 0 .3 1.8.3-1.1.3-.2.3-.7.3.6.3-1.1.2.9.3-1.5.3-.1.3 2 .3-3 .3.2.3 1.2.2.4.3-.2.3.6.3.6.3.1.3.6.3.5.2-.9.3 1.3.3-.6.3 1.2.3-1.8.3 1.7.3 0 .2.2.3-1.2.3.1.3 1 .3.3.3.4.3-.3.3 1.5.2.1.3-.6.3-.5.3.4.3.4.3-.7.3-.1.2.7.3-.1.3-.4.3.9.3-.7.3 0 .3-.4.2-.5.3 1 .3.3.3-1.4.3 1.2.3-.1.3-.4.2.2.3-.3.3 0 .3-.2.3-.1.3 2.1.3-2.2.3 1.1.2-.6.3-.2.3.2.3.5.3-1.2.3.4.3.2.2-.2.3-.4.3.2.3 1.4.3-1.3.3.5.3 0 .2.8.3-1 .3-.7.3.7.3-.1.3-1.4.3.7.3-.4.2 1 .3 0 .3-.5.3-.6.3.8.3-.7.3.5.2.2.3-.3.3-1.8.3.7.3.5.3 0 .3-.2.2-.7.3.1.3-1 .3 1.4.3-.6.3.5.3-.3.2-.4.3-.1.3-.5.3.3.3.1.3.2.3-.2.3-.7.2.4.3.1.3-2.1.3.3.3-.2.3 1.2.3-.3.2.2.3.5.3-.6.3-3.1.3 1.6.3.1.3-.2.2-1.6.3 2.4.3-1.1.3 1.4.3-.9.3.4.3 0 .2 1.3.3-.7.3-.1.3.8.3-.8.3 1.8.3-1.2.3 1.2.2-.4.3 1.7.3-1.9.3 1.7.3.1.3-.6.3-.6.2.6.3.4.3-.3.3-.7.3-.2.3.7.3-.3.2-1.3.3-.4.3-.4.3-.2.3 2.2.3-1 .3-1.6.2.3.3.4.3-1.1.3.9.3.1.3-.8.3-.2.3-.1.2.5.3-.1.3.9.3-3.1.3 2.5.3-2.5.3 1.6.2-2.3.3 2.4.3.5.3-1 .3.4.3-.7.3 1 .2.5.3-1.1.3.4.3.2.3-.7.3-2.2.3.4.2 2.1.3-2.1.3-1 .3 1.8.3 2.5.3-.9.3-1.7.3-.1.2 2.4.3-3.9.3 3.1.3-.1.3 1.6.3-3.7.3.4.2 0 .3.6.3-.3.3.4.3-2.4.3 2.2.3-.6.2 2.9.3-.4.3-2.7.3 1.1.3-.5.3 1.4.3-.4.3.3.2-1 .3 3.5.3-3 .3 1.4.3.3.3 1 .3-.9.2-.2.3-1.4.3 2.8.3-.4.3-.9.3.1.3.4.2-.9.3.8.3-.1.3-1.6.3 2.4.3.1.3.8.2.2.3-.4.3-.4.3-.4.3 1.1.3 1.4.3-1.3.3 1.1.2-.9.3-1.2.3 2.9.3-1 .3-.4.3 1.3.3-1.2.2 1.3.3.3.3.3.3-1.1" fill="none" stroke="#000" stroke-width="1.05" stroke-linejoin="round"/>
<rect x="107.5" y="635.4" width="228.7" height="35.4" fill="none" stroke="#a8a8a8" stroke-width="0.8"/>
<line x1="107.5" y1="659" x2="109.5" y2="659" stroke="#888" stroke-width="0.7"/>
<line x1="334.2" y1="659" x2="336.2" y2="659" stroke="#888" stroke-width="0.7"/>
<line x1="107.5" y1="647.2" x2="109.5" y2="647.2" stroke="#888" stroke-width="0.7"/>
<line x1="334.2" y1="647.2" x2="336.2" y2="647.2" stroke="#888" stroke-width="0.7"/>
<text transform="translate(103 673.1) scale(0.9495 1)" font-size="14.72" text-anchor="end">0</text>
<text transform="translate(103 652.4) scale(0.9495 1)" font-size="14.72" text-anchor="end">0.04</text>
<text transform="translate(32.3 660.4) scale(0.9495 1)" font-size="14.72">Syn 2</text>
<line x1="237.9" y1="670" x2="237.9" y2="645" stroke="#000" stroke-width="0.8"/>
<line x1="237.9" y1="627" x2="237.9" y2="617" stroke="#000" stroke-width="0.8"/>
<text transform="translate(106.7 686.3) scale(0.9495 1)" font-size="14.72" text-anchor="middle">0</text>
<text transform="translate(139.4 686.3) scale(0.9495 1)" font-size="14.72" text-anchor="middle">50</text>
<text transform="translate(172 686.3) scale(0.9495 1)" font-size="14.72" text-anchor="middle">100</text>
<text transform="translate(204.7 686.3) scale(0.9495 1)" font-size="14.72" text-anchor="middle">150</text>
<text transform="translate(237.4 686.3) scale(0.9495 1)" font-size="14.72" text-anchor="middle">200</text>
<text transform="translate(270.1 686.3) scale(0.9495 1)" font-size="14.72" text-anchor="middle">250</text>
<text transform="translate(302.7 686.3) scale(0.9495 1)" font-size="14.72" text-anchor="middle">300</text>
<text transform="translate(334.1 686.3) scale(0.9495 1)" font-size="14.72" text-anchor="middle">350</text>
<text transform="translate(194.9 704.4) scale(0.9495 1)" font-size="14.72">Time (s)</text>
<text transform="translate(392.2 539.8) scale(0.9174 1)" font-size="17.99" font-weight="bold">G</text>
<line x1="474.3" y1="547.3" x2="474.3" y2="593" stroke="#b0b0b0" stroke-width="0.7" stroke-dasharray="1,1.3"/>
<line x1="509.1" y1="547.3" x2="509.1" y2="593" stroke="#b0b0b0" stroke-width="0.7" stroke-dasharray="1,1.3"/>
<line x1="543.9" y1="547.3" x2="543.9" y2="593" stroke="#b0b0b0" stroke-width="0.7" stroke-dasharray="1,1.3"/>
<line x1="578.6" y1="547.3" x2="578.6" y2="593" stroke="#b0b0b0" stroke-width="0.7" stroke-dasharray="1,1.3"/>
<line x1="613.4" y1="547.3" x2="613.4" y2="593" stroke="#b0b0b0" stroke-width="0.7" stroke-dasharray="1,1.3"/>
<line x1="648.2" y1="547.3" x2="648.2" y2="593" stroke="#b0b0b0" stroke-width="0.7" stroke-dasharray="1,1.3"/>
<line x1="683" y1="547.3" x2="683" y2="593" stroke="#b0b0b0" stroke-width="0.7" stroke-dasharray="1,1.3"/>
<line x1="439.5" y1="547.3" x2="439.5" y2="547.3" stroke="#ccc" stroke-width="0.7" stroke-dasharray="1,1.3"/>
<line x1="439.5" y1="547.3" x2="683" y2="547.3" stroke="#d8d8d8" stroke-width="0.6" stroke-dasharray="1,1.5"/>
<path d="M439.5 593l0-2.4.3.2.4 0 .3-.3.4.3.3-.5.4.1.3-.2.4 0 .3.2.4-.1.3-.1.4-.5.3-.1.4.4.3-.2.4.2.3-.6.4.2.3.2.4.1.3-.5.4-.4.3.5.4.2.3 0 .4-.1.3.5.4-.9.3.4.4.3.3.3.3-1 .4.1.3-.4.4.1.3.4.4.4.3-.6.4.2.3-.2.4.5.3-.5.4 0 .3.3.4.1.3.2.4-.8.3-.3.4.3.3.8.4-.8.3.6.4-.6.3-.5.4.5.3.9.4-1.1.3.3.4-.5.3.4.3 0 .4.8.3-1 .4.8.3.3.4-.7.3-.1.4-.2.3.1.4.3.3 0 .4-.1.3.1.4 0 .3.8.4-.6.3.1.4-.2.3.4.4-.5.3.1.4.6.3-.3.4 0 .3.4.4.4.3-.5.4 0 .3.1.4-.2.3.2.3-.2.4.5.3-.4.4.5.3-.1.4.5.3-.1.4-.4.3.2.4-.4.3-.2.4-1 .3.2.4-1.4.3-.1.4 0 .3-.3.4-.6.3-.9.4-.2.3.9.4-1.4.3.6.4-2.1.3 2.2.4-2.2.3 1.3.4-1.4.3-.8.4.2.3 1.1.3.1.4-2.7.3 1.9.4-1.4.3-.3.4 2.3.3-3 .4 1.7.3.1.4.6.3-1 .4-.2.3-.5.7 0 .4.9.3 0 .4-.2.3-.1.4-.9.3.3.4.9.3.6.4.9.3-1.5.4-.2.3 1.6.4-1.3.3-.5.3 0 .4 1.4.3-.7.4.7.3-2 .4.5.3-2 .4 2.7.3-1.8.4 1.2.3 0 .4-.9.3 2.6.4-.7.3-2.3.4.4.3-.8.4 1.2.3.9.4-.8.3 1.3.4 0 .3.4.4.8.3-1.9.4 1.3.3.7.4.1.3.9.4.2.3 0 .3.1.4 1.7.3-1.4.4 2 .3-.2.4.6.3-.3.4 1.1.3-.6.4.5.3.3.4.5.3.6.4.1.3.2.4-.2.3-.2.4.2.3-.3.4 0 .3-.4.4 0 .3.2.4-.4.3-.4.4.1.3.2.4-.1.3.3.4-.2.3-.2.3-.1.4.5.3-.1.4-.1.3 0 .4-.2.3-.2.4.3.3-.2.4.3.3-.6.4-.2.3.3.4.3.3-1.4.4 1 .3-.4.4.8.3-.5.4-.4.3.1.4-.2.3 0 .4.3.3 0 .4-.3.3.1.4 0 .3-.4.4 0 .3.2.3-.6.4.4.3 0 .4-.5.3.2.4.7.3-.9.4.8.3-.6.4-.3.3-.2.4.6.3-.3.4-.5.3-.7.4 0 .3.4.4-.4.3 1 .4-.2.3-.6.4 0 .3 1 .4-1.3.3.9.4-.4.3.4.4-.4.3-.8.3 1.2.4-.4.3-.4.4-.4.3-.7.4.8.3-.4.4 1.7.3-.2.4 1.2.3-1.3.4 1.1.3-.1.4.9.3.3.4.3.3.2.4.2.3.6.4-.4.3-.1.4.6.7 0 .3-.1.4-.4.3.2.4.4.3-.7.4.4.3.2.3-.4.4-1.2.3.1.4-1.3.3-.9.4.2.3-.7.4-.5.3-1.9.4-.3.3-.5.4-.7.3.6.4.4.3-.9.4-.5.3.7.4 0 .3.5.4-2.1.3.5.4.3.3 0 .4-.3.3.2.4-.9.3.6.4-.7.3.6.4.5.3-1.7.3-.1.4-.5.3 1.8.4.1.3 1.1.4-1.9.3.9.4-1.9.3 2.2.4-2 .3 2.1.4-1.1.3-1.3.4 1.7.3-.9.4-.3.3 2 .4-3.5.3 3.5.4-1 .3-.5.4-.2.3-.6.4-.1.3 2.4.4-1.1.3 1.8.4-2.3.3.9.3-.9.4 1.9.3-.5.4-1.6.3-.2.4 1 .3.1.4.1.3.1.4 0 .3-3.1.4 2.2.3 2.7.4-.5.3 1.1.4-.3.3-.7.4 1.3.3 1.3.4.5.3.9.4 1 .3.4.4-.3.3 1.2.4-.8.3-.1.4.9.3-.1.4.4.3.3.3.6.4-.1.3-.3.4.5.3.2.4-.4.3.3.4.3.3-.2.4-.4.3 0 .4.3.3-.2.4.1.3-.5.4.4.3-.1.4.1.3-.1.4 0 .3.1.4.1.3 0 .4-.1.3-.2.4.1.3-.2.4.3.3-.1.4.5.3-.3.3 0 .4-.2.3 0 .4.1.3-.2.4.2.3-.1.4.1.3-.2.4.2.3-.1.4.1.3.1.4-.6.3.5.4-.4.3.3.4-.1.3 0 .4.2.3.1.4-.5.3.1.4.4.3-.2.4 0 .3-.4.4.1.3.1.3-.3.4.2.3.2.4.2.3-.6.4.6.3-.7.4.7.3-.3.4-.5.3.1.4-.1.3.6.4-.3.7 0 .3.1.4-.3.3.1.4.2.3-.1.4-.1.3-.1.4 0 .3.4.4-.5.3-.1.4-.3.3.5.4-.4.3.4.3-.5.4.3.3-.1.4.1.3-.1.4 0 .3.4.4-.6.3.4.4-.2.3-.3.4.3.3.1.4-.7.7 0 .3.1.4.1.3.1.4.5.3-.2.4 0 .3-.6.4-.5.3.5.4.3.3-.5.4.4.7 0 .3-.4.3-.1.4.3.3.4.4-.6.3.5.4.1.3-.2.4.2.3-.1.4-.8.3.9.4-.3.3.4.4-.2.3-.2.4-.1.7 0 .3.2.4-.7.3.2.4.4.3-.1.4.1.3-.2.4.2.3-.4.4-.1.3.4.4-.2.3.3.3-.6.4.5.3-.3.4 0 .3.5.4.3.3-.4.4.1.3-.1.4-.2.3-.1.4.2.3-.8.4 1 .3-.7.4 0 .3.6.4-1 .3.2.4.3.3 0 .4.1.3-.2.4.4.3-.6.4 0 .3.5.4.4.3-.9.3.3.4.4.3-.9.4.5.3.6.4-.9.3.8.4.2.3-.4.4-.2.3.6.4-1.5.3.7.4 0 .3.2.4-.2.3.4.4-.2.3-.6.4.5.3-.1.4.1.3-.8.4.2.3.3.4-.1.3.1.4 0 .3-1 .4 1.9.3-.8.3-.1.4-.4.3 1 .4-.4.3-.4.4.9.3-1 .4-.7.3 1.3.4.4.3-1.1.4.3.3-.9.4 1 .3 0 .4-.7.3-.1.4.1.3-.6.4.7.3.2.4.3.3-.2.4.1.3 0 .4.2.3.6.4-1.3.3 0 .4.9.3-1.1.3 1.6.4-1.1.3-.3.4.2.3-.5.4-.2.3 0 .4.5.3-.7.4.8.3.1.7 0 .4-.1.3.4.4.1.3-1.5.4.4.3-.2.4.3.3.7.4-1.1.3.3.4 1 .3-.9.4 1.3.3-1.4.4.9.3-.8.3.8.4-.8.3.4.4-.1.3.2.4-.1.3-.1.4 0 .3 1.4.4-.8.3.1.4-.1.3 0 .4-.9.3.6.4.9.3-.4.4-.5.3.8.4-.5.3.4.4-.4.3.3.4-.1.3.2.4.2.3-.8.4.4.3.1.4-.5.3.5 0 4.7z" fill="#edb120" fill-opacity="0.5" stroke="#6b4a10" stroke-width="0.4"/>
<path d="M439.5 593l0-2.8.3-.1.4-.2.3.4.4-.5.3.1.4-.1.3.1.4-.3.3.5.4-.7.3.1.4.5.3-.4.4 0 .3.6.4-.7.3.3.4-.1.3.1.4-.1.3-.1.4-.1.3.5.4-.4.3.3.4 0 .3-.2.4-.4.3.1.4.3.3.1.3 0 .4-.3.3-.2.4.3.3-.2.4.1.3-.3.4.9.3.1.4-.6.3-.2.4.3.3-.2.4.4.3 0 .4-.1.3-.5.4.1.3.4.4-.3.3.3.4-.2.3.3.4-.3.3.2.4-.2.3.2.4 0 .3-.3.3.2.4-.1.3.1.4-.3.3.4.4-.4.3-.2.4.4.3-.5.4-.1.3.5.4.4.3.1.4-.4.3-.5.4.3.3 0 .4.2.3.2.4-.3.3.5.4-.2.3-.1.4.2.3 0 .4.3.3-.2.4.2.3.5.7 0 .3-.2.4.1.3.1.4.1.3.1.4 0 .3.3.4.2.3-.2.4.1.3-.1.4-.1.3.1.4 0 .3-.4.4-.1 1 0 .4.1.3-.1.4.1.3 0 .4-.1.3-.3.4.7.3-.5.4 0 .3.3.4-.2.3 0 .3.1.4 0 .3.2.4-.6.3-.1.4.1.3.4.4-.1.3-.1.4.3.3-.1.4-.2.3.2.4.2.3-.1.4-.2.3.1.4 0 .3-.3.4.2.3.1.4-.1.3-.4.4.6.3-.5.4.1.3.2.4.1.3-.3.3.2.4.1.3-.4.4.3.7 0 .3.1.4-.1.3.1.4-.2.3-.1.7 0 .4-.1.3.2.4.2.3-.3.4.5.3-.2.4-.1.3.3.4-.6.3.5.4.1.3-.1.4 0 .3-.2.4 0 .3-.2.4.2.3 0 .3.2.4-.3.3.3.4.2.3-.6.4.4.7 0 .3-.2.4.5.3 0 .4-.1.3 0 .4.4.3 0 .4.3.3-.2.4.2.3-.3.4-.3.3-.1.4-.5.3 0 .4-.9.3.1.4-.3.3-.7.4.6.3-.9.4-.1.3.7.3-.5.4.2.3-.4.4.3.3.3.4-.6.3.3.4-.2.3-.4.4-.1.3.2.4.7.3-.8.4.3.3-.6.4.5.3-.7.4.3.3.2.4-.2.3.8.4-1 .3.2.4.4.3-.6.4 0 .3-.1.4.2.3-.5.4 0 .3.3.3 0 .4.1.3 0 .4-.5.3.4.4.4.3-.8.4-.4.3.6.4-.6.3.1.4.7.3-.7.4.2.3-.4.4 1.6.3-1.8.4 0 .3.8.4-1 .3.5.4-.2.3-.4.4-.3.3.6.4-.3.3.1.4.5.3-1.3.3.5.4.2.3-.5.4.3.3.5.4-.9.3.6.4.1.3.1.4.4.3-.1.4 1.1.3.5.4.5.3.2.4 0 .3.4.4.6.3.3.4.2.3 0 .4.7.3 0 .4.2.3-.4.4-.4.3.4.4-.6.3.5.4-.5.3.1.3-.4.4 0 .3-.4.4 0 .3-.1.4.1.3-.3.4.3.7 0 .3-.4.4-.5.3.7.4-.6.3.8.4-.1.3-.4.4 0 .3-.1.4-.2.3.5.4-.4.3.2.4.9.3-.5.4-.2.3-.2.4-.1.3.2.4-.5.3.7.3-.3.4-.3.3.6.4-.7.3 0 .4.4.3-.1.7 0 .4-.4.3.2.4.6.3 0 .4-.7.3 1 .4-.3.3-.4.4-.2.3-.4.4.4.3-1.2.4 1.1.3-.2.4-.1.3.4.4-.4.3.1.4.1.3.3.3-.1.4-.4.3.3.4-.2.7 0 .3.1.4-.2.3-.1.4-.2.3.3.4.3.3 0 .4-.4.3.7.4-.4.3-.5.4.4.3.1.4-.6.3 1.3.4-.9.3.1.4 0 .3-.5.4 0 .3.4.4.5.3.3.4.5.3.2.3.6.4.1.3.1.4.4.3-.2.4.2.3-.4.4-.1.3-.6.4 0 .3-.2.4.1.3-.6.4-.5.3-.7.4-1.8.3.9.4-1.1.3-.2.4-2 .3.9.4-.6.3-1.6.4-1.7.3.9.4.7.3 1.7.4.9.3-3.1.4-.1.3-1 .3.6.4.7.3-1.4.4-.4.3 2.1.4-1.4.3-.3.4 1.7.3-1.1.4.5.3-1.1.4 0 .3 2.9.4-1.7.3-1.4.4.7.3 1.4.4-.5.3.5.4-1.3.3 1.5.4-2.3.3.3.4-.7.3.5.4 0 .3.1.4.3.3 2.3.3-2.3.4 1.2.3 1.4.4-3.6.3 1.5.4 1.4.3-1.7.4-.2.3.2.4-1.1.3 2.3.4-1.8.3 1.7.4-1.4.3.1.4 1.4.3-2 .4 3.9.3.1.4-.4.3.7.4-1 .3 1.6.4-.8.3 1.5.4-.3.3.4.4.8.3.1.4.5.3-.3.3.3.4 1.3.3 0 .4.2.3.5.4 0 .3.3.4 1.2.3.1.4-.6.3-.4.4-.2.3-.6.4-.6.3-1.1.4.5.3-1 .4-1.6.3-.9.4-.4.3-.9.4.2.3-1 .4-1.7.3-3 .4-1.1.3-1.8.4-.6.3-1 .4-.2.3.5.3-4.5.4 1.7.3 2.4.4-4.2.3.7.4-4.3.3 4.9.4-1.2.3 2.8.4-3.4.3.8.4 1.9.3-1.9.4 2.7.3-3.4.4 1.9.3-1.5.4 2.3.3-.3.4-1.1.3-1.9.4 1.3.3 4.7.4-5.7.3 1.4.4-1.4.3-1 .4.6.3 2.9.4-.7.3-1.6.3-1 .4 3.3.3-.3.4.7.3-2.7.4 2.1.3-5.7.4 2.8.3-.7.4 1 .3 2.3.4 3.7.3-7.6.4 2.1.3 4.2.4-9 .3 3.9.4-1.6.3 3.5.4 2.9.3-1.9.4-3.1.3 5.6.4-3.1.3-3.2.4.1.3 1.9.4 5.1.3-4.5.3-3 .4.8.3 3.7.4.1.3 1.3.4 3 .3 1.9.4 1.4.3 1.6.4.7.3 1.5.4 1.1.3 1.6.4 1.9.3 1.5.4-.6.3 1 .4-.3.3 1.1.4-.1.3.9.4.4.3-.2.4-.6.3-.3.4-.5.3-.5.4-.9.3.2.4-1.4.3 0 .3-.9.4-.2.3-1.9.4.2.3-2 .4-1.6.3-.3.4-2.1.3-1.7.4-1.2.3 2 .4-3.8.3-1.3.4-.1.3-.9.4-5.7.3 2.1.4-.3.3-.4.4 4.1.3-1.3.4 2.9.3-3.8.4 4.1.3-2.3.4-2.8.3.4.4 2.9.3-.2.4-4.2.3 1.7.3 1.8.4-1.3.3.1.4 2.3.3-1 .4 2.9.3-4.4.4.2.3-1.8.4 0 .3 2.9.4-4 .3 4.5.4-3.2.3 2.8.4.2.3 1.2.4-2.3.3-4.4.4 4 .3-.6.4 1.6.3-1.7.4-.2.3.3.4-1.7.3 2.7.4-.9.3-2.2.3 1.8.4 2.6.3-3.9.4 1.3.3 2.7.4 0 .3-.8.4-2.3.3.9.4-1.2.3-2.9.4 3.1.3 4.5.4 2.8.3-1.6.4 4.5.3 1.5.4.8.3 1.1.4 2 .3 1.1.4 3.3.3.1.4.2.3.1.4.5.3.6.4-.5.3.8.4.5.3.5 0 2.9z" fill="#d95319" fill-opacity="0.5" stroke="#5a2a10" stroke-width="0.4"/>
<path d="M439.5 587.3l.3 0 .4-.2.3.1.4-.2.3-.4.4 0 .3-.2.4-.1.3.6.4-.8.7 0 .3-.5.4.4.3.4.4-.5.3-.3.4.1.3.3.4 0 .3-.6.4-.4.3.9.4-.1.3.3.4-.2.3.3.4-1.3.3.5.4.6.3.4.3-1 .4-.2.3-.6.4.4.3.2.4.4.3-.9.4 1.2.3-.2.4 0 .3-.7.4.3.3.1.4.5.3.2.4-.9.3-.8.4.4.3 1.2.4-1 .3.7.4-.7.3-.2.4.2.3 1.1.4-1.3.3.4.4-.4.3.2.3.1.4.6.3-.8.4.5.3.7.4-1.2.3-.2.4.3.3-.5.4.2.3.5.4.3.3.3.4-.4.3.1.4-.2.3.1.4 0 .3.6.4-.8.3.6.4.4.3-.3.4.1.3.4.4.7.3-.6.4.1.3.6.4-.2.3.2.3-.4.4.7.3-.3.4.5.3-.1.4.6.3.2.4-.1.3-.1.4-.4.3-.2.4-1 .3.2.4-1.3.3-.7.4 0 .3-.4.4-.5.3-.9.4-.1.3.8.4-1.4.3.7.4-2.2.3 1.9.4-1.5.3.8.4-1.4.3-.5.4 0 .3 1.1.3.2.4-2.7.3 2 .4-1.9.3-.4.4 2.5.3-2.7.4 1.6.3 0 .4.9.3-1.1.4-.4.3-.3.4.2.3-.1.4.7.3.1.4-.2.3-.4.4-.7.3.4.4.8.3.3.4 1.4.3-2 .4-.1.3 1.8.4-1.2.3-.9.3.3.4 1.5.3-1.1.4 1 .3-2.1.4.6.3-2 .4 2.7.3-1.8.4 1.1.3-.1.4-.9.3 2.6.4-.7.3-2.3.4.7.3-1 .4 1.6.3.8.4-1.1.3 1.8.4-.6.3.8.4.9.3-2.1.4 1.4.3.5.4.2.3.7.4.3.3 0 .3.3.4 1.4.3-1.2.4 2.3.3-.8.4 1 .3-.3.4 1.1.3-.8.4 1 .3.3.4.4.3.6.4.5.3.2.4.1.3-.5.4.5.3-.6.4-.3.3-.5.4-.5.3.2.4-1.3.3-.3.4-.1.3-.5.4.4.3-.6.4-.3.3.5.3-.6.4.7.3-.5.4.2.3.2.4-.7.3 0 .4.1.3-.5.4.3.3-.5.4.5.3-.6.4.7.3-2 .4 1.5.3-1.1.4 1.2.3-.4.4-.5.3.8.4-1.1.3.1.4.7.3-.6.4-.3.3.1.4.1.3-.9.4 0 .3.5.3-.7.4.6.3 0 .4-1 .3.7.4 1 .3-1.7.4.4.3 0 .4-.9.3-.1.4 1.3.3-1 .4-.4.3-1 .4 1.6.3-1.4.4-.4.3 1.8.4-1.3.3 0 .4-.2.3.7.4-1.7.3 1.5.4-.7.3.5.4.1.3-2.1.3 1.6.4-.1.3-.9.4-.1.3-.2.4-.1.3.3.4 1.7.3 0 .4 1.5.3-1.3.4 2.1.3.3.4 1.5.3.6.4.2.3.6.4.9.3.7.4-.1.3-.1.4 1.3.3 0 .4.1.3-.3.4-.9.3.6.4-.2.3-.2.4-.1.3.3.3-.8.4-1.2.3-.3.4-1.3.3-1 .4.3.3-.9.4-.2.3-2.1.4-.2.3-.9.4-1.1.3 1.2.4-.2.3 0 .4-.8.3.5.4-.1.3.5.4-2.4.3 1 .4-.1.3.2.4.6.3-.4.4-1 .3.4.4-.8.3.8.4 0 .3-1 .3-.5.4-.7.3 2.3.4-.6.3 1.2.4-1.5.3.8.4-1.9.3 2.2.4-2.5.3 2.4.4-.5.3-1.3.4 1 .3.1.4-.6.3 1.6.4-3.6.3 3 .4-.7.3-1.5.4.8.3-.8.4-.2.3 2.8.4-1.5.3 1.9.4-2.1.3 1.1.3-1 .4 1.5.3-.3.4-1.7.3-.2.4 1 .3.2.4-.1.3-.1.4-.2.3-2.7.4 2.5.3 2.7.4-.9.3 1.8.4-.7.3-1.3.4 1.8.3 1.4.4-.2.3 2.3.4.1.3.5.4-.2.3.6.4-.8.3.3.4 1.3.3.3.4.9.3.6.3 1.2.4-.1.3-.2.4.9.3 0 .4-.2.3-.1.4.3.3-1 .4-.3.3-.1.4.3.3-.9.4-.2.3-1.3.4-1.5.3.9.4-1 .3-.3.4-2 .3 1 .4-.5.3-1.6.4-1.8.3.8.4.7.3 1.5.4 1.2.3-3.1.4.3.3-1.3.3.6.4.5.3-1.4.4-.3.3 1.9.4-1.2.3-.4.4 1.8.3-1.3.4.7.3-1.2.4.2.3 2.9.4-2.3.3-1 .4.4.3 1.6.4-.5.3.5.4-1.1.3 1.6.4-2.8.3.4.4-.3.3.3.4 0 .3-.3.4.4.3 2.3.3-2.5.4 1.4.3 1.7.4-3.5.3.9.4 2 .3-2.4.4.5.3-.1.4-1.6.3 2.4.4-1.9.3 2.3.4-1.6.3 0 .4 1.5.3-2.1.4 3.7.3.2.4-.2.3.6.4-1.1.3 1.5.4-.7.3 1.7.4-.7.3.3.4.5.3.6.4.1.3 0 .3-.2.4 1.7.3 0 .4.2.3.4.4 0 .3.7.4.6.3.5.4-.8.3-.7.4.1.3-.5.4-1.4.3-1 .4.5.3-.9.4-1.4.3-.9.4.1.3-1.1.4.2.3-1.6.4-2.2.3-2.5.4-.8.3-2.3.4-.2.3-.9.4-.3.3.1.3-4.5.4 1.9.3 2.8.4-4.8.3 1.2.4-4.3.3 4.8.4-1 .3 2.7.4-4.2.3 1.6.4 1.7.3-1.5.4 2.5.3-3.6.4 1.8.3-1.6.4 2.4.3 0 .4-1.9.3-1.6.4 1.7.3 4.5.4-5.6.3 1.3.4-1.3.3-1.4.4.5.3 3.2.4-.8.3-1.4.3-1.6.4 3.9.3-.6.4.7.3-2.2.4 2.4.3-6.1.4 2.9.3-.9.4.9.3 2.3.4 3.8.3-8.4.4 3.2.3 3.4.4-9 .3 4.5.4-2.6.3 3.7.4 3.2.3-1.9.4-2.9.3 5.3.4-2.7.3-3.8.4.2.3 2.4.4 5.4.3-5.4.3-2.7.4 1.2.3 2.8.4.6.3 1.9.4 2.1.3 2.7.4 1.6.3 1.2.4.5.3 2.1.4-.5.3 2.4.4 1.9.3 1.7.4-.8.3 1.4.4-.6.3.6.4.5.3.7.4.5.3-1 .4-.3.3-.1.4-.6.3-.4.4-.9.3-.7.4.4.3-.7.3-1.1.4-.6.3-.9.4-.1.3-2.5.4-.7.3-1.3.4-2.8.3-.4.4-.8.3.9.4-3.5.3-2.3.4 1 .3-.9.4-6.4.3 2 .4-.2.3-.9.4 4.7.3-1.1.4 3.2.3-4 .4 4.2.3-2.3.4-2.6.3.9.4 1.7.3-.1.4-3.4.3.5.3 3.4.4-2.2.3-.3.4 2.5.3-1.5.4 2.8.3-4.6.4.8.3-2.5.4.9.3 2.9.4-3.9.3 4.5.4-3.4.3 3.2.4.3.3-.3.4-1.8.3-4.7.4 4.3.3.1.4.5.3-1.3.4.7.3-.6.4-.4.3 1.3.4 0 .3-3 .3 2.6.4 1.9.3-3.6.4 1.2.3 2.9.4-.1.3-.8.4-2.4.3 2.3.4-2 .3-2.8.4 3.1.3 4.4.4 1.9.3-.9.4 5.3.3 1.1.4.2.3 2 .4 1.5.3 1.5.4 2.9.3.4.4.2.3.2.4.7.3-.2.4-.1.3 1 .4-.1.3 1" fill="none" stroke="#fff" stroke-width="1.0" stroke-linejoin="round"/>
<path d="M439.5 589.3l.2-.3.1.8.2.4.2-1.8.2 2 .1-1.4.2-.6.2 1.1.2-.3.1.1.2.4.2-1.4.2.5.1-.2.2 1 .2-1.5.2 1 .1-.8.2 0 .2.8.2-1.1.1 1.6.2-.5.2-1 .2.6.1-.5.2.5.2-.4.1-.5.2.8.2.6.2-.2.1-.1.2-.3.2.2.2.6.1-.4.2-2.8.2 1.2.2 1.5.1-2.2.2 2.2.2-.7.2-.5.1-.1.2.3.2-.7.2-.7.1 1.9.2-.6.2-.2.2-1.3.1-.4.2 1.4.2 0 .1.3.2-2.6.2 1.4.2.6.1-.3.2.9.2-1.1.2-1.8.1 3.1.2-1 .2-1.2.2 2.8.1-1.5.2-1.1.2.1.2 1.8.1-3.2.2.9.2.9.2-1.4.1 3.5.2-1.9.2 1.8.2-2.6.1.9.2.1.2 0 .1-1.5.2.9.2-.2.2 1.1.1-1.8.2 1.1.2-1.7.2 2.1.1-1.7.2-.2.2 2.3.2-2.2.1.7.2-.6.2 0 .2 1 .1-2 .2 1.1.2-.4.2 3.4.1 0 .2-.3.2-2.2.1-.2.2-.6.2.3.2 1.7.1-.7.2-1.8.2-.3.2 2.3.1-.8.2 2 .2-2.1.2-.4.1-.1.2 2.4.2-1.6.2-.1.1-1.4.2.7.2.7.3 0 .2 1.3.2.6.2-1.1.1 0 .2 1.1.2-1.7.1.6.2-1 .2 1.6.2 1.2.1-1.5.2-.8.2 1.1.2 1.4.1-.9.2-.4.2-.4.2 1 .1-.3.2 0 .2.1.2-1.3.1.4.2 1.2.2.8.2-1.6.1 1 .2-1.4.2 2 .2-.6.1-1 .2.4.2 1.8.1-2.2.2.8.2.2.2-.2.1.3.2.3.2-.3.2-1.1.1 1.9.2-1 .2 1.7.2-1 .1-1.4.2 1.6.2.6.2-.5.1 0 .2-.5.2.6.2.6.1-.8.2 1.4.2-.4.2-1.3.1 1.5.2-.8.2-.2.1 0 .2 1.9.2-1.3.2.1.1.6.2 0 .2-1.9.2 2 .1-.4.2-.2.2 1.5.2-.7.1-1.3.2.9.2-.7.2-.6.1-1 .2.5.2.4.2-2 .1-.2.2-.9.2-.4.2-.1.1-.5.2 1.3.2-1.7.1-.5.2 1.5.2-3.2.2 1.1.1-1.8.2 1.7.2.9.2-1 .1-.4.2 1 .2.5.2.8.1-2.2.2-1.4.2 1.2.2 1.2.1-4.1.2.2.2-.8.2-.4.1 2.8.2-1.3.2 1.2.2-1.9.1 2.7.2-.1.2-4.7.1 4.9.2-2.3.2 0 .2 3.1.1-1.4.2 0 .2-.2.2.8.1-3.3.2 1.7.2-2.6.2 0 .1 4.7.2-4.6.2 2.4.2-2.5.1-1 .2.8.2-.1.2 2.2.1 1 .2-2.3.2.3.1.1.2.1.2-1.2.2 2.6.1-2.1.2.1.2-2.1.2 3.6.1.1.2.1.2-3.3.2 1 .1 1.6.2-3.5.2 3.8.2-2.7.1.9.2 1.6.2 1.3.2-1.5.1-3.2.2 4.9.2-1.7.2.9.1-1.6.2 1.6.2-.8.1 2.4.2-3.9.2 2.8.2-2.2.1 2.8.2-1 .2-1.5.2 1 .1-1.6.2 1 .2-2.4.2 1.2.1-2.1.2 2.1.2-2.3.2-.3.1 2.7.2.5.2-.5.2-.4.1 1.5.2.2.2-3.2.2.3.1 2.9.2 1.1.2-1.8.1 1.9.2-4.9.2 1.6.2 3 .1-1.8.2 1 .2-3.6.2 4.1.1-1 .2-4.3.2-.7.2 1 .1 2.2.2 1.4.2-.1.2-2.1.1 2.4.2-1.4.2.5.2-2.1.1 3.3.2-3.8.2 4.4.2-1.7.1 1.9.2-2.8.2 1.6.1-1.2.2 1.9.2-.6.2-3.2.1 1.6.2-.5.2 2.3.2.8.1-2.9.2-2.1.2 6.5.2-1.7.1 1 .2-1.4.2.6.2 1.5.1 1.6.2.9.2-5.1.2 2 .1-.1.2-.5.2 1.3.2-2.9.1 3.1.2-.3.2 1.3.1 2.6.2-2 .2.4.2 1.8.1-2.2.2 1.8.2.6.2 1.6.1-.6.2 1.2.2-.2.2-.1.1 1.5.2-1.9.2 1.3.2.8.1 1.1.2-.9.2.5.2-1.5.1.6.2.9.2-1 .2 1.1.1.1.2.8.2-.5.1-.1.2.3.2-.1.2.8.1-.6.2.2.2-1.2.2-.8.1.3.2.3.2.5.2-1.5.1 1.6.2-1.3.2-2.1.2 1.4.1.3.2.3.2-.7.2-1.2.1 1.3.2-1.1.2-.8.2-.8.1 1.4.2.2.2-4.7.1 3.2.2.3.2-1.5.2-1.1.1-.7.2-2.9.2 3.6.2-2 .1 3.1.2-6.3.2 5.7.2.3.1-3.8.2.8.2 1.8.2-3 .1-.5.2 1.9.2-1.2.2.1.1-.5.2 2 .2-.2.1-.9.2.7.2 0 .2.8.1-.8.2-.3.2-.1.2-.8.1 2.3.2-.6.2-1.3.2 1.2.1-2 .2-.1.2.5.2.5.1-1.6.2-.5.2-.2.2.8.1.9.2 2.6.2-1.8.2-4.9.1 4.3.2-3.1.2 1.1.1 3.1.2 1.3.2-2.1.2-3.9.1.8.2.9.2 1.7.2-1.1.1 2.8.2-4.6.2.5.2-.5.1-4.2.2 1 .2 6.7.2-2.2.1.4.2-.7.2-4.1.2 6.8.1-2.4.2-2.4.2 3.1.2-3.4.1 1.4.2 1.1.2-1.9.1 1.9.2-2.7.2-1.3.2 8.4.1-7.3.2 5.5.2.4.2-5.5.1 1.5.2-.8.2 2.2.2-.3.1-1 .2 2.8.2-4.1.2 1.7.1-1.7.2 6.3.2 0 .2-4.5.1-.6.2-2.7.2 2.9.2.4.1.5.2-4 .2 1.1.1-3.6.2 3.8.2-1.6.2 2 .1-.3.2-2.2.2 3.7.2-1.5.1-2.4.2 3.3.2 3.4.2-4.8.1 1.8.2-4 .2 4.4.2-1.4.1-1.6.2.9.2-3 .2 1.6.1-.1.2-1.9.2.8.2 2.2.1-3.9.2 3.2.2-1 .1.9.2.2.2 2.3.2-3.1.1 1.8.2.8.2.1.2.6.1-1.4.2-2.4.2 6 .2-2 .1 3.5.2-1.8.2-.7.2.2.1 2.4.2.9.2-1.1.2-4.3.1 4.4.2 1.4.2 1.1.2-.2.1 2.9.2-1.4.2.6.1-.2.2.9.2-3.1.2 2.9.1.8.2 1.7.2-2.4.2 2.8.1-.5.2-.6.2.6.2-1.5.1 1.6.2.2.2-.3.2-.8.1 1 .2 1.3.2-.4.2.9.1-.2.2 1.5.2-1.6.2.9.1-.3.2-.6.2.2.1-.2.2-.5.2-.2.2-.7.1-.5.2 1 .2.2.2-1.6.1.4.2-.5.2-1.2.2-1.1.1-2.4.2 1.6.2-2.7.2-4.1.1-.8.2 2.5.2-3.5.2 1.7.1-4.9.2-.3.2.7.1-1 .2 1.7.2-3.4.2-.5.1-.1.2-1.3.2-.7.2 3.3.1-1.5.2 2.4.2 4.3.2-9.6.1 4.1.2-.3.2-6.2.2 6.2.1.2.2 4.9.2-7.6.2.1.1 2.6.2-5.4.2 3.8.2 2.7.1 0 .2-2.7.2-.6.1-1.5.2 4.3.2-.8.2 3.4.1-5.1.2-6.8.2 1.9.2 8.6.1-3.4.2-6 .2 6.4.2-.6.1 3.1.2-10.4.2 2.2.2 7.2.1-7.2.2 6.5.2-3.7.2-3.8.1 7.4.2.3.2-.4.2-2.6.1-3.9.2.1.2-1.6.1-2 .2 4.2.2 7.3.2-1.3.1-5.7.2 1.2.2.8.2 1.3.1-3.4.2 6.8.2-4.3.2-1.8.1-4 .2.2.2 7.3.2 1.8.1-3.8.2-2.1.2 7 .2-.2.1-1.7.2-2.5.2-1.3.2 1.1.1.2.2-3.8.2 3.9.1 1.1.2 3.9.2-7.2.2-1.4.1 1.1.2 5.7.2-6.8.2 3.6.1-6.4.2 5.8.2-3.4.2 3.5.1.3.2 3.5.2-.2.2-7.1.1 7.1.2-7.8.2 10.4.2-5.7.1 2.3.2-7.7.2 7.9.2-.6.1 1.5.2-4.9.2 2.6.1.2.2 5.5.2-3.8.2-.3.1 2.4.2-7.5.2-1.5.2 7.4.1 1 .2-2.7.2.1.2 5.1.1-4.3.2 3.8.2 0 .2-.4.1-2.2.2 1.3.2.7.2 1.3.1 5.1.2-6.4.2 4 .2 1.8.1 2 .2.6.2-1.6.1-.2.2 2.4.2 1.1.2-.5.1 4.9.2-2.2.2 2.2.2-1.5.1.3.2 1 .2.4.2-1 .1 1.8.2-.3.2-.2.2.9.1.7.2-.3.2.8.2-1.9.1 1.8.2-.4.2.5.1-.2.2.7.2.3.2-.4.1-.1.2 1.6.2 0 .2-1 .1-.9.2.8.2-1.4.2-.7.1 1.4.2-.3.2-.8.2-.7.1-.5.2.4.2-.4.2.4.1-1.8.2-1.2.2 2.5.2-2.5.1.7.2-.5.2.2.1-.8.2-2.5.2-.4.2 2.2.1-4.3.2-.1.2 1.1.2-2.9.1-1.7.2 5 .2-.3.2.2.1-1.2.2-1.5.2-5.1.2 4.4.1 1 .2-4.8.2 4.1.2-1.5.1-4.1.2 7.3.2 0 .2-1.8.1-1.4.2 1.2.2-1.6.1 2.7.2-1.2.2 2.3.2-3.1.1-1.5.2.3.2.5.2-2.7.1 6.2.2-2.5.2-.8.2 3.3.1-9.9.2 8.1.2-4.2.2 4.2.1-1.6.2.2.2-4.1.2 3.6.1-.8.4 0 .2-.5.1 4.2.2 1.8.2-4.1.1 1.4.2 3.3.2-7.8.2 6.5.1-8 .2 7.9.2-1.8.2-4.7.1 1.4.2-1.3.2 3.4.2-.1.1 6.2.2-7.8.2 1.7.2-.5.1-1.1.2-2.6.2 5.1.2-1.8.1 1.5.2 2.7.2-6.8.2 3.2.1 3.1.2-3 .2-.7.1.1.2 3.4.2-.3.2-3.8.1-1.1.2 4.6.2-2.9.2 1.1.1-2.1.2-.5.2-.2.2-1.1.1-1.2.2 5.8.2-3.6.2 2.5.1-.1.2.4.2-2.4.2 5.1.1-.8.2-1.1.2 1.3.2 1.8.1-4.9.2 1.1.2 1.3.1-2.4.2-3.4.2 6.1.2-4.7.1 3.9.2-3.8.2-.1.2 3.6.1-6.2.2 6.2.2 2.6.2-2.5.1-3 .2 3.6.2 1 .2-5.4.1 1.3.2 3.8.2-5.9.2 8.9.1-3 .2.8.2-.8.2-.9.1-.5.2 1.8.2-1.1.1 2 .2-3.3.2 5.6.2-1.7.1-1.7.2.1.2.7.2.4.1-.2.2 1.8.2.2.2 2 .1-2 .2 1.4.2 2.2.2.7.1.6.2-2.1.2.7.2-.2.1 2.3.2 1.2.2-2 .1.9.2 1.1.2-1.2.2 1.8.1-.8.2.4.2-.5.2-.7.1 2.3.2-.9.2 0 .2.5.1-.8.2 0 .2 1.2.2-.4.1.6.2-.3.2-.7.2.9.1 0 .2.8.2-.5.2 1 .1-1.4.2-1.6.2.6.1-1.9.2-.2.2-1.5.2.5.1-1.9.2.1.2.4.2-1.7.1 1.1.2.5.2-4.4.2 2 .1-1.3.2 1.2.2-2 .2-.1.1.3.2-4.1.2 2.5.2 0 .1-1 .2-.7.2-5.3.2 4.9.1-2.9.2-2.2.2 6.7.1-6.2.2-1.7.2-1.1.2 2 .1-1 .2-.4.2 1.3.2.2.1-8.5.2 5.3.2 2.2.2-5.9.1 7.4.2-1 .2-.8.2-8.3.1 4.7.2-3.8.2 4.5.2-.8.1 2.1.2-2.2.2-3 .2.5.1 4.5.2-.8.2-3.7.1 4 .2-1.2.2 4.9.2-3 .1-4.7.2-.4.2 1.2.2-2 .1 7.2.2-3.2.2 1.1.2-2.4.1-7.5.2 5 .2 8.8.2-6.9.1-3.8.2-3.6.2 5 .2-.4.1 5.4.2.8.2-2.5.2-2.2.1-4.6.2-.9.2 3.6.1 5.9.2-1.4.2.6.2-3.1.1 3.2.2 3.9.2-2.5.2-1.8.1-5.4.2 0 .2 4 .2 4.4.1.1.2-10 .2 5.7.2-2.8.1 2.4.2 1.1.2-3.3.2 2.3.1-2.6.2 9.7.2-9.3.2-9.3.1 11 .2.2.2 4 .1-5.5.2 5 .2-.5.2-1.4.1 3.9.2-6.8.2 7.2.2-9 .1 8.7.2-2.2.2-4.3.2 3.2.1-10.5.2 7.4.2-2.4.2 1.9.1-3.3.2 6 .2-3.5.2-.2.1-5.1.2 4.1.2 7.6.2-1.2.1-8.9.2-1.3.2.9.1-1.5.2 2.6.2-.5.2 1.5.1 5.2.2 3.7.2-5.6.2 1 .1 2 .2-.3.2-.2.2-1.1.1.4.2-2.2.2 3.6.2-9 .1 3.3.2 5.4.2-2.2.2 3.2.1-2.8.2-8.1.2 10.1.1 1.7.2-2.3.2-1.1.2-2.6.1 7 .2-.3.2-2.2.2 4.2.1-10.8.2 18.5.2-6.6.2 1.8.1 2.5.2-3.2.2 3.3.2.5.1-2.1.2 3 .2 1.4.2 2.2.1-2.6.2 5.5.2-2.5.2 3.5.1-2.6.2 2.8.2.2.1 1.3.2-.3.2.3.2 1.8.1-.4.2.9.2.1.2.2.1-.1.2.1.2 1 .2.9.1-1.6.2-.9.2-1.1.2-.6.1-.1.2-1.5.2 1.8.2-.9.1-1.9.2-2.6.2 1.6.2 0 .1-.7.2 0 .2 1 .1-3.7.2-1 .2.2.2-.6.1-2 .2 1.8.2.4.2 1.4.1-3.5.2-4.3.2 4.7.2-2.8.1-2.1.2-.1.2-.8.2-1.7.1-.5.2 1.5.2-1.1.2-5.4.1 4.3.2-2.5.2 3.7.2-6.2.1.5.2 2.5.2-.2.1 2.5.2-.5.2-2.6.2-4.8.1 7.4.2-7.5.2 2.6.2 3.3.1 3 .2-9.9.2 5.1.2-.1.1-3 .2 4.9.2 4.6.2-8.5.1 9.2.2-1.9.2-2.5.2-4.8.1 5.2.2-8.1.2 9.9.2-8.4.1 1.3.2 4.4.2 1.2.1-.7.2 1.2.2-9 .2 6.9.1 1.9.2-5.2.2 5.1.2 3.5.1-6.8.2 2.1.2-6.4.2-1.7.1 4.6.2 2.5.2-4.5.2 1.9.1 7.7.2-6 .2 3.2.2-3.5.1 6.7.2-14.8.2 7.8.2-.4.1 1.9.2-5.9.2 5.3.1 1.5.2 4.2.2-11.8.2 9.2.1-9.9.2-2.3.2 9.2.2 2.3.1-9.4.2 7.7.2-3.6.2 13.2.1-7.5.2-5.6.2-2.6.2 6.7.1-6.8.2-.4.2 4 .2-3.1.1 7.9.2-5.7.2-4.7.1 12 .2-7.9.2.6.2 4.9.1 2.6.2-.5.2-.9.2-2.1.1-1.2.2-2.1.2-2.4.2 3 .1 1.6.2 5.3.2-5.1.2 5.2.1-6 .2 0 .2-2.4.2 5.7.1-1 .2.6.2-2 .2 1.2.1-6.6.2 7.7.2-7.8.1 9.1.2-5.6.2 7.3.2-8.9.1 1.4.2-1.3.2-3.5.2 1.8.1 2.6.2-1 .2 3.2.2-3.5.1 8.5.2-7.3.2 8.9.2-3 .1-5 .2 6.1.2-1.3.2 2.8.1-2.8.2 5.9.2-4.3.2-2 .1 5.8.2-1.1.2.5.1.6.2 1.9.2 2.7.2-.5.1.7.2-2.4.2 1.4.2 2.7.1-4.8.2 6.7.2-1.2.2-4.2.1 6 .2.8.2-2 .2.3.1 2.5.2-5.2.2 2.1.2 1.3.1 3 .2-1 .2-3.4.2 2.9.1.2.2 2.4" fill="none" stroke="#000" stroke-width="1.15" stroke-linejoin="round"/>
<line x1="439.5" y1="546.8" x2="439.5" y2="593" stroke="#222" stroke-width="1.2"/>
<line x1="439.5" y1="593" x2="683" y2="593" stroke="#222" stroke-width="1.2"/>
<line x1="439.5" y1="581.6" x2="441.7" y2="581.6" stroke="#222" stroke-width="0.9"/>
<line x1="439.5" y1="570.1" x2="441.7" y2="570.1" stroke="#222" stroke-width="0.9"/>
<line x1="439.5" y1="558.7" x2="441.7" y2="558.7" stroke="#222" stroke-width="0.9"/>
<line x1="439.5" y1="547.3" x2="441.7" y2="547.3" stroke="#222" stroke-width="0.9"/>
<text transform="translate(434.5 563.9) scale(0.9495 1)" font-size="14.72" text-anchor="end">0.06</text>
<text transform="translate(434.5 586.8) scale(0.9495 1)" font-size="14.72" text-anchor="end">0.02</text>
<line x1="474.3" y1="599.9" x2="474.3" y2="645" stroke="#b0b0b0" stroke-width="0.7" stroke-dasharray="1,1.3"/>
<line x1="509.1" y1="599.9" x2="509.1" y2="645" stroke="#b0b0b0" stroke-width="0.7" stroke-dasharray="1,1.3"/>
<line x1="543.9" y1="599.9" x2="543.9" y2="645" stroke="#b0b0b0" stroke-width="0.7" stroke-dasharray="1,1.3"/>
<line x1="578.6" y1="599.9" x2="578.6" y2="645" stroke="#b0b0b0" stroke-width="0.7" stroke-dasharray="1,1.3"/>
<line x1="613.4" y1="599.9" x2="613.4" y2="645" stroke="#b0b0b0" stroke-width="0.7" stroke-dasharray="1,1.3"/>
<line x1="648.2" y1="599.9" x2="648.2" y2="645" stroke="#b0b0b0" stroke-width="0.7" stroke-dasharray="1,1.3"/>
<line x1="683" y1="599.9" x2="683" y2="645" stroke="#b0b0b0" stroke-width="0.7" stroke-dasharray="1,1.3"/>
<line x1="439.5" y1="599.9" x2="439.5" y2="599.9" stroke="#ccc" stroke-width="0.7" stroke-dasharray="1,1.3"/>
<line x1="439.5" y1="599.9" x2="683" y2="599.9" stroke="#d8d8d8" stroke-width="0.6" stroke-dasharray="1,1.5"/>
<path d="M439.5 645l0-2.2.3.1.4-.2.3 0 .4-.3.3 0 .4-.2.3.6.4-.6.3.3.4-.2.3-.3.4.2.3-.1.4-.3.3-.2.4.2.3-.6.4.5.3-.1.4 0 .3-.5.4-.1.3.6.4.1.3.5.4-.3.3-.8.4-.1.3.5.4 0 .3-.7.3.5.4 0 .3-.6.4.5.3-.3.4.8.3-1 .4.9.3-.2.4 0 .3.3.4-.1.3-.6.4.3.3-.5.4.2.3.2.4-.6.3.4.4.1.3.2.4-.4.3.2.4-.3.3.8.4.7.3-1.2.4-.4.3.6.3-.5.4.7.3.2.4-.8.3.2.4.3.3 0 .4.4.3-.4.4-.1.3.4.4-.5.3.1.4.1.3.7.4-.5.3 0 .4.1.3-.1.4-.2.3.3.7 0 .4.3.3.3.4.3.3-.6.4.4.3.3.4-.2.3-.3.3.4.4.2.3-.3.4.4.3 0 .4.3.3-.1.4 0 .3.1.4-.6.3-.3.4 0 .3-.9.4-.3.3-.2.4-.8.3-.3.4-.7.3 0 .4-.9.3-.5.4.6.3.4.4-1.3.3.8.4.3.3-.8.4-.2.3-1 .4.6.3.2.3-.5.4.9.3-2 .4 1 .3-.6.4.3.3-.4.4 2.8.3-1.7.4.1.3-1 .4.6.3-.5.4.5.3-1.4.4.7.3-.4.4.7.3.8.4-.9.3-.1.4-.3.3.7.4-1.4.3.9.4-.2.3.5.4 1.7.3-1.8.3-1.5.4 1.5.3.4.4.6.3-1.6.4.6.3-.9.4 1.1.3.1.4.1.3-1.5.4 1.8.3-1 .4.9.3 0 .4-.1.3-.9.4-.1.3-.2.4-.3.3 1 .4.9.3-1.3.4.3.3 1.4.4-.3.3.6.4.2.3-.5.4.5.3 0 .3.7.4-.8.3 1.2.4.4.3-.1.4.6.3-.1.4.3.3.1.4.4.3 1 .4.8.3-.1.4.1.3 0 .4.1.3 0 .4-.4.7 0 .3-.3.4-.2.3.1.4.3.3-.8.4.1.3-.1.4.5.3 0 .4-.6.3 0 .3-.3.4.2.3-.8.4.3.3.9.4-.6.3.4.4-.7.3.3.4.1.3-.8.4.2.3.3.4.4.3-.8.4.3.3-.4.4.4.3-.3.4.1.3.2.4-.6.3-.8.4.2.3.6.4-.3.3.4.4-.4.3-.8.4 1.1.3-.7.3-.2.4.7.3-.1.4-.3.3-.5.4 1.1.3-.9.4-.2.3.7.4-.5.3.4.4-.1.3.3.4-.3.3-.1.4-.1.3.4.4.2.3-.5.4.7.3 0 .4.1.3-.2.4-.4.3-.1.4-.3.3.9.4-.4.3.8.3-1.1.4.4.3-.2.4.6.3-.8.4.1.3.6.4.8.3-.2.4-.7.3 1.4.4-.1.3-.3.4.1.3.3.4.6.3-.1.4.2.7 0 .3-.1.4.8.3 0 .4-.5.3-.2.4 0 .3-.8.4 0 .3-.9.4 0 .3-.2.3-1 .4 1 .3-1.5.4.6.3-1 .4-.2.3 0 .4-.1.3.1.4-.9.3.4.4-.4.3-.1.4-.7.3.3.4.2.3-.1.4.7.3.6.4.3.3-1.4.4-.1.3-1.1.4.9.3.1.4 0 .3-1.5.4.4.3 1.9.4-3.1.3 2 .3-.7.4-1.4.3 2.4.4-1.8.3.4.4-.3.3 1.1.4-.7.3.5.4-.2.3.3.4-1.3.3.1.4.5.3-.1.4 1 .3-1.2.4-.5.3.2.4-.2.3 1.5.4-.5.3.4.4-.3.3.1.4-.4.3.9.4.9.3-1 .3-1.7.4 1.4.3.6.4-.7.3-.3.4 1.7.3-.5.4 1.4.3-1.7.4-.6.3.5.4.5.3 1.3.4.2.3-.8.4.7.3.3.4.4.3.3.4.2.3.2.4 1 .3-.5.4.7.3.5.4.7.3 0 .4.3.3.2 1 0 .4.6.3 0 .4.1.3 0 .4.1.3 0 .4.1.3-.1.4.1.3-.1.4 0 .3.2.4-.3.3.2.4-.3.3.2.4-.2.3 0 .4.1.3 0 .4-.1.3.1.4 0 .3.1.4 0 .3-.3.4.1.3.2.4-.1.3-.1.3.1.4.1.3-.2.4.1.3 0 .4-.3.3.3.4-.2.7 0 .3.5.4-.7.3.5.4-.3.3.3.4 0 .3-.2.4-.3.3-.1.4.4.3.2.4-.3.3.3.4-.1.3 0 .4-.1.3.1.4-.3.3.2.3-.1.4-.3.3.5.4-.1.3-.2.4.1.3-.3.4.5.3-.2.4-.1.3.5.4-.7.3.2.7 0 .4.3.3-.4.4.2.7 0 .3.1.4-.4.3.1.4.1.3-.1.4.1.3-.1.4.1.3.1.4-.1.3.4.3-.7.4.2.3-.2.4.4.3-.4.4 0 .3.2.4 0 .3-.2.4.2.3-.2.4 0 .3.4.4-.3.3 0 .4-.1.3-.1.4.1.3.5.4-.7.3.4.4.2.3-.4.4.1.3-.1.4.2.3-.1.4-.1.3-.2.4.2.3-.1.3.2.4-.2.3-.1.4.5.3-.1.4-.1.3.4.4-.2.7 0 .3-.1.4-.5.3.4.4-.2.3-.2.4.2.3.2.4-.2.3-.1.4.2.3.2.4-.3.3-.3.4.8.3-.8.4.3.3-.1.4.3.3-.3.4.3.3-.3.3.3.4-.5.3.1.4-.3.3.6.4.1.3-.5.4.5.3-.1.4-.1.3.1.4-.1.3 0 .4-.5.3.4.4-.2.3.2.4-.1.3 0 .4-.1.3.7.4-.7.3-.1.4.2.3 0 .4.3.3-.3.4-.1.3-.1.3.3.4-.3.3-.2.4.3.3.1.4.1.3-.6.4.6.3 0 .4-.1.3-.3.4.3.7 0 .3-.3.4.2.3.1.4-.4.3.3.4-.2.3.2.4.1.3.2.4-.4.3.3.4-.2.3-.2.4.3.3 0 .4-.1.3.2.3-.2.4-.4.3.2.4.7.3-.3.4-.5.3.6.7 0 .4-.3.3.3.4-.3.3.1.4-.2.3.1.4.2.3-.3.4-.1.3.4.4.1.3-.1.4-.2.3-.2.4.3.3 0 .4-.3.3-.1.4.6.3-.5.4.1.3-.1.3.4.4-.2.3.2.4 0 .3-.2.4.2.3-.1.4-.4.3.5.4-.1.3-.1.4.4.3-.3.4-.2.3.3.4-.2.3-.2.4.4.3-.2.4.4.3-.4.4.5.3-1.1.4.7.3-.7.4.8.3 0 .4-.5.3.4.3-.1.4-.2.3.1.4.3.3-.3.4-.3.3.6.4-.2.3.2.4-.1.3-.2.4-.5.3.6.4.1.3-.2.4 0 .3-.3.4.5.3.1.4-.3.3.5.4-.5.3.1.4-.1.3.2.4.2.3-.1.4-.1.3-.3.4.1.3.5 0 2.4z" fill="#edb120" fill-opacity="0.5" stroke="#6b4a10" stroke-width="0.4"/>
<path d="M439.5 645l0-2.5.3.3.4-.1.3.3.4 0 .3.1.4-.2.3-.3.4.2.3.2.4-.1.3-.2.4.3.3-.3.4.1.3 0 .4-.2.3.4.4.2.3-.6.4.3.3.2.4-.5.3 0 .4-.1.3.2.4.3.3 0 .4-.2.3-.2.4.5.3-.2.3.2.4 0 .3-.2.4-.1 1 0 .4.2.3 0 .4-.2.3.2.4-.2.3.1.4 0 .3.1.4-.3.3-.1.4.4.3.1.4-.1.3.1.4-.2.3.3.4-.4.3.6.4-.1.3-.2.4.1.3-.2.3.1.4-.1.3 0 .4.1.3-.1.4.2.3.1.4-.3.3.2.4-.3.3.3.4.1.3-.1.4 0 .3-.1.4.2.3-.3.4.4.3-.1.7 0 .4.2.3-.4.4.2.3-.1.4 0 .3-.1.4 0 .3-.2.4.5.3-.2.3-.1.4.4.3-.2.4.1.3-.2.4.3.3-.1.4-.1.3.1.4-.2.3-.4.4.4.3-.3.4.1.3-.1.4.1.3-.2.4.2.3 0 .4-.5.3.2.4.1.3.3.4-.5.3-.1.4 0 .3.3.4.2.3-.4.4.4.3-.6.3.2.4.4.3-.4.4.3.3-.1.4 0 .3.1.4-.1.3 0 .4-.1.3-.1.4.2.3.2.4-.3.3.3.4 0 .3-.3.4 0 .3.1.4-.3.3.3.4 0 .3-.1.4-.3.3.2.4.2.3 0 .4.2.3-.3.3-.2.4.6.3-.5.4.3.3.1.4-.1.3 0 .4-.3.3.2.4-.2.3.4.4-.3.3.1.4.2.3-.1.4-.2.3.2.4-.2.3 0 .4.1.3-.1.4 0 .3-.1.4.1.3-.1.4 0 .3-.2.4.3.3.3.4-.3.6 0 .4-.1.3.3.7 0 .4.1.3-.1.4.1.3-.3.4.4.3.3.4-.2.3.1.4.2.3.2.4-.1.3.3.4-.1.3-.1.4-.2.3 0 .4-.3.7 0 .3-.3.4.2.3-.2.4.1.3-.2.4-.1.3-.1.3.3.4-.3.3.3.4 0 .3-.3.4.2.3.1.4-.2.7 0 .3-.3.4.3.7 0 .3-.3.4.3.7 0 .3-.3.7 0 .4-.1.3.2.4-.5.3.7.4-.1.3-.2.4.3.3-.2.7 0 .3-.3.4.2.3 0 .4.3.3-.8.4.2.3.7.4-.6.3.4.4.1.3-.2.4 0 .3-.1.4 0 .3.2.4-.5.3.6.4-.3.3-.3.4-.2.3.5.4 0 .3-.1.4.1.3-.2.4.1.3-.5.4.5.3.2.3.1.4-.6.3.3.4.3.3-.3.4.2.3-.1.4.2.3-.3.4.3.3-.8.4.3.3.1.4 0 .3-.1.4.2.3.2.4.2.3 0 .4.2.3-.4.4.3.3.3.4.3.3.1.4.3.3 0 .4-.3.3.1.4-.4.3-.1.3-.2.4-.2.3 0 .4.1.3-.7.4 0 .3.2.4-.1.3.2.4-.2.3-.2.4.2.3-.3.4.4.3-.1.4.6.3-.7.4 0 .3.4.4-.3.3.2.4-.2.3-.3.4.5.3-.4.4.4.3-.3.4.2.3-.3.4.4.3 0 .3-.3.4-.2.3 0 .4-.2.3.1.4.1.3 0 .4.5.3-.5.4.4.3-.1.4.2.3-.2.4-.3.3.3.4.2.3.2.4-.6.3.2.4 0 .3.1.4-.2.3.3.4-.3.3.1.4 0 .3-.3.4.2.3.4.3-.7.4.1.3.3.4-.3.3.3.4-.1.3.5.4-.7.3.4.4-.1.3-.1.4.1.3-.1.4 0 .3-.1.4.3.3.4.4-.5.3-.2.4.2.3.1.4-.5.3.5.7 0 .4-.2.3.6.4 0 .3.1.7 0 .3.3.4.3.3.1.4.3.3-.1.4-.1.3-.3.4-.1.3-.6.4 0 .3-.5.4.2.3-.6.4.1.3-.4.4.2.3-.1.4 0 .3-.1.4-.3.3.8.4-1.4.3.2.4.3.3-1.1.4.9.3-.3.4-.7.3 0 .4.9.3-.4.3.3.4-.6.3.8.4-.7.3.3.4.4.3-.3.4.3.3 0 .4-.1.3-.6.4.3.3-.1.4.1.3-.2 1.4 0 .4.3.3-.6.4.3.3.8.4-1.2.3.5.4-.1.3.4.7 0 .3-.1.4 0 .3.3.4-.3.3 0 .4.5.3-.7.4.2.3-.1.4.4.3-.6.4-.2.3.3.4-.4.3.9.4-.3.3-.1.4.1.3 0 .4.7.3-.7.4-.6.3.8.4-.3.3.3.4-.2.3-.1.4.6.3.2.4.6.3 0 .3.2.4-.2.3.2.4.3.3.4.4-.1.3.2.4.5.3-.1.4 0 .3-.1.4-.7.3.2.4-.2.3.3.4-.6.3-.4.4 0 .3-.6.4-.4.3-.1.4.2.3.5.4-1.1.3.2.4.1.3-1.1.4-.2.3-.1.4-.5.3-.3.3.5.4.6.3-1.8.4.7.3.1.4.2.3.3.4-1.6.3-.5.4.6.3.3.4-.4.3-2.3.4 2.3.3-1.6.4.8.3.5.4.5.3-.7.4.1.3-.2.4-.1.3-1 .4-.4.3.4.4.1.3 1.7.4-.8.3.4.4-.6.3-.1.3 1 .4-.7.3-.1.4-.3.3.6.4.7.3-1.1.4 0 .3.4.4-.5.3 1.1.4-.7.3 1.4.4-1.7.3-.6.4 1.5.3-2.1.4.7.3.5.4.9.3-1.6.4.9.3-.4.4-.4.3.8.4.3.3-.2.4.7.3-.5.3-.8.4 1 .3.2.4-.1.3.3.4.7.3-.2.4.5.3.5.4.6.3.4.4.4.3.7.4.1.3.3.4.4.3 0 .4.6.3 0 .4-.1.3-.3.4 0 .3-.5.4-.5.3 0 .4-.9.3.4.4-.4.3-.3.4-.2.3-.4.3-.5.4.8.3-.6.4-.2.3-1.1.4.2.3-.7.4-.2.3.3.4-.4.3.3.4-.9.3-1.1.4-.7.3 1.4.4.4.3 0 .4-.6.3-.8.4 1.4.3-.1.4-.9.3.4.4-1.1.3 1.8.4-1.2.3.5.4.3.3.5.4-3 .3 1.6.3.4.4-.2.3-.1.4-.8.3 1 .4-1.1.3.6.4 1 .3-1.1.4.9.3-1.3.4 1.6.3.1.4-1.8.3 1.1.4.1.3-.3.4.1.3-1 .4.7.3.8.4.1.3-.5.4-1.7.3 1.4.4.9.3.4.4-.8.3.1.3-.8.4.1.3.1.4 1.1.3-1 .4.4.3-.5.4.8.3-.4.4-.1.3-.9.4 1.9.3-.2.4-.2.3.5.4.3.3 2.2.4-.1.3-.6.4 1.4.3.4.4.2.3-.3.4 1.5.3-.1.4-.1.3 1.1.4-.4.3.4.4-.1.3.3 0 2.4z" fill="#d95319" fill-opacity="0.5" stroke="#5a2a10" stroke-width="0.4"/>
<path d="M439.5 639.7l.3.4.4-.3.3.2.4-.2.3 0 .4-.4.3.4.4-.4.3.5.4-.3.3-.5.4.5.3-.4.4-.2.3-.2.4.1.3-.3.4.7.3-.7.4.4.3-.4.4-.6.3.6.4 0 .3.7.4 0 .3-.8.4-.3.3.3.4.5.3-.9.3.7.4 0 .3-.8.4.4.3-.3.4.8.3-1 .4 1.1.3-.2.4-.3.3.6.4-.3.3-.4.4.1.3-.3.4-.1.3.1.4-.2.3.5.4 0 .3.3.4-.5.3.4.4-.7.3 1.3.4.8.3-1.5.4-.3.3.4.3-.4.4.6.3.2.4-.7.3.2.4.4.3 0 .4.2.3-.2.4-.4.3.7.4-.4.3 0 .4.2.3.5.4-.3.3-.3.4.6.3-.4.4 0 .3.1.4.2.3-.3.4.4.3.3.4.3.3-.6.4.2.3.2.4.4.3-.6.3.3.4.5.3-.4.4.4.3-.1.4.6.3-.2.4-.1.3.2.4-.7.3-.8.4.4.3-1.1.4-.3.3-.3.4-.7.3-.5.4-.4.3-.2.4-1.3.3-.4.4.8.3.7.4-1.8.3.7.4.3.3-.5.4-.1.3-1.3.4.9.3-.3.3-.3.4 1.3.3-2.5.4 1.4.3-.8.4.4.3-.3.4 2.7.3-1.7.4 0 .3-1.2.4.9.3-.3.4.3.3-1.2.4.7.3-.7.4.8.3.9.4-1.3.3.2.4-.3.3.6.4-1.7.3 1.1.4 0 .3.6.4 1.8.3-2.1.3-1.6.4 2.1.3-.2.4.9.3-1.5.4.6.3-1 .4.8.3.3.4-.1.3-1.1.4 1.5.3-.9.4 1 .3 0 .4-.3.3-.7.4-.3.3-.2.4-.2.3.9.4.9.3-1.4.4.4.3 1.4.4-.4.3.4.4.5.3-.3.4.3.3 0 .3.7.4-.9.3 1.5.4.4.3-.1.4.7.3-.2.4.4.3-.1.4.7.3 1.3.4.5.3.1.4.3.3.1.4.1.3.3.4-.6.3.1.4-.3.3-.3.4-.5.3.1.4.3.3-1.2.4.4.3-.3.4.5.3 0 .4-.8.3-.1.3.1.4-.2.3-.4.4.2.3.5.4-.3.3.5.4-.9.3.4.4 0 .3-1.1.4.4.3.4.4.4.3-1 .4.5.3-.4.4.4.3-.6.4.1.3.2.4-.6.3-.7.4-.3.3 1.3.4-.4.3.2.4-.1.3-1.1.4 1.1.3-.6.3-.4.4.8.3-.1.4 0 .3-1.3.4 1.3.3-.2.4-.8.3 1.2.4-.5.3.3.4-.2.3.1.4-.2.3.1.4-.5.3.9.4-.1.3-.8.4.5.3.5.4 0 .3-.2.4-.3.3-.3.4-.1.3.4.4 0 .3 1 .3-1 .4-.2.3.1.4.9.3-1 .4.2.3.5.4.9.3-.3.4-.6.3.7.4.2.3-.2.4.1.3.2.4.8.3.1.4.4.3 0 .4.2.3-.5.4 1.1.3.3.4-.2.3-.2.4.3.3-.7.4-.3.3-.9.4-.2.3-.4.3-1.2.4.8.3-1.5.4.7.3-1.7.4-.2.3.3.4-.3.3.3.4-1.1.3.2.4-.2.3-.4.4-.3.3.2.4.8.3-.9.4.8.3 1 .4 0 .3-1.2.4-.4.3-1.3.4 1.4.3-.3.4.5.3-1.9.4.6.3 1.6.4-2.7.3 2 .3-1 .4-1.6.3 2.4.4-2 .3.6.4-.3.3 1.2.4-.2.3-.1.4.2.3.2.4-1.1.3-.1.4.2.3.2.4 1.2.3-1 .4-1 .3.3.4-.2.3 1.5.4-.6.3.6.4-.5.3.2.4-.4.3.6.4 1.1.3-.6.3-2.4.4 1.5.3.9.4-1 .3 0 .4 1.7.3-.1.4.7.3-1.2.4-.8.3.4.4.6.3 1.2.4.1.3-.8.4 1 .3.7.4-.2.3.2.4.4.3.3.4.5.3 0 .4.7.3.6.4.4.3.6.4.3.3.3.7 0 .3.4.4.8.3.2.4.4.3-.1.4-.2.3-.2.4 0 .3-.8.4.2.3-.6.4.2.3-.4.4-.2.3-.2.4-.1.3.1.4-.2.3-.2.4-.1.3.7.4-1.4.3.2.4.3.3-.9.4.9.3-.6.4-.6.3.1.4.9.3-.5.3.3.4-.4.3.6.4-.7.3.4.4 0 .3.1.4.1.3 0 .4-.1.3-.2.4-.3.3.4.4-.2.3.1.4-.1.3-.1.4-.3.3-.1.4.6.3-.3.4 0 .3 1.2.4-1.4.3.5.4-.2.3.5.4-.4.3.2.3-.1.4-.3.3.9.4-.5.3-.2.4.6.3-1 .4.6.3-.2.4.4.3-.2.4-.9.3.5.4-.4.3.9.4 0 .3-.5.4.3.3 0 .4.8.3-.6.4-1.1.3.9.4-.2.3.2.4-.1.3-.2.4.7.3.3.4.5.3.4.3-.5.7 0 .4.7.3 0 .4-.1.3.4.4.6.3-.3.4 0 .3-.2.4-.7.3.6.4-.6.3.3.4-.6.3-.5.4.1.3-.1.4-1.1.3.3.4.4.3 0 .4-.9.3.1.4.2.3-1.1.4-.2.3-.4.4-.3.3-.4.3.7.4.4.3-1.9.4 1.3.3-.1.4.1.3.6.4-1.7.3-.5.4.6.3.1.4-.8.3-1.8.4 2 .3-1.8.4.9.3.7.4.3.3-.8.4.4.3 0 .4-.3.3-1.3.4.3.3-.4.4.4.3 1.5.4-.4.3.1.4-.3.3-.4.3 1.3.4-1.2.3-.1.4-.5.3 1.2.4.7.3-1.4.4.4.3.3.4-.6.3 1.1.4-.6.3 1.3.4-2.3.3-.1.4 1.3.3-1.9.4.6.3.5.4.8.3-.8.4.1.3-.6.4-.1.3.8.4.6.3-.5.4.5.3-.5.3-.6.4.7.3.1.4.3.3.3.4.8.3-.8.4 1.1.3.5.4.5.3.1.4.6.3.8.4.2.3-.1.4.6.3.1.4.2.3.4.4-.4.3-.1.4.1.3-.4.4-.8.3.2.4-1 .3.2.4-.1.3-.4.4-.2.3-.2.3-.7.4.4.3-.4.4.5.3-1.4.4-.3.3-.2.4 0 .3.2.4-.7.3.7.4-1.3.3-1 .4-.9.3 1.4.4.8.3-.4.4-.6.3-.5.4 1.6.3-.2.4-1.1.3.2.4-1 .3 1.8.4-1.4.3.4.4.8.3.1.4-2.9.3 1.5.3.8.4-.4.3.1.4-.9.3.9.4-.9.3.5.4.6.3-.7.4.9.3-1.5.4 2.1.3-.2.4-2.1.3 1.5.4-.1.3-.5.4.5.3-1.1.4 1 .3.4.4.5.3-1.5.4-.9.3.5.4 1.8.3.4.4-1.3.3.5.3-.8.4-.2.3.2.4 1.4.3-1.3.4.1.3.1.4.5.3-.1.4-.2.3-1.1.4 1.4.3.5.4-.2.3.3.4.3.3 1.8.4.5.3-.5.4 1 .3 1 .4-.3.3-.2.4 1.5.3-.1.4.2.3 1 .4-.5.3.1.4 0 .3.8" fill="none" stroke="#fff" stroke-width="1.0" stroke-linejoin="round"/>
<path d="M439.5 640.9l.2 1 .1-.1.2-.1.2-2.2.2 2 .1 1.1.2-2.2.2 1 .2.5.1-.8.2-.6.2-.6.2.2.1.7.2.3.2-1.9.2 1.3.1-.6.2.4.2.6.2-1.6.1.1.2.4.2.1.2 0 .1-1.5.2.7.2.4.1.1.2-.5.2-.2.2.9.1.7.2-.7.2-.9.2-.4.1.3.2.6.2.3.2 0 .1.6.2-.8.2-1.4.2.6.1-1.6.2 1.4.2.8.2-1.4.1.4.2 0 .2-.5.2-.4.1.7.2 1.1.2-.1.1.3.2-.3.2-1.6.2 1.1.1-1.1.2 1.1.2-.3.2-1.7.1 3.5.2-1.5.2.3.2-.9.1-.1.2-1.2.2 1.5.2-.6.1-.8.2 2.7.2-3 .2 2.1.1-.2.2-.8.2 1.2.2.4.1-1.8.2 1.4.2-1.7.1-.7.2 1.9.2 1.7.2-3.3.1 2 .2.5.2-2.1.2.7.1.6.2-1.1.2-.4.2 1.4.1.2.2 0 .2.7.2-2.4.1.8.2-.1.2 1.1.2-1.9.1.8.2.1.2-.2.1.4.2 1.2.2-1.8.2 2.5.1-1.4.2-.6.2 1.7.2-.2.1-2.2.2.8.2-.9.2.3.1 1.1.2-.3.2.4.2-.2.1-.3.2.4.2.2.2-1.2.1 0 .2-.1.2 1.2.2-1.8.1 1.8.2.8.2-.9.1-.1.2 1.3.2.8.2-2.6.1.8.2-.1.2.1.2.5.1.5.2.1.2-.4.2.1.1-1.6.2 2.4.2-.1.2 0 .1-1.9.2-1.3.2.1.2 2.7.1-1 .2.2.2.2.2 1 .1.6.2-1.6.2 1.3.1-1.7.2 1.3.2 0 .2.4.1-1.7.2 1.8.2-1.1.2 0 .1 1.3.2-2 .2 1.4.2-1.3.1.5.2.5.2-.4.2-.3.1.2.2.8.2 1.4.2-1.4.1 1 .2-1.5.2.5.2 1.1.1-1.2.2-.2.2-.6.1 1.9.2 1.4.2-1.4.2.5.1.4.2-.6.2.3.2.7.1-.3.2.7.2.6.2-.7.1.3.2.6.2-1.4.2 0 .1-.8.2-.2.2-.3.2-1.1.1-.1.2 0 .2-1.9.2 1.4.1 1.1.2-2.6.2-.6.1.4.2-1.1.2 2.2.2-3.5.1 3 .2-1.6.2-1.2.2-.3.1.2.2 0 .2 1.8.2-.8.1-.4.2-1.4.2.6.2.6.1 1 .2-2 .2 3.1.2-2.1.1-.6.2-.6.2.6.2 1.2.1-3.4.2 2.7.2-.9.1-1.4.2.9.2 1.2.2.8.1-.6.2.3.2-2.8.2 2.4.1-1.2.2-1.6.2 3.6.2-1 .1-.6.2 1.8.2-2.5.2-1.1.1 2.5.2.8.2-2.4.2 1.3.1-.7.2.3.2.6.1.7.2 0 .2-3.2.2 2.1.1 3.3.2-3 .2.4.2-2 .1 2.6.2-2.3.2.3.2 4.1.1-4.2.2 0 .2-1.4.2.9.1 2.3.2.6.2-.1.2-2.1.1 1.2.2.8.2-2.3.2-2.5.1 1.7.2-2.3.2.1.1 2.8.2 2.2.2-2.6.2 1.7.1-.8.2-2.4.2.5.2.3.1 1.6.2-2.4.2.1.2 3 .1-3.7.2 3.4.2-1.4.2-.7.1 2.8.2-2.4.2.3.2 1.4.1-.2.2-1.6.2-.3.2.4.1 1.3.2-2.6.2 4.5.1-3.6.2 2.7.2 3 .2-4.8.1.5.2-1.3.2 2 .2-2 .1 2 .2-2.8.2.8.2-1.8.1 5 .2-1.3.2-.9.2-.1.1-1.7.2 1.4.2 1.7.2-3 .1 1.1.2 3.5.2-5 .2 4.5.1-2.4.2.6.2-.2.1.6.4 0 .2-2.2.1 1.8.2 2.7.2-1.1.2-.1.1-1.6.2.8.2.3.2 1.3.1-1 .2.4.2 1.8.2-1.8.1-.7.2.9.2-.5.2 2.8.1-1.5.2 1.9.2-2 .2-.3.1 2.5.2-.5.2-1.7.1-.2.2 1.4.2 1.3.2-.1.1-2.5.2 2.1.2.2.2-.4.1.1.2 2.3.2-1.2.2.7.1.1.2 1 .2.1.2 0 .1-.8.2 1 .2.2.2.6.1-.2.2 0 .2.1.2.7.1-.3.2.2.2.5.1-.2.2.1.2.1.2-.7.1-.6.2 0 .2-.9.2.3.1-1.5.2.8.2-.1.2.7.1-1.7.2 1.6.2-1.9.2-.2.1-1.2.2 1.8.2-1.4.2.2.1-1.1.2.4.2.3.2-2.1.1 2.3.2-.6.2-.5.1-.1.2.6.2-.4.2-.4.1 1 .2-1.2.2.5.2-2.2.1-1 .2.3.2 2.7.2-.7.1-2.1.2-.9.2-1.1.2 1.1.1 1 .2-1.9.2 1.4.2-2.8.1 1.8.2-2.3.2 2.8.1-.8.2-.3.2.8.2-.3.1-2.7.2 2.3.2.9.2.1.1-1.2.2 2.9.2 0 .2-1.2.1-.9.2 2.1.2.3.2-3.8.1 3.8.2-1.7.2-.3.2 2.2.1-5.6.2 3 .2-4.3.2 1.4.1 3.6.2.4.2-.4.1 0 .2-1.3.2-1 .2-1.6.1 6.2.2-6.8.2 1.5.2 1.7.1-1.1.2.1.2 2 .2-.3.1-2.3.2 1.9.2-1.4.2 3.2.1-.4.2-1 .2-1.3.2.2.1-.6.2-2.4.2 5.2.2-3.5.1-1.9.2 3 .2-1.5.1 1.1.2-.1.2.4.2.2.1-2.3.2-2.2.2 1.6.2-.6.1 5 .2-2.6.2 1 .2-.8.1-1.3.2 3.4.2.4.2 1 .1-4.3.2 7.2.2-4.9.2.3.1-.2.2-2.8.2 2.6.2.8.1-1 .2-2.6.2 3 .1.9.2-1.4.2-.3.2-.9.1-4.2.2 5.3.2-.8.2-.9.1 3.7.2-.9.2.6.2-2.2.1-1.1.2 1.9.2 1.1.2-.8.1-.5.2 1.8.2-2.4.2 2.5.1-3.4.2 3.2.2-.4.2-1.5.1 1.4.2.7.2-.4.1-1 .2-.9.2 2.7.2 1.5.1-2.8.2-.8.2 3.2.2-1.7.1 2 .2-4.3.2 1.2.2 1.9.1-1.1.2 1.9.2 2.4.2-.9.1.9.2-.9.2 1.5.2-2.5.1 1.5.2-.4.2.7.2 1 .1.3.2-1.4.2 2.7.1-1.7.2-.7.2 2.8.2.2.1-2 .2 1 .2-.5.2 1 .1.7.2.2.2 1 .2-1.3.1-.3.2 2 .2 0 .2-.4.1-.7.2.7.2.2.2-.3.1-1.1.2.9.2.3.2.3.1-.5.2.2.2-.8.1-.8.2-.4.2.2.2.2.1-1.3.2-.6.2-.3.2-1.2.1-.3.2-.7.2 0 .2 2.4.1-2.7.2.4.2-1.2.2-.9.1-.3.2.3.2.6.2.8.1-1.3.2-.6.2 1.5.1-1.5.2.3.2-2.8.2-.5.1 4.1.2-.9.2-.7.2-1.8.1 0 .2.6.2.5.2 1.8.1 1.4.2-4.4.2 3.5.2-1.7.1-2.9.2-1.7.2 4.1.2-3.1.1.7.2 2.2.2.4.2-4.8.1 4.5.2-2.3.2 1.2.1-1.7.2 2 .2 2.2.2-1.2.1-.5.2-2.7.2 1.2.2 4 .1-1.6.2.2.2-2.4.2 2.3.1-3.6.2 1 .2 1.9.2-1.9.1-.1.2 1.7.2-1.9.2 1 .1-.2.2 1 .2.2.2.4.1 1.7.2-5.6.2 1.4.1 2.1.2-.2.2 0 .2-1.1.1.1.2 2.3.2-2.9.2.6.1-3 .2 5.6.2-2.3.2-3.4.1 4.9.2-.6.2.7.2-1 .1-2.9.2 2.5.2.7.2-.4.1-1.5.2-1.1.2 3.1.2 1.7.1-3 .2.7.2-1.3.1.5.2 2 .2-2.2.2 1.3.1-1.2.2 2.5.2.7.2-.6.1-2.8.2 1.1.2 0 .2-.3.1 0 .2 2 .2-1.4.2-.2.1 1 .2.5.2-1 .2 4.3.1-5.8.2 2.1.2.6.2-.7.1 2.4.2-.4.2-.8.1-1.1.2 1.3.2-.9.2.5.1-2.7.2 5.3.2-1.2.2.3.1-1.4.2 1 .2 1.5.2-2.2.1.5.2 1.5.2-.1.2-.1.1-.4.2.7.2-.9.2.8.1 1.4.2 0 .2-1.3.2 1.4.1-.4.2 3.3.2-.9.1-.7.2-.1.2-.5.2-.9.1 2.7.2-3 .2 3.4.2-.4.1-2.4.2 2.1.2-.3.2.2.1-.8.2 3.1.2-1.7.2.1.1 1.4.2-.2.2-.8.2.3.1-.6.2.6.2-.2.1.9.2 0 .2-.2.2 0 .1.1.2.1.2-.2.2.5.1-.6.2-.4.2.5.2-.5.1-1 .2.6.2-1.2.2-.5.1 1 .2.8.2-.8.2-1.7.1.5.2-.3.2-2.1.2 1.8.1-.6.2.9.2-4.4.1 3.5.2-3.4.2 1.5.2.8.1-1.7.2.8.2-.6.2-.7.1-1.4.2.6.2.4.2.5.1-1.5.2-.9.2 3.4.2-2.4.1.4.2 1.6.2-4.1.2 5.3.1-2.4.2 2.8.2-1.8.2.2.1-1.6.2-1.6.2.1.1.1.2-.9.2 1.4.2-.1.1 1 .2-1.2.2.8.2 1.2.1-5.1.2 2.5.2 1 .2 4.4.1-3.7.2-2.5.2 4.8.2-5.1.1 1.5.2.8.2-2.6.2 4.7.1-4.6.2-.1.2-2.6.2 6 .1-.8.2 1 .2-3.2.1-1.1.2 1 .2 2.7.2-2.6.1 0 .2.7.2-.5.2.1.1-.8.2.3.2 1.8.2-.3.1.2.2-.4.2.2.2-5 .1 4 .2-2.5.2 4.7.2-1.1.1-2.1.2-.9.2-1.3.2.7.1.6.2 1 .2 1 .1-1.3.2 3.7.2-3.6.2-1.4.1 3.3.2-1.9.2 2.6.2.6.1 1.9.2-5.2.2.9.2-2.6.1 2.5.2-.9.2.2.2 2 .1.5.2-.1.2-.8.2-1 .1 2.6.2-2.1.2 2.2.2-5.5.1 4.9.2-.6.2 1.8.1-5.1.2 2.6.2 1.3.2-.3.1-1.6.2 4.9.2-5.1.2 2.2.1 1.2.2-2 .2 1 .2 1.3.1-2.7.2 1.4.2-1.2.2-1.9.1 3.7.2.3.2-2 .2.2.1 2 .2-.9.2-3.1.2 1.1.1 3.1.2-3.7.2 1.1.1 3.1.2-2.5.2-2.1.2.3.1 1.6.2-.3.2-.8.2 4 .1 1.2.2-1.7.2-.3.2-1.5.1 1.6.2 0 .2 1.1.2-.8.1 4.4.2-2 .2.9.2-3.8.1 2.5.2 1.4.2-3 .1 1.5.2-.3.2-.5.2 1.7.1 1 .2-.6.2 1.3.2-1.8.1 0 .2 2.2.2-1.3.2.4.1.7.2 1.6.2 0 .2.4.1-.8.2 0 .2.3.2.8.1-.1.2.3.2-.4.2.2.1-.2.2-.8.2 1.1.1-2 .2-.3.2 1.3.2-.4.1-1.1.2-2.1.2 1.3.2-1.2.1 1.8.2-2.8.2 1.4.2-.6.1-2.2.2 1.7.2.7.2-1.7.1-1.2.2-1.8.2 3.4.2-1.7.1 2 .2-3 .2 3.1.2-1.1.1-.8.2.3.2-.5.1 1.6.2-1.4.2.4.2-2.9.1 4.5.2-1.2.2-1.2.2-.8.1-.2.2-1.2.2-.9.2 4.4.1-1.4.2-1.3.2-.2.2 1.2.1-.4.2-1.9.2.9.2 1.8.1-3.8.2 2.7.2-3.2.2 1.7.1-.7.2 2.4.2 1.6.1-3.5.2-1 .2 2.1.2 1.1.1.9.2-1.8.2.2.2-.2.1-2.7.2-.6.2 2.4.2.7.1 3.5.2-6.6.2 4 .2.3.1-1.5.2-4.1.2 3.5.2-8.7.1 10.6.2-3.6.2.6.2-.9.1 3.4.2-3.9.2 1.3.1-.6.2 3.2.2.9.2 2.7.1-.9.2-6 .2 1.6.2.6.1 1.7.2-1.5.2-2.2.2 2.5.1-2.4.2.1.2.3.2.1.1-.1.2.7.2-2.2.2.5.1 4.1.2-5.5.2 1.2.2 2.3.1-3.2.2-.9.2 3.3.1-.3.2.4.2-.7.2.9.1-4.3.2 3.2.2 2.2.2-1.6.1.3.2 1.8.2-1.2.2-3.2.1 1 .2 5.4.2-6 .2 3.6.1 1.3.2 2.6.2-7.1.2 4 .1-4.9.2.3.2 1.5.2 2 .1-2.9.2 2.8.2-3 .1 4.5.2-2.5.2 1.2.2 2.5.1-5.2.2 2.2.2-1.5.2.3.1 1.4.2 2.7.2-5.4.2 3.4.1 1.1.2-2.3.2 2 .2.4.1-.5.2-2 .2 3.9.2-3.7.1-1 .2 1.8.2-1.8.1.5.2 2.2.2-2.6.2 3 .1-1.4.2-2.4.2 3.1.2 1.7.1-3.2.2 1.7.2 1.1.2-.8.1.5.2 2.3.2 1.1.2-3.1.1 2.8.2 1.7.2-1.3.2-1 .1 2.1.2-.4.2.5.2.7.1-.9.2 1.6.2-1.9.1 1.9.2.4.2 1.2.2-.9.1-.8.2 1.3.2 1 .2-.3.1.2.2.6.2.3.2-.8.1.2.2-1.7.2.3.2-1.6.1 1 .2-.4.2-.8.2 1.3.1-1.4.2-1.4.2.4.2.7.1.4.2-.8.2-1.1.1.2.2-1.4.2 1.6.2-1.1.1-1.9.2.1.2 2.7.2-1.2.1.6.2-1.2.2-2 .2.7.1-.4.2 1 .2-.5.2-3.6.1 2.8.2-1.4.2 3.3.2-.8.1-1.3.2-1.4.2 3.1.2.1.1-.1.2-2.6.2 1.3.1-1.9.2 1.9.2-2.6.2-1.1.1 4.2.2-1.1.2.3.2-1.1.1-3 .2-1.5.2 3.4.2 1.4.1 1.4.2-.8.2-.8.2-1.1.1 1 .2 1.1.2.7.2-4.1.1 1.3.2.6.2.9.2-1.9.1 1.9.2-.8.2-.5.1-1.4.2 2.1.2-1.4.2-.9.1-1.4.2 2.2.2 0 .2-.2.1 1.2.2 1.5.2-2.4.2 0 .1 1.2.2-.4.2.5.2 2.5.1-4.7.2-.1.2-.7.2 6.6.1-9.2.2 6.3.2-2.2.2 0 .1.4.2 1.9.2-1.6.1 2.3.2-5.2.2 7.9.2-6.8.1 2 .2-4.2.2 5.3.2-.3.1-2.1.2-2 .2.8.2-1.5.1-.6.2 2.4.2.3.2-2.8.1 1.4.2 0 .2-1.3.2 5.7.1-5 .2.6.2-3 .1 2.2.2.8.2-2.3.2 5.7.1-4.3.2 3 .2 3.3.2-.6.1-2.1.2 2.6.2.4.2-3.6.1 1.4.2-.3.2-1 .2 5.1.1-4.2.2 5.1.2-3.9.2 1.6.1-.9.2 2.4.2-3.1.2-1.8.1 2.3.2 1.2.2-4.1.1-.1.2.2.2.4.2 1.6.1-1.2.2-.2.2 3.2.2-1.4.1-1 .2-.1.2 1.3.2-1.8.1 4.6.2-3.1.2.3.2.7.1.9.2-.6.2.3.2-1 .1 2.9.2-2.8.2 2.6.2-.7.1 1.2.2-2.3.2-.4.1 2 .2.3.2.7.2-.6.1-.2.2.5.2.2.2.2.1-.2.2 1.1.2.1.2-1.2.1 1.2.2-.4.2 1.4.2-1.1.1-.2.2.4.2 2.6.2-1.5.1-.2.2 1.4.2-.7.2.1.1-.3.2-.1" fill="none" stroke="#000" stroke-width="1.15" stroke-linejoin="round"/>
<line x1="439.5" y1="599.4" x2="439.5" y2="645" stroke="#222" stroke-width="1.2"/>
<line x1="439.5" y1="645" x2="683" y2="645" stroke="#222" stroke-width="1.2"/>
<line x1="439.5" y1="633.7" x2="441.7" y2="633.7" stroke="#222" stroke-width="0.9"/>
<line x1="439.5" y1="622.5" x2="441.7" y2="622.5" stroke="#222" stroke-width="0.9"/>
<line x1="439.5" y1="611.2" x2="441.7" y2="611.2" stroke="#222" stroke-width="0.9"/>
<line x1="439.5" y1="599.9" x2="441.7" y2="599.9" stroke="#222" stroke-width="0.9"/>
<text transform="translate(434.5 616.4) scale(0.9495 1)" font-size="14.72" text-anchor="end">0.06</text>
<text transform="translate(434.5 638.9) scale(0.9495 1)" font-size="14.72" text-anchor="end">0.02</text>
<line x1="474.3" y1="651.7" x2="474.3" y2="697.4" stroke="#b0b0b0" stroke-width="0.7" stroke-dasharray="1,1.3"/>
<line x1="509.1" y1="651.7" x2="509.1" y2="697.4" stroke="#b0b0b0" stroke-width="0.7" stroke-dasharray="1,1.3"/>
<line x1="543.9" y1="651.7" x2="543.9" y2="697.4" stroke="#b0b0b0" stroke-width="0.7" stroke-dasharray="1,1.3"/>
<line x1="578.6" y1="651.7" x2="578.6" y2="697.4" stroke="#b0b0b0" stroke-width="0.7" stroke-dasharray="1,1.3"/>
<line x1="613.4" y1="651.7" x2="613.4" y2="697.4" stroke="#b0b0b0" stroke-width="0.7" stroke-dasharray="1,1.3"/>
<line x1="648.2" y1="651.7" x2="648.2" y2="697.4" stroke="#b0b0b0" stroke-width="0.7" stroke-dasharray="1,1.3"/>
<line x1="683" y1="651.7" x2="683" y2="697.4" stroke="#b0b0b0" stroke-width="0.7" stroke-dasharray="1,1.3"/>
<line x1="439.5" y1="651.7" x2="439.5" y2="651.7" stroke="#ccc" stroke-width="0.7" stroke-dasharray="1,1.3"/>
<line x1="439.5" y1="651.7" x2="683" y2="651.7" stroke="#d8d8d8" stroke-width="0.6" stroke-dasharray="1,1.5"/>
<path d="M439.5 697.4l0-1.1.3-.1.4.1 1 0 .4.1.3-.1.4 0 .3-.1.4 0 .3.1.4-.1.3.1.4-.1.3-.1.4.2.3.1.4-.1.3-.1.4.1.3 0 .4-.1.3 0 .4.1.3-.1.4.1.3-.1.4 0 .3.1.4-.2.3.1.3.2.4.1.3-.3.7 0 .4.1 1.4 0 .3-.1.4.2.3-.2.4.1 1.7 0 .4-.2.3.3.4-.2.3-.1.4.1.3-.1.4 0 .3.2.4-.2.3.1.3 0 .4.1.3-.1.4 0 .3.1.4-.1.3.1 1.1 0 .3.1.4-.2.7 0 .3.1.4.1.3-.2.4.2.7 0 .3-.1.4 0 .3-.1.7 0 .4.1.3-.1.4.1.3 0 .4-.1.3 0 .3.1.4 0 .3-.1.4.1.3-.2.4.1.3 0 .4.2.3-.1.4-.2.3-.5.4.1.3-.4.4-.1.3-.3.4 0 .3-.2.4-.1.3-.2.4 0 .3-.5.4.1.3-.1.4-.7.3.7.4-.7.3.2.4-.4.3-.8.4 1 .3-.2.3.1.4-.8.3 1 .4-.8.3.6.4 0 .3-.9.4 0 .3.9.4-.2.3-.9.4.1.3-.8.4 1.3.3-.8.4 1.4.3-.9.4.1.3 0 .4-.4.3 0 .4.4.3.1.4-.4.3.4.4-.1.3 0 .4.2.3-.5.3 1 .4-1.2.3.2.4.4.3-.3.4 0 .3-.2.4.5.3-.3.4 0 .3.3.4-.2.3 0 .4.5.3-.8.4.5.3.1.4-.6.3.6.4-.8.3.2.4.7.3-.5.4-.2.3.2.4.8.3-.1.4-.2.3.6.4-.2.3.4.3-.3.4.7.3.6.4 0 .3.5.4.2.3-.2.4.1.3-.1.4.5.3.1.4-.1.3.3.4.1.3-.1.4.2.3.1.4.2.3-.2.4.1.3 0 .4.2.3-.4.4.2.3-.2.4-.1.3 0 .4.1.3-.1 1 0 .4-.4.3.2.4 0 .3.3.4-.1.3-.4.4-.1.3.2.4-.3.3.2.4-.1.3.1.4.1.3-.5.4.2.3-.1.4.3.3-.3.4.4.3-.4 1.1 0 .3.1.4-.4.3.3.4-.2.3.3.4 0 .3-.1.3 0 .4-.3.3.5.4-.4.3.6.4-.4.3-.2.4.1.3-.1.4.2.3-.1.7 0 .4.2.3-.4.4.3.3-.2.4-.1.3-.1.4.3.3.1.4.1.3-.2.4.2.3-.3.4-.1.3.6.4-.5.3.3.3.2.4-.2.3-.4.4.3.3 0 .4-.2.3.3.4-.2.3-.1.4.3.3.3.4-.1.3-.1.4 0 .3.4.4-.2.3.4.4-.3.3.1.4.2.3-.2.4.2.3 0 .4.2.3-.1.4-.1.3.2.4-.2.3-.4.4-.1.3.1.3-.1.4-.1.3-.4.4.2.3-.3.4-.1.3.1.4-.5.3.4.4-1 .3.4.4-.1.3-.4.4.3.3-.8.4.9.3-.3.4.1.3-1.1.4 0 .3.5.4-.6.3.4.4.2.3.3.4-.1.3-.7.4-.3.3.2.4.2.3.3.3-.7.4.5.3-.4.4.1.3.1.4.3.3-.7.4.5.3.5.4-.4.3-.9.4.8.3-1.3.4 1.1.3-.2.4.2.3-.7.4.1.3-.4.4.7.3 0 .4-.3.3.1.4.3.3-.4.4.8.3-.6.4.4.3-.1.3-.3.4.9.3.3.4-1.6.3 1.4.4-.7.3-.4.4.8.3-.6.4.7.3-.4.4.3.3-.9.4.3.3.7.4-.1.3.7.4-.6.3 0 .4.3.3.7.4-.3.3.1.4.3.3-.1.4.3.3 0 .4.5.3-.1.4.3.3-.2.3.1.4.1.3.2.4.3.3 0 .4.1.3.1.4-.1.3.2.4-.3.3.2.4-.2.3 0 .4.2.3-.2.4.1.3-.1.4-.1.3 0 .4.1.7 0 .3.1.4 0 .3-.2.4 0 .3.1.4 0 .3-.2.4.4.3.1.3-.5.4.3.3-.3.4.5.3-.1.4-.2.3-.1.4.2.3-.1.4-.2.3.4.4-.3.3.1.4 0 .3.1.4.4.3-.2.4-.4.3.3.4.1.3-.1.4-.1.3-.1.4.1.3-.1.4.1.3.1.4.1.3-.3.3.3.4-.1.3 0 .4-.4.3.5.4-.3.3.2.4-.2.3-.1.4.3.3-.1.4-.1.3.1.4.1.3-.1.7 0 .4-.2.3.1.4.1.3.2.4-.2.3-.2.4.1.3 0 .4.2.3-.2.4 0 .3.2.4-.1.3.2.3-.3.4.2.3 0 .4-.2.3.1.4-.2.3 0 .4.3.3 0 .4-.1.3 0 .4.2.3-.4.4 0 .3.1.4 0 .3.2.4-.2.3.1.4.2.3-.1.4-.1.7 0 .3.1.4-.1.3-.2.4.2.3.3.4-.3.3-.1.3-.2.4.4.3.1.4-.2.3-.2.4 0 .3.3.7 0 .4-.3.3.3.4-.5.3.1.4.6.3-.5.4.1.7 0 .3.1.4-.1.3.2.4 0 .3-.1.4 0 .3-.1.4.1.3-.1.4.1.3-.2.4.3.3-.1.3.1.4-.1.3 0 .4-.1.3-.2.4.3.3 0 .4.3.3-.3.4 0 .3.1.4 0 .3.3.4-.3.3 0 .4-.1.3.1.4-.1.3.1.4-.2.3.2.4 0 .3-.3.4.3.3-.1.4-.1.3-.1.4.4.3 0 .3-.2.4-.3.3.3.4-.2.3.2.4 0 .3-.2.4.2.7 0 .3.2.4-.1.3.1.4-.3.3 0 .4.2.3-.3.4.1.3.1.4-.1.3 0 .4.2.3-.1.4 0 .3.1.4-.1.3 0 .4.1.3-.2.4.1.3.1.3 0 .4.1.3-.2.4 0 .3-.4.4.3.3-.1.4.3.3-.1.4.1.3-.1.4.1.3-.1.4.1.3-.2.4.2.3.1.4-.1.3-.3.4.2.3-.4.4.4.3 0 .4-.1.3 0 .4.1.3-.3.4.2.3.2.4.2.3-.2.3-.2.4-.1.3.2.4 0 .3.1.4-.1.3-.1.4.2.3 0 .4-.2.3.4.4-.4.3.1.4-.2.3.5.4.1.3-.3.4-.3.3.1.4.3.3.1.4-.4.3.1.4 0 .3.1.4 0 .3-.3.4.4.3-.3.7 0 .3-.2.4.3.3-.1.4-.1.3-.1.4.2.3.1.4-.1.3.4.4-.4.3.2.4-.3.3.1.4.1.3-.1.4.1.3-.1.4.2.3-.1.4.3.3-.4.7 0 .4.3.3-.3.4.3.3-.2.7 0 0 1.7z" fill="#edb120" fill-opacity="0.5" stroke="#6b4a10" stroke-width="0.4"/>
<path d="M439.5 697.4l0-1.1.3 0 .4-.1.3 0 .4.1.3-.1.4-.2.3.3.4-.1.3.1.4-.1.3.2.4-.1.3-.1.4.1.3 0 .4-.1.3.1.4-.2.3.1 1.1 0 .3.1.4 0 .3-.2.4.2.3.1.4-.2.7 0 .3.1.3-.1.4 0 .3.1.4-.2.3.2.4.1.3-.1.4-.1.3.1.4-.1.3.1.4.1.3-.1.4-.1.3.1.4-.1.3.1.4-.1.3.1.4-.2.3.1.4.1.3-.1.4 0 .3.2.4-.1.3-.1.4.1.3-.2.3.3.4 0 .3-.3.4.1.3.2.4-.1.3-.1.4 0 .3-.1.4.4.3-.3.4.1.3 0 .4-.2.3.2.4-.1.3 0 .4.2.3-.2.7 0 .4.1.3-.1.4.1.3-.1 1.4 0 .4.1.3 0 .3-.1.4-.1.3.2.4 0 .3.1.4-.1.3-.1.4.1.3 0 .4-.1.3 0 .4-.1.3.1.4 0 .3-.1.4-.4.3-.1.4.1.3-.1.4.1.3-.1.4.5.3-.6.4.1.3.1.4-.2.3.1.4.3.3-.3.4 0 .3.1.3 0 .4-.1.3.2.4-.2.3-.1.4.2.3.1.4-.2.3.3.4-.3.3.1.4 0 .3-.2.4.3.3-.1.4-.1.3.1.7 0 .4.1.3-.3.4.2.3-.2.4.2.3.2.4-.2.3.2.4-.3.3.1.3-.2.4 0 .3.1.4.1.3.1.4-.4.3.6.4-.5.7 0 .3.1.4 0 .3.1.4 0 .3.3.4-.3.3-.1.4.1.3-.1.4-.2.3.2.4.1.3.2.4-.3.3.5.4-.3.3-.1.4.1.3-.6.4.5.3-.1.3-.1.4 0 .3.3.4-.2.3.1.4-.1.3 0 .4.1.3 0 .4.2.3 0 .4.1.3 0 .4.1.7 0 .3.2.4-.2.3.2.7 0 .4-.2.3.1.4.1.3 0 .4-.1.3.1.4-.1.3.1.4-.1.3 0 .3.1 1.4 0 .4-.3.3.3.4.1.3-.1.7 0 .4.1.3-.1.4-.1.3.1.4-.1.3.1.7 0 .4-.1.3.2.4-.1.3 0 .4-.3.3.2.4.1.3-.1.4.1.3-.1.4.1.3 0 .3.1.4-.2.3.1.4-.1.3 0 .4.1.3-.2.4.2.3-.1.4.2.3-.2.4.2.3 0 .4-.1.3.1.4-.1.3-.1.4-.1.3 0 .4.2.3.1.7 0 .4-.1.3-.2.4.2.3 0 .4-.2.3.3.3-.3.4.2.3 0 .4-.1.3 0 .4.1.3-.1 1.1 0 .3.1.4-.1.3.2.4 0 .3-.3.4.2.3 0 .4.1.3-.2 1.1 0 .3.1.4-.1.3.1.4.1.3-.2.4.1.3-.3.4.2.3-.2.3-.3.4.2.3 0 .4-.2.3.1.4-.1.3-.1.4 0 .3-.2.4.7.3-.3.4-.4.3.5.4-.2.3.1.4-.2.3.2.4-.2.3.1.4-.1.3.1.7 0 .4-.4.3.2.4.3.3-.2.4.3.3-.3.4.2.3.1.3-.1.4-.2.3.1.4-.1.3.2.4 0 .3-.3.4.3.3-.4.4.4.3 0 .4-.3.3.3.4-.2.3.2.4-.3.3.1.4 0 .3.2.4 0 .3-.2.4 0 .3.1.4 0 .3-.1.4.3.3-.3.4.1.3-.2.3.2.4.2.3-.3.4-.1.7 0 .3.3.4 0 .3.1.4-.3.3.1.4-.2.3 0 .4.1.3-.1.4.4.3-.3.4.3.3-.1.4-.2.3.1.4-.1.3.1.4-.2.3.1.4 0 .3.2.4 0 .3-.1.4.4.3-.1.3 0 .4.3.3-.1.7 0 .4-.1.3-.1.4-.2.3-.1.4.2.3-.1.4-.2.3 0 .4-.4.3.1.4-.2.3.1.4-.2.3.2.4-.6.3.1.4.1.3-.2.4-.2.3-.2.4-.2.3.5.4-.7.3.3.7 0 .3-.3.4-.1.3.3.4-.4.3 0 .4-.1.3.7.4-.3.3 0 .4-.2.3-.1.4-.2.3.6.4-.3.3 0 .4.3.3 0 .4-.3.7 0 .3-.2.4.4.3-.1.4.4.3-1.1.4.6.3.2.4.3.3-.9.3.6.4-.3.3.2.4-.3.3.2.4-.3.3.8.4-.7.3 0 .4.5.3-.1.4-.3 1 0 .4-.1.3 0 .4-.1.3.3.4-.4.3 0 .4.3.3-.3.4.2.3.2.4.2.3 0 .4.1.3.2.4 0 .3-.2.3.4.4 0 .3.4.4 0 .3.5.4-.3.3.2.4.6.3-.5.4.5.3.1.4.2.3.1.4-.3.3-.3.4-.5.3.3.4-.6.3.1.4-.3.3-.4.4-.5.3.3.4-.9.3-.4.4-.4.3-.3.4 0 .3-.4.4-.1.3.1.3-1.1.4.5.3-1.6.4 1.7.3-.7.4-.8.3.1.4-.1.3-.7.4.1.3-.7.4-.3.3.6.4-1 .3 1.4.4-1.8.3.9.4 1.4.3-.8.4-1.4.3 1.1.4.1.3.3.4-1.7.3.7.4-.2.3.2.4-.3.3.8.4-1.2.3 1.3.3.1.4-1.4.3.6.4.4.3 0 .4-.2.3.6.4-.4.3-1.2.4 2 .3-.8.4 1.7.3-.8.4.9.3-1.6.4-.8.3-.7.4 1 .3-.3.4.5.3-.2.4.9.3-.8.4-.1.3-.6.4 1.4.3-.3.4-.2.3-1 .3 2.4.4-1.7.3 2 .4-1.3.3 1.1.4.2.3.7.4-.1.3.6.4.7.3.5.4.5.3.6.4.4.3.9.4.3.3.4.4.4.3-.2.4-.2.3-.4.4.1.3-.1.4-.5.3-.6.4.3.3-.4.4-.4.3.5.4-1.2.3.3.3-.9.4.8.3-1.5.4-.5.3.7.4-.7.3-1.5.4.2.7 0 .3-1.1.4-.3.3-.4.4-1.3.3.1.4-.2.3.2.4 1.3.3-1.7.4.6.3-.4.4-1.6.3 2.8.4-1.7.3 1.2.4-.3.3-.8.4 1.1.3-.9.4-.1.3.1.3 1.1.4-2.4.3 1.2.4.1.3 1.4.4-1 .3-1.2.4 1.7.3-2.9.4.8.3 1.2.4.7.7 0 .3 1.3.4-.7.3-1.3.4.3.3-1.3.4-.8.3 2.2.4-1.3.3 1.8.4-.6.3-1.6.4.2.3 2.5.4-1.5.3.2.3 1.1.4-.1.3-1.9.4-.6.3.7.4-.8.3 1.3.4 1.2.3.8.4-1.8.3.2.4-.1.3 1.4.4-1.3.3 2.9.4-.4.3.9.4-.4.3.5.4 2.1.3-.4.4.6.3.4.4.8.3.6.4.5.3 1 .4-.3.3-.2.4 0 .3.5 0 2z" fill="#d95319" fill-opacity="0.5" stroke="#5a2a10" stroke-width="0.4"/>
<path d="M439.5 694.5l.3 0 .4.1.3-.2.4.1.3 0 .4-.1.3.3.4-.2.3 0 .4-.1.3.3.4-.2 1.4 0 .3.2.4-.3.3 0 .4.1.3 0 .4-.1.3.2.4-.1.3-.1.4.2.3 0 .4-.1.3 0 .4-.1.3.1.3 0 .4.2.3-.3.4-.1.3.2.4.2.3-.2.4 0 .3.2.4-.2.3 0 .4.3.3-.3.4 0 .3.1.4-.2.3.2.4-.1.3.1.4-.4.3.4.4-.1.3-.2.4.1.3.1.4-.1.3.1.4-.1.3-.1.3.3.4.1.3-.4.4.1.3.3.4-.2.3 0 .4-.1.3 0 .4.3.3-.1.4-.1.3 0 .4-.2.3.3.4 0 .3-.2.4.4.3-.2.4 0 .3-.1.4.1.3-.1 1.1 0 .3-.1.4.1.3-.1.4.2.3-.1.3-.1.4.1.3 0 .4.1.3-.1.4-.1.3 0 .4.2.3 0 .4-.3.3-.5.4 0 .3-.3.4-.1.3-.4.4-.5.3-.2.4 0 .3-.3.4.1.3-.6.4.5.3-.6.4-.6.3.8.4-.9.3.4.4-.2.3-1 .4 1 .3-.3.3.2.4-.9.3 1.2.4-1 .3.5.4.2.3-.8.4-.3.3 1.4.4-.7.3-.7.4.1.3-1 .4 1.6.3-1 .4 1.3.3-.7.4.1.3-.1.4-.2.3-.2.4.5.3-.1.4-.2.3.6.4-.3.3.2.4-.1.3-.4.3.8.4-1.2.3.3.4.4.3-.1.4-.3.3.2.4.1.3-.3.4 0 .3.4.4-.2.3.1.4.5.3-.5.4.1.3.1.4-.5.3.5.4-1 .3.4.4.8.3-.3.4-.5.3.8.4.4.3-.3.7 0 .4.4.3.2.3-.4.4.7.3 1 .4-.3.3.6.4.1.3-.1.4.2.3-.1.4.5.3.2.4 0 .3.2.4.3.3-.1.4.3.3.2.7 0 .4.1.7 0 .3-.3.4.3.3-.2.4-.2.3.2.4-.1.3.1.4-.2.3 0 .3.1.4-.4.3.2.4 0 .3.3.4-.5.7 0 .3.1.4-.3.3.2 1.1 0 .3-.3.7 0 .4.3.3-.3.4.3.3-.2.4-.1.3-.1.4-.1.3.2.4-.3.3.3.4-.2.3.2.4.1.3-.1.3.1.4-.4.3.5.4-.5.3.6.4-.2.3-.4.4.2.3-.2.4.4.3-.2.4.1.3 0 .4.1.3-.3.4.2.3-.3.4-.2.3-.1.4.5.3.1.4.2.3-.2.4.1.3-.4.4 0 .3.5.4-.5.3.4.7 0 .3-.4.4.2.3.1.4-.3.3.3.4-.2.3-.1.4.3.3.3.4-.1.3.1.7 0 .4.1.3.4.4-.2.3-.1.4.2.3-.2.4.3.3 0 .4.1.3-.1.4.1.3 0 .4-.2.3-.5.4 0 .3-.1.3-.4.4.1.3-.4.4 0 .3-.2.4-.2.3 0 .4-.5.3.2.4-.4.3.1.4-.4.3.1.4.1.3-.7.4.7.3-.1.4-.1.3-1 .4-.1.3.6.4-.6.3.4.4-.2.3.5.4.1.3-.8.4.1.3-.2.4.4.3.4.3-.7.4.1.3-.1.4 0 .3.2.4.3.3-1 .4.8.3.1.4 0 .3-.9.4.5.3-1 .4.9.3-.1.4 0 .3-.6.4.1.3-.2.4.7.3-.2.4-.3.3.2.4.3.3-.5.4 1 .3-.8.4.5.3-.3.3-.1.4 1.1.3 0 .4-1.7.3 1.4.4-.7.3-.1.4.7.3-.5.4.5.3-.3.4.2.3-1 .4.4.3.6.4.2.3.5.4-.3.3-.1.4.1.3.9.4-.5.3.3.7 0 .4.3.3.2.4.5.3-.2.4.7.3-.3.3.1.4.3.3.2.4.4.3-.1.7 0 .4-.3.3.1.4-.1.3.1.4-.4.3 0 .4-.1.3-.1.4-.2.3 0 .4-.3.3.2.4-.5.3.1.4.1.3-.2.4-.1.3-.3.4-.3.3.6.4-.7.3 0 .4.5.3.1.3-.8.4.2.3 0 .4.1.3-.1.4-.3.3.6.4-.1.3-.1.4-.4.3.3.4-.6.3.8.4-.3.3.1.4.6.3-.1.4-.6.3.2.4.2.3-.4.4.3.3-.2.4.5.3-1.2.4.7.3.3.4.3.3-1.1.3.8.4-.3.3.2.4-.7.3.8.4-.7.3 1 .4-.9.3-.2.4.9.3-.2.4-.4.3.1.4.1.3-.1.4-.1.3-.1.4-.1.3.3.4-.3.3.2.4.1.3-.5.4.3.3.1.4.5.3-.2.4.1.3.4.4-.1.3 0 .3.1.4.2.3.4.4-.2.3.6.4-.5.3.2.4.9.3-.5.4.4.3.1.4.4.3-.3.4-.4.3-.1.4-.4.3.3.4-.7.3.2.4-.1.3-.4.4-.7.3.3.4-.9.3-.2.4-.6.3-.5.4.1.3-.1.4-.3.3 0 .3-1.4.4.9.3-1.5.4 1.7.3-.9.4-.9.3.4.4-.1.3-.7.4-.2.3-.4.4-.8.3.6.4-.4.3 1 .4-1.7.3.9.4 1.4.3-.8.4-1.4.3 1.3.4.1.3.2.4-1.7.3.6.4-.1.3.1.4-.2.3.6.4-.9.3 1.2.3.3.4-1.5.3.5.4.3.3-.1.4 0 .3.7.4-.2.3-1.5.4 2 .3-.7.4 1.7.3-.5.4.6.3-1.6.4-.8.3-.7.4.9.3-.2.4.3.3 0 .4.9.3-1.1.4.1.3-.7.4 1.4.3-.3.4.1.3-1 .3 2.2.4-2 .3 2.3.4-1.6.3 1.3.4.4.3.4.4.1.3.6.4.7.3.7.4.4.3.7.4.1.3.9.4.5.3.1.4.5.3-.1.4-.4.3-.4.4.4.3-.1.4-.6.3-.6.4.3.3-.4.4-.3.3.4.4-1.2.3.4.3-.9.4.9.3-1.8.4-.4.3.4.4-.5.3-1.5.4.5.3-.2.4.1.3-1.2.4-.3.3-.4.4-1.2.3-.1.4-.1.3.4.4 1.3.3-2.1.4.8.3-.8.4-1.2.3 2.8.4-1.8.3 1.2.4-.1.3-1.3.4 1.4.3-.7.4.1.3-.1.3.9.4-2.4.3 1.4.4 0 .3 1.4.4-1 .3-1.4.4 2 .3-2.9.4.6.3 1.6.4.4.3 0 .4-.1.3 1.7.4-.7.3-1.5.4 0 .3-1.2.4-.5.3 2.2.4-1.6.3 2 .4-.7.3-1.6.4.3.3 2.2.4-1.1.3-.1.3 1 .4 0 .3-2.1.4-.3.3.6.4-1 .3 1.3.4 1.5.3.8.4-1.9.3.5.4-.4.3 1.6.4-1.7.3 3.1.4-.3.3.9.4-.4.3.4.4 2.3.3-.5.4.9.3 0 .4.9.3.4.4.9.3.7.4 0 .3-.4.4-.1.3.6" fill="none" stroke="#fff" stroke-width="1.0" stroke-linejoin="round"/>
<path d="M439.5 695.3l.2.3.1-1 .2.6.2.6.2 0 .1-.1.2-.4.2.7.2-.9.1.1.2-.6.2.4.2.7.1-.2.2-.2.2-.1.2-.2.1 0 .2.4.2-.6.2 1.1.1-.6.2.3.2.4.2.3.1-1.1.2.4.2.8.1-.6.2-1 .2-.3.2 1.1.1-.4.2.5.2-.1.2.1.1.2.2-1.3.2.5.2.7.1-.4.2-.4.2.6.2.5.1-.9.2-.3.2.5.2-.7.1 1 .2-1 .2 1.1.2-.6.1.7.2.3.2-.3.1-1.3.2.7.2-.7.2.5.1.5.2 0 .2.2.2-.4.1-.6.2.6.2-1.1.2 1.4.1-.7.2.5.2-.6.2.7.1-1.1.2.7.2.7.2-1.6.1 1.1.2-.8.2.7.2 0 .1-.8.2.4.2.3.1.8.2-1 .2-.3.2-.1.1.5.2-.6.2 1.1.2-1.3.1.5.2.4.2.2.2-.3.1.5.2 0 .2-1.2.2.7.1-.4.2-.2.2.7.2-.6.1.4.2.3.2-.3.1-.2.2.4.2 0 .2.1.3 0 .2-.8.2-.2.1.8.2-.3.2-.4.2 1.2.1-2.1.2 1.4.2 0 .2.2.1 0 .2-.3.2.2.2.1.1 0 .2-1.2.2 1.3.2-.5.1-.4.2.3.2-.7.1 1 .2-.3.2.3.2-.3.1.7.2.2.2-1 .2.5.1-.6.2.4.2-.2.2-.1.1-1 .2 1.8.2-.5.2-.4.1-.1.2-.3.2.1.2.3.1-.1.2.3.2.3.2-.3.1-1.4.2.9.2-.1.1.7.2-1 .2.7.2 1.7.1-1.5.2-.7.2.7.2-.3.1.3.2.4.2-.1.2.1.1-.3.2.2.2-.8.2-.1.1.2.2 1.2.2-.9.2.1.1.4.2-1 .2.3.2.2.1.5.2 0 .2-.3.1 0 .2-.2.2.5.2.5.1-.2.2-.8.2.5.2.8.1-.7.2.1.2 0 .2-.7.1.6.2.2.2-.9.2.4.1.1.2-.2.2.2.2-.4.1 0 .2-.6.2-.6.2.3.1-.4.2.8.2-.2.1.4.2-1.4.2 1.6.2-.9.1-.3.2-.7.2-1.3.2 2.9.1-1.2.2-1.8.2 1 .2.4.1-1.5.2 1.5.2 1 .2-1.6.1.9.2-1.3.2.8.2-.6.1 1.7.2-1.4.2 2.3.2-2.3.1.4.2-.7.2.1.1-.4.2-.1.2-.1.2 1.9.1-1.8.2.3.2.1.2.1.1 0 .2-1 .2.2.2.1.1-.5.2.2.2 1.3.2.7.1-1.2.2-.8.2 1.1.2-1 .1.9.2-.4.2-.4.1.5.2-.3.2-.9.2.8.1-.8.2 1.3.2-.4.2-.9.1.2.2 1.5.2-1.9.2.9.1.3.2.2.2-1.2.2.1.1.5.2.9.2-.3.2-1.5.1 1.7.2-.4.2-.6.2.3.1-1 .2-1 .2 3.5.1-2.4.2 1.1.2.5.2-1.1.1 1.1.2-2.1.2 2.6.2-3.6.1 2.3.2.1.2.1.2-.5.1-.2.2-.5.2 1.3.2-.9.1-.4.2 1.3.2-.1.2-1.3.1-.4.2 1.3.2-.3.2.8.1-.7.2.3.2 1.1.1-1.4.2.7.2-2.3.2 2.2.1.3.2.5.2-1.3.2.1.1-.2.2-1.2.2 1.8.2-1.8.1 1.8.2-1.9.2.6.2.5.1.2.2-.2.2.8.2-.4.1-.1.2-1.6.2 2.1.2-1.4.1 2 .2-1.9.2 1.1.1 2.5.2-1.4.2-2.1.2.9.1-.2.2-.2.2-.6.2 1.9.1-1.6.2 1.6.2 0 .2-1.8.1 1.4.2.3.2 1.7.2-1.5.1.1.2-.1.2.6.2-.6.1 1 .2-1 .2.6.2.1.1-1.8.2 1.5.2 0 .1.9.2.2.2-1.2.2 1.1.1.9.2-1.5.2 1.7.2-.6.1 0 .2-.4.2.5.2.7.1-.1.2-.2.2.6.2-1.5.1 1.9.2-.5.2-1.1.2 1.7.1-.5.2-.1.2.8.2-.8.1.5.2.3.2-.3.1.4.2.1.2.1.2-.6.1.6.2 0 .2.3.2-.5.1.6.2-.9.2.1.2-.4.1.5.2.1.2-1 .2 1 .1-.4.2.1.2-.3.2-.7.1.9.2-1 .2 1.2.2-.5.1.1.2.3.2-.7.1.9.2-1.4.2.7.2-.2.1.3.2-.5.2-.4.2 1.4.1-.9.2-.1.2-.3.2.5.1-.3.2.1.2 0 .2 1.1.1-.5.2-.2.2-.9.2.3.1.4.2-.1.2-.1.1.6.2.6.2-1.3.2-.9.1-.1.2 1.2.2-1.1.2.2.1 1.5.2-.6.2 0 .2-.3.1-.5.2-.3.2.9.2-.2.1-.4.2 0 .2.1.3 0 .2-1.4.2 1.3.2.1.1.2.2-.7.2 1.3.1-1.5.2-.1.2.5.2.3.1-.1.2-.1.2.3.2-1.1.1.6.2-.6.2.6.3 0 .2.9.2-.6.2 0 .1-1.2.2 1.7.2-1 .2-.8.1-.7.2.3.2.9.2-.6.1.6.2-.4.2 1 .1-.4.2-.8.2 1.4.2-.6.1-2.6.2 2.4.2-.4.2-.9.1.5.2-.3.2.7.2-1.3.1.4.2-.9.2 1.7.2-2.1.1.1.2-.1.2.7.2-.6.1 1 .2-.3.2.1.2.6.1-1.7.2.5.2.9.1 1.7.2-2.8.2-.1.2 2.1.1-1.6.2 1.1.2 1 .2-1.1.1.4.2.4.2.4.2-2.1.1.7.2-.5.2.9.2-.3.1 1.1.2 0 .2-.3.2.3.1.1.2-1.4.2 1 .2.1.1 2.1.2-2.1.2-.5.1 1 .2-.3.2-.2.2-1.1.1 2.6.2-.6.2 1.2.2-1.4.1 1.5.2-.3.2-.2.2-.6.1-.8.2.5.2.1.2-.2.1-.3.2.7.2-.6.2.8.1.2.2-.6.2 1.1.2-.2.1-1.2.2.6.2.3.1.2.2.4.2.5.2-1.2.1.5.2.5.2-.1.2.3.1.2.2.2.2-.3.2.3.1-.1.2-.1.2-.3.2.6.1-.6.2 1.4.2-1.9.2.7.1-1.3.2 1.8.2-1.3.2.3.1.6.2-.7.2-.3.1.1.2-.9.2 1.4.2-1 .1-1.1.2-.1.2.6.2 1 .1-1.8.2-.2.2 1.3.2-.3.1-.7.2.5.2.1.2.4.1-1.3.2.8.2-1.4.2 1.7.1-.9.2-1.5.2 2.5.1-.1.2-.6.2.5.2-1.3.1.5.2-.8.2.8.2-.6.1.2.2.9.2-1.2.2.9.1-1.8.2 1.9.2-1.5.2-.2.1.4.2.7.2-.8.2-1.3.1 1.9.2-.5.2-.3.2.8.1.3.2 0 .2 1 .1-2.6.2.9.2-.6.2 2.1.1-1.6.2 1.1.2-.4.2-.4.1.2.2-1.2.2.7.2.1.1-1.2.2 1.3.2-1.4.2 2.4.1-1.7.2.7.2.8.2-.8.1-.3.2.6.2-1.4.2 2.3.1-2 .2.2.2.4.1 1.1.2-1.6.2.1.2 0 .1-1.6.2.8.2 1.7.2-1.9.1 1 .2.8.2.2.2-1.2.1.8.2-.5.2.9.2-2.1.1 1.2.2-1.1.2.2.2-.1.1-.1.2 0 .2 2.5.2-.9.1-.7.2.4.2-.7.1-1.1.2 1.2.2-1 .2.5.1.8.2-.1.2.7.2-.2.1-.8.2.4.2-1.9.2 1.8.1-.6.2 1.7.2 0 .2.7.1-2.6.2 2.1.2-1.9.2.2.1 1 .2-.8.2.8.2.7.1-1.9.2 1.9.2-2.1.1 1.2.2.9.2-3.2.2 2.9.1.5.2-2.1.2.5.2.2.1 1.5.2-1.9.2 1.3.2-1.2.1-.7.2.7.2-.4.2 1 .1-1.1.2 2 .2-.1.2-3.6.1 4 .2-.3.2-2.7.2 2.7.1-.1.2-.5.2.5.1-.2.2-1.3.2 1.4.2-.7.1-.2.2 0 .2.3.2.5.1-1.6.2.2.2 1.5.2.4.1-1 .2-.3.2.5.2 1.3.1-.2.2-.7.2.4.2-.7.1-.3.2 1.2.2 0 .1.3.2 2.1.2-1.1.2 0 .1.1.2 1 .2.3.2-.5.1.9.2-.1.2.2.2-.5.1.1.2-.4.2.8.2-.9.1-.5.2 1.4.2-.3.2-.6.1 0 .2-1.4.2.8.2.5.1-.1.2-.3.2.1.1-.3.2 1.2.2-.2.2-.8.1.8.2-.9.2 0 .2.6.1 0 .2-.7.2.4.2-1 .1.3.2.4.2.4.2-1.6.1.6.2.7.2-.3.2-.7.1.1.2.2.2.2.2.5.1-.1.2-1.5.2.6.1-1 .2 1.3.2.6.2-1.2.1 0 .2.1.2 0 .2-.4.1 1.5.2-2 .2 2.3.2-1.7.1-.2.2-.1.2-.1.2.7.1-.5.2-.2.2.4.2 1.1.1-.2.2-1 .2-.1.2.8.1-.5.2-.2.2.3.1.5.2.4.2.1.2-.9.1-1.9.2.1.2 1.1.2-1.8.1 1.5.2-.4.2.3.2-1 .1 2 .2.1.2-.7.2-1 .1.7.2-.7.2 2.7.2-.8.1-.3.2-3 .2 2.6.2.7.1-1.5.2-.5.2-.1.1.3.2-.6.2.1.2 1.3.1-.7.2-.3.2.2.2.9.1-.5.2-.1.2-.8.2-.4.1 1.5.2-.8.2-.1.2-1.4.1 1.1.2-.2.2.5.2-.9.1 1 .2.6.2-1.3.2.5.1.3.2-2.1.2.4.1.6.2-1.7.2.8.2.5.1-1.4.2-.9.2.7.2-1.1.1-.4.2-1.6.2 1.4.2-.9.1 1.4.2-3.5.2 1.2.2 2 .1-1.8.2 0 .2 1.4.2-2.8.1 1.3.2-1.6.2 3.7.2.4.1-.5.2-1.3.2.6.1-.8.2 1.1.2-1.4.2.2.1 1.7.2-2.6.2 3.8.2-.4.1-1.5.2 1.5.2 1.1.2-1 .1 1.5.2 1.6.2-1.4.2-.1.1 2.5.2-2.1.2 2.7.2-.9.1.6.2.7.2-1.1.1 1.7.2.3.2-1.1.2.5.1.6.2-.1.2-.6.2-.5.1 1.1.2-.1.2.7.2-.1.1.2.2.5.2-.8.2 1.2.1-1 .2-.8.2.3.2 0 .1-.4.2-.7.2.3.2 0 .1-.7.2.6.2-.5.1-.3.2-.4.2-.4.2.4.1-.7.2.5.2-1.6.2-.7.1 1.3.2-.8.2.9.2-.3.1-2.6.2-.2.2 1.6.2.9.1-3.7.2 1.1.2.7.2-1 .1 2.1.2-3.9.2 1.2.2.2.1-.6.2-.3.2 2.3.1-1.5.2-2.3.2 1.6.2-2.4.1 1.6.2-2.1.2 1.6.2 0 .1.4.2-2.8.2 2.8.2-2.8.1 1.5.2.4.2-1.5.2.8.1-.8.2 1.3.2-3.5.2 0 .1 4.2.2-1.3.2-.8.2.7.1-3.7.2 3.4.2-3.4.1 2.2.2 2.4.2-1.8.2 1.6.1-.8.2 1 .2-3.2.2 1.6.1 1 .2-3.1.2 1.7.2-.2.1-1.3.2 1.4.2-1.6.2.3.1 1.9.2-1.4.2-.1.2-.7.1.3.2.8.2 1.1.2-3.2.1-.6.2 1.3.2-.5.1-4 .2 3.2.2 2.5.2-1.2.1-1.2.2 2.6.2-1 .2-3.4.1 5.3.2-1.5.2-.3.2-.3.1-1.2.2 0 .2-2.3.2 1.1.1 3.1.2-2.7.2.7.2-1 .1-.5.2-1.9.2.4.2-2.3.1 1.1.2 1.3.2 3.7.1-.6.2 2.1.2-3.4.2 1 .1-4.5.2-1.6.2 5.8.2-4.5.1 4.1.2 5.1.2-4.6.2-4.8.1 2.1.2 1.5.2 1.6.2-.3.1-1.8.2-3.1.2 8.1.2-6.7.1 1.5.2.2.2-5.5.2 1 .1.1.2-.5.2 1.7.1.3.2-3.2.2 1.7.2.7.1-1.8.2 2.3.2-4.3.2 5.3.1 1.5.2-6.5.2.3.2-1.5.1 7 .2 1.4.2-6.2.2 6.7.1 2.7.2-.9.2-2 .2-3.9.1 3.7.2-2.4.2 3 .1 2.2.2.7.2 1.6.2.7.1-1.4.2 1.3.2 1 .2.7.1.4.2-.4.2 2.4.2-.3.1-1.9.2 3.7.2-.8.2 2.4.1-.6.2.5.2 1.7.2.3.1-.6.2 1.1.2-1.2.2 1.8.1-1.1.2.9.2-1.5.1 1.3.2.6.2.5.2-.4.1-.4.2.4.2.5.2 1 .1-.6.2 1.1.2 0 .2.4.1-.8.2.4.2-1.6.2 1.3.1-.5.2-.3.2-.2.2-.9.1.5.2-.6.2-.7.2-.4.1-1.3.2 1.5.2-.5.1-.8.2-.1.2 1.4.2-.5.1-2.7.2 1.1.2 1.1.2-.7.1-.8.2 2.6.2-3.6.2 1.3.1-1.7.2 3.4.2-1.5.2-1.6.1.6.2.2.2-1.3.2-1.6.1.5.2 1.4.2-1.2.2-1.7.1 2.8.2 1.9.2-1.9.1-1.7.2 2.1.2-1.3.2.6.1-1.8.2-.9.2 2.4.2-1.1.1.1.2 0 .2.3.2-.1.1-2.3.2 1.4.2 1.7.2 0 .1-2.7.2 1.3.2.6.2.8.1-5.1.2 1.5.2 2.8.2-.5.1-1.1.2 1.4.2-.2.1-2.4.2 3 .2.3.2-1.6.1-1.7.2 3.7.2-2.6.2 3.5.1-1.5.2-.8.2-.4.2-1.6.1-.3.2.6.2 2.4.2-1.3.1-.6.2 1.2.2-.1.2-1.3.1.7.2.9.2-1.5.2.1.1 4.2.2-3.8.2-1 .1 4.8.2-3.5.2 3.2.2-2 .1-.7.2-1.5.2.7.2-1.6.1 2.5.2-.4.2-1.1.2-1.8.1.6.2 2.6.2-.4.2-2.4.1 1.8.2 1.3.2 0 .2-1.1.1-1.5.2 1.2.2-.6.1-.8.2.6.2 2.2.2-2.6.1-1.2.2 2.1.2.7.2.9.1-2.4.2-.2.2 1.5.2-.3.1-.1.2-1 .2 3 .2-2.4.1.1.2 1.4.2-2 .2.7.1 1.2.2 1.1.2-1.3.2.8.1-1.9.2 0 .2 2.3.1 3 .2-.9.2-3.7.2 1.5.1.3.2-.4.2-.8.2 3.5.1-.7.2-.6.2-.7.2.9.1 1 .2-3.2.2 2.3.2-1 .1.6.2.7.2-.2.2 3.2.1-1.7.2 1.9.2-2.4.2 1.5.1-1 .2 0 .2.7.1.3.2-2.3.2 3.1.2-.1.1.2.2-.3.2-1.3.2 2 .1-.1.2-.1.2-.4.2.9.1-1.1.2.8.2.6.2.4.1.2.2.3.2-.3.2-.5.1 1.3.2-.4.2-.1.2.9.1-.5.2.8" fill="none" stroke="#000" stroke-width="1.15" stroke-linejoin="round"/>
<line x1="439.5" y1="651.2" x2="439.5" y2="697.4" stroke="#222" stroke-width="1.2"/>
<line x1="439.5" y1="697.4" x2="683" y2="697.4" stroke="#222" stroke-width="1.2"/>
<line x1="439.5" y1="686" x2="441.7" y2="686" stroke="#222" stroke-width="0.9"/>
<line x1="439.5" y1="674.6" x2="441.7" y2="674.6" stroke="#222" stroke-width="0.9"/>
<line x1="439.5" y1="663.1" x2="441.7" y2="663.1" stroke="#222" stroke-width="0.9"/>
<line x1="439.5" y1="651.7" x2="441.7" y2="651.7" stroke="#222" stroke-width="0.9"/>
<text transform="translate(434.5 668.3) scale(0.9495 1)" font-size="14.72" text-anchor="end">0.06</text>
<text transform="translate(434.5 691.2) scale(0.9495 1)" font-size="14.72" text-anchor="end">0.02</text>
<line x1="578.6" y1="593" x2="578.6" y2="555" stroke="#000" stroke-width="0.8"/>
<line x1="578.6" y1="697" x2="578.6" y2="678" stroke="#000" stroke-width="0.8"/>
<text transform="translate(401.6 569.2) rotate(-90) scale(0.95 1)" font-size="14.7" text-anchor="middle">5</text>
<text transform="translate(401.6 620.4) rotate(-90) scale(0.95 1)" font-size="14.7" text-anchor="middle">25</text>
<text transform="translate(401.6 667.3) rotate(-90) scale(0.95 1)" font-size="14.7" text-anchor="middle">48</text>
<text transform="translate(381.5 662.8) rotate(-90) scale(0.95 1)" font-size="14.7">sEMG<tspan font-size="14" dy="2.4">bp</tspan><tspan dy="-2.4"> ch #</tspan></text>
<text transform="translate(440.9 712.7) scale(0.9495 1)" font-size="14.72" text-anchor="middle">0</text>
<text transform="translate(473.5 712.7) scale(0.9495 1)" font-size="14.72" text-anchor="middle">50</text>
<text transform="translate(508.3 712.7) scale(0.9495 1)" font-size="14.72" text-anchor="middle">100</text>
<text transform="translate(543.1 712.7) scale(0.9495 1)" font-size="14.72" text-anchor="middle">150</text>
<text transform="translate(577.8 712.7) scale(0.9495 1)" font-size="14.72" text-anchor="middle">200</text>
<text transform="translate(612.6 712.7) scale(0.9495 1)" font-size="14.72" text-anchor="middle">250</text>
<text transform="translate(647.4 712.7) scale(0.9495 1)" font-size="14.72" text-anchor="middle">300</text>
<text transform="translate(680.2 712.7) scale(0.9495 1)" font-size="14.72" text-anchor="middle">350</text>
<text transform="translate(545.5 731.9) scale(0.9495 1)" font-size="14.72">Time (s)</text>
<rect x="592.8" y="534.6" width="89.6" height="35.3" fill="#fff" stroke="#2a2a2a" stroke-width="2.8"/>
<rect x="597.2" y="538.5" width="47.2" height="12.4" fill="#d95319" fill-opacity="0.5" stroke="#333" stroke-width="1" rx="0.6"/>
<text transform="translate(646.4 548.7) scale(0.9495 1)" font-size="14.72">syn 1</text>
<rect x="597.2" y="555.6" width="47.2" height="12.4" fill="#edb120" fill-opacity="0.5" stroke="#333" stroke-width="1" rx="0.6"/>
<text transform="translate(646.4 565.8) scale(0.9495 1)" font-size="14.72">syn 2</text>
<text transform="translate(718.9 540.4) scale(0.9174 1)" font-size="17.99" font-weight="bold">H</text>
<line x1="800.1" y1="548.2" x2="800.1" y2="594.2" stroke="#b0b0b0" stroke-width="0.7" stroke-dasharray="1,1.3"/>
<line x1="834.7" y1="548.2" x2="834.7" y2="594.2" stroke="#b0b0b0" stroke-width="0.7" stroke-dasharray="1,1.3"/>
<line x1="869.4" y1="548.2" x2="869.4" y2="594.2" stroke="#b0b0b0" stroke-width="0.7" stroke-dasharray="1,1.3"/>
<line x1="904" y1="548.2" x2="904" y2="594.2" stroke="#b0b0b0" stroke-width="0.7" stroke-dasharray="1,1.3"/>
<line x1="938.7" y1="548.2" x2="938.7" y2="594.2" stroke="#b0b0b0" stroke-width="0.7" stroke-dasharray="1,1.3"/>
<line x1="973.3" y1="548.2" x2="973.3" y2="594.2" stroke="#b0b0b0" stroke-width="0.7" stroke-dasharray="1,1.3"/>
<line x1="1008" y1="548.2" x2="1008" y2="594.2" stroke="#b0b0b0" stroke-width="0.7" stroke-dasharray="1,1.3"/>
<line x1="765.4" y1="548.2" x2="1008" y2="548.2" stroke="#d8d8d8" stroke-width="0.6" stroke-dasharray="1,1.5"/>
<path d="M765.4 594.2l88.8 0 .4-.1.3 0 .4-.1.3 0 .4-.1.3 0 .4-.1.3-.1.7 0 .4-.1.7 0 .3-.1.4 0 .3-.1.3.1.4-.1.3.1.4-.1.3-.2.4.1.3-.1.7 0 .4-.1.3-.1.4.1.3 0 .4-.2.3-.1.4 0 .3-.1.3.2.4.1.3 0 .4.1.3.2.4 0 .3.1.4 0 .3.2.4.1.3.1 2.1 0 .3-.1.4 0 .3.1.4-.5.3-1.1.4-1 .3-.8.4-1 .3-.9.4-1.1.3-.6.4-1.3.3-.8.4-.7.3-.7.4-.5.3.5.3-.5.4-1.2.3.6.4.5.3-.6.4.2.3-1 .4-.3.3-1.1.4.5.3-.1.4-.6.3.8.4 1.4.3-.5.4.6.3 0 .3-.6.4-.6.3 1.8.4.9.3 1 .4-.3.3-.6.4 1.5.3-.5.4-.1.3.1.4-.8.3 1 .4-.3.3.5.4-.6.3.1.4-.6.3 0 .3.1.4.2.3.9.4.5.3.8.4 1 .3 1.3.4 1.6.3.6.4.9.3.5.4.7.3.3.4.1.3.1.7 0 .3.1.4.1.3 0 .4.1.3 0 .4.1.3 0 .4.1.7 0 .3.1.4 0 .3.1 107.6 0z" fill="#edb120" fill-opacity="0.5" stroke="#222" stroke-width="0.6"/>
<path d="M765.4 594.1l.2-.1.1 0 .2.2.2-.2.2.2.1-.1.2-.1.2.2.3 0 .2-.2.2.2.2-.6.1.6.2-.2.2-.1.1.3.6 0 .1-.1.2-.4.2.5.2-.3.1-.3.2.5.2.1.2-.7.1.7.2-.8.2.6.1 0 .2-.2.2 0 .2.4.3 0 .2-.3.2.3.1-.5.2.2.2.1.2.2.1-.3.2.3.2-.7.2.3.1.4.2-.3.2-.1.1.2.2-.5.2.6.2-.4.1.5.2-.2.2-.2.2.3.1.1.2-.4.2 0 .2.2.1-.2.2.4.2 0 .1-.5.2.4.2-.1.2-.1.1.3.2 0 .2-.4.2.1.1 0 .2.1.2.1.2.1.1-.1.2-.4.2.4.1-.1.2.2.2-.6.2.1.1.5.2-.2.2.2.2-.2.1.2.2-.3.2-.2.2.5.1 0 .2-.2.2-.1.5 0 .2.2.1-.1.2 0 .2-.1.2 0 .1.3.2 0 .2-.2.2.1.1-.1.2 0 .2.2.1-.4.2 0 .2.4.2-.1.1-.6.2.7.2-.5.2.5.1-.1.2 0 .2-.3.2.2.1.2.2-.3.2.1.1.2.2 0 .2-.2.2.2.1-.1.2.1.2 0 .2-.3.1-.2.2.3.2.2.2-.3.1-.1.2.2.2-.3.2-.1.1.6.2-.4.2-.1.1-.1.2.3.2-.1.2-.1.1.4.2-.2.2 0 .2.1.1.2.4 0 .2-.1.1-.2.2.3.7 0 .2-.3.1 0 .2.3.2-.3.2.3.1 0 .2-.2.4 0 .1.2.4 0 .1-.5.2.4.2 0 .2-.1.1-.2.2.1.2 0 .2.3.1-.1.2-.4.2.5.2-.1.1 0 .2-.3.2-.3.1.2.2.5.2-.3.2 0 .1.3.2-.1.2-.1.2-.2.1-.2.2.6.2-.2.2 0 .1.1.2.1.2 0 .1-.2.2.2.2-.4.2-.1.1.3.2-.1.2.1.2-.1.1.2.2 0 .2-.7.2.5.1.3.2-.2.2.2.2-.1.1 0 .2.1.2-.6.1.5.2 0 .2-.1.2.2.1 0 .2-.2.2-.2.2-.1.1.2.2.2.2-.1.2.2.1-.1.2.1.2-.2.1 0 .2.2.2-.4.2.1.1-.4.2.7.2 0 .2-.6.1.2.2.4.5 0 .2-.3.2.1.1-.3.2.5.2-.4.2.4.1-.3.2-.3.2.5.2-.5.1.6.6 0 .1-.2.2.2.2-.1.1-.1.4 0 .2.2.1-.1.2 0 .2.1.2 0 .1-.4.2.4.2-.2.2-.1.1.3.2 0 .2-.1.3 0 .2-.1.2-.1.1.2.2.1.2-.2.2 0 .1.1.2 0 .2.1.2-.3.1.3.2 0 .2-.4.1.1.2.3.2-.1.2-.1.1.1.2.1.4 0 .1-.1.2-.1.2-.1.2 0 .1.2.2-.7.2.3.2.3.1.2.2 0 .2-.5.1 0 .2-.1.2.4.2-.3.1.4.2-.4.2.1.2.4.1-.3.2-.2.2.5.2 0 .1-.3.2.3.2-.6.1.1.2.2.2.3.2-.4.1.4.4 0 .2-.3.1.1.2-.2.2-.2.2.6.1-.2.2-.3.2.2.1-.1.2.4.2-.4.2.3.1-.2.2.1.2 0 .2-.4.1.6.2-.1.2 0 .2.1.1-.3.2.1.2-.2.1.4.2-.3.2.3.2 0 .1-.2.2-.4.2.5.2 0 .1-.1.2-.1.2.3.2-.2.1.1.2-.3.2.3.1-.1.2-.1.2.1.2-.1.1.2.2.1.2-.3.2 0 .1.3.2-.1.2.1.2-.4.1.4.2-.2.2-.1.1-.3.2.2.2.3.2-.4.1.5.2-.1.2-.2.2 0 .1.1.2.2.2-.2.2-.3.1.5.2-.7.2.3.2.4.1-.1.2.1.2-.1.1-.4.2.2.2.3.2-.4.1.4.2-.3.2.3.2-.3.1.3.2-.3.2.1.2.1.1-.4.2.2.2.1.3 0 .2.2.2-.1.1.1.2-.7.2.6.2-.1.1-.2.2.4.2-.2.2.1.1-.4.2.3.2-.3.1.2.2-.2.2.1.2.1.1.1.2-.2.2.2.2-.3.1.2.2-.1.2.2.2-.2.1.4.2 0 .2-.4.1-.1.2 0 .2.2.2.3.1 0 .2-.5.2.3.2.1.1.1.2-.3.2.3.2 0 .1-.3.2.1.2.1.1-.1.2.2.2-.2.2.2.1-.3.2.2.2.1.2-.1.1-.2.2.2.2-.2.2.3.1-.2.2-.2.2.2.2-.1.1-.3.2.4.2.2.1-.1.2.1.2-.2.2.1.1.1.2-.1.2-.4.2.3.1.2.2-.5.2 0 .2.3.1.2.2-.6.2.3.1-.1.2.2.2.2.2-.6.1.4.2-.1.2.3.2-.1.1 0 .2-.2.2-.1.2.3.1.1.2-.3.2.2.1-.3.2.4.2-.4.2.4.1 0 .2-.1.2-.1.2-.2.1.2.2.2.2-.6.2.6.1-.3.2 0 .2.1.1-.2.2.1.2.2.2.1.3 0 .2-.2.2.2.5 0 .2-.3.1.3.2-.2.2-.2.1.2.2 0 .2.2.2-.2.1-.2.2.4.2-.2.2.2.1 0 .2-.2.2-.1.2-.3.1.3.2.2.2-.2.1 0 .2-.2.2.5.2-.4.1.2.2.2.2-.6.2.6.1-.3.2.1.2 0 .2.1.1-.6.2.7.4 0 .1-.5.2.4.2-.3.1.4.2-.5.2.5.2 0 .1-.2.2-.3.2.5.2-.1.1.1.2-.2.2.1.2-.4.1.3.2-.2.2-.1.1.3.2.2.2-.4.2.1.3 0 .2-.4.2.6.1.1.2-.2.2.2.2-.3.1.3.2-.5.2.3.1-.2.2.4.2-.4.2 0 .1.4.2 0 .2-.8.2-.8.1-.6.2-.5.2-.7.2-.5.1-1 .2-.8.2.5.1-.6.2 0 .2-.9.2-.3.1-.6.2.1.2-2.3.2 3.4.1-3.5.2-1.4.2.3.2.1.1 1.1.2-3.7.2-2.7.1.6.2.6.2-3.8.2-.9.1.7.2-1.4.2-6 .2-3.4.1 1.8.2-5.9.2 2.7.2-3.4.1 7.1.2-2.6.2 3.3.2-3.9.1 2.5.2-11.6.2 5.8.1-4.2.2 6.9.2-2.8.2 8.8.1-6.2.2 4.9.2-2.5.2 2.6.1 9.2.2-14.1.2 9.1.2.7.1 1 .2-4.5.2 3.5.1-2.1.2-3 .2 2.6.2.6.1-.5.2 5.3.2-6.1.2-3.1.1 9.7.2-4.7.2.8.2-1.1.1 6.9.2-5.9.2 2.4.1 6.2.2-1.4.2-1.5.2.4.1 1.9.2 1.8.2-2 .2-1 .1 5 .2 1.6.2-3 .2-.5.1 1.8.2-1.7.2 1.2.1-1.8.2.9.2 1.7.2-.7.1 1.8.2-2.3.2 1.6.2-1.7.1 1.9.2 1.4.2-2.9.2 1.1.1-.1.2-.3.2 3.1.1-.1.2-.2.2 1.7.2.8.1-1.3.2.2.2.8.2 0 .1.8.2.5.2.4.2 1.2.1-.4.2.1.2-.2.1 1.3.2-.1.2.5.2-.1.1-.1.2.3.2.4.2-.1.1.1.2.6.2-.7.2.3.1.3.2-.1.2.2.2 0 .1-.3.2.1.2.1.1 0 .2-.2.2.3.2-.1.1-.2.2.3.2-.4.2.3.1.2.2-.6.2.1.2.4.1-.1.2-.2.2.1.1.3.2-.6.2.3.2.1.1-.1.2-.4.2.1.2.6.1 0 .2.1.2-.6.2.4.1-.1.2-.2.2-.1.1.1.2-.1.2-.3.2.5.1-.3.2-.2.2.8.2-.1.1 0 .2-.4.2-.1.2.2.1.2.2.3.2-.3.1-.3.2-.1.2.1.2 0 .1-.2.2.5.2-.2.2-.2.1-.1.2.2.2.2.2-.3.1.2.2.4.2-.7.1.3.2 0 .2-.2.2.3.1-.1.2.4.2-.3.2 0 .1.2.2 0 .2-.2.2-.3.1.3.4 0 .2-.2.1 0 .2.1.2.2.1 0 .2-.4.2.4.2-.3.1-.1.2.5.2-.4.2.2.1.2.2-.5.2.3.2.3.1-.3.2-.1.2.1.1.1.2-.2.2.1.2.1.1.3.2-.6.2.1.2.5.1-.5.2 0 .2.1.2-.2.1-.1.2.5.2-.5.1.2.2.2.2-.2.2.2.1.2.2-.4.2-.4.2.4.1.2.2-.3.2.2.2 0 .1-.1.2.3.2.1.1-.2.2.2.2.1.2-.7.1.5.2-.2.2.3.2-.5.1.1.2.1.2-.2.2.4.1-.4.2.6.2-.5.1.1.2.4.2-.7.2.3.1-.1.2.4.2-.4.2.3.1-.3.2 0 .2-.2.2.1.1.3.2.3.2-.7.1.1.2.2.2 0 .2-.1.1-.2.2-.3.2.6.2 0 .1-.1.2.2.2.2.2-.3.1-.1.2.2.2 0 .2-.5.1.2.2.3.2-.1.1-.2.2-.1.2 0 .2.7.1-.3.2-.2.2-.1.2.6.1-.4.2 0 .2-.2.2 0 .1-.1.2.6.2-.3.5 0 .2.1.1 0 .2-.1.2-.2.2.3.1-.1.2-.3.2-.1.2.5.1-.5.2.4.2.2.1.1.2-.1.2 0 .2-.2.1.4.2-.1.2-.4.2.5.1-.6.2.4.2-.1.2.1.1-.3.2 0 .2-.2.1.7.2-.4.2.2.2.1.1-.3.2-.3.2.7.2-.2.1-.2.2.1.2.2.2-.2.1-.1.2.1.2-.3.1.3.2-.1.2-.1.2.3.1-.1.2.1.2 0 .2-.2.1 0 .2-.3.2.5.2-.5.1.4.2.2.2-.4.2.5.1-.6.2.4.2-.2.1-.4.2.4.2-.2.2.1.1.4.2-.1.2-.1.2-.2.1.3.2-.4.2.5.2-.2.1.3.2-.5.2.3.1.2.2-.4.2 0 .2-.3.1.4.2-.4.2.6.2-.2.1.2.2.1.2-.4.2 0 .1.1.2.3.2-.4.1-.1.2.5.2-.4.2.4.1-.2.2 0 .2-.3.2.2.1-.2.2.3.2-.2.2-.2.1 0 .2.2.2.4.1-.5.2-.2.2 0 .2.5.1-.8.2.6.2-.1.2.3.1.1.2.1.2-.3.2-.1.1-.1.2.1.2.1.1-.4.2.3.2.1.2 0 .1.3.2-.6.2.2.2.4.1-.4.2-.2.2.1.2.4.1.1.2-.3.2-.2.1.5.2-.3.4 0 .1.1.2 0 .2-.3.2 0 .1.3.2-.1.2 0 .2.1.1.1.2-.2.2.2.2-.8.1.3.2-.3.2.5.1.1.2-.1.2 0 .2-.2.1.3.2-.3.2.1.2.3.1.2.2-.2.2 0 .2.2.1 0 .2-.4.2-.2.1.1.2.2.2.3.2-.1.1-.1.2-.1.2.2.2-.2.1-.1.2 0 .2.3.2-.1.1.1.2-.1.2-.4.1.1.2.1.2.1.2-.1.1.1.2-.2.2.2.2.1.1-.5.2.5.2-.1.2 0 .1-.2.2.4.2-.1.1.1.2-.2.2 0 .2.1.1.1.2-.1.2-.3.2.2.1-.3.2.5.2.1.2-.3.1-.2.2-.1.2.4.1-.4.2.6.2-.4.2-.4.1.7.2-.2.2.2.2 0 .1-.1.2-.5.2.4.2-.1.1.2.2-.4.2.6.1-.3.2-.1.2 0 .2-.3.1.5.2 0 .2-.4.2 0 .1.2.2-.1.2.3.2.2.1-.3.2 0 .2.1.2.2.1-.1.2-.2.5 0 .2.2.2-.2.1-.1.2.2.2-.2.2.4.1 0 .2-.2.2.1.2-.2.1.1.2.2.2 0 .1-.3.2 0 .2.3.2-.2.1.1.2 0 .2-.3.2.2.1-.3.2.3.2.2.2-.1.1.1.2-.8.2.5.1.3.2 0 .2-.1.2-.1.1-.2.2.1.2.3.2-.6.1.6.2-.7.2.6.2.1.1-.2.4 0 .1.2.2-.2.2-.2.2.2.1.2.2-.3.2.2.2-.2.1.2.2 0 .2-.3.2.3.1.1.2-.5.2.3.1-.2.2.2.4 0 .1-.2.2-.1.2.4.2-.2.1 0 .2-.1.2.2.2.1.1.1.2-.1.2-.2.2-.2.1.1.2.3.2.1.1-.2.2-.1.2-.1.2.3.1-.3.2.3.2-.3.2-.1.1.2.2.3.2 0 .2-.7.1.5.2.2.2-.2.1.1.2.1.2-.5.2.4.1.1.2 0 .2-.3.2-.1.1-.1.2.4.2.1.2-.2.1 0 .2.1.2 0 .1-.3.2.4.2-.1.2.1.1-.1.2-.1.2-.2.2.2.1 0 .2-.1.2-.1.2-.1.1.5.2-.3.2.3.1-.3.2 0 .2.1.2-.5.1.7.2-.4.2.2.2-.1.1-.1.2.1.2.1.2.1.1.1.2-.6.2.4.1.1.2-.1.2-.1.2.2.1-.1.2-.2.2.4.2-.3.1-.2.2.2.2.3.2-.1.1-.3.2.2.2.1.1-.6.2.3.5 0 .2.1.2.1.2.1.1.1.2-.1.2-.2.2.2.1-.4.2.4.2-.3.2.2.1.1.4 0 .1-.3.2-.3.2.7.2-.6.1.6.2-.2.2-.4.2.5.1-.1.2 0 .2.1.2-.2.1.3.2-.2.2.2.3 0 .2-.4.2-.4.1.4.2 0 .2.3.2-.1.1-.1.2.1.4 0 .1.1.2 0" fill="none" stroke="#000" stroke-width="1.0" stroke-linejoin="round"/>
<path d="M765.4 594.1l.2-.2.1.2.2-.1.2 0 .2.2.1-.2.2.1.2-.2.2.3.1-.2.2-.1.2.1.2.2.1-.1.2.1.2-.6.1.3.2.2.2.1.2-.5.1.5.2-.4.2.4.2 0 .1-.5.2.3.2.2.2-.5.1.5.2-.5.2.5.3 0 .2-.2.2 0 .1.2.2-.1.2.1.2-.1.1-.2.2.2.2.1.3 0 .2-.2.2.1.2.1.1-.5.2.4.2-.1.1.2.2-.1.2-.1.3 0 .2-.1.2 0 .2.2.1-.3.2.3.2 0 .2-.5.1.2.2.1.2.1.1.2.2-.4.2.4.2-.2.1.2.6 0 .1-.3.2.3.2-.3.2.3.1 0 .2-.1.2-.3.1-.5.2.6.2.2.2.1.1 0 .2-.4.2.2.2-.1.1.3.2-.5.2.4.2.1.1-.2.2.2.2 0 .1-.5.2.1.2.4.2-.4.1.1.2 0 .2-.3.2.6.1-.2.2.2.2-.7.2.4.1.3.2-.3.2.3.1-.1.2.1.2-.5.2.4.1.1.2-.3.2.2.2-.1.1.1.2.1.2 0 .2-.5.1.5.2-.1.2-.1.1-.4.2.3.2.1.2-.3.1.1.2.4.2-.4.2.3.1-.2.2 0 .2.3.2-.5.1.1.2.4.5 0 .2-.4.2.4.1-.2.2-.1.2 0 .2.3.1-.6.2.5.2.1.2-.4.1.3.2-.4.2.4.2-.2.1.2.2-.3.2.2.1-.1.2.3.2-.7.2.6.1.1.2-.3.2-.1.2.4.1-.1.2.1.2-.3.2.3.3 0 .2-.1.1-.1.2.1.2 0 .2-.2.1.3.2-.3.2.2.2-.1.1.2.2 0 .2-.1.2-.1.1.2.2-.6.2.1.1.3.4 0 .2.2.1-.1.2-.5.2.6.2-.3.1.1.2.2.2-.2.2-.2.1.4.2 0 .2-.1.1-.1.2.2.2 0 .2-.3.1.3.2 0 .2-.3.2.3.1-.1.2.1.2 0 .2-.1.1 0 .2-.2.2-.1.2.1.1.3.2-.1.2-.4.1.4.2 0 .2.1.2-.4.1.1.2.2.2-.2.2-.2.1.3.2-.1.2.2.3 0 .2-.4.2.2.1 0 .2.2.2-.5.2.3.1.3.2-.1.2-.2.2.3.1-.6.2.5.2.1.2-.2.1.1.2 0 .2-.2.1.3.2-.5.2.3.2-.3.1.5.2-.2.2.2.5 0 .2-.3.2-.1.1.1.2.3.2-.1.1-.1.2.1.2-.3.2 0 .1.3.2-.1.2.2.2-.5.1.3.2-.6.2.8.2-.7.1.5.2.2.2 0 .1-.4.2.3.2-.4.2.5.1-.2.2.2.2-.2.2.1.1-.2.2.1.2.1.2-.4.1.5.2-.3.2.2.1.1.2-.1.2.1.2 0 .1-.1.2-.1.2-.2.2-.1.1.1.2.4.2-.1.2-.4.1.1.2.4.2-.2.2.2.1-.1.2-.3.2.2.1.2.2-.6.2.3.2.1.1-.1.2 0 .2-.2.2.4.3 0 .2-.5.2.1.1.1.2.4.2 0 .1-.1.2 0 .2.1.2-.3.1.3.2-.1.2-.6.2.6.1.1.2 0 .2-.2.2.2.1-.3.2.3.2-.2.1-.3.2 0 .2.1.2.2.1.2.2-.3.2.1.2-.1.1.3.2 0 .2-.5.2.1.1.1.2.1.2-.3.1.5.4 0 .2-.2.1.2.2-.5.2.1.2.2.1-.2.2.2.2-.4.2.6.1 0 .2-.1.2-.4.1.2.2 0 .2-.1.2.4.1-.4.2.2.2 0 .2.2.1-.1.2.1.2-.1.2.1.1-.1.2.1.2-.1.1 0 .2.1.2-.3.2.3.1-.2.2-.2.2.2.2-.4.1.1.2.4.2-.2.2 0 .1.2.2-.5.2.4.2-.1.5 0 .1.3.2-.3.2-.1.2-.1.1.4.2-.5.2.4.2.2.1-.8.2.8.2-.1.2.1.1-.7.2 0 .2.2.1.2.2.1.2.1.2-.3.1.3.2 0 .2-.1.2.2.1-.4.2.4.2-.3.2.2.1.1.4 0 .1-.1.2.1.2-.1.2.1.1-.2.2-.2.2-.3.2.3.1.4.2-.2.2.2.2 0 .1-.1.2.1.2-.1.1-.3.2 0 .2.4.2 0 .1-.1.2-.3.2.4.3 0 .2-.5.2-.1.2.4.1.2.2-.1.2-.5.1.6.2 0 .2-.3.2.2.1-.3.2.3.2-.3.2.3.1-.2.2-.2.2.5.2-.2.1-.1.2-.1.2.4.2-.1.1.1.2-.3.2-.1.1.4.2-.3.2.3.2-.7.1.7.2 0 .2-.1.2-.1.1.2.2-.4.2.1.2.1.1-.4.2.5.2.1.1-.3.2.3.2-.6.2.6.1 0 .2-.2.2 0 .2.1.1.1.2-.5.2.4.2-.1.1.2.2 0 .2-.3.1 0 .2-.1.2.1.2-.1.1.4.2-.3.2-.2.2.2.1-.2.2.4.2-.1.2 0 .1-.2.2.2.2.2.1-.2.2-.3.2-.1.2.3.1-.4.2.2.2.5.2-.2.1-.1.2-.2.2-.2.2-.1.1 0 .2.5.2-.2.1-.1.2.3.2 0 .2-.1.1-.4.2.3.2-.2.2-.4.1 0 .2.4.2.1.2-.7.1.9.2-.3.2.7.1-.5.2-.2.2.3.2-.1.1-.3.4 0 .2.1.1-.2.2 0 .2.4.2-.5.1.5.2-.4.2.3.2-.4.1.5.2-.2.2 0 .1-.3.2.1.2.2.2.2.1-.6.2.2.2-.2.2-.1.1.4.2-.4.2 0 .2.5.1-.4.2.1.2 0 .1.3.2-.4.2.3.2-.5.1.4.2.1.2.1.2-.3.1-.2.2.1.2-.3.2.7.1-.6.2.5.2-.3.1-.5.2-.1.2.3.2.6.1-.6.2-.1.2-.6.2-.3.1-1.8.2.9.2-.9.2-1.5.1 1.4.2-.5.2-1.4.1-.8.2-2 .2.1.2-1.4.1 2.5.2-1.3.2 1.5.2-4 .1-1.7.2 1.7.2-.4.2-1.7.1.9.2-1.5.2-2.4.1-1.9.2-.8.2 1.3.2-6.6.1 0 .2-2.5.2-6.2.2 7.6.1-12.2.2-1.5.2 1.3.2 1.6.1-9.4.2 9.9.2 3 .2-10.9.1-2 .4 0 .1.7.2-.7.2 14.5.2-11.9.1 4.3.2 4.7.2-1.1.2-7.1.1-2.8.2 11 .2-1.5.2.2.1-3.6.2-6.7.2 24.9.1-19.8.2 5.4.2.4.2 3.8.1 7.3.2-9.8.2 1 .2 6.4.1 3 .2-3.9.2-1.8.2 4.1.1 3.1.2 2.2.2-4.1.1.7.2-1.1.2 3.1.2.7.1 0 .2 7.9.2-4.8.2 4.1.1.6.2-1.6.2 1 .2.6.1-1.9.2 3.4.2-1.7.1 1.5.2-3.6.2 4.4.2-.7.1-.8.2-3.2.2 2.6.2.5.1.6.2-.8.2.8.2 1.5.1-.6.2-.3.2 1.6.1.7.2-1.9.2-.3.2 4.1.1-2 .2.6.2 2.2.2-1.4.1 3 .2-1.1.2.6.2 2.7.1-1.1.2-.1.2.3.1-.1.2.9.2.6.2.3.1 0 .2.2.2.3.2-.5.1.5.2.3.2-.5.2.1.1.2.2.3.2-.3.2 0 .1.2.2.4.2.1.1-.2.2-.3.2.4.2.1.1-.5.2.3.2-.2.2.4.1-.1.2-.1.2-.3.2.1.1 0 .2.3.2-.3.1 0 .2.1.2 0 .2.3.3 0 .2-.1.2.1.1-.2.2-.1.2 0 .2.1.1.2.2-.1.2.1.1-.3.2-.3.2.5.2 0 .1-.6.2.6.2.1.2-.4.1.4.2-.3.2.3.5 0 .2-.1.1-.2.2 0 .2-.1.2.2.1.1.2.1.2-.2.2-.2.1-.3.2.3.2.3.2.1.1 0 .2-.7.2.2.1.5.2-.2.2.1.2.1.1-.5.2.5.2-.1.2.1.1-.3.2-.3.2.5.2-.2.1-.2.2.3.2.1.2-.3.1.2.2-.4.2.4.1-.1.2.2.2-.2.2.3.1 0 .2-.3.2.2.2-.2.1.3.2-.2.2.2.2-.6.1.4.2 0 .2.1.1-.1.2.1.4 0 .1-.4.2 0 .2.3.2.2.1-.3.2.3.2-.4.2-.2.1.6.2-.4.2.2.1.2.2-.5.2.3.2.2.1-.4.2.4.2-.3.2.3.1 0 .2-.5.2.4.2.1.1-.2.2-.1.2-.4.1.7.4 0 .2-.2.1.2.2 0 .2-.3.2-.1.1.2.2-.2.2 0 .2-.1.1.3.2-.3.2.2.1.2.2-.4.2.2.2.1.1-.3.2.1.2.4.2-.6.1.3.2.3.2-.4.2-.1.1 0 .2.3.2.2.1-.4.2.4.2-.6.2.4.1 0 .2-.4.2.3.2-.1.1 0 .2.4.2 0 .2-.1.1 0 .2-.3.2.3.2-.2.1.2.2.1.2-.2.1.2.2-.1.2-.3.2.3.1-.1.2.2.2-.4.2-.1.1.4.2 0 .2.1.2-.3.1 0 .2-.4.2.7.1-.5.2.4.2-.3.2.4.1-.3.2.3.2-.3.2-.4.1.5.2-.1.2 0 .2-.4.1.3.2.4.2-.1.1-.2.2 0 .2-.4.2.7.1 0 .2-.7.2.7.2-.1.1-.4.2.5.2-.2.2-.4.1.6.2-.1.2 0 .1-.1.2.2.2-.3.2.1.1-.1.2.2.2-.1.2.1.1.1.2 0 .2-.5.2.1.1.1.2.1.2 0 .1.2.2-.6.2.3.2.3.1-.2.2.1.2-.3.3 0 .2.2.2.2.2 0 .1-.4.2-.1.2.5.2-.5.1.2.2-.3.2.3.1.3.2 0 .2-.1.2 0 .1-.4.2.2.2.3.2-.4.1.4.2 0 .2-.2.2-.2.1.2.2.1.2-.1.1 0 .2-.2.2.1.2-.3.1.5.2-.2.2.1.2.1.1-.5.2.3.2 0 .2.2.1-.1.2.2.3 0 .2-.2.2-.1.2.1.1-.3.2.2.2.3.2-.4.1.1.2.3.2-.2.2-.1.1.2.2 0 .2.1.1-.5.2.1.2 0 .2.4.1-.1.2.1.2-.5.2.1.1.3.2.1.2 0 .2-.5.1.4.2.1.2-.8.1.8.2 0 .2-.5.2.5.1-.4.2.2.2.2.2-.2.1 0 .2.1.2-.2.2-.2.1.1.2 0 .2.2.1.1.2-.4.2 0 .2.1.1.2.2-.1.2.2.2.1.1-.2.2-.3.2.5.3 0 .2-.3.2 0 .2.3.1-.6.2.5.2-.1.1.2.2-.1.2-.4.2.4.1.1.2-.2.2-.3.2.5.1-.4.2 0 .2.1.2.1.1-.3.2.5.2 0 .1-.2.2.2.2-.1.2.1.1-.1.2.1.2-.1.2.1.1-.3.2.2.2.1.2-.1.1-.3.2.4.2-.4.1.2.2 0 .2-.5.2.4.1.1.2.2.2-.6.2.6.1-.4.2-.1.2.2.2.2.1.1.2-.3.2.1.1.1.2.1.2-.2.2 0 .1.2.2-.2.2.2.2-.4.1.2.4 0 .2.1.1.1.2-.2.2.2.1-.4.2.2.2-.2.2.3.1.1.2-.1.2 0 .2.1.1 0 .2-.1.2.1.2-.4.1.4.2-.3.2.3.1-.1.2-.2.2.3.2-.3.1-.1.2.1.2.2.2-.1.1 0 .2-.2.2-.3.2.5.1.2.2-.6.2.6.2-.4.1.2.2-.2.2.3.1.1.2-.5.2.5.2 0 .1-.7.2.6.2-.4.2.2.1-.1.2-.1.2.2.2.1.1-.2.2-.1.2.4.1.1.2-.1.2-.2.3 0 .2-.2.2.1.2.3.1.1.2-.1.2-.1.2 0 .1.2.2-.4.2.1.1-.1.2.4.4 0 .1-.2.2-.2.2.4.2-.4.1-.3.2.7.4 0 .1-.2.2-.4.2.5.1 0 .2.1.2 0 .2-.3.1.3.2-.2.2.1.2.1.1-.4.2.3.2.1.2 0 .1-.4.2.2.2-.5.1.6.2 0 .2-.1.2.2.1-.1.2-.2.2-.3.2 0 .1.6.2-.3.2.2.2 0 .1-.5.2-.3.2.9.2-.6.1.5.2.1.2-.3.1.3.2-.4.2.2.2.1.1-.3.2.4.2-.2.2 0 .1.2.2-.1.2.1.2-.1.1-.3.2.4.2 0 .1-.1.2-.5.2.1.2 0 .1.1.2.2.2-.6.2.5.1.3.6 0 .1-.2.2-.3.2.2.1.3.2-.5.2-.2.2.6.1-.3.2.1.2-.2.2.3.3 0 .2.2.5 0 .2-.3.1-.2.2.5.2-.2.2.2.1 0 .2-.3.2-.1.2.3.1-.3.2.3.2-.3.2.3.3 0 .2-.1.1 0 .2-.1.2-.1.2.4.1-.2.2.1.2.1.2-.4.3 0 .2.4.2 0 .1-.4.2 0 .2.2.1 0 .2-.1.2.3.2-.3.1.2.2.1.2-.1.2-.1.1.1.2.1.2-.1.2-.7.1.3.2.5.2-.3.2 0 .1.2.2-.1.2.2.1-.1.2 0 .2-.3.2.3.1.1.2-.1.2-.2.2-.2.1.3.2.2.2 0 .2-.2.1.2.2-.1.2-.3.1.1.2.3.4 0 .1-.4.2.4.2 0 .2-.3.1.2.2-.2.2.2.2 0 .1-.1.2 0" fill="none" stroke="#000" stroke-width="1.2" stroke-linejoin="round"/>
<line x1="765.4" y1="548.2" x2="765.4" y2="594.2" stroke="#222" stroke-width="1.2"/>
<line x1="765.4" y1="548.2" x2="767.9" y2="548.2" stroke="#222" stroke-width="1"/>
<line x1="765.4" y1="594.2" x2="1008" y2="594.2" stroke="#222" stroke-width="1.2"/>
<line x1="765.4" y1="571.7" x2="767.6" y2="571.7" stroke="#222" stroke-width="0.9"/>
<text transform="translate(761.5 576.9) scale(0.9495 1)" font-size="14.72" text-anchor="end">0.5</text>
<text transform="translate(761.5 599.4) scale(0.9495 1)" font-size="14.72" text-anchor="end">0</text>
<line x1="800.1" y1="603.1" x2="800.1" y2="648" stroke="#b0b0b0" stroke-width="0.7" stroke-dasharray="1,1.3"/>
<line x1="834.7" y1="603.1" x2="834.7" y2="648" stroke="#b0b0b0" stroke-width="0.7" stroke-dasharray="1,1.3"/>
<line x1="869.4" y1="603.1" x2="869.4" y2="648" stroke="#b0b0b0" stroke-width="0.7" stroke-dasharray="1,1.3"/>
<line x1="904" y1="603.1" x2="904" y2="648" stroke="#b0b0b0" stroke-width="0.7" stroke-dasharray="1,1.3"/>
<line x1="938.7" y1="603.1" x2="938.7" y2="648" stroke="#b0b0b0" stroke-width="0.7" stroke-dasharray="1,1.3"/>
<line x1="973.3" y1="603.1" x2="973.3" y2="648" stroke="#b0b0b0" stroke-width="0.7" stroke-dasharray="1,1.3"/>
<line x1="1008" y1="603.1" x2="1008" y2="648" stroke="#b0b0b0" stroke-width="0.7" stroke-dasharray="1,1.3"/>
<line x1="765.4" y1="603.1" x2="1008" y2="603.1" stroke="#d8d8d8" stroke-width="0.6" stroke-dasharray="1,1.5"/>
<path d="M765.4 648l5.2 0 .4-.2.3-6 .3-8.8.4-5.6.3-4.8.4-2.1.3-2.1.4-.7.3 3.3.4-2 .3-.1.4 2.3.3-2.6.4 1.6.3-1.3.4.5.3 2.9.4-6 .3 2.9.3-1.6.4.1.3-3.8.4 2 .3 2.1.4.2.3-3.5.4 4.2.3-4 .4 6.1.3-5.2.4 1.8.3.9.4 1.7.3-2.5.4 1.2.3-1.8.3-.7.4 1.2.3.7.4-3.6.3.9.4 6.9.3-4.5.4-.2.3 2 .4-1.6.3 2.6.4-1.3.3-3.7.4 3.8.3.1.4 2.6.3-1 .3-2.5.4 3.8.3 3.3.4 11.1.3 4.3.4 5.8.3.1.4-.1.3.1.4.1.3-.1.4.1 1 0 .4.1.6 0 .4.1.3-.1.4.1.3.1.4-.1.3.1.4.1.3-.1.4 0 .3.1.4 0 .3.1 1.1 0 .3.1 1 0 .4.1.3 0 .4-.7.3-4.7.4-5.1.3-5.3.4-1.1.3-5 .4 1 .3 1 .4-.3.3-.7.4 0 .3 1.2.3-1.2.4 1.9.3-3.7.4-.4.3.6.4.6.3.9.4 1.1.3.3.4.2.3-1.7.4-.5.3 1.1.4 1.4.3 0 .4-.6.3.5.3 1.4.4-.9.3 1.1.4.1.3-.4.4.1.3 1.3.4-2.4.3.2.4-.8.3 3 .4-1.8.3-1.5.4.5.3 1.5.4-.5.3-.3.3-2.6.4 3.1.3-1.2.4-.5.3 2.4.4-.3.3-2.7.4 2.3.3.8.4-1.5.3 1.6.4.7.3-3 .4-.3.3.2.4 2.4.3-2.7.3.6.4-.4.3 1.4.4-1.1.3.5.4 2.4.3-.1.4-1.7.3 2.4.4-1.4.3 10.7.4 5.8.7 0 .3-.1.4.1.3.2.3-.1.7 0 .4.1.3 0 .4.1.7 0 .3.1 1.1 0 .3.1.4 0 .3.1.7 0 .3.1 1.1 0 .3.1.4-2.2.3-6.2.4-6.4.3-5.3.4-4.5.3-4.6.4-.1.3 3 .4-4 .3-3.3.4 2.9.3 2.8.3-5.5.4-.1.3-.3.4 2.4.3-3.4.4 4.8.3-1.7.4.2.3-.9.4-4.4.3 4.5.4-.5.3-.7.4.4.3 3.7.4-2.6.3.8.3-3.8.4 1.4.3 2 .4 1.1.3-3.9.4-1.8.3 7.3.4-1.5.3-3.2.4-1.8.3-.1.4.7.3 2.4.4-1.9.3-.2.4 3.4.3-2.8.3-2.3.4-1.2.3-.7.4 8 .3-4.1.4 2.4.3-1.2.4 4.1.3-4.1.4.1.3 3.5.4 1.2.3.4.4 6 .3 3.5.4 11.3.3 6.6.3.1.4 0 .3.1.4 0 .3.1.4 0 .3.1 145.8 0z" fill="#a2142f" fill-opacity="0.5" stroke="#222" stroke-width="0.6"/>
<path d="M765.4 648l37.1 0 .4-.4.3-2.1.4-2.7.3-2.4.4-1.7.3-.7.4-.2.3 1.2.4-1.2.3-1.8.4 0 .3-1.5.3-.7.4 1.5.3-.4.4.7.3-1.1.4-1.4.3 0 .4.6.3.3.4-1.6.3 1 .4 0 .3-.2.4-.7.3.7.4 0 .3-1.1.3.4.4.5.3-.2.7 0 .4-.8.3-.3.4 0 .3 2.2.4-1.5.3 1.8.4-2.5.3 1.1.4 1.5.3-2.1.4.1.3-1.8.3 2 .4 1.4.3-.9.4-1.2.3 0 .4-.3.3-.2.4 1.3.3.2.4-.3.3-.9.4 0 .3 1.7.4-1.5.3 1.2.4.2.3-.5.3.6.4-.4.3.2.4.5.3-1.7.4 2 .3 2.9.4 1.1.3 3.4.4 3 .3 1.8.4 1.9 179.4 0z" fill="#b97360" stroke="#222" stroke-width="0.6"/>
<path d="M765.4 648l.7 0 .3-.1 1.1 0 .3-.1 1.1 0 .3-.1 1.4 0 .4-.1 1.3 0 .4-.1.3-.1.4 0 .3-.1.4-.1.3-.1.4 0 .3-.1.4-.1.3-.1.4 0 .3-.1.4.1.3-.2.3.1.4-.2.3-.2.4 0 .3.1.4 0 .3-.2.4.1.3 0 .4.1.3-.1.4.3.3-.1.4 0 .3-.1.4.2.3-.4.3.3 1.1 0 .3.2 1.4 0 .4.1.3.1.4 0 .3.2.4.1.3.1.4.1.3.2.3.1.4.1.3.1.4.1 217.6 0z" fill="#d95319" fill-opacity="0.5" stroke="#222" stroke-width="0.6"/>
<path d="M765.4 648l.2-.3.1.2.2.1.2 0 .2-.5.1-.3.2.5.2.3.2-.2.1.2.2-.2.2 0 .2.2.1-.3.2 0 .2.1.1.2.2-.4.2.1.2 0 .1-.3.2.1.2.2.2.2.1-.4.2.1.2.2.2 0 .1-.1.2.1.2-.4.1.2.2-3.8.2-1.3.2-5.6.1-3.4.2-4.2.2-.3.2-10 .1-2.8.2 1.8.2 1 .2 1.5.1 1 .2.4.2-7 .2 5.6.1-1.5.2-3.9.2 5 .1-1.7.2-4 .2 4 .2-2.3.1 3.2.2-8.1.2 7.8.2 1.7.1 2.3.2-5.8.2-2.5.2-.2.1.7.2 1.4.2-1.5.1 5.1.2-6.2.2 2.8.2-8.7.1 7.2.2-1.2.2-4.5.2 5.6.1 2.1.2-1.2.2-3.3.2 5.6.1-4.6.2-4.9.2 7.3.1 1.8.2-3.7.2-6.6.2 9 .1 4.5.2-2.7.2-9.1.2 5 .1-6 .2 1.4.2 13.4.2-2.2.1-3.8.2-3 .2-2.9.1 6.2.2-2.7.2 2.1.2 6.7.1-9.5.2 5 .2-4.1.2-2.8.1-1.5.2-.6.2 1 .2 4 .1 1.9.2-2.5.2 3.4.1-4.5.2 10.5.2-8.9.2-5.6.1-1.4.2.5.2 9.3.2 2.1.1-6.5.2 4.3.2 10.3.2-8.2.1-.5.2-3.1.2 3.3.1-4.8.2-1.7.2 2.3.2 1.5.1 2.5.2-.1.2-7.8.2 2.4.1 5.6.2 2 .2-1.8.2-1.8.1.5.2 4.6.2-1.5.2-1.2.1 3.1.2 5.2.2-4.8.1 3.4.2 8.1.2 2.9.2.6.1 5 .2 3.6.2.1.2-.6.1.3.2.5.2-.5.2.2.1.2.2-.6.2.5.1-.4.2-.3.2.4.2 0 .1.5.2-.3.2-.1.2.2.1-.2.2.3.2-.2.2-.1.1.5.2-.4.2-.1.1.1.2-.2.2.2.2-.2.1.7.2-.9.2.1.2.3.1.3.2.2.2-.8.2.9.1-.3.2-.2.2.3.1-.3.2.2.2-.1.2.3.1-.4.2.6.2-.7.2-.2.1-.3.2.4.2.4.2-.5.1.2.2.4.2-.4.1 0 .2.1.2.2.2.1.1-.3.2.3.2-.3.2.1.1-.3.2.3.2-.2.2.1.1-.6.4 0 .2-.7.1-2.8.2-7.3.2-5.3.1.4.2-5.8.2 3.6.2-1 .1-5.5.2 4 .2-.8.2 1.3.1.6.2-3 .2 2.2.2-3.1.1 4.5.2-1.9.2 3.7.1-2.6.2-2.7.2 2.1.2-2.1.1 5 .2-8.9.2 5.3.2 5.3.1-4.9.2-4.5.2 4.5.2-1.2.1 4.4.2-.9.2-.8.1-3 .2 6.6.2-5.3.2.4.1-2.7.2 4.3.2-.7.2-6 .1 3.3.2 4.8.2-4.6.2-1.8.1 2.2.2 2.5.2-.6.1 2.2.2-2.7.2-1.5.2 1.7.1-2.5.2-3.1.2 3.9.2 3.2.1-1.2.2.6.2 1.1.2-2 .1-.3.2 4 .2-3.4.1 1.5.2 1.1.2-.4.2-3.2.1 1.4.2-3.5.2 1.9.2 5.5.1-4.5.2-1.6.2 6.1.2 1.3.1-5.7.2 0 .2 1.1.1 2.8.2-2.4.2-1.7.2 5 .1-1.9.2 1.7.2-10.2.2 7.6.1-4 .2 2.8.2-1.6.2 5.1.1-6.9.2 1.5.2.2.2 3.1.1-4.1.2 3.6.2-.9.1 3.5.2-4.1.2.8.2-2.5.1 3.6.2 2.3.2-3.3.2-2.4.1 5.4.2-7.4.2 1.3.2 2.3.1 1.2.2 3.5.2-8.4.1 6.6.2-4.9.2.3.2 5.5.1-6 .2 3.7.2-4.2.2-1.5.1 6.8.2.8.2-2.1.2-9 .1 7.7.2 1 .2-1.4.1 1.4.2-2.2.2 2.4.2.9.1-2.6.2 1.1.2-1.6.2 1.6.1-.9.2 5.2.2-8.1.2 4.2.1 1.6.2 3.8.2 4 .1 2.8.2 2 .2 2.2.2 2 .1-.2.2.1.2.5.2.4.1-.5.2.8.2-.2.2-.1.1-.1.2.4.7 0 .2-.2.5 0 .2-.4.1.5.2-.1.2.2.2-.4.1.1.2.1.2.1.1-.2.2-.1.2.1.2-.1.1.2.2.2.2-.3.2-.4.1.7.2-.2.2.2.2-.2.1.2.2-.3.2.3.2-.2.1 0 .2-.5.2.7.1-.4.2.3.2-.2.2-.1.1.2.2-.3.2.5.2 0 .1-1.5.2-4.1.2-2.9.2-1.7.1-4 .2-2 .2-4.4.1.8.2-7.7.2 0 .2 1.1.1-2.3.2-2 .2-.1.2 2.1.1.2.2 1.2.2 1.2.2-9.3.1 8.6.2-5.6.2-3.3.1 7.8.2-9.2.2 10.3.2-11.3.1 7.9.2-4.2.2 3.6.2-10.9.1 9.9.2-2 .2-2 .2 2 .1.8.2 1.4.2 1.6.1-1.3.2-6.6.2-.8.2.3.1 5.1.2-3.1.2 7 .2-4.7.1-5.9.2.8.2 5.5.2-9 .1 12.1.2-4.6.2.2.1 7.5.2-7.8.2 5 .2-.4.1-7.6.2 4.9.2 4.7.2-9.2.1-.6.2-2.5.2 3.8.2 5.9.1-8.9.2 6 .2-6.9.2 1.1.1-1 .2 5.2.2 5.9.1-5.7.2-8.9.2 9 .2 5.5.1-.3.2-4.7.2-4 .2 4.2.1-3.5.2 1.9.2 1.5.2 0 .1-6.1.2 1.2.2-4.9.1 12.9.2 1.9.2-1.2.2-2.5.1 3.4.2 1.2.2-2.1.2-6.4.1 3.9.2-4.1.2-3.1.2 8.6.1-5.9.2 6.4.2-7.3.1 6 .2-2.3.2 4.3.2-7 .1 2.3.2-1.2.2 7.9.2-7.3.1 1.8.2-4.7.2 8 .2-3 .1 1 .2-1.7.2 5.7.1-2.3.2 3.2.2 5 .2 3.2.1-2.5.2 4.1.2.8.2 2.8.1 1.8.2 3.4.2 4.4.2 2.1.1 2.3.2-.5.2 0 .1.2.2.8.2-1 .2 0 .1.4.2 0 .2.2.2-.6.1.1.2 0 .2.1.2 0 .1.4.2.1.2-.4.1 0 .2.2.2-.3.2.7.1-.5.2.5.2-.5.2.2.1.1.2-.4.2.3.2-.2.1 0 .2.4.2-.1.2.3.1-.2.2.4.2-.5.1 0 .2.4.2-.1.2-.3.1.2.2.1.2.1.2-.5.1.1.2.4.2-.3.2.2.1 0 .2.2.2-.4.1.1.2.3.2-.3.2.5.1-.1.2-.3.2.1.2.2.1.1.2 0 .2-.2.2.2.1-.4.2.2.2.1.1.1.2-.1.2.1.2-.7.1.5.2 0 .2-.1.2 0 .1-.1.2.4.2-.3.2.3.1 0 .2-.5.2.5.5 0 .2-.3.1.1.2-.2.2-.2.2 0 .1.6.2-.1.2.1.2-.2.1-.2.2.4.2-.4.1.2.2-.1.2 0 .2.1.1.2.2-.2.2-.1.2.3.1 0 .2-.4.2-.3.2.7.1-.1.2-.3.2-.1.2.5.1 0 .2-.5.2.5.1-.1.2-.1.2.2.2-.4.1.4.2 0 .2-.2.2.2.1-.2.2.1.2.1.2-.2.1 0 .2.2.2-.4.1.4.2-.2.2-.1.2-.3.1.5.2-.3.2.2.2-.5.1.4.2.1.2-.1.2-.1.1-.1.2.1.2.4.7 0 .1-.3.2.2.2-.5.2.3.1 0 .2.1.2-.1.2 0 .1-.2.2.2.2.3.1-.4.2-.2.2.6.2-.2.1-.1.2.3.2-.1.2-.3.1.1.2.3.2-.3.2.3.1-.4.2.4.2-.2.1-.1.2-.2.2.2.2-.2.1.2.2-.1.2.3.2-.1.1-.1.2 0 .2.2.2-.1.1-.4.2.3.2-.1.1.4.4 0 .2-.3.1.3.2 0 .2-.2.2-.1.1 0 .2.3.2-.4.2.4.1-.5.2.5.2-.3.2-.1.1.1.2.2.2-.4.1.4.2-.1.2-.1.2.1.1-.1.2 0 .2.3.3 0 .2-.5.2 0 .2.2.1.1.2.2.2-.6.1.6.2-.6.2.4.2-.1.1-.3.2.4.2-.2.3 0 .2.3.2.1.2-.4.1.1.2-.2.2.5.1-.4.2.1.2.3.2 0 .1-.6.2.6.2-.1.2-.8.1.9.2 0 .2-.3.2.1.1.1.2-.3.2.2.1.2.2-.4.2.4.2-.4.1.3.2-.3.2-.3.2.5.1.2.2-.4.2.4.2-.4.1.1.2.1.2.1.1-.2.2 0 .2-.1.2.2.1-.1.2-.2.2.5.2-.5.1.2.2-.1.2 0 .2.1.1.1.4 0 .2-.1.1.1.2.2.2-.2.1.2.2-.1.2-.1.2.2.1-.3.2-.1.2-.1.2.3.1-.3.2.5.2-.4.2.1.1.3.2-.1.2-.4.1.2.2-.5.2.7.2-.1.1.2.2-.5.2.1.2-.1.1.4.2 0 .2.1.2 0 .1-.3.2.3.5 0 .2-.6.2.2.1-.1.2.5.2-.4.2.1.1.3.2 0 .2-.1.2.1.1-.4.2-.3.2.3.1.4.2-.1.2-.1.2-.1.1-.1.2.3.4 0 .1-.2.2-.3.2.2.2.3.1-.3.2.3.2-.4.1 0 .2-.1.2.1.2.4.1.1.2-.2.2.1.3 0 .2.1.2 0 .2-.3.1-.3.2 0 .2.5.1.1.2-.6.2.1.2.4.1-.2.2.1.2-.1.2.1.1.1.2-.1.2-.4.2-.1.1.4.2.3.2-.4.2 0 .1-.1.2.1.2-.3.1.5.2.2.2-.3.2.3.1-.4.2.1.2.3.2-.3.1 0 .2.2.2-.1.2.2.1-.1.2-.5.2.6.1-.4.2.2.2.2.2-.3.1-.3.2.3.2.3.2-.1.1-.2.2.1.2-.1.2.1.1-.2.2 0 .2-.2.1.3.2-.2.2.3.2.2.1-.4.2.3.2 0 .2-.2.1-.3.2.3.2.2.2-.3.1-.1.2.5.2-.3.1-.4.2.7.2-.1.2-.5.1.2.2.4.2-.6.2.1.1.2.2 0 .2.3.2-.3.1.2.2-.2.2 0 .1-.2.2.5.2-.1.2-.1.1-.2.2-.2.2.4.2.2.1-.7.2.7.2-.1.2-.2.1 0 .2-.2.2-.1.2.4.1.1.2 0 .2-.1.1 0 .2-.1.2 0 .2.3.1-.1.2-.3.2.3.2-.1.1.1.2-.2.2-.1.2.2.1.2.2-.3.2 0 .1.3.2-.3.2.1.2.2.1-.2.2-.2.2.3.2-.2.1.1.2.2.2-.3.2.2.1-.1.2-.1.2-.1.1.4.2-.3.2-.1.2-.5.1.4.2.1.2-.1.2.4.1-.5.2.3.2 0 .2.1.1-.2.2.3.2-.2.1-.2.2.1.2.2.2-.4.1.6.2 0 .2-.5.2.2.1.3.2-.1.2-.3.2.2.1 0 .2-.3.2.1.1.2.2.2.2-.2.2-.1.1.2.2-.1.2 0 .2.2.1-.2.2.1.2-.1.2.2.1 0 .2-.3.2-.1.1 0 .2-.2.2.6.2-.3.1-.1.2.3.2 0 .2-.4.1.4.2.1.2-.3.2.3.1-.4.2.4.2-.4.2.3.1.1.2-.5.2.2.1-.1.2.4.2-.4.2 0 .1.3.2.1.2-.2.2-.4.1.6.2-.3.2.2.2-.3.1.4.2 0 .2-.1.1-.1.2-.2.7 0 .2.3.2-.4.1.4.2-.4.2.5.2-.2.1.2.4 0 .1-.2.2-.4.2.6.2-.5.1.5.2-.2.2 0 .2-.3.1.4.2 0 .2-.2.2-.2.1.5.2-.1.2.1.1-.2.2.1.2 0 .2.1.1-.3.6 0 .1-.1.4 0 .2.1.1-.1.2.4.2-.2.1-.1.2.2.2.1.2-.3.1.1.2.2.2-.5.2.2.5 0 .2.1.1-.5.2.7.2-.3.1-.1.2.4.2-.2.2-.3.1.3.2-.2.2.2.2.1.1.1.2-.1.2 0 .2-.3.1.3.2-.4.2.4.2 0 .1.1.2-.2.3 0 .2.2.2-.2.2.1.1-.1.2-.3.2.5.2-.4.1.4.2-.4.2.4.2-.3.1.1.2-.4.2.3.1-.1.2.1.2-.1.2.3.1 0 .2-.2.2.1.2-.6.1.7.2-.5.2.6.2 0 .1-.1.2-.1.2-.1.1-.1.2.1.2-.2.2.3.1.2.2 0 .2-.3.2.1.1-.2.2.3.2.1.2-.4.1 0 .2-.1.2.2.1-.1.2 0 .2.2.2 0 .1.1.2.1.2-.4.2 0 .1.4.2-.7.2.1.2.2.1.4.2-.3.2.1.1-.1.2-.1.2.1.2.2.1-.1.2.2.2 0 .2-.3.1.1.2-.2.2.2.2.2.1 0 .2-.4.2.1.2.2.3 0 .2.1.1-.2.2-.1.2 0 .2-.1.1-.1.2.3.2-.2.2.1.1-.1.2.1.2 0 .2.3.1-.2.2.2.2-.2.1-.6.2.6.2-.3.2.5.1 0 .2-.1.2 0 .2-.4.1.5.2-.1.2.1.2-.1.1-.3.2 0 .2-.3.1.7.2 0 .2-.1.2-.1.1-.5.2.7.2 0 .2-.3.1.3.2-.3.2.3.2-.5.1.3.2.1.2-.6.1.6.2.1.2-.2.2-.1.1.1.2.1.2.1.2-.4.1.3.2-.2.2-.1.2.1.1.3.2-.3.2-.1.1.2.2-.1.2.1.2-.1.1.3.2-.3.2.2.2-.4.1.2.2.1.2-.3.2.5.1-.3.2.3.2-.3.1-.1.2.3.2.1.2-.1.1-.3.2-.1.2.3.2-.3.1.3.2-.4.2.4.2-.1.1-.1.2 0 .2.2.2-.3.1.5.2-.5.2-.1.1.2.2-.1.2.4.2-.4.5 0 .2.2.1.3.2-.4.2.3.5 0 .2-.3.1.3.2-.4.2.5.2-.1.1-.2.2-.1.2 0 .2.2.1-.1.2.1.2.2.2 0 .1-.7.2.7" fill="none" stroke="#000" stroke-width="1.0" stroke-linejoin="round"/>
<path d="M765.4 647.5l.2.5.1-.2.2.2.2-.2.2-.3.1.4.2-.1.2-.3.2.2.1-.2.2.1.2.4.2 0 .1-.6.2.2.2.1.1 0 .2.3.2-.6.2.4.1-.4.2.4.2 0 .2-.4.1.4.2-.1.2-.5.2.4.1-.4.2.5.2.2.1-.7.2-3.1.2-4.2.2-3.9.1-2.1.2-3.3.2-8.7.2-5.3.1 4.9.2-12.8.2 6.8.2 4.7.1-7.4.2 4.2.2 9.7.2-11.5.1 3.1.2-9.8.2 3.3.1 9.2.2-8.7.2 7.3.2-15.9.1 8.5.2 1.8.2-3.9.2.6.1 4.7.2-.4.2 2.6.2-6.4.1 1 .2-3.7.2 12.9.1-7.4.2.4.2-2 .2-4.7.1 1.4.2 7.9.2-2.6.2-10.7.1 8.5.2 6.1.2-15.2.2 7.6.1 1.8.2 3.1.2-5 .1-2.4.2-5.1.2 4.8.2 6.6.1-2.3.2-4 .2 2.9.2-1.2.1-2.8.2 1.5.2 14.2.2-13.4.1 9.5.2.7.2-7.4.1 2.7.2 3.6.2-12.4.2 5.8.1 11.5.2-16.1.2-2.3.2 7.5.1-3.3.2 5.9.2-8 .2-.4.1-2.1.2 12.7.2-2.4.1-6 .2-2.7.2.4.2-2 .1 0 .2 4 .2 7.3.2-.6.1-8.7.2 6 .2-5.4.2 11.1.1-.9.2-8.3.2 10.1.1-8 .2 2.3.2 9.7.2-5.1.1-6.9.2 3.7.2 6.4.2-15.2.1 18.5.2-10 .2 5.8.2-2.7.1 3.9.2-7.7.2-1 .2 10.2.1-3.8.2 3 .2 2.7.1 3.3.2 0 .2 5.3.2 6.4.1 2.8.2 4.2.2-.1.2-.2.1.2.2-.4.2.2.2.2.1 0 .2-.3.2.3.1-.3.2 0 .2.4.2-.2.1.5.2-.5.2 0 .2-.1.1.5.2-.4.2.4.2 0 .1-.1.2-.2.2.1.1.4.2-.1.2-.1.2 0 .1.1.4 0 .2-.2.1 0 .2.2.2-.5.2.3.1.1.2.3.2.1.1-.4.2 0 .2.3.2-.3.1.4.2-.3.2-.1.2.3.1.2.2.1.2-.6.2.1.1-.2.2 0 .2-.1.1.3.2.2.2-.1.2-.4.1.5.2-.2.2.2.2-.3.1.2.2-.3.2 0 .2-.5.1-4.3.2-4.5.2-6.9.2 1.5.1-7.4.2-10 .2 2.4.1-2.9.2 4.2.2-10.6.2 4 .1-2.4.2 8.1.2-8.2.2-4.8.1 10.7.2-9.6.2 5.3.2 9 .1-10.1.2 1.6.2 2.8.1-6.6.2 9.9.2-10.9.2 2.5.1 2.1.2 4.8.2-1.3.2-9.5.1 4.3.2-.5.2-1.1.2 5.7.1-6.7.2 1.5.2-5.2.1 10.4.2-4.6.2 7.3.2-8.6.1 4.1.2-9 .2 8.3.2-.9.1-1.6.2-2.2.2-.9.2-1 .1 8.2.2-1.5.2-8.4.1 4.6.2.6.2 3.1.2-8.3.1 2.8.2 9.4.2-9 .2.7.1 7.8.2-9.4.2-.5.2 12.1.1-13.4.2 1 .2 11.4.1-12.9.2 8.6.2-.6.2.1.1 0 .2-3.6.2.5.2 5 .1 5.2.2-5.4.2-7.9.2-1.9.1 1.4.2 2.7.2 5.5.1-1.2.2 2.8.2-5.8.2 1.3.1 9.8.2-10.3.2 7.1.2-4.8.1 2.4.2-8.3.2 5.2.2-1.4.1 1.8.2 1 .2 2 .2-2.6.1-6 .2 6.5.2-4 .1 7.1.2 2.2.2-3.6.2-1.1.1 1.3.2 3 .2-13.7.2 1.5.1 8.6.2-9.9.2 6.4.2-4.4.1 4 .2.5.2-.9.1-2.2.2 4.1.2 5.4.2-1.1.1-12.3.2 11.1.2-7.8.2 4.9.1-6.7.2.6.2 4.8.2 6.3.1-10.1.2 7.4.2-4.3.1-5.9.2 10.9.2-2.6.2 1 .1 3.4.2-4.2.2-1.2.2 5.4.1 2.6.2 1.5.2 6.5.2.5.1 5 .2 1.8.2 6.6.1 1.7.2 3.4.2-.1.2.2.1 0 .2.8.2-.2.2-.5.1.1.2-.1.2.3.2-.2.1.1.2.2.2.2.1.1.2-1 .2.7.2.2.1-.5.2.9.2-.3.2-.2.1.1.2.4.2.2.2.1.1-.7.2 0 .2.3.1.4.2.2.2-.8.2.3.1.1.2.1.2.1.2-.1.1-.3.2.1.2 0 .2.5.1-.3.2.1.2 0 .2.1.1.3.2-.3.2.2.1-.5.2.7.2-.5.2 0 .1-.4.2-2.3.2-2 .2-4 .1.1.2-4.1.2-.4.2-7.1.1 3.5.2-8.1.2-1 .1-6.5.2 1.1.2 2.3.2 3.1.1-6.1.2 3.1.2-2.4.2 10.5.1-9 .2-4.1.2-2.2.2 5.1.1 7 .2-12.6.2 2 .1 1.4.2 2.8.2-6.7.2 11.9.1-2.3.2-4.5.2-4.3.2-1.2.1 4.6.2-.9.2-1.2.2-3.3.1 2 .2 7.3.2 1.5.1-7.3.2-.9.2-3.6.2 3.3.1-5.2.2 6.9.2-7.7.2 11.1.1-6.9.2 3.8.2.9.2 1.9.1-1.9.2-11.1.2 11 .1-8.8.2 13.6.2-7.8.2-4.4.1 12.9.2-8 .2 3.4.2-4.2.1-3.5.2 1.2.2 9.8.2-.6.1-2.1.2-.7.2 3.9.2-11.8.1-2.7.2.9.2 7.9.1-10 .2 19.2.2-19.2.2 9.1.1 5.1.2-5.8.2.7.2 1.6.1-8.9.2 8.9.2-1.4.2-7.2.1 8.1.2-6.5.2-3.7.1 11.7.2-9 .2 2.1.2-3.9.1 3.4.2-3.2.2 4.9.2-1.5.1 11.6.2-16.1.2 12 .2-11.7.1 4.4.2 3.1.2-4.1.1 7.1.2-1.1.2-.1.2-1.9.1-3.1.2 3.2.2-7.8.2 14.5.1-3.2.2-11.3.2 10.6.2-3.5.1-7 .2 10.1.2-1.2.1 1.1.2 4.4.2 10.7.2-11.5.1 1.8.2 5.7.2-3 .2.2.1 11.4.2 6 .2-.5.2 5.5.1 2 .2-.2.2.9.1-.2.2-.7.5 0 .2.4.2.2.2.4.1-.7.2.4.2.3.2-.2.1-.3.2.6.2-.6.1.4.2 0 .2.4.2-.1.1 0 .2.2.2-.5.2.3.1-.1.2.2.2-.1.2.3.1-.1.2.2.2-.4.2.5.1-.4.2.4.2 0 .1.3.2-.1.2-.1.2-.2.1.4.2-.7.2.3.2.4.1 0 .2.2.2 0 .2-.5.1.4.2.1.2.1.1-.3.2.3.2-.2.2 0 .1.2.2 0 .2-.6.2.5.1.1.2-.4.2.3.2-.7.1.8.2-.2.2-.3.1.5.2-.5.2.5.2-.2.1-.5.2.6.2-.1.2-.4.1.5.2-.4.2.5.2-.1.1-.1.2 0 .2-.2.1.1.2-.2.2-.1.2.4.1-.4.2.2.2.4.2-.3.1-.2.2.1.2.1.2.3.1-.3.2.2.2-.2.1 0 .2.2.2-.2.2.1.1.1.2-.3.2-.2.2.6.1-.1.2-.2.2.3.2-.5.1.3.2.1.2-.2.2 0 .1.1.2-.3.2.3.1-.1.2-.4.2.4.2.1.1 0 .2-.5.2.3.2 0 .1.1.2.3.2-.3.2.3.1-.8.2.6.2-.3.1.3.2.2.2-.2.2-.1.1-.1.2 0 .2.4.2-.3.1.1.2-.1.2.2.2-.2.1.3.2-.2.2-.3.1.1.4 0 .2.2.1-.3.2.1.2.3.2-.6.1.5.2-.2.2-.1.2.1.1 0 .2.2.2.2.1-.3.2 0 .2-.1.2-.1.1.2.2-.1.2 0 .2.3.1-.2.2.1.2 0 .2.1.1-.3.2-.1.2.2.1-.3.2.1.2 0 .2.1.1 0 .2.1.2-.3.2.3.1 0 .2-.1.2.2.2.1.1 0 .2-.1.2 0 .1-.3.2.3.2-.5.2.2.1.4.2-.1.2-.1.2.2.1-.4.2.5.2-.3.2.3.1 0 .2-.1.2-.5.2.4.1-.2.2.2.2-.4.1 0 .2.5.2-.3.2.1.1-.1.2.1.2 0 .2-.4.1.5.2 0 .2-.1.2 0 .1-.2.2 0 .2.1.1 0 .2.4.2-.4.2-.1.1 0 .2-.2.2.2.2.2.1-.1.2.4.2-.2.2-.2.1.2.2-.1.2.3.1-.3.2-.5.2.6.2 0 .1-.4.2 0 .2.4.2-.3.1.4.2-.2.2.1.2.2.1-.7.2.6.2.1.1-.2.2.2.2-.4.2.4.1-.4.2 0 .2.4.2-.2.1-.4.2.4.4 0 .1-.1.2.1.2-.1.1.1.2.1.2-.1.2 0 .1-.1.2-.3.2.5.2.1.1-.2.2-.3.2-.2.2.4.1-.1.2.1.2-.4.2.7.1-.5.2.3.2 0 .1-.2.2 0 .2.2.2-.3.1.5.6 0 .1-.6.2.1.2.5.2-.2.1 0 .2-.5.2.2.1-.1.2.1.2.2.2.2.1-.6.2.7.2-.5.2.1.1.1.2.3.2-.2.2 0 .1-.8.2.4.2-.1.1.5.2.1.2-.4.2.3.1-.2.2-.2.2-.1.2.4.1.1.2-.1.2-.2.2.2.1.2.2-.5.2-.2.1.4.2.1.2-.4.2.5.1.2.2 0 .2-.2.2-.5.1.3.2.1.2-.4.2.2.1.3.2.1.2 0 .1-.1.2-.3.2.5.2-.3.1 0 .2-.2.2.4.2-.8.1.5.2-.1.2.1.2 0 .1-.4.2.7.2-.3.1-.3.2.2.2.5.2-.5.1-.1.2.4.2.2.2-.2.1-.1.2 0 .2-.2.2.3.1-.1.2-.3.2.4.2-.3.1.4.2-.3.2 0 .1.1.2-.3.2.1.2.5.1-.1.2-.3.2-.1.2.1.1 0 .2-.3.2.5.2-.3.1.1.2.1.2-.1.1-.1.2.3.2-.2.2.2.1-.5.2.3.2-.3.2 0 .1.2.2.1.2.4.2-.5.1.4.2-.2.2-.1.1-.2.2.1.2.2.2-.1.1 0 .2-.1.2-.1.2.2.1.2.2-.1.2 0 .2-.1.1-.3.2.5.2.1.1-.8.2.4.2 0 .2.1.1.1.2-.3.2.4.2-.4.1.2.2-.1.2-.1.2-.1.1.1.2.1.2.2.1-.1.2-.1.2.1.2-.1.1-.2.2.3.2.1.2-.2.1.5.2-.5.2 0 .2.5.1-.3.2-.3.2.3.2-.1.1-.1.2.3.2-.2.1.1.2-.1.2-.2.2.2.1-.3.2-.2.2.9.2-.6.1.4.2-.2.2.2.2-.1.1 0 .2-.1.3 0 .2.3.2-.6.2 0 .1.4.2-.3.2.2.2 0 .1.3.2-.7.2.7.2 0 .1-.7.2.5.2.3.1-.1.2.1.2-.4.2.1.1.1.2 0 .2-.5.2.2.1.1.2.1.2.1.2.1.1-.4.4 0 .1-.2.2.5.2-.4.2.2.1.2.2-.1.2.1.2-.2.1.1.2-.1.2-.2.2.2.1.3.2-.3.2.3.1-.4.2-.1.2.2.2-.1.1.2.2.2.2-.2.2.1.1-.1.2 0 .2.1.2-.4.1-.1.2.3.2-.5.1.6.2.3.2-.5.2.4.1-.3.4 0 .2-.1.1.4.2-.5.2.2.2.1.1-.1.2.1.2-.6.2.7.1-.2.2.4.2-.7.1.1.2.2.2-.2.2.2.1.2.2-.4.2 0 .2-.1.1.2.2.1.2-.1.2.2.1-.7.2.5.2.5.1-.3.2 0 .2-.3.2.4.1-.3.2-.2.2.4.2-.1.1-.1.2.3.2-.3.2 0 .1.1.2.4.2-.4.1.1.2-.2.2.1.2-.2.1.5.2-.4.2.2.2 0 .1-.1.2-.2.2.1.2-.2.1-.3.2.9.2-.5.1.3.2.1.2-.1.2.3.1-.1.2-.5.2 0 .2.5.1-.5.2.3.2-.1.2-.1.1.5.2-.4.2.1.1 0 .2-.2.2.5.2-.1.1-.2.2 0 .2.2.3 0 .2-.5.2 0 .2.2.1.2.2-.2.2 0 .1-.3.2.3.2.2.2-.5.1.3.2-.1.2.1.2 0 .1-.3.2.1.2-.2.2.4.1.1.2-.1.2 0 .2-.3.1.4.2.3.2-.3.1-.4.2.3.2-.2.2.4.1-.1.2-.1.2 0 .2.1.1.1.2-.5.2.6.2-.7.1.4.2.2.2-.5.1.1.2.6.2 0 .2-.6.1.3.2-.6.2.6.2-.2.1.3.2-.2.2-.2.2.2.1.2.2 0 .2-.2.1.4.2-.7.2.5.2-.3.1.1.2-.2.2.1.2.5.1-.2.2 0 .2-.3.2.3.1-.1.2-.1.2.2.1-.4.2.1.2.1.2.2.1-.4.2.2.2-.3.2.1.1-.2.2.1.2.2.2.2.1-.1.2 0 .2-.4.1.5.2-.3.2.6.2-.3.1.1.2-.3.2-.2.2-.1.1.6.2-.2.2.4.2-.4.1-.6.2.4.2.3.2-.2.3 0 .2.5.1-.3.2-.2.2.2.2-.3.1.5.2-.4.2 0 .2.1.1-.3.2.4.2-.1.3 0 .2.1.2-.4.1.1.2.4.2 0 .2-.1.1-.3.2.3.2-.1.2-.2.1.5.2-.3.2-.1.2-.2.1.4.2-.1.2.2.1-.4.2.2.2-.4.2.5.1.1.2-.4.2.1.2-.1.1.1.4 0 .2.1.1 0 .2-.5.2.4.1-.6.2.7.2.1.2.3.1-.5.2.3.2-.3.2.4.1 0 .2-.4.2.3.2-.3.1.3.2-.1.2.3.1-.3.2-.1.2.1.2-.2.3 0 .2.1.2.3.1-.2.2 0 .2-.5.2.5.1.2.2-.6.2 0 .1.5.2 0 .2-.3.2.4.1-.2.2.1.2-.5.2.3.1 0 .2.2.2-.4.2.3.1.1.2-.5.2-.1.2.3.1-.1.2.2.2.1.1.1.2-.6.2.3.2.1.1.4.2-.4.2-.4.2.6.1-.3.2.2.2.1.2-.1.1.1.2-.5.2.2.1.3.2.1.2-.4.2.2.1-.5.2.2.2-.3.2.5.1 0 .2.1.2-.2.2.1.1 0 .2-.2" fill="none" stroke="#000" stroke-width="1.2" stroke-linejoin="round"/>
<line x1="765.4" y1="603.1" x2="765.4" y2="648" stroke="#222" stroke-width="1.2"/>
<line x1="765.4" y1="603.1" x2="767.9" y2="603.1" stroke="#222" stroke-width="1"/>
<line x1="765.4" y1="648" x2="1008" y2="648" stroke="#222" stroke-width="1.2"/>
<line x1="765.4" y1="626" x2="767.6" y2="626" stroke="#222" stroke-width="0.9"/>
<text transform="translate(761.5 631.2) scale(0.9495 1)" font-size="14.72" text-anchor="end">0.5</text>
<text transform="translate(761.5 653.2) scale(0.9495 1)" font-size="14.72" text-anchor="end">0</text>
<line x1="800.1" y1="653.7" x2="800.1" y2="700" stroke="#b0b0b0" stroke-width="0.7" stroke-dasharray="1,1.3"/>
<line x1="834.7" y1="653.7" x2="834.7" y2="700" stroke="#b0b0b0" stroke-width="0.7" stroke-dasharray="1,1.3"/>
<line x1="869.4" y1="653.7" x2="869.4" y2="700" stroke="#b0b0b0" stroke-width="0.7" stroke-dasharray="1,1.3"/>
<line x1="904" y1="653.7" x2="904" y2="700" stroke="#b0b0b0" stroke-width="0.7" stroke-dasharray="1,1.3"/>
<line x1="938.7" y1="653.7" x2="938.7" y2="700" stroke="#b0b0b0" stroke-width="0.7" stroke-dasharray="1,1.3"/>
<line x1="973.3" y1="653.7" x2="973.3" y2="700" stroke="#b0b0b0" stroke-width="0.7" stroke-dasharray="1,1.3"/>
<line x1="1008" y1="653.7" x2="1008" y2="700" stroke="#b0b0b0" stroke-width="0.7" stroke-dasharray="1,1.3"/>
<line x1="765.4" y1="653.7" x2="1008" y2="653.7" stroke="#d8d8d8" stroke-width="0.6" stroke-dasharray="1,1.5"/>
<path d="M765.4 700l2.1 0 .3-.1 3.8 0 .4-.1.3.1.4-.1 3.1 0 .4-.1.7 0 .3-.1 1 0 .4-.1.3 0 .4-.1.7 0 .3-.1.4 0 .3-.1.7 0 .4-.1.3.1.4-.1.3 0 .3.1.4.1.3.1.4-.1.3.1 1.1 0 .3.1.4 0 .3.1.4 0 .3.1.4 0 .3.1 3.5 0 .3.1.4-.1.3.1 5.6 0 .3.1 2.4 0 .4-.1.3-.9.4-.6.3-.8.4-.5.3-1.3.4-.3.3-.7.4-1.6.3-.7.4.1.3-.3.4-1.6.3-1.4.4 1.1.3-1.4.3-.4.4.8.3-1.7.4-.2.3-1.2.4 2.3.3-.3.4-.1.3-.6.4-.8.3-1 .4.9.3-.4.4-.1.3 2.2.4-.9.3-.3.3-1.9.4 2 .3-1 .4-.1.3.3.4-1.2.3.8.4-1.2.3 1.5.4-.7.3 1.5.4-.3.3-.3.4.4.3-2.1.4 1.3.3.9.3-1.7.4.8.3-.2.4.5.3.2.4-.6.3-1.2.4 1.4.3.3.4-.2.3-2.3.4 2.8.3-1.5.4 0 .3.4.4-1.8.3 1.7.3 1 .4.8.3-1 .4.5.3 3.4.4-.2.3-.2.4 1.7.3 3 .4 1.1.3 2.5.4 1.7 179.4 0z" fill="#77ac30" fill-opacity="0.5" stroke="#222" stroke-width="0.6"/>
<path d="M765.4 700l77.4 0 .3-.5.4-1.3.3-2 .4-1.1.3-1.8.4-.9.3-.7.4-1.3.3-.8.4-.4.3-.4.4-.6.3-1.5.4 1.6.3-.8.3-.4.4-1.2.3-.9.4 2.5.3-1.8.4-.1.3.7.4.8.3-1.8.4.8.3 1.5.4-.8.3-1.7.4.3.3 2.2.4.2.3-2.1.3-.8.4 1.6.3.2.4-1.6.3.6.4-.6.3 1.8.4-.9.3-1.3.4.5.3-.6.4 2.3.3.2.4-1 .3-1.3.4 1.3.3-.2.3 1.7.4-1.5.3 1 .4 1 .3-.4.4 1.3.3.6.4-.5.3 2.4.4 1.5.3 1.8.4 1.6.3 2 .4 1.2.3-.1.4 0 .3.1 7.3 0 .3.1 1.1 0 .3-.1.7 0 .4.1.3 0 .4-.1.3.1.4-.1.3.1 5.2 0 .4.1.3-.1.3 0 .4.1.3-.1.4.1.7 0 .3-.1.4.1 2.4 0 .4-.1.3.1 5.9 0 .4.1 9.7 0 .3.1 5.2 0 .4-1.7.3-2.7.4-2.5.3-3.2.4-.4.3-.4.4-1.2.3.9.3-2.7.4.6.3.4.4-.2.3-2.1.4.1.3-.8.4.4.3 1.5.4-.9.3 0 .4 2.3.3-1.5.4-.5.3 0 .4-1.3.3 1.8.3-.6.4.1.3-.1.4 1 .3-1.6.4-.3.3 1.9.4.3.3-1.5.4 1.4.3-1.1.4-.1.3-.1.4.1.3 1 .4-2 .3-.3.3 1 .4.2.3-.4.4.9.3-2.4.4 2.7.3-.2.4-2.6.3 1.1.4.5.3-.3.4.4.3 1.4.4-.2.3-1.4.4.1.3-.4.3-.3.4 1.7.3.1.4 1.1.3.5.4-1.6.3 1.6.4.7.3-.2.4-.9.3 1.8.4 1.4.3 2.7.4 3.1.3 3 .4.9 71.1 0z" fill="#4dbeee" fill-opacity="0.5" stroke="#222" stroke-width="0.6"/>
<path d="M765.4 700l180.8 0 .4-1.1.3-1.4.4-1.8.3-.9.4-2.3.3-1.4.4-.8.3-.6.3-1.8.4 1.8.3-1.6.4-.2.3-1.4.4.9.3-1.8.4 1.4.3-2.4.4.2.3-.2.4-.9.3 1.7.4-1.9.3-.3.4-1.4.3.6.3.3.4 1.9.3-.2.4-.2.3-.5.4.8.3-1.1.4-1.4.3 3.5.4-2.7.3-.2.4-1.4.3 1.4.4-.7.3-.7.4-.7.3 1.2.3 1.2.4-.3.3-.1.4-1.5.3.2.4.6.3.7.4-1.5.3-.3.4.2.3.1.4 1.4.3-.6.4-3.6.3 1 .4-2.7.3 1.7.3 3.9.4-.4.3-.6.4 1.7.3 0 .4.4.3.6.4 1.7.3 3 .4 2.3.3 2.6.4 2.1.3 1.8.4 1 .3.5.4.6.3.5.3.1 35.1 0z" fill="#d95319" fill-opacity="0.5" stroke="#222" stroke-width="0.6"/>
<path d="M765.4 700l211.4 0 .3-1 .4-1 .3-1.2.4-1.5.3-.9.3-1.7.4-.1.3-.1.4-1.2.3.1.4 1 .3-.7.4-2 .3 0 .4.8.3-1.2.4 1 .3-.2.4-1.4.3.7.4-.7.3-.7.3.9.4 0 .3-.6.4.2.3 0 .4.2.3.9.4-.4.3-2 .4.9.3-.5.4.7.3 1.1.4-2.2.3 1.4.4-.8.3.3.3-.3.4 1.1.3-1.2.4 1.2.3-1.9.4.7.3-1.2.4 1.9.3-1.2.4 1.9.3-.1.4-1 .3-.1.4.4.3-.3.4.3.3-1.2.3.7.4.5.3-.2.4-.9.3.5.4.5.3 0 .4-.2.3.5.4-.8.3 2.3.4 1.3.3 0 .4 2.1.3 1 .4.9.3 1.2.3 1.1.4 1.3.3 1.1 4.9 0z" fill="#7e2f8e" fill-opacity="0.5" stroke="#222" stroke-width="0.6"/>
<path d="M765.4 699.5l.2 0 .1.1.2.1.2.3.2-.1.1 0 .2-.3.2.2.2-.2.1.3.2 0 .2-.1.2-.2.1 0 .2.3.2 0 .1-.4.2.3.2.1.2.1.1-.3.2.1.2-.1.2.2.1 0 .2-.4.2.2.2 0 .1.1.2.2.2-.4.1.1.2.2.7 0 .2-.4.2.4.1-.6.2.1.2.1.2.4.1.1.2-.5.2.2.2.1.1-.4.2.2.2.1.1.3.2 0 .2-.2.3 0 .2.2.2 0 .2-.5.1-.1.2.2.2.2.2-.3.1.2.2.1.2-.1.1-.2.2.4.2 0 .2.1.1-.5.2.4.2-.2.2.1.1-.1.2.1.2-.2.2-.1.1 0 .2.1.2.4.1-.4.2.4.2-.4.2.3.1.1.2-.2.2-.3.2.5.1 0 .2-.3.2.3.2-.7.1.5.2 0 .2-.1.1.1.2-.2.2.1.2-.3.1.5.2.1.2 0 .2-.2.1 0 .2.2.2-.1.2 0 .1-.1.2.1.2.1.1 0 .2-.7.2-.1.2.6.1.2.2-.3.2.1.3 0 .2.1.2-.4.2.3.1.2.2-.3.2-.1.1.4.2-.2.2 0 .2-.5.1.4.4 0 .2.1.1 0 .2-.2.2.1.2.3.1 0 .2-.1.2-.5.2.4.1-.2.2.3.2-.3.1.2.2 0 .2-.4.2.5.1-.3.2.4.2 0 .2-.1.1-.3.2 0 .2-.1.2.5.1-.1.2.1.2-.3.1.2.2-.1.2-.4.2-.1.1.7.2-.2.2-.3.2.1.1.4.2-.4.2.2.2.2.1-.3.2.1.2-.2.1.4.2-.1.2 0 .2-.1.1-.2.6 0 .1.4.2-.6.2.4.2-.3.1.4.2-.1.2-.4.1.5.2-.1.2.1.2-.1.1.2.2-.1.2.1.2-.5.1.3.2-.3.2.3.2-.2.1-.1.2.4.2-.4.1.4.2-.3.2.3.2.1.1-.4.2.1.2.2.2-.1.1-.8.2-.5.2-.5.2-.7.1-.6.2.1.2-1.3.2-.2.1.5.2-1.3.2-.2.1-.7.2.2.2-2.9.2 1.2.1-.8.2-1.4.2 1.9.2-.6.1-2.1.2 1 .2-3.1.2 3 .1-1.7.2 1.9.2-4.3.1 5.1.2-3.3.2.7.2-3.5.1 2.1.2.5.2-4.6.2.4.1-.5.2 3.2.2 1.6.2-3.3.1 4.7.2-4 .2.9.1 1 .2-3.6.2 3.5.2-.6.1.2.2.1.2-1 .2-2.7.1 1.5.2 4.5.2-1.6.2-2.2.1 1.3.2.5.2-1.9.1 3.8.2-3.3.2-.8.2-1.6.1 3.7.2 2 .2-4.2.2-1.4.1 1.7.2-.1.2 2.9.2-.2.1.3.2-3.8.2 1.7.1 2.9.2-2.5.2 3.6.2-3.1.1-1.4.2.1.2-2.5.2 6.3.1-6.2.2-1.1.2 1.4.2 1 .1 4 .2-4.4.2.8.1-1.9.2-.1.2-.3.2 2 .1 2.6.2-3.2.2 1 .2.8.1-1.4.2 3.5.2-2.3.2-2.4.1.5.2.5.2 1.5.2-.6.1-.7.2-1.8.2 1.2.1.4.2-.7.2 1.9.2-.2.1.6.2 0 .2-1.3.2 2 .1-.5.2 2.4.2-3.8.2 2.2.1-5.4.2 2.9.2 2.7.1-3.5.2.5.2.3.2 0 .1.6.2 2.1.2-3.8.2-.8.1 2.9.2.1.2 2.1.2-2.6.1-1.4.2 5.2.2-4.3.1 1.3.2 1.4.2-.6.2.9.1 2.8.2-1.9.2 1.3.2.3.1.4.2 1.7.2 3.5.2 2.5.1 1.3.2-.1.2.4.1.3.2-.2.2-.2.2.5.1.1.2.1.2-.3.2.4.1.1.2-1 .2.6.2 0 .1.4.2 0 .2-.2.1.1.2-.1.4 0 .1-.2.2-.1.2.4.2-.2.1-.2.2.4.2-.7.2.4.1.3.2-.1.2-.1.1-.3.2.6.2-.4.2-.1.1.5.2-.2.2-.1.2.3.1-.4.2.2.2-.3.2.2.1.1.2-.1.2.2.2 0 .1-.2.2.1.2 0 .1-.1.2.1.2-.1.2-.1.3 0 .2.1.2.3.1-.1.2.1.2 0 .2-.2.1-.2.2.3.2.1.1-.1.2-.1.2-.3.2.2.1-.3.2.3.2.2.2-.2.1.2.2-.2.2-.3.2.2.1.2.2-.1.2-.2.1.5.2-.1.2.1.2-.4.1 0 .2-.2.2-.1.2-.6.1-1.3.2-.1.2-1.8.2-.3.1-1.9.2-1.4.2-.4.1-.8.2-1.4.2-.4.2.5.1-1.2.2-.1.2 2.1.2-4.4.1-.5.2 3.2.2-.6.2-2.2.1-1.5.2-2.3.2 5.9.1-1.9.2-4 .2 5.2.2-5.5.1.4.2.8.2 1.8.2-3.1.1 0 .2 1.9.2 1.4.2-2 .1 4.6.2-6.5.2-3.8.2 4.9.1-1.1.2-.7.2 5.3.1-3.4.2 2.8.2-1.3.2-3 .1 2.8.2-5.2.2 3.8.2 2 .1-3.8.2 3.6.2-1.6.2 3.7.1-1.8.2-1.6.2-.7.1-1.1.2 1.8.2-4.2.2 4.8.1.2.2-5.1.2 1.3.2 4.1.1-5.1.2 1.2.2 2.1.2-3.8.1-1.3.2 6.4.2 1.5.1-2.5.2-3.2.2 3.7.2-4.5.1-.8.2.8.2 2.3.2.2.1-.6.2 4.6.2-2.8.2-.7.1-2.3.2.8.2.4.1-1 .2-.6.2 8.2.2-4.7.1-.3.2 2.7.2-2.6.2-2.8.1-3 .2 3.3.2-2.2.2 1.1.1 4.7.2-2.3.2-2.7.1 2.8.2 4.6.2-.7.2-4.2.1 0 .2 2.6.2 1.3.2 2.2.1-.7.2-.5.2 1.1.2 1.9.1 1.4.2-1.8.2-.4.1 3.7.2-.5.2-.2.2 2.2.1 3.1.2 2.7.2.6.2.2.1-.1.2.1.2.6.2-.1.1.2.2-.2.2-.3.2.3.1-.1.2.3.2 0 .1-.3.2.2.2.1.2.1.1-.4.2-.1.2.3.2.1.1-.5.2.2.2.4.2-.2.1-.1.2-.1.2.1.1-.1.2.4.2-.2.2-.2.1.2.2.1.2-.3.2.4.1-.3.2 0 .2.2.2-.1.1-.2.2 0 .2.4.1-.4.2.3.2-.2.2-.3.1.4.2-.2.2.1.2-.1.1.1.2 0 .2.2.2-.3.1.4.2-.2.2.1.1-.6.2.6.2.1.2-.2.1.1.2-.1.2-.2.2.4.1-.2.2-.1.2 0 .2.3.1 0 .2-.2.2-.1.1.3.2 0 .2-.2.2-.1.1 0 .2.3.2-.4.2-.2.1.5.2-.3.2.1.2.3.1-.4.2 0 .2.2.2-.1.1.3.2-.2.2-.2.1.1.2.2.2-.1.2.2.1-.4.2-.2.2.4.2.2.1-.1.2.1.2 0 .2-.6.1.2.2.3.2-.1.1.1.2-.1.2.2.2-.4.1.4.2-.1.2.1.2-.6.1.2.2.3.2.1.2 0 .1-.1.2-.3.2-.2.1.4.2.2.4 0 .1-.4.2.4.2-.5.2.2.1 0 .2.3.4 0 .1-.4.2.3.2-.2.1.3.2-.4.2.4.2-.4.1.4.2-.4.2.1.2.3.1-.3.2.3.2-.3.2.3.1-.1.2-.2.2.1.1-.2.2.1.4 0 .1.1.2.1.2-.1.2.1.1.1.2-.1.2-.6.2.4.1-.1.2 0 .2.4.1-.3.2-.3.2.6.2-.1.1-.1.2 0 .2-.1.2 0 .1-.2.2.2.2 0 .2.3.1 0 .2-.6.2.2.2.2.1.2.2-.4.2.1.1 0 .2.1.2-.1.2.3.1-.1.2 0 .2-.4.2.2.1.3.2-.2.2.1.2-.5.1.2.2-.2.2.4.1-.1.2-.1.2.1.2 0 .1.3.4 0 .2-.8.1.3.2.2.2 0 .2.3.1-.4.2.1.2.3.1-.3.2.1.2-.1.2.3.1-.3.2-.3.2.6.2-.1.1-.2.2.2.2 0 .2-.1.1-.1.2.2.2-.3.1-.3.2.4.4 0 .1-.1.2.1.2-.3.2.3.1.2.2-.3.2-.2.2-.2.1.8.4 0 .1-.3.2-.3.2.3.2 0 .1.3.2-.2.2.2.2 0 .1-.3.2.3.2-.5.2-.1.1.5.2-.4.2.2.2-.4.1.2.2.1.2-.1.1.2.2-.1.2.3.2-.7.1-.6.2-2 .2.4.2-.6.1-2.8.2-.7.2.4.2-4.3.1 1.2.2-.1.2-1.7.1.8.2.7.2-1.8.2-.4.1-1.7.2 2.7.2-.4.2 1.4.1-3.6.2.4.2.1.2 3.5.1-4.1.2-.7.2-.2.1 1.9.2.4.2-3.3.2 1.8.1-.8.2.6.2 1.6.2-4.1.1-1.3.2 1.2.2 0 .2 1.5.1.5.2-1.7.2 2.1.1-1.4.2-1.3.2-1.7.2 1.1.1-1.8.2-.4.2 4.9.2 1.3.1-3.9.2 2.5.2.1.2-1 .1 1.2.2-3.3.2 3.8.1-3.5.2 2 .2-3.3.2-2 .1 2.2.2 4 .2-4.5.2 1.7.1 2 .2-.5.2-.1.2-.3.1-1.3.2-.3.2-.5.1-3.2.2 8 .2-4.7.2 1.1.1-2.6.2 2.3.2-1 .2-2.4.1 6 .2-4.3.2 1.2.2.8.1.5.2-4.6.2 6.2.2-.4.1-4.3.2 5.3.2-5.7.1 2.7.2.6.2-2.3.2 2 .1 0 .2-.7.2-.4.2 2.5.1-4.4.2 2.6.2-2.5.2 3.2.1.9.2.9.2-3.9.1 1.4.2-.9.2.7.2 4 .1-3.4.2-.6.2 3.7.2-.6.1-2.3.2-.3.2 4.4.2-6.5.1 2.4.2-2.9.2 4.8.1-.9.2-3.4.2 3.8.2 1.5.1-1.2.2-2.3.2 4 .2-1.8.1 1.1.2.7.2-2.2.2 3 .1-2.9.2-1.7.2 6.7.1 1.7.2-7.5.2 3.8.2 1.4.1.6.2-1.4.2 1 .2 4.3.1 2.8.2-.1.2 1.8.2 1.3.1.3.2.5.2 0 .1-.1.2.4.2.1.2-.3.1.3.2.1.2-.3.2.1.1-.2.2.5.2 0 .2-.5.1.4.2 0 .2-.2.2 0 .1.1.2.1.2-.2.1 0 .2-.2.2.4.2.1.1-.3.2.1.2 0 .2.2.3 0 .2-.1.2-.2.1.3.2-.3.2-.1.1.2.2-.2.2.2.2-.1.1-.1.2.2.2-.1.2.3.1-.5.2 0 .2.4.2-.3.1.1.2-.2.2 0 .1-.8.2-1.3.2-.5.2.2.1-1.8.2-.9.2.6.2-2.2.1-2.8.2.6.2-.2.2-1.8.1 2.5.2-1.8.2.5.1-3.7.2 2.9.2-4.9.2-1 .1 4.3.2-.2.2-1.3.2 1.6.1-3.1.2 3 .2-2.4.2-.2.1 3.1.2-1.7.2-1.9.1-.9.2.3.2-.6.2-1 .1 5.6.2-3.4.2 1.5.2-4.1.1-.7.2-.4.2 1.1.2.1.1 1.9.2-7.1.2 7.5.1 1.1.2-3.6.2-6.1.2 7.7.1 2.8.2-3.8.2-1.3.2.1.1-2 .2 3.6.2 1.3.2-4.2.1-.8.2-6 .2 2.6.2 2.2.1 6.7.2-5.1.2-3.8.1 1.2.2 1.2.2-1.3.2.9.1 5.2.2-1.7.2-3.4.2-2.1.1-1.8.2 3.2.2-.4.2 3.1.1-3 .2-1.5.2 2.1.1 3.1.2-4.4.2 2.6.2-.2.1 1.6.2-2.7.2-1.2.2 3.4.1-7.8.2 5.2.2.5.2-4.1.1.8.2 1.6.2-3 .1 9.9.2-12.2.2 5.6.2-5.3.1 5.3.2-2.9.2-1.6.2 1.8.1 2.7.2-3.9.2-2.4.2-1 .1 7.6.2-1.2.2-1.1.1-2.8.2 1.5.2.7.2-3.2.1 6.5.2 3.9.2-2.1.2-3.2.1 1.3.2 2.6.2 2.6.2-.4.1 2.4.2-2.5.2 2.4.1 1.7.2-.6.2-1.7.2-1.7.1 3.6.2-2.8.2 4.3.2-.7.1 5.7.2-5.3.2 2.3.2 1.4.1 3.2.2-1.1.2 1.8.1 1.8.2.3.2 1.2.2 1.1.1.4.2.3.2.5.3 0 .2.1.2.2.2-.1.1.5.2-.5.2.1.2.1.1-.1.2.2.2.1.1.1.2-.1.2-.2.2.3.1-.3.4 0 .2-.3.1.6.2-.4.2.3.2-.1.1-.4.2.6.2-.1.1-.2.2-.2.2.5.2-.4.1.3.2-.2.2-.1.2.4.1-.6.2.4.2.2.2-1.3.1-1.1.2-.4.2-.2.1-1 .2-1.6.2-.2.2-5 .1 0 .2.6.2-.1.2 1.4.1-1.3.2 1.4.2-2.2.2 2.6.1-2.9.2.8.2 1.1.1-.2.2-1.8.2-1.2.2 1.1.1-1.1.2.1.2.7.2-3.7.1 6.4.2-4 .2-.5.2 1.9.1.2.2-4.4.2 2.2.1-1.3.2.6.2-.5.2 2.5.1-.1.2-1.4.2 1 .2-2.5.1 1 .2.7.2-.2.2.9.1-.3.2 1.4.2-1.9.2-1.2.1 2.1.2-3.6.2 3.2.1-.9.2-1.4.2-1.5.2 1.3.1-.6.2-1.1.2 1.7.2 2.1.1.8.2-.2.2-3.1.2 1.5.1-.9.2 1.9.2-1.6.1-1 .2 1.2.2-2.3.2.1.1.7.2 1.6.2-1.4.2-.4.1-.6.2 2 .2 1.2.2 1.6.1-4.3.2 3.8.2-.3.1-2.8.2-1.1.2-.5.2-.2.1 3.5.2-3.6.2 5.7.2 2.1.1-11.2.2 4.6.2-.4.2-.2.1 1.8.2-1.2.2.4.1.1.2.6.2-2.1.2 2.2.1-3 .2 5.2.2-3.2.2 6 .1-6.1.2.1.2-2.5.2 3.4.1 5.3.2-11 .2 2.6.1-1 .2-.5.2.5.2 0 .1 1.6.2.7.2.2.2 1.6.1-.3.2-4.3.2 4.5.2 3.2.1-3.7.2 4.8.2-5 .1-2.3.2.5.2 2 .2-2.1.1 3.4.2-1 .2 5 .2-4.4.1 2.4.2 0 .2 3.5.2-3.8.1 1 .2-.4.2 3.8.2-.7.1-1.8.2 3 .2.5.1 1.8.2 1.3.2 1.5.2 1.9.1 1.1.2 0 .2-.4.2.3.1.4.2-.1.2-.1.3 0 .2.3.2-.2.1.2.2 0 .2-.2.2 0 .1-.3.2.4.2-.4.2.2.1-.1.2 0 .2.3.2.1.1-.3.2.3" fill="none" stroke="#000" stroke-width="1.0" stroke-linejoin="round"/>
<path d="M765.4 699.6l.2.4.1-.8.2.6.2 0 .2.2.1 0 .2-.4.2-.1.2.1.1.1.2.3.2-.3.2-.2.1 0 .2.5.2-.1.1-.6.2.4.2-.3.2.2.3 0 .2-.1.2.5.1-.3.2-.1.2.2.2-.3.1.3.2-.1.2-.2.1.5.2-.6.2.1.2.3.1-.3.2.4.2-.2.2-.1.1-.1.2.3.2-.4.2-.1.1.5.2-.3.4 0 .1.4.2-.6.2.3.1-.1.2-.3.2.2.2.4.1 0 .2-.5.2.3.2.1.1-.4.2.3.2-.3.2 0 .1.4.2.3.2 0 .1-.5.2.1.2.3.2-.3.1.1.2.1.2.2.2-.6.1.4.2-.4.2.2.2-.5.1.4.2.2.2.2.1-.7.2.3.2-.1.2.5.1-.6.2.2.2-.1.2-.1.1.1.2-.1.2-.4.2.1.1-.2.2.4.2-.2.1.6.2-.3.2-.1.2.1.1-.4.2.2.2-.1.2-.5.1.4.2.3.4 0 .1-.3.2 0 .2-.7.1.4.2-.3.2.7.2-.2.1-.1.2.5.2 0 .2-.7.1.5.2.2.2.1.2-.1.1-.1.2.2.3 0 .2-.2.2-.2.2-.1.1.5.2 0 .2.1.2-.1.1-.3.2.8.2-.1.2 0 .1-.1.2.2.2-.1.2.1.1-.2.2.1.3 0 .2.1.2-.3.2.2.1.2.2-.3.2 0 .2.1.1.3.2 0 .2-.2.2.2.1-.4.2.2.2 0 .1-.2.2-.2.2.5.2-.3.1.1.2-.2.2.4.2-.3.1.3.2-.4.2 0 .2-.1.1.2.2-.4.2.7.1-.2.2-.2.2-.1.2.6.1-.7.2.4.2 0 .2-.1.1.1.2 0 .2-.3.2.4.1-.2.2.4.2-.1.1-.3.2-.1.2.5.2-.1.1-.2.2-.3.2 0 .2.3.1.1.2-.3.2.3.2.2.1-.4.2-.3.2.7.1-.3.2-.3.2.1.2 0 .1-.3.2-.9.2-.6.2 0 .1-1.2.2-.1.2.5.2-1.9.1-.5.2-2.8.2 2 .2-.1.1-.7.2 1.1.2-1.7.1 1.5.2-3.1.2.5.2-1.9.1.9.2 2.1.2-3.9.2-.7.1-1.9.2 3.1.2-3.7.2.1.1 6.6.2-5.1.2 2.5.1-4.9.2-2.8.2.1.2 2.1.1-3.2.2 6.2.2-4.1.2 1.9.1-.3.2.2.2-4.1.2.1.1 1.9.2 2.1.2 3.2.1-5.5.2-1.8.2 2.9.2-2.6.1 2.9.2-1.1.2.2.2-9.1.1 6.1.2-1.2.2.6.2 3.8.1-1.8.2 1.5.2-3.3.1 3.1.2.4.2 3.3.2-.9.1-3.3.2-.3.2-1.9.2 2.5.1 1.9.2-3.7.2 1.7.2-.4.1 1.9.2 1.1.2-1.3.1 1.4.2-9.7.2 5.5.2.6.1 3.2.2-4.7.2-1.1.2-2.2.1 3.8.2 2 .2-1.6.2-5.1.1 3.9.2-.8.2.1.1.5.2 1.3.2 3.7.2-.6.1-6.2.2 1.1.2-2.2.2.7.1 3.3.2 3.3.2-2.2.2-2.5.1 3.1.2-2.4.2-.9.2 7 .1-3.7.2-2.3.2 1.5.1-1.7.2 2.6.2-1.3.2-2.4.1 2.9.2 4 .2-4.4.2-.2.1.5.2-.1.2-.4.2 1 .1-2.6.2 1.1.2-2.5.1 6.1.2-8.1.2 3.7.2-3.8.1 6.1.2-2.8.2 1.8.2-2.6.1.2.2 4 .2-1.4.2 5.1.1-.9.2-2.8.2-1.7.1 1.6.2 2.1.2-3.1.2 2.5.1-1.1.2 3.8.2-2.8.2 2.6.1.1.2 2.4.2 2.3.2 0 .1 3.4.2.9.2 1.7.1 1.6.2.6.2.2.2-.1.1.5.2-.1.2 0 .2-.6.1.5.2.1.2-.1.2 0 .1-.2.2-.1.2.2.1.2.2-.5.2.3.7 0 .2.1.1-.4.2.1.2.3.2.2.1-.1.2-.3.2.2.1.4.2-.4.2.3.2-.9.1 1 .2-.1.2-.1.2-.1.1-.5.2.8.2-.2.2.2.1-.3.2.3.2-.5.2 0 .1-.1.2.6.2-.3.1.3.2-.6.2.4.3 0 .2-.4.2.2.2-.2.1 0 .2-.1.2.4.2.3.1 0 .2-.4.2.1.1.2.2.1.2-.4.2.1.1-.1.2.1.2 0 .2.1.1-.1.4 0 .2.1.1-.3.2.4.2-.4.1.2.2.3.2 0 .2-.5.1.2.2-.1.2-.1.2-1.1.1-.8.2-1.4.2-1.2.2-3.4.1-.7.2.4.2-2.7.1-.2.2.2.2 0 .2-3.3.1 6.2.2-5.2.2-.3.2 3.5.1-4.1.2-4.3.2 3.9.2-7 .1 8 .2-3.4.2-2 .1 0 .2 3.8.2-.3.2-4.3.1 1.6.2-4.5.2 1.2.2 1.3.1 4.1.2-9.2.2 9.4.2 0 .1-5.3.2 4.3.2-6.2.2 3.3.1-3.6.2 3.4.2-3.5.1 1.3.2 4.6.2-1.4.2 1.2.1-6.6.2 1 .2.9.2 1.1.1-2.8.2 6.5.2-3.1.2 1.3.1-2.2.2-1.1.2 4.3.1-.5.2-4.3.2 2.5.2-1.4.1 3.2.2-3.4.2-.3.2 2.8.1-.8.2-7.2.2 5.3.2 5.2.1-5.2.2 6.3.2-12.8.1 3.2.2 3 .2 6.5.2-9.5.1 2 .2-1.5.2 3.8.2-5.2.1-2.3.2 14.2.2-7.8.2-7.3.1 2 .2 1.7.2 2.9.1-9.3.2 9.2.2-3.1.2.3.1-7 .2 2.2.2-.9.2 5.4.1 2.4.2-5.1.2 1.7.2 1.3.1.8.2-1.9.2 1.2.1 4 .2-1.2.2-.8.2 3.6.1 1.5.2-7.4.2 7.7.2.7.1-.6.2 2.9.2 1.1.2-.4.1.6.2 4.7.2 1 .1-.2.2.6.2 2.6.2 1.6.1 1.5.2 1.6.2.3.2.2.1.1.2.2.2-.1.2-.3.1.3.2.5.2-.4.2-.2.1.2.2-.3.2-.2.1.7.2-.5.2.5.2-.2.1.1.2-.5.2 0 .2-.1.1-.1.2.6.2-.1.2.2.3 0 .2-.6.1-.3.2.7.4 0 .1-.7.2.4.2.3.2.1.1-.1.2-.4.2.2.2-.2.1.7.2-.8.2.5.1-.1.2 0 .2-.2.2.1.1-.1.2.4.2-.4.2.7.1-.4.2.4.2-.2.2-.3.1.3.2 0 .2-.1.1-.1.2.3.2 0 .2-.5.1 0 .2.4.2-.3.2 0 .1-.3.2.4.2.6.2-.2.1-.9.2.8.2-.4.1.3.2-.2.2.3.2-.2.1-.3.2.3.2 0 .2-.2.1.2.2.1.2-.2.2.2.1-.1.2-.2.2-.1.2.6.1-.1.2.2.2-.6.1.2.4 0 .2-.2.1.4.2-.5.2-.2.2.4.1.1.2 0 .2.1.2-.3.1.4.2-.5.2.1.1.2.2.1.2-.1.2 0 .1.3.2 0 .2-.1.2-.3.1.3.2-.5.2.3.2-.5.1.7.2-.3.2 0 .1.1.2.2.2.2.2 0 .1-.3.2 0 .2-.2.2-.2.1.4.2.1.2-.1.2.2.1-.2.2 0 .2.1.1-.1.2-.4.2.5.2.1.1-.3.2-.2.2.2.2.1.1-.2.2.2.2.1.2-.4.1.5.2-.2.2.2.1-.3.2-.2.2.5.2-.4.1 0 .2.1.2.2.2 0 .1.1.2.1.2-.3.2.5.1-.9.2.8.2-.4.1 0 .2.3.2-.5.2.1.1.3.2-.2.2 0 .2.1.1-.5.2.4.2-.2.2-.3.1.8.2-.2.2-.3.2-.3.1.8.2-.7.2.9.1-.3.2-.3.2.2.2.1.1-.1.2 0 .2.2.2-.5.1.3.2-.1.2.1.2-.1.1.3.2-.2.2-.1.1.2.2.2.2-.2.2.4.1-.5.2-.1.2.2.2-.5.1.2.2.2.2.1.2.1.1.3.2-.3.2-.2.1.3.2-.2.2 0 .2-.3.1.4.2-.2.2.1.2 0 .1.1.2.1.2.1.2-.1.1-.3.2.3.2-.3.1.2.2 0 .2-.2.2.1.1-.1.2-.2.2.7.2-.4.1 0 .2-.1.2-.4.2.3.1.3.2 0 .2-.3.1.2.2-.1.2 0 .2.3.1-.2.2-.1.2.2.2-.2.1.4.2-.4.2.1.2-.4.1.4.2.1.2.1.2-.3.1.3.2-.3.2.5.1-.6.2.5.2-.3.2-.7.1-1 .2-.1.2-2.5.2-.7.1-.7.2-1.9.2-.9.2-1.1.1.2.2-1 .2-1.3.1-1.6.2 2.6.2-3.6.2.7.1 1.4.2-2.4.2 1.2.2-1.5.1.3.2-2.3.2 1.4.2 2.2.1-1.7.2-5.7.2 2.8.1 5.1.2.7.2-5.9.2-1.9.1 3.1.2 1.6.2-2.1.2-3.8.1 7.3.2-2.9.2-1.5.2-3.6.1 2.5.2-.3.2-.8.1 4.2.2-2 .2-1.3.2-4.6.1 6.1.2-1.8.2 7.5.2-7.3.1 1.6.2-3.3.2 1.7.2-5.4.1 7.1.2 4.2.2-10.5.1 5.4.2-3.9.2 4.7.2-3 .1-2 .2 7.6.2-5.9.2 5.5.1-3.8.2-2 .2 4.7.2.9.1-4.4.2 1.2.2.6.1 1.4.2-3.5.2 1.6.2 1.5.1-1.2.2 1.1.2-.6.2-5.8.1 5.7.2-1.6.2-1.1.2 1.4.1-.8.2-1.7.2 0 .2 7.5.1-3.4.2-.4.2.4.1-2.2.2-2.7.2-1 .2 3.7.1-4 .2 2.6.2 2 .2-3.4.1 2.2.2-4.3.2 4.1.2-.6.1 2.7.2-.2.2 0 .1-4.5.2.1.2.9.2 2.9.1-3.2.2 1.5.2-2.6.2.3.1 5.5.2 3.2.2-3.4.2-6 .1.5.2 2 .2.3.1.2.2 2.3.2.7.2-3.6.1 2.6.2-1.6.2 1.2.2-.5.1 1.5.2 1.4.2-1.5.2-.1.1 7.2.2-4.8.2.9.1.3.2.4.2-1.5.2.5.1 2.5.2-.1.2 4.9.2.4.1.4.2-1 .2 1.6.2 2 .1-.2.2 2.7.2 1.1.1 1.2.2.5.2-.2.2.1.1-.3.2.6.2-.3.2 0 .1-.3.2 0 .2.1.2-.2.1.3.2-.1.2 0 .2.1.1.4.2-.3.3 0 .2-.1.2.2.2.1.1.4.2-.4.2-.4.2.3.1-.1.2.1.2-.6.2.2.1.3.2.2.2-.5.1.4.2-.1.2-.1.2.1.1-.1.2 0 .2.3.2-.2.1.2.2-.2.2-.3.2.7.1-.2.2-.1.2.2.1-1 .2-.9.2-1.5.2-1 .1-1.8.2 0 .2-2.9.2 1.4.1-3.8.4 0 .2-1.9.1-1.1.2.7.2-1.9.1-.8.2 2.1.2-.3.2-2.3.1.4.2 1.1.2-3.5.2 3.9.1 2.6.2-4.1.2-.7.2.9.1-1.9.2-3.8.2-3.8.1 9.7.2-2.5.2-.9.2 3.4.1-7.1.2 6.5.2-2.2.2-1.5.1 5.7.2-2.8.2-1.6.2-4.7.1-1.2.2 6.9.2-.7.1 1.2.2-4 .2.1.2-4.5.1-.5.2 2.2.2 3.4.2.9.1-2 .2-1.6.2 0 .2 5 .1-4.9.2-1.9.2 4.1.2-.6.1-3.4.2 2.5.2-.4.1 6 .2-6.3.2 1.5.2-2.6.1 3.2.2-3.1.2 5.8.2-4.4.1-1.3.2-.4.2-1.1.2-.3.1 3.3.2 4.2.2-4.4.1 1.3.2-.5.2-5.4.2 5 .1 5.8.2-8.8.2-2.6.2 7.3.1-5.2.2 6.9.2-8.7.2 8 .1-.6.2-8.3.2 4.3.1-9.1.2 9.5.2-10.8.2 4.2.1-4.3.2-1.6.2-.4.2-3.6.1-.3.2 4.2.2-5.8.2.3.1 11 .2-.8.2-8.2.1 5.1.2 1.4.2-7.8.2 1.1.1.9.2-.1.2 2 .2 8.4.1-3.6.2 2.6.2 3.6.2-.6.1-2.5.2-8.8.2 17.6.1.1.2-6.6.2 2.2.2 2.4.1 11.8.2-6.3.2-.1.2 3.6.1-5.4.2 5.3.2 1.1.2.5.1.9.2 3 .2.1.1-3.6.2 4.1.2.3.2 1.4.1.4.2 2.8.2-.1.2.7.1 2.1.2-.1.2.3.2-.6.1.3.4 0 .2.2.1-.1.2.3.2-.2.1-.4.2.2.2.2.2-.6.1.5.4 0 .2-.1.1.1.2.3.2.1.2-.6.1.5.2 0 .2-.3.1.5.2-.4.2 0 .2.2.1-.4.2.4.2-.4.2.3.1-1.6.2-1.6.2.9.2-1.9.1-2.4.2-.5.2.4.1-.2.2-3.4.2 1.3.2-1.9.1.1.2 1.9.2-4.6.2 2.2.1-.4.2-.8.2-2.8.2 2.5.1.9.2.4.2-1.7.1 1.3.2-2.9.2 1.5.2-.5.1-1.9.2 3.5.2-2.7.2 1 .1-1.5.2 2.8.2-4.9.2 3.4.1 1.2.2-.2.2-8.1.1 5.1.2 2.4.2.7.2-2.1.1-4.1.2 2.5.2 1.2.2-.6.1-3.5.2 9.2.2-6.8.2-1.1.1-2.2.2 1.8.2 3.2.2-.4.1-.6.2-1.2.2-.2.1-1 .2-4.1.2 4.3.2 2.9.1.3.2 1.3.2.2.2-3.5.1 3.5.2-2.7.2.2.2-.9.1 4.3.2-5 .2-.2.1.7.2 3.7.2-2.8.2 3.4.1 1 .2-5.8.2-.9.2 1.9.1.5.2-1.4.2-.2.2-2.1.1 2 .2-.2.2.2.1-.5.2 4.5.2-4.6.2-.9.1 5.6.2-3.1.2-.2.2-.5.1.5.2-4.1.2 1.1.2 3.2.1-4.6.2 8.6.2-3.3.1-1.9.2-.8.2 1 .2.8.1-2.6.2 2.5.2-5.2.2 1.9.1.3.2.8.2-2.2.2 1.2.1.3.2 3.7.2-7.7.1 8.8.2-5 .2-5.6.2 2.7.1 1.8.2-6 .2 6 .2-.1.1.7.2.9.2-.8.2-3.5.1 2.1.2-2.7.2-.6.1 7.4.2-1.9.2 2.9.2-4.7.1.9.2 3.1.2-.4.2-1.2.1 2.8.2 4.4.2-2.8.2 1.9.1-1.3.2 1.6.2.8.2.1.1.2.2.9.2.6.1 2.9.2 1.7.2-2.7.2 3.5.1.1.2 1 .2 1 .2 1.1.1 1.1.2 1 .2-.8.2.3.1.4.2-.6.2.1.1.1.2-.1.2.3.2-.3.1.7.2-.5.2.3.2.3.1-.7.2.3.2.4.2-.2.1.1.2.1" fill="none" stroke="#000" stroke-width="1.2" stroke-linejoin="round"/>
<line x1="765.4" y1="653.7" x2="765.4" y2="700" stroke="#222" stroke-width="1.2"/>
<line x1="765.4" y1="653.7" x2="767.9" y2="653.7" stroke="#222" stroke-width="1"/>
<line x1="765.4" y1="700" x2="1008" y2="700" stroke="#222" stroke-width="1.2"/>
<line x1="765.4" y1="677.3" x2="767.6" y2="677.3" stroke="#222" stroke-width="0.9"/>
<text transform="translate(761.5 682.5) scale(0.9495 1)" font-size="14.72" text-anchor="end">0.5</text>
<text transform="translate(761.5 705.2) scale(0.9495 1)" font-size="14.72" text-anchor="end">0</text>
<text transform="translate(737.8 577.9) rotate(-90) scale(0.95 1)" font-size="14.7" text-anchor="middle">#5</text>
<text transform="translate(737.8 631.3) rotate(-90) scale(0.95 1)" font-size="14.7" text-anchor="middle">#25</text>
<text transform="translate(737.8 684) rotate(-90) scale(0.95 1)" font-size="14.7" text-anchor="middle">#63</text>
<text transform="translate(722 627.7) rotate(-90) scale(0.95 1)" font-size="14.7" text-anchor="middle">MU</text>
<text transform="translate(765.9 713.3) scale(0.9495 1)" font-size="14.72" text-anchor="middle">0</text>
<text transform="translate(799.7 713.3) scale(0.9495 1)" font-size="14.72" text-anchor="middle">50</text>
<text transform="translate(834.3 713.3) scale(0.9495 1)" font-size="14.72" text-anchor="middle">100</text>
<text transform="translate(869 713.3) scale(0.9495 1)" font-size="14.72" text-anchor="middle">150</text>
<text transform="translate(903.6 713.3) scale(0.9495 1)" font-size="14.72" text-anchor="middle">200</text>
<text transform="translate(938.3 713.3) scale(0.9495 1)" font-size="14.72" text-anchor="middle">250</text>
<text transform="translate(972.9 713.3) scale(0.9495 1)" font-size="14.72" text-anchor="middle">300</text>
<text transform="translate(1006.6 713.3) scale(0.9495 1)" font-size="14.72" text-anchor="middle">350</text>
<text transform="translate(870.6 732.9) scale(0.9495 1)" font-size="14.72">Time (s)</text>
<rect x="931.4" y="535.2" width="99.2" height="100.8" fill="#fff" stroke="#2a2a2a" stroke-width="2.8"/>
<rect x="936.3" y="539.5" width="52.8" height="12.2" fill="#d95319" fill-opacity="0.5" stroke="#333" stroke-width="1" rx="0.6"/>
<text transform="translate(991.3 549.7) scale(0.9495 1)" font-size="14.72">syn 1</text>
<rect x="936.3" y="556.8" width="52.8" height="12.2" fill="#edb120" fill-opacity="0.5" stroke="#333" stroke-width="1" rx="0.6"/>
<text transform="translate(991.3 567) scale(0.9495 1)" font-size="14.72">syn 2</text>
<rect x="936.3" y="572.8" width="52.8" height="12.2" fill="#7e2f8e" fill-opacity="0.5" stroke="#333" stroke-width="1" rx="0.6"/>
<text transform="translate(991.3 583) scale(0.9495 1)" font-size="14.72">syn 3</text>
<rect x="936.3" y="589.1" width="52.8" height="12.2" fill="#77ac30" fill-opacity="0.5" stroke="#333" stroke-width="1" rx="0.6"/>
<text transform="translate(991.3 599.3) scale(0.9495 1)" font-size="14.72">syn 4</text>
<rect x="936.3" y="604.9" width="52.8" height="12.2" fill="#4dbeee" fill-opacity="0.5" stroke="#333" stroke-width="1" rx="0.6"/>
<text transform="translate(991.3 615.1) scale(0.9495 1)" font-size="14.72">syn 5</text>
<rect x="936.3" y="621.2" width="52.8" height="12.2" fill="#a2142f" fill-opacity="0.5" stroke="#333" stroke-width="1" rx="0.6"/>
<text transform="translate(991.3 631.4) scale(0.9495 1)" font-size="14.72">syn 6</text>
</svg></body></html>
